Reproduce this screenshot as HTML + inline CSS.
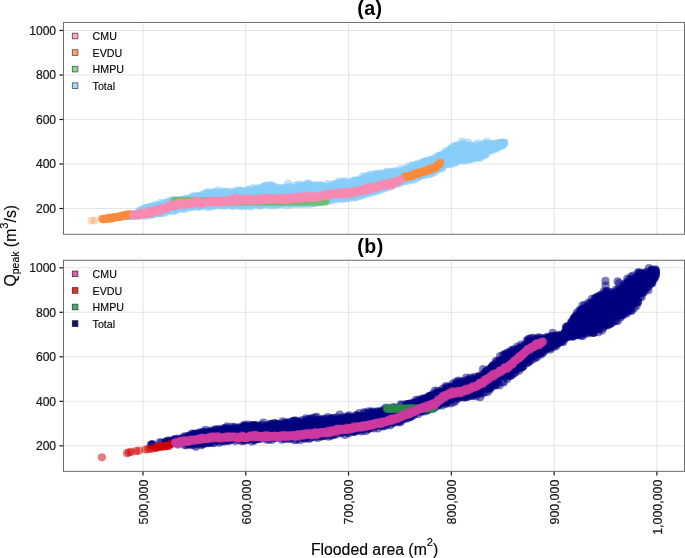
<!DOCTYPE html><html><head><meta charset="utf-8"><style>html,body{margin:0;padding:0;background:#fff}svg{display:block}#pa circle{r:3.95px}#pb circle{r:4.1px}</style></head><body><svg width="685" height="558" viewBox="0 0 685 558" style="will-change:transform" font-family="'Liberation Sans', sans-serif">
<rect width="685" height="558" fill="#fff"/>
<defs><clipPath id="ca"><rect x="63.5" y="22.45" width="621.0" height="211.85000000000002"/></clipPath><clipPath id="cb"><rect x="63.5" y="260.25" width="621.0" height="211.10000000000002"/></clipPath></defs>
<g stroke="#E5E5E5" stroke-width="1.1"><line x1="63.5" x2="684.5" y1="208.50" y2="208.50"/><line x1="63.5" x2="684.5" y1="164.00" y2="164.00"/><line x1="63.5" x2="684.5" y1="119.50" y2="119.50"/><line x1="63.5" x2="684.5" y1="75.00" y2="75.00"/><line x1="63.5" x2="684.5" y1="30.50" y2="30.50"/><line y1="22.45" y2="234.3" x1="143.00" x2="143.00"/><line y1="22.45" y2="234.3" x1="245.78" x2="245.78"/><line y1="22.45" y2="234.3" x1="348.56" x2="348.56"/><line y1="22.45" y2="234.3" x1="451.34" x2="451.34"/><line y1="22.45" y2="234.3" x1="554.12" x2="554.12"/><line y1="22.45" y2="234.3" x1="656.90" x2="656.90"/></g>
<g id="pa" clip-path="url(#ca)"><polygon fill="#87CEFA" points="145.0,206.3 148.0,205.5 151.0,204.6 154.0,203.9 157.0,203.2 160.0,202.6 163.0,202.0 166.0,201.1 169.0,200.2 172.0,199.4 175.0,198.9 178.0,198.5 181.0,198.0 184.0,197.6 187.0,197.2 190.0,196.6 193.0,195.7 196.0,194.9 199.0,194.1 202.0,193.3 205.0,192.5 208.0,191.8 211.0,191.3 214.0,190.8 217.0,190.7 220.0,190.7 223.0,190.7 226.0,190.9 229.0,191.2 232.0,190.9 235.0,190.3 238.0,189.7 241.0,189.3 244.0,189.1 247.0,188.9 250.0,188.6 253.0,188.4 256.0,188.1 259.0,187.3 262.0,186.5 265.0,185.7 268.0,185.6 271.0,185.4 274.0,185.3 277.0,185.2 280.0,186.3 283.0,187.2 286.0,186.9 289.0,186.5 292.0,186.2 295.0,185.9 298.0,185.6 301.0,185.2 304.0,184.6 307.0,184.0 310.0,183.8 313.0,184.1 316.0,184.5 319.0,184.6 322.0,184.5 325.0,184.5 328.0,184.1 331.0,183.5 334.0,182.9 337.0,181.7 340.0,180.3 343.0,180.6 346.0,181.3 349.0,181.9 352.0,180.9 355.0,179.9 358.0,178.9 361.0,177.8 364.0,176.6 367.0,175.6 370.0,175.0 373.0,174.3 376.0,173.7 379.0,173.0 382.0,172.4 385.0,171.8 388.0,171.4 391.0,171.0 394.0,170.5 397.0,169.9 400.0,169.2 403.0,168.2 406.0,167.1 409.0,165.9 412.0,164.7 415.0,163.6 418.0,162.4 421.0,161.5 424.0,160.6 427.0,159.6 430.0,158.5 433.0,157.3 436.0,156.1 439.0,154.7 442.0,153.2 445.0,151.8 448.0,149.8 451.0,147.9 454.0,146.1 457.0,144.4 460.0,142.8 463.0,142.0 466.0,143.2 469.0,144.3 472.0,144.6 475.0,144.4 478.0,143.6 481.0,142.7 484.0,141.4 487.0,141.5 490.0,142.1 493.0,142.0 496.0,141.4 496.0,149.7 493.0,151.1 490.0,152.3 487.0,153.7 484.0,155.5 481.0,157.5 478.0,158.1 475.0,158.7 472.0,159.2 469.0,159.7 466.0,159.9 463.0,159.7 460.0,159.9 457.0,160.9 454.0,162.2 451.0,163.4 448.0,164.7 445.0,165.9 442.0,167.7 439.0,169.5 436.0,171.3 433.0,172.5 430.0,173.7 427.0,174.8 424.0,175.7 421.0,176.6 418.0,177.5 415.0,178.4 412.0,179.4 409.0,180.3 406.0,181.2 403.0,182.2 400.0,183.2 397.0,184.3 394.0,185.4 391.0,186.4 388.0,187.2 385.0,188.1 382.0,188.9 379.0,189.8 376.0,190.6 373.0,191.5 370.0,192.3 367.0,193.2 364.0,194.1 361.0,195.1 358.0,196.0 355.0,196.7 352.0,197.4 349.0,198.0 346.0,198.2 343.0,198.3 340.0,198.6 337.0,199.2 334.0,199.9 331.0,200.5 328.0,201.0 325.0,201.4 322.0,201.8 319.0,202.1 316.0,202.3 313.0,202.4 310.0,202.5 307.0,202.6 304.0,202.9 301.0,203.1 298.0,203.3 295.0,203.5 292.0,203.6 289.0,203.8 286.0,204.0 283.0,204.2 280.0,204.1 277.0,204.1 274.0,204.2 271.0,204.3 268.0,204.5 265.0,204.6 262.0,204.8 259.0,205.1 256.0,205.3 253.0,205.4 250.0,205.5 247.0,205.6 244.0,205.6 241.0,205.5 238.0,205.5 235.0,205.5 232.0,205.5 229.0,205.7 226.0,206.1 223.0,206.4 220.0,206.1 217.0,205.9 214.0,205.8 211.0,205.9 208.0,206.0 205.0,206.2 202.0,206.6 199.0,207.0 196.0,207.3 193.0,207.7 190.0,208.1 187.0,208.6 184.0,209.1 181.0,209.7 178.0,210.1 175.0,210.5 172.0,210.8 169.0,211.6 166.0,212.5 163.0,213.4 160.0,214.0 157.0,214.6 154.0,215.2 151.0,215.6 148.0,216.0 145.0,216.3"/>
<g fill="#87CEFA" fill-opacity="0.5"><circle cx="294.9" cy="199.9" r="3.95"/><circle cx="316.1" cy="190.6" r="3.95"/><circle cx="192.6" cy="198.3" r="3.95"/><circle cx="158.0" cy="205.3" r="3.95"/><circle cx="156.7" cy="208.7" r="3.95"/><circle cx="497.5" cy="144.6" r="3.95"/><circle cx="372.0" cy="183.6" r="3.95"/><circle cx="324.0" cy="193.7" r="3.95"/><circle cx="194.7" cy="204.7" r="3.95"/><circle cx="290.4" cy="196.1" r="3.95"/><circle cx="320.5" cy="185.6" r="3.95"/><circle cx="296.8" cy="194.6" r="3.95"/><circle cx="503.4" cy="143.5" r="3.95"/><circle cx="242.5" cy="191.1" r="3.95"/><circle cx="232.5" cy="198.6" r="3.95"/><circle cx="445.6" cy="153.9" r="3.95"/><circle cx="488.3" cy="149.4" r="3.95"/><circle cx="470.0" cy="152.0" r="3.95"/><circle cx="496.8" cy="147.1" r="3.95"/><circle cx="419.6" cy="172.1" r="3.95"/><circle cx="167.1" cy="205.5" r="3.95"/><circle cx="160.6" cy="208.7" r="3.95"/><circle cx="335.8" cy="187.8" r="3.95"/><circle cx="194.9" cy="204.3" r="3.95"/><circle cx="166.5" cy="209.4" r="3.95"/><circle cx="238.3" cy="196.1" r="3.95"/><circle cx="202.6" cy="202.9" r="3.95"/><circle cx="160.4" cy="205.3" r="3.95"/><circle cx="203.5" cy="200.1" r="3.95"/><circle cx="235.3" cy="194.0" r="3.95"/><circle cx="156.5" cy="209.2" r="3.95"/><circle cx="264.1" cy="203.2" r="3.95"/><circle cx="191.9" cy="199.4" r="3.95"/><circle cx="469.3" cy="152.0" r="3.95"/><circle cx="404.7" cy="177.1" r="3.95"/><circle cx="197.2" cy="204.1" r="3.95"/><circle cx="283.1" cy="191.1" r="3.95"/><circle cx="213.1" cy="198.1" r="3.95"/><circle cx="189.1" cy="204.2" r="3.95"/><circle cx="335.8" cy="192.5" r="3.95"/><circle cx="356.8" cy="190.8" r="3.95"/><circle cx="128.3" cy="215.6" r="3.95"/><circle cx="292.4" cy="197.1" r="3.95"/><circle cx="340.7" cy="194.1" r="3.95"/><circle cx="260.4" cy="203.9" r="3.95"/><circle cx="386.3" cy="178.9" r="3.95"/><circle cx="390.0" cy="180.0" r="3.95"/><circle cx="306.4" cy="184.2" r="3.95"/><circle cx="403.8" cy="174.5" r="3.95"/><circle cx="425.3" cy="161.1" r="3.95"/><circle cx="281.5" cy="189.4" r="3.95"/><circle cx="452.1" cy="151.4" r="3.95"/><circle cx="344.8" cy="186.1" r="3.95"/><circle cx="400.4" cy="175.7" r="3.95"/><circle cx="154.0" cy="211.3" r="3.95"/><circle cx="305.9" cy="191.4" r="3.95"/><circle cx="356.9" cy="182.2" r="3.95"/><circle cx="219.8" cy="196.3" r="3.95"/><circle cx="199.4" cy="205.2" r="3.95"/><circle cx="247.0" cy="201.0" r="3.95"/><circle cx="197.9" cy="203.2" r="3.95"/><circle cx="344.9" cy="193.6" r="3.95"/><circle cx="442.0" cy="164.5" r="3.95"/><circle cx="393.9" cy="177.6" r="3.95"/><circle cx="294.3" cy="197.9" r="3.95"/><circle cx="203.8" cy="196.6" r="3.95"/><circle cx="242.6" cy="193.4" r="3.95"/><circle cx="497.4" cy="145.3" r="3.95"/><circle cx="455.7" cy="153.9" r="3.95"/><circle cx="392.9" cy="175.6" r="3.95"/><circle cx="295.9" cy="196.5" r="3.95"/><circle cx="175.9" cy="202.8" r="3.95"/><circle cx="362.5" cy="180.7" r="3.95"/><circle cx="430.7" cy="161.3" r="3.95"/><circle cx="383.7" cy="177.2" r="3.95"/><circle cx="395.0" cy="178.1" r="3.95"/><circle cx="226.1" cy="196.8" r="3.95"/><circle cx="356.9" cy="182.0" r="3.95"/><circle cx="272.4" cy="196.9" r="3.95"/><circle cx="478.5" cy="149.6" r="3.95"/><circle cx="171.7" cy="201.1" r="3.95"/><circle cx="266.1" cy="185.9" r="3.95"/><circle cx="458.2" cy="158.0" r="3.95"/><circle cx="371.0" cy="181.4" r="3.95"/><circle cx="398.0" cy="172.9" r="3.95"/><circle cx="203.5" cy="195.2" r="3.95"/><circle cx="244.5" cy="195.4" r="3.95"/><circle cx="449.2" cy="161.3" r="3.95"/><circle cx="332.4" cy="194.4" r="3.95"/><circle cx="308.4" cy="193.9" r="3.95"/><circle cx="427.8" cy="165.5" r="3.95"/><circle cx="250.1" cy="198.9" r="3.95"/><circle cx="319.5" cy="195.6" r="3.95"/><circle cx="443.1" cy="164.8" r="3.95"/><circle cx="484.9" cy="146.4" r="3.95"/><circle cx="206.6" cy="197.5" r="3.95"/><circle cx="366.2" cy="192.9" r="3.95"/><circle cx="444.5" cy="157.4" r="3.95"/><circle cx="445.1" cy="162.8" r="3.95"/><circle cx="201.6" cy="204.1" r="3.95"/><circle cx="341.1" cy="188.0" r="3.95"/><circle cx="326.9" cy="191.8" r="3.95"/><circle cx="492.6" cy="146.4" r="3.95"/><circle cx="275.1" cy="188.4" r="3.95"/><circle cx="386.2" cy="177.6" r="3.95"/><circle cx="224.9" cy="195.9" r="3.95"/><circle cx="170.5" cy="207.7" r="3.95"/><circle cx="195.2" cy="202.7" r="3.95"/><circle cx="419.9" cy="168.3" r="3.95"/><circle cx="196.2" cy="200.0" r="3.95"/><circle cx="257.8" cy="192.1" r="3.95"/><circle cx="162.1" cy="210.2" r="3.95"/><circle cx="217.8" cy="201.9" r="3.95"/><circle cx="324.8" cy="189.3" r="3.95"/><circle cx="324.4" cy="196.7" r="3.95"/><circle cx="200.1" cy="197.7" r="3.95"/><circle cx="447.4" cy="153.1" r="3.95"/><circle cx="449.5" cy="155.9" r="3.95"/><circle cx="242.4" cy="200.8" r="3.95"/><circle cx="213.5" cy="198.2" r="3.95"/><circle cx="440.1" cy="163.6" r="3.95"/><circle cx="424.0" cy="162.8" r="3.95"/><circle cx="128.8" cy="215.9" r="3.95"/><circle cx="382.9" cy="182.8" r="3.95"/><circle cx="315.3" cy="192.8" r="3.95"/><circle cx="314.2" cy="194.1" r="3.95"/><circle cx="162.6" cy="208.7" r="3.95"/><circle cx="332.9" cy="189.0" r="3.95"/><circle cx="192.5" cy="201.1" r="3.95"/><circle cx="443.2" cy="161.6" r="3.95"/><circle cx="145.7" cy="210.7" r="3.95"/><circle cx="298.6" cy="191.6" r="3.95"/><circle cx="319.0" cy="198.6" r="3.95"/><circle cx="351.7" cy="186.4" r="3.95"/><circle cx="404.6" cy="175.4" r="3.95"/><circle cx="318.0" cy="196.4" r="3.95"/><circle cx="463.5" cy="147.5" r="3.95"/><circle cx="220.7" cy="197.6" r="3.95"/><circle cx="406.6" cy="175.5" r="3.95"/><circle cx="464.7" cy="145.7" r="3.95"/><circle cx="387.6" cy="179.9" r="3.95"/><circle cx="398.3" cy="172.8" r="3.95"/><circle cx="252.6" cy="201.6" r="3.95"/><circle cx="366.2" cy="184.9" r="3.95"/><circle cx="210.7" cy="196.8" r="3.95"/><circle cx="374.2" cy="178.6" r="3.95"/><circle cx="325.8" cy="200.0" r="3.95"/><circle cx="390.1" cy="178.9" r="3.95"/><circle cx="496.7" cy="143.5" r="3.95"/><circle cx="220.1" cy="193.7" r="3.95"/><circle cx="141.3" cy="212.0" r="3.95"/><circle cx="217.9" cy="199.7" r="3.95"/><circle cx="332.3" cy="198.2" r="3.95"/><circle cx="502.4" cy="143.2" r="3.95"/><circle cx="431.5" cy="159.6" r="3.95"/><circle cx="183.1" cy="200.9" r="3.95"/><circle cx="186.7" cy="202.2" r="3.95"/><circle cx="483.4" cy="147.8" r="3.95"/><circle cx="323.4" cy="190.3" r="3.95"/><circle cx="372.4" cy="186.2" r="3.95"/><circle cx="230.4" cy="198.2" r="3.95"/><circle cx="215.7" cy="198.9" r="3.95"/><circle cx="408.1" cy="178.7" r="3.95"/><circle cx="286.2" cy="200.4" r="3.95"/><circle cx="398.3" cy="175.4" r="3.95"/><circle cx="496.2" cy="144.9" r="3.95"/><circle cx="360.6" cy="185.0" r="3.95"/><circle cx="199.9" cy="198.7" r="3.95"/><circle cx="291.3" cy="194.5" r="3.95"/><circle cx="296.2" cy="189.8" r="3.95"/><circle cx="419.4" cy="167.3" r="3.95"/><circle cx="503.4" cy="143.2" r="3.95"/><circle cx="165.5" cy="205.0" r="3.95"/><circle cx="421.8" cy="166.6" r="3.95"/><circle cx="383.9" cy="183.1" r="3.95"/><circle cx="348.2" cy="190.0" r="3.95"/><circle cx="217.2" cy="195.5" r="3.95"/><circle cx="472.1" cy="153.5" r="3.95"/><circle cx="225.6" cy="198.9" r="3.95"/><circle cx="360.3" cy="184.7" r="3.95"/><circle cx="155.0" cy="209.0" r="3.95"/><circle cx="332.5" cy="187.7" r="3.95"/><circle cx="202.5" cy="202.7" r="3.95"/><circle cx="406.7" cy="175.6" r="3.95"/><circle cx="431.4" cy="166.5" r="3.95"/><circle cx="415.9" cy="167.9" r="3.95"/><circle cx="431.6" cy="167.0" r="3.95"/><circle cx="371.9" cy="180.2" r="3.95"/><circle cx="407.2" cy="178.1" r="3.95"/><circle cx="152.0" cy="212.8" r="3.95"/><circle cx="337.7" cy="188.5" r="3.95"/><circle cx="418.5" cy="166.5" r="3.95"/><circle cx="203.5" cy="202.3" r="3.95"/><circle cx="399.2" cy="178.0" r="3.95"/><circle cx="230.2" cy="194.5" r="3.95"/><circle cx="262.1" cy="202.7" r="3.95"/><circle cx="471.2" cy="146.4" r="3.95"/><circle cx="429.0" cy="164.7" r="3.95"/><circle cx="479.3" cy="154.8" r="3.95"/><circle cx="216.9" cy="195.6" r="3.95"/><circle cx="273.2" cy="199.0" r="3.95"/><circle cx="196.5" cy="202.1" r="3.95"/><circle cx="441.7" cy="155.1" r="3.95"/><circle cx="189.5" cy="204.0" r="3.95"/><circle cx="330.0" cy="189.4" r="3.95"/><circle cx="491.5" cy="147.3" r="3.95"/><circle cx="331.0" cy="190.3" r="3.95"/><circle cx="154.1" cy="209.0" r="3.95"/><circle cx="177.0" cy="203.2" r="3.95"/><circle cx="206.3" cy="196.8" r="3.95"/><circle cx="321.4" cy="189.5" r="3.95"/><circle cx="492.2" cy="147.9" r="3.95"/><circle cx="310.7" cy="191.5" r="3.95"/><circle cx="437.9" cy="167.3" r="3.95"/><circle cx="428.7" cy="165.6" r="3.95"/><circle cx="282.7" cy="194.9" r="3.95"/><circle cx="200.1" cy="198.0" r="3.95"/><circle cx="165.9" cy="207.1" r="3.95"/><circle cx="145.8" cy="209.8" r="3.95"/><circle cx="345.3" cy="192.1" r="3.95"/><circle cx="192.5" cy="202.1" r="3.95"/><circle cx="212.0" cy="196.1" r="3.95"/><circle cx="192.7" cy="200.6" r="3.95"/><circle cx="188.0" cy="201.4" r="3.95"/><circle cx="434.4" cy="169.3" r="3.95"/><circle cx="221.6" cy="202.0" r="3.95"/><circle cx="331.3" cy="189.6" r="3.95"/><circle cx="428.4" cy="169.9" r="3.95"/><circle cx="323.7" cy="190.7" r="3.95"/><circle cx="264.0" cy="193.5" r="3.95"/><circle cx="182.1" cy="200.0" r="3.95"/><circle cx="245.0" cy="201.3" r="3.95"/><circle cx="365.5" cy="180.1" r="3.95"/><circle cx="223.9" cy="203.1" r="3.95"/><circle cx="153.5" cy="209.4" r="3.95"/><circle cx="305.5" cy="191.0" r="3.95"/><circle cx="487.3" cy="149.4" r="3.95"/><circle cx="423.8" cy="165.4" r="3.95"/><circle cx="472.5" cy="153.4" r="3.95"/><circle cx="329.7" cy="189.2" r="3.95"/><circle cx="182.2" cy="202.8" r="3.95"/><circle cx="151.1" cy="212.0" r="3.95"/><circle cx="300.6" cy="189.0" r="3.95"/><circle cx="162.4" cy="210.9" r="3.95"/><circle cx="298.5" cy="198.2" r="3.95"/><circle cx="126.7" cy="215.6" r="3.95"/><circle cx="393.4" cy="173.9" r="3.95"/><circle cx="427.6" cy="165.2" r="3.95"/><circle cx="357.5" cy="183.1" r="3.95"/><circle cx="236.0" cy="201.6" r="3.95"/><circle cx="271.9" cy="194.7" r="3.95"/><circle cx="401.6" cy="178.2" r="3.95"/><circle cx="483.3" cy="148.2" r="3.95"/><circle cx="438.1" cy="158.9" r="3.95"/><circle cx="175.8" cy="202.7" r="3.95"/><circle cx="190.8" cy="198.3" r="3.95"/><circle cx="442.0" cy="163.2" r="3.95"/><circle cx="182.1" cy="204.8" r="3.95"/><circle cx="277.5" cy="200.1" r="3.95"/><circle cx="317.6" cy="190.8" r="3.95"/><circle cx="415.2" cy="168.2" r="3.95"/><circle cx="279.6" cy="198.3" r="3.95"/><circle cx="374.4" cy="181.5" r="3.95"/><circle cx="129.1" cy="215.3" r="3.95"/><circle cx="162.6" cy="211.0" r="3.95"/><circle cx="316.7" cy="196.8" r="3.95"/><circle cx="182.5" cy="200.3" r="3.95"/><circle cx="467.2" cy="147.9" r="3.95"/><circle cx="176.2" cy="207.1" r="3.95"/><circle cx="499.2" cy="143.8" r="3.95"/><circle cx="361.7" cy="189.5" r="3.95"/><circle cx="342.4" cy="191.5" r="3.95"/><circle cx="247.8" cy="193.7" r="3.95"/><circle cx="169.4" cy="208.0" r="3.95"/><circle cx="173.8" cy="201.6" r="3.95"/><circle cx="336.2" cy="189.0" r="3.95"/><circle cx="469.6" cy="154.8" r="3.95"/><circle cx="168.9" cy="202.7" r="3.95"/><circle cx="232.3" cy="198.5" r="3.95"/><circle cx="439.6" cy="167.1" r="3.95"/><circle cx="331.4" cy="195.0" r="3.95"/><circle cx="499.3" cy="144.4" r="3.95"/><circle cx="373.7" cy="178.8" r="3.95"/><circle cx="267.9" cy="186.6" r="3.95"/><circle cx="429.3" cy="167.9" r="3.95"/><circle cx="176.7" cy="207.4" r="3.95"/><circle cx="339.7" cy="185.2" r="3.95"/><circle cx="339.2" cy="189.2" r="3.95"/><circle cx="367.3" cy="182.9" r="3.95"/><circle cx="488.8" cy="145.9" r="3.95"/><circle cx="301.6" cy="188.1" r="3.95"/><circle cx="411.8" cy="167.8" r="3.95"/><circle cx="307.7" cy="199.2" r="3.95"/><circle cx="338.4" cy="183.5" r="3.95"/><circle cx="287.2" cy="194.3" r="3.95"/><circle cx="244.6" cy="195.7" r="3.95"/><circle cx="409.4" cy="171.7" r="3.95"/><circle cx="169.6" cy="205.2" r="3.95"/><circle cx="314.2" cy="201.4" r="3.95"/><circle cx="323.2" cy="195.6" r="3.95"/><circle cx="239.1" cy="197.6" r="3.95"/><circle cx="470.4" cy="153.8" r="3.95"/><circle cx="376.5" cy="174.0" r="3.95"/><circle cx="206.8" cy="202.2" r="3.95"/><circle cx="338.7" cy="197.8" r="3.95"/><circle cx="169.3" cy="208.5" r="3.95"/><circle cx="485.6" cy="148.0" r="3.95"/><circle cx="246.2" cy="201.4" r="3.95"/><circle cx="464.2" cy="146.6" r="3.95"/><circle cx="345.8" cy="192.6" r="3.95"/><circle cx="302.7" cy="187.8" r="3.95"/><circle cx="234.9" cy="200.2" r="3.95"/><circle cx="442.3" cy="158.4" r="3.95"/><circle cx="195.2" cy="202.6" r="3.95"/><circle cx="399.5" cy="176.9" r="3.95"/><circle cx="466.2" cy="150.9" r="3.95"/><circle cx="388.1" cy="177.0" r="3.95"/><circle cx="292.2" cy="195.7" r="3.95"/><circle cx="393.6" cy="181.6" r="3.95"/><circle cx="191.2" cy="199.6" r="3.95"/><circle cx="264.4" cy="186.4" r="3.95"/><circle cx="460.1" cy="152.0" r="3.95"/><circle cx="476.3" cy="155.1" r="3.95"/><circle cx="290.3" cy="203.0" r="3.95"/><circle cx="324.9" cy="189.6" r="3.95"/><circle cx="217.9" cy="196.3" r="3.95"/><circle cx="155.3" cy="209.3" r="3.95"/><circle cx="228.7" cy="195.4" r="3.95"/><circle cx="193.2" cy="202.4" r="3.95"/><circle cx="298.5" cy="194.3" r="3.95"/><circle cx="269.1" cy="191.3" r="3.95"/><circle cx="334.6" cy="191.3" r="3.95"/><circle cx="259.5" cy="197.4" r="3.95"/><circle cx="315.3" cy="186.9" r="3.95"/><circle cx="383.6" cy="183.1" r="3.95"/><circle cx="420.1" cy="168.5" r="3.95"/><circle cx="354.5" cy="180.5" r="3.95"/><circle cx="422.7" cy="171.2" r="3.95"/><circle cx="212.2" cy="199.4" r="3.95"/><circle cx="312.8" cy="200.5" r="3.95"/><circle cx="190.8" cy="199.7" r="3.95"/><circle cx="288.2" cy="194.5" r="3.95"/><circle cx="339.5" cy="190.7" r="3.95"/><circle cx="177.9" cy="202.4" r="3.95"/><circle cx="138.2" cy="212.3" r="3.95"/><circle cx="223.2" cy="194.8" r="3.95"/><circle cx="155.8" cy="210.1" r="3.95"/><circle cx="183.1" cy="205.4" r="3.95"/><circle cx="439.7" cy="165.6" r="3.95"/><circle cx="261.3" cy="197.9" r="3.95"/><circle cx="499.0" cy="144.5" r="3.95"/><circle cx="296.1" cy="198.4" r="3.95"/><circle cx="462.3" cy="152.0" r="3.95"/><circle cx="272.2" cy="192.8" r="3.95"/><circle cx="413.8" cy="172.2" r="3.95"/><circle cx="209.9" cy="195.9" r="3.95"/><circle cx="298.5" cy="193.1" r="3.95"/><circle cx="261.2" cy="203.4" r="3.95"/><circle cx="137.2" cy="213.6" r="3.95"/><circle cx="370.4" cy="179.1" r="3.95"/><circle cx="452.5" cy="161.7" r="3.95"/><circle cx="267.7" cy="202.1" r="3.95"/><circle cx="204.3" cy="201.3" r="3.95"/><circle cx="184.6" cy="206.4" r="3.95"/><circle cx="204.0" cy="198.1" r="3.95"/><circle cx="501.7" cy="144.4" r="3.95"/><circle cx="451.8" cy="153.7" r="3.95"/><circle cx="386.3" cy="180.9" r="3.95"/><circle cx="226.9" cy="199.9" r="3.95"/><circle cx="272.2" cy="199.0" r="3.95"/><circle cx="395.4" cy="176.0" r="3.95"/><circle cx="480.1" cy="152.4" r="3.95"/><circle cx="414.7" cy="171.8" r="3.95"/><circle cx="245.1" cy="196.8" r="3.95"/><circle cx="153.8" cy="207.5" r="3.95"/><circle cx="320.5" cy="201.2" r="3.95"/><circle cx="272.6" cy="198.1" r="3.95"/><circle cx="349.6" cy="190.5" r="3.95"/><circle cx="241.4" cy="195.0" r="3.95"/><circle cx="392.1" cy="177.9" r="3.95"/><circle cx="399.4" cy="177.9" r="3.95"/><circle cx="229.2" cy="200.6" r="3.95"/><circle cx="276.9" cy="197.4" r="3.95"/><circle cx="233.7" cy="195.8" r="3.95"/><circle cx="204.5" cy="204.5" r="3.95"/><circle cx="338.4" cy="191.2" r="3.95"/><circle cx="495.0" cy="144.1" r="3.95"/><circle cx="376.8" cy="184.4" r="3.95"/><circle cx="363.8" cy="182.6" r="3.95"/><circle cx="285.5" cy="200.1" r="3.95"/><circle cx="247.5" cy="199.0" r="3.95"/><circle cx="229.0" cy="194.7" r="3.95"/><circle cx="185.7" cy="204.8" r="3.95"/><circle cx="213.7" cy="196.0" r="3.95"/><circle cx="179.6" cy="206.5" r="3.95"/><circle cx="390.1" cy="178.6" r="3.95"/><circle cx="271.6" cy="193.7" r="3.95"/><circle cx="146.1" cy="213.4" r="3.95"/><circle cx="346.0" cy="191.7" r="3.95"/><circle cx="246.5" cy="201.8" r="3.95"/><circle cx="462.9" cy="151.7" r="3.95"/><circle cx="222.1" cy="200.5" r="3.95"/><circle cx="357.2" cy="193.0" r="3.95"/><circle cx="260.6" cy="204.8" r="3.95"/><circle cx="361.8" cy="183.0" r="3.95"/><circle cx="279.1" cy="193.3" r="3.95"/><circle cx="469.7" cy="155.9" r="3.95"/><circle cx="240.0" cy="201.6" r="3.95"/><circle cx="495.5" cy="146.1" r="3.95"/><circle cx="382.0" cy="183.9" r="3.95"/><circle cx="272.6" cy="186.3" r="3.95"/><circle cx="331.6" cy="192.2" r="3.95"/><circle cx="336.4" cy="195.3" r="3.95"/><circle cx="254.5" cy="195.9" r="3.95"/><circle cx="241.8" cy="195.0" r="3.95"/><circle cx="183.0" cy="200.0" r="3.95"/><circle cx="263.3" cy="195.9" r="3.95"/><circle cx="408.3" cy="173.6" r="3.95"/><circle cx="246.2" cy="201.0" r="3.95"/><circle cx="318.4" cy="195.2" r="3.95"/><circle cx="161.1" cy="208.5" r="3.95"/><circle cx="165.1" cy="207.5" r="3.95"/><circle cx="184.2" cy="200.3" r="3.95"/><circle cx="454.5" cy="153.7" r="3.95"/><circle cx="426.5" cy="172.5" r="3.95"/><circle cx="395.7" cy="176.7" r="3.95"/><circle cx="249.6" cy="192.8" r="3.95"/><circle cx="444.2" cy="155.0" r="3.95"/><circle cx="392.3" cy="176.6" r="3.95"/><circle cx="439.7" cy="164.5" r="3.95"/><circle cx="377.9" cy="185.1" r="3.95"/><circle cx="493.0" cy="144.2" r="3.95"/><circle cx="384.9" cy="176.8" r="3.95"/><circle cx="478.8" cy="147.2" r="3.95"/><circle cx="140.6" cy="213.1" r="3.95"/><circle cx="231.4" cy="199.1" r="3.95"/><circle cx="501.9" cy="143.4" r="3.95"/><circle cx="329.4" cy="193.3" r="3.95"/><circle cx="264.8" cy="198.7" r="3.95"/><circle cx="358.2" cy="192.4" r="3.95"/><circle cx="387.3" cy="178.9" r="3.95"/><circle cx="427.9" cy="167.9" r="3.95"/><circle cx="478.9" cy="152.6" r="3.95"/><circle cx="308.7" cy="192.6" r="3.95"/><circle cx="338.4" cy="191.0" r="3.95"/><circle cx="361.0" cy="187.2" r="3.95"/><circle cx="261.9" cy="202.1" r="3.95"/><circle cx="141.6" cy="213.6" r="3.95"/><circle cx="152.0" cy="208.6" r="3.95"/><circle cx="306.8" cy="196.8" r="3.95"/><circle cx="430.5" cy="170.9" r="3.95"/><circle cx="373.1" cy="185.2" r="3.95"/><circle cx="399.2" cy="178.7" r="3.95"/><circle cx="167.4" cy="206.6" r="3.95"/><circle cx="259.2" cy="193.8" r="3.95"/><circle cx="126.0" cy="216.1" r="3.95"/><circle cx="424.9" cy="166.5" r="3.95"/><circle cx="274.6" cy="199.4" r="3.95"/><circle cx="485.3" cy="147.1" r="3.95"/><circle cx="469.8" cy="148.4" r="3.95"/><circle cx="342.5" cy="185.5" r="3.95"/><circle cx="373.2" cy="186.0" r="3.95"/><circle cx="261.4" cy="193.0" r="3.95"/><circle cx="468.0" cy="155.3" r="3.95"/><circle cx="158.0" cy="208.6" r="3.95"/><circle cx="406.1" cy="171.5" r="3.95"/><circle cx="382.0" cy="182.8" r="3.95"/><circle cx="255.9" cy="198.4" r="3.95"/><circle cx="200.3" cy="198.4" r="3.95"/><circle cx="206.0" cy="198.5" r="3.95"/><circle cx="226.5" cy="196.0" r="3.95"/><circle cx="484.3" cy="150.0" r="3.95"/><circle cx="500.3" cy="144.9" r="3.95"/><circle cx="364.7" cy="182.9" r="3.95"/><circle cx="357.6" cy="184.9" r="3.95"/><circle cx="449.4" cy="150.1" r="3.95"/><circle cx="165.6" cy="206.8" r="3.95"/><circle cx="385.7" cy="177.3" r="3.95"/><circle cx="269.0" cy="189.7" r="3.95"/><circle cx="351.6" cy="188.0" r="3.95"/><circle cx="361.8" cy="186.0" r="3.95"/><circle cx="348.8" cy="192.4" r="3.95"/><circle cx="301.2" cy="192.8" r="3.95"/><circle cx="404.1" cy="173.9" r="3.95"/><circle cx="170.4" cy="203.5" r="3.95"/><circle cx="443.2" cy="159.9" r="3.95"/><circle cx="480.5" cy="151.9" r="3.95"/><circle cx="501.9" cy="142.4" r="3.95"/><circle cx="454.6" cy="153.8" r="3.95"/><circle cx="452.9" cy="153.3" r="3.95"/><circle cx="150.1" cy="213.6" r="3.95"/><circle cx="422.9" cy="168.9" r="3.95"/><circle cx="332.0" cy="192.7" r="3.95"/><circle cx="261.9" cy="192.6" r="3.95"/><circle cx="136.1" cy="215.6" r="3.95"/><circle cx="166.9" cy="202.8" r="3.95"/><circle cx="270.6" cy="185.5" r="3.95"/><circle cx="149.5" cy="207.0" r="3.95"/><circle cx="201.0" cy="204.0" r="3.95"/><circle cx="197.3" cy="197.3" r="3.95"/><circle cx="286.7" cy="193.0" r="3.95"/><circle cx="362.7" cy="189.7" r="3.95"/><circle cx="352.6" cy="190.1" r="3.95"/><circle cx="387.2" cy="181.7" r="3.95"/><circle cx="171.4" cy="208.6" r="3.95"/><circle cx="258.7" cy="193.6" r="3.95"/><circle cx="502.3" cy="143.4" r="3.95"/><circle cx="240.6" cy="193.0" r="3.95"/><circle cx="278.4" cy="199.7" r="3.95"/><circle cx="315.6" cy="188.5" r="3.95"/><circle cx="211.9" cy="203.7" r="3.95"/><circle cx="230.9" cy="196.5" r="3.95"/><circle cx="478.9" cy="150.3" r="3.95"/><circle cx="293.4" cy="187.7" r="3.95"/><circle cx="234.0" cy="201.8" r="3.95"/><circle cx="378.9" cy="179.2" r="3.95"/><circle cx="464.3" cy="152.9" r="3.95"/><circle cx="282.8" cy="199.9" r="3.95"/><circle cx="160.0" cy="210.4" r="3.95"/><circle cx="265.2" cy="198.1" r="3.95"/><circle cx="301.4" cy="186.2" r="3.95"/><circle cx="299.7" cy="190.8" r="3.95"/><circle cx="493.0" cy="144.2" r="3.95"/><circle cx="501.5" cy="144.2" r="3.95"/><circle cx="390.0" cy="173.3" r="3.95"/><circle cx="147.4" cy="208.2" r="3.95"/><circle cx="205.4" cy="202.4" r="3.95"/><circle cx="202.1" cy="202.1" r="3.95"/><circle cx="405.6" cy="177.3" r="3.95"/><circle cx="185.8" cy="199.9" r="3.95"/><circle cx="218.9" cy="193.4" r="3.95"/><circle cx="401.4" cy="178.8" r="3.95"/><circle cx="483.1" cy="152.4" r="3.95"/><circle cx="131.2" cy="214.7" r="3.95"/><circle cx="164.5" cy="206.5" r="3.95"/><circle cx="237.3" cy="201.8" r="3.95"/><circle cx="171.6" cy="207.6" r="3.95"/><circle cx="317.8" cy="194.1" r="3.95"/><circle cx="280.2" cy="191.2" r="3.95"/><circle cx="205.2" cy="195.5" r="3.95"/><circle cx="447.2" cy="155.8" r="3.95"/><circle cx="447.0" cy="163.4" r="3.95"/><circle cx="277.4" cy="193.3" r="3.95"/><circle cx="452.2" cy="154.4" r="3.95"/><circle cx="180.8" cy="204.1" r="3.95"/><circle cx="402.8" cy="177.8" r="3.95"/><circle cx="132.9" cy="216.0" r="3.95"/><circle cx="237.0" cy="192.3" r="3.95"/><circle cx="139.6" cy="210.8" r="3.95"/><circle cx="247.7" cy="204.4" r="3.95"/><circle cx="372.0" cy="189.4" r="3.95"/><circle cx="313.5" cy="190.9" r="3.95"/><circle cx="272.8" cy="194.5" r="3.95"/><circle cx="262.6" cy="191.2" r="3.95"/><circle cx="304.3" cy="188.1" r="3.95"/><circle cx="140.9" cy="213.4" r="3.95"/><circle cx="145.6" cy="209.1" r="3.95"/><circle cx="207.1" cy="197.9" r="3.95"/><circle cx="264.2" cy="191.1" r="3.95"/><circle cx="408.5" cy="173.6" r="3.95"/><circle cx="125.4" cy="216.0" r="3.95"/><circle cx="348.8" cy="189.9" r="3.95"/><circle cx="261.8" cy="192.5" r="3.95"/><circle cx="354.9" cy="191.4" r="3.95"/><circle cx="142.3" cy="211.9" r="3.95"/><circle cx="218.3" cy="199.6" r="3.95"/><circle cx="450.8" cy="150.6" r="3.95"/><circle cx="439.9" cy="167.6" r="3.95"/><circle cx="243.3" cy="199.0" r="3.95"/><circle cx="143.7" cy="209.0" r="3.95"/><circle cx="366.2" cy="180.7" r="3.95"/><circle cx="479.2" cy="150.1" r="3.95"/><circle cx="403.7" cy="174.8" r="3.95"/><circle cx="381.8" cy="182.4" r="3.95"/><circle cx="420.7" cy="168.3" r="3.95"/><circle cx="409.3" cy="169.0" r="3.95"/><circle cx="167.1" cy="207.4" r="3.95"/><circle cx="402.9" cy="180.5" r="3.95"/><circle cx="376.7" cy="188.3" r="3.95"/><circle cx="165.3" cy="204.6" r="3.95"/><circle cx="169.2" cy="204.7" r="3.95"/><circle cx="302.6" cy="189.1" r="3.95"/><circle cx="379.8" cy="183.2" r="3.95"/><circle cx="310.7" cy="185.6" r="3.95"/><circle cx="162.2" cy="210.8" r="3.95"/><circle cx="185.7" cy="203.8" r="3.95"/><circle cx="184.6" cy="205.6" r="3.95"/><circle cx="348.1" cy="185.2" r="3.95"/><circle cx="444.0" cy="163.1" r="3.95"/><circle cx="345.2" cy="194.2" r="3.95"/><circle cx="388.6" cy="178.7" r="3.95"/><circle cx="221.9" cy="195.5" r="3.95"/><circle cx="146.5" cy="210.2" r="3.95"/><circle cx="266.3" cy="187.6" r="3.95"/><circle cx="335.9" cy="193.8" r="3.95"/><circle cx="469.8" cy="148.5" r="3.95"/><circle cx="409.9" cy="173.0" r="3.95"/><circle cx="239.2" cy="204.5" r="3.95"/><circle cx="339.2" cy="191.6" r="3.95"/><circle cx="430.0" cy="163.9" r="3.95"/><circle cx="421.8" cy="170.5" r="3.95"/><circle cx="355.1" cy="194.1" r="3.95"/><circle cx="385.5" cy="173.6" r="3.95"/><circle cx="485.6" cy="145.9" r="3.95"/><circle cx="217.3" cy="195.1" r="3.95"/><circle cx="234.0" cy="197.2" r="3.95"/><circle cx="172.3" cy="204.8" r="3.95"/><circle cx="228.1" cy="201.8" r="3.95"/><circle cx="456.1" cy="160.0" r="3.95"/><circle cx="355.0" cy="180.8" r="3.95"/><circle cx="402.6" cy="170.9" r="3.95"/><circle cx="142.8" cy="209.9" r="3.95"/><circle cx="211.2" cy="203.9" r="3.95"/><circle cx="263.6" cy="201.8" r="3.95"/><circle cx="338.4" cy="187.8" r="3.95"/><circle cx="373.2" cy="190.6" r="3.95"/><circle cx="466.7" cy="149.1" r="3.95"/><circle cx="500.0" cy="143.8" r="3.95"/><circle cx="455.4" cy="152.4" r="3.95"/><circle cx="497.7" cy="144.4" r="3.95"/><circle cx="449.0" cy="154.8" r="3.95"/><circle cx="323.5" cy="192.8" r="3.95"/><circle cx="323.4" cy="189.7" r="3.95"/><circle cx="391.5" cy="178.6" r="3.95"/><circle cx="307.8" cy="185.9" r="3.95"/><circle cx="493.8" cy="146.5" r="3.95"/><circle cx="173.6" cy="202.8" r="3.95"/><circle cx="480.9" cy="156.4" r="3.95"/><circle cx="356.3" cy="189.9" r="3.95"/><circle cx="320.5" cy="192.3" r="3.95"/><circle cx="439.2" cy="156.6" r="3.95"/><circle cx="411.5" cy="171.6" r="3.95"/><circle cx="122.3" cy="216.1" r="3.95"/><circle cx="222.3" cy="199.2" r="3.95"/><circle cx="323.1" cy="190.5" r="3.95"/><circle cx="211.6" cy="194.6" r="3.95"/><circle cx="189.2" cy="202.4" r="3.95"/><circle cx="421.6" cy="173.7" r="3.95"/><circle cx="213.1" cy="198.1" r="3.95"/><circle cx="219.5" cy="203.7" r="3.95"/><circle cx="192.5" cy="201.0" r="3.95"/><circle cx="399.7" cy="179.5" r="3.95"/><circle cx="424.1" cy="174.5" r="3.95"/><circle cx="215.5" cy="201.6" r="3.95"/><circle cx="280.4" cy="191.8" r="3.95"/><circle cx="470.3" cy="155.3" r="3.95"/><circle cx="270.0" cy="197.5" r="3.95"/><circle cx="267.1" cy="187.0" r="3.95"/><circle cx="303.9" cy="188.7" r="3.95"/><circle cx="267.4" cy="197.9" r="3.95"/><circle cx="200.6" cy="199.2" r="3.95"/><circle cx="489.2" cy="143.8" r="3.95"/><circle cx="483.5" cy="153.2" r="3.95"/><circle cx="459.4" cy="158.1" r="3.95"/><circle cx="484.9" cy="146.5" r="3.95"/><circle cx="226.4" cy="200.1" r="3.95"/><circle cx="149.4" cy="210.0" r="3.95"/><circle cx="239.4" cy="198.7" r="3.95"/><circle cx="168.9" cy="202.6" r="3.95"/><circle cx="413.4" cy="170.2" r="3.95"/><circle cx="484.1" cy="148.7" r="3.95"/><circle cx="240.3" cy="199.3" r="3.95"/><circle cx="475.3" cy="153.6" r="3.95"/><circle cx="339.3" cy="193.9" r="3.95"/><circle cx="425.1" cy="162.2" r="3.95"/><circle cx="445.4" cy="160.1" r="3.95"/><circle cx="194.9" cy="202.0" r="3.95"/><circle cx="413.6" cy="171.4" r="3.95"/><circle cx="141.8" cy="213.6" r="3.95"/><circle cx="202.9" cy="204.8" r="3.95"/><circle cx="206.0" cy="193.8" r="3.95"/><circle cx="299.8" cy="194.4" r="3.95"/><circle cx="127.8" cy="215.9" r="3.95"/><circle cx="358.6" cy="188.3" r="3.95"/><circle cx="302.8" cy="191.8" r="3.95"/><circle cx="459.9" cy="156.4" r="3.95"/><circle cx="281.4" cy="191.0" r="3.95"/><circle cx="471.3" cy="153.0" r="3.95"/><circle cx="479.8" cy="152.4" r="3.95"/><circle cx="316.5" cy="191.2" r="3.95"/><circle cx="232.4" cy="197.7" r="3.95"/><circle cx="345.1" cy="186.0" r="3.95"/><circle cx="484.2" cy="153.8" r="3.95"/><circle cx="254.7" cy="201.2" r="3.95"/><circle cx="312.1" cy="187.7" r="3.95"/><circle cx="224.9" cy="198.2" r="3.95"/><circle cx="363.6" cy="190.7" r="3.95"/><circle cx="306.2" cy="197.0" r="3.95"/><circle cx="492.9" cy="145.8" r="3.95"/><circle cx="427.8" cy="167.6" r="3.95"/><circle cx="439.0" cy="161.9" r="3.95"/><circle cx="334.2" cy="185.6" r="3.95"/><circle cx="233.1" cy="198.4" r="3.95"/><circle cx="314.3" cy="194.6" r="3.95"/><circle cx="440.9" cy="164.1" r="3.95"/><circle cx="496.1" cy="144.4" r="3.95"/><circle cx="428.3" cy="168.2" r="3.95"/><circle cx="215.3" cy="194.9" r="3.95"/><circle cx="193.1" cy="202.1" r="3.95"/><circle cx="399.8" cy="180.6" r="3.95"/><circle cx="422.2" cy="163.3" r="3.95"/><circle cx="339.6" cy="185.4" r="3.95"/><circle cx="269.0" cy="189.7" r="3.95"/><circle cx="130.8" cy="215.6" r="3.95"/><circle cx="371.9" cy="179.6" r="3.95"/><circle cx="387.5" cy="178.0" r="3.95"/><circle cx="193.6" cy="203.7" r="3.95"/><circle cx="384.4" cy="174.8" r="3.95"/><circle cx="249.4" cy="195.1" r="3.95"/><circle cx="326.7" cy="195.0" r="3.95"/><circle cx="406.7" cy="175.5" r="3.95"/><circle cx="214.3" cy="203.5" r="3.95"/><circle cx="148.7" cy="208.8" r="3.95"/><circle cx="484.8" cy="152.2" r="3.95"/><circle cx="280.4" cy="195.8" r="3.95"/><circle cx="488.7" cy="150.6" r="3.95"/><circle cx="287.5" cy="195.8" r="3.95"/><circle cx="367.1" cy="177.6" r="3.95"/><circle cx="323.7" cy="188.6" r="3.95"/><circle cx="414.9" cy="174.1" r="3.95"/><circle cx="226.2" cy="202.9" r="3.95"/><circle cx="399.8" cy="176.8" r="3.95"/><circle cx="391.9" cy="172.4" r="3.95"/><circle cx="461.7" cy="153.4" r="3.95"/><circle cx="149.2" cy="209.6" r="3.95"/><circle cx="170.9" cy="202.7" r="3.95"/><circle cx="341.1" cy="182.7" r="3.95"/><circle cx="382.5" cy="184.5" r="3.95"/><circle cx="171.2" cy="204.8" r="3.95"/><circle cx="149.9" cy="210.4" r="3.95"/><circle cx="308.0" cy="189.9" r="3.95"/><circle cx="242.7" cy="200.4" r="3.95"/><circle cx="206.5" cy="201.2" r="3.95"/><circle cx="220.4" cy="203.9" r="3.95"/><circle cx="392.7" cy="175.3" r="3.95"/><circle cx="295.2" cy="198.9" r="3.95"/><circle cx="360.5" cy="183.6" r="3.95"/><circle cx="275.5" cy="194.4" r="3.95"/><circle cx="398.8" cy="173.3" r="3.95"/><circle cx="372.7" cy="176.1" r="3.95"/><circle cx="208.4" cy="201.1" r="3.95"/><circle cx="328.1" cy="188.3" r="3.95"/><circle cx="128.4" cy="216.0" r="3.95"/><circle cx="415.0" cy="168.8" r="3.95"/><circle cx="274.3" cy="192.0" r="3.95"/><circle cx="197.2" cy="204.8" r="3.95"/><circle cx="436.0" cy="165.8" r="3.95"/><circle cx="271.6" cy="192.5" r="3.95"/><circle cx="218.2" cy="193.3" r="3.95"/><circle cx="499.4" cy="143.7" r="3.95"/><circle cx="420.4" cy="167.7" r="3.95"/><circle cx="324.0" cy="196.5" r="3.95"/><circle cx="463.6" cy="158.5" r="3.95"/><circle cx="232.5" cy="196.1" r="3.95"/><circle cx="353.6" cy="190.0" r="3.95"/><circle cx="256.8" cy="191.1" r="3.95"/><circle cx="150.8" cy="208.8" r="3.95"/><circle cx="438.7" cy="156.3" r="3.95"/><circle cx="226.6" cy="197.6" r="3.95"/><circle cx="265.2" cy="194.8" r="3.95"/><circle cx="167.0" cy="207.7" r="3.95"/><circle cx="223.1" cy="191.5" r="3.95"/><circle cx="387.8" cy="183.2" r="3.95"/><circle cx="389.3" cy="181.3" r="3.95"/><circle cx="303.2" cy="191.2" r="3.95"/><circle cx="290.9" cy="188.5" r="3.95"/><circle cx="499.3" cy="143.6" r="3.95"/><circle cx="207.1" cy="204.7" r="3.95"/><circle cx="286.8" cy="202.0" r="3.95"/><circle cx="187.5" cy="200.8" r="3.95"/><circle cx="392.1" cy="184.9" r="3.95"/><circle cx="208.6" cy="193.6" r="3.95"/><circle cx="209.5" cy="204.5" r="3.95"/><circle cx="145.9" cy="212.1" r="3.95"/><circle cx="329.7" cy="193.5" r="3.95"/><circle cx="257.0" cy="197.4" r="3.95"/><circle cx="351.4" cy="191.3" r="3.95"/><circle cx="189.4" cy="202.9" r="3.95"/><circle cx="377.0" cy="179.4" r="3.95"/><circle cx="232.5" cy="202.3" r="3.95"/><circle cx="258.0" cy="196.4" r="3.95"/><circle cx="221.8" cy="202.2" r="3.95"/><circle cx="240.7" cy="197.2" r="3.95"/><circle cx="445.4" cy="160.8" r="3.95"/><circle cx="317.7" cy="200.2" r="3.95"/><circle cx="360.0" cy="181.1" r="3.95"/><circle cx="386.7" cy="175.7" r="3.95"/><circle cx="314.7" cy="196.2" r="3.95"/><circle cx="324.2" cy="195.6" r="3.95"/><circle cx="237.1" cy="199.5" r="3.95"/><circle cx="231.2" cy="193.0" r="3.95"/><circle cx="454.1" cy="150.7" r="3.95"/><circle cx="406.6" cy="168.5" r="3.95"/><circle cx="150.4" cy="213.2" r="3.95"/><circle cx="318.8" cy="192.2" r="3.95"/><circle cx="451.5" cy="157.5" r="3.95"/><circle cx="501.7" cy="143.4" r="3.95"/><circle cx="178.7" cy="203.4" r="3.95"/><circle cx="337.0" cy="188.5" r="3.95"/><circle cx="288.5" cy="189.5" r="3.95"/><circle cx="188.2" cy="200.8" r="3.95"/><circle cx="466.2" cy="152.9" r="3.95"/><circle cx="329.8" cy="197.6" r="3.95"/><circle cx="342.9" cy="193.2" r="3.95"/><circle cx="373.1" cy="183.3" r="3.95"/><circle cx="149.8" cy="207.3" r="3.95"/><circle cx="365.5" cy="188.2" r="3.95"/><circle cx="411.9" cy="166.1" r="3.95"/><circle cx="175.7" cy="206.2" r="3.95"/><circle cx="303.1" cy="194.5" r="3.95"/><circle cx="244.8" cy="198.8" r="3.95"/><circle cx="364.8" cy="182.1" r="3.95"/><circle cx="479.6" cy="146.2" r="3.95"/><circle cx="436.9" cy="161.7" r="3.95"/><circle cx="213.7" cy="198.7" r="3.95"/><circle cx="472.8" cy="154.6" r="3.95"/><circle cx="212.7" cy="199.5" r="3.95"/><circle cx="362.0" cy="185.1" r="3.95"/><circle cx="396.3" cy="181.7" r="3.95"/><circle cx="268.8" cy="197.5" r="3.95"/><circle cx="140.6" cy="214.2" r="3.95"/><circle cx="248.2" cy="196.7" r="3.95"/><circle cx="348.5" cy="192.3" r="3.95"/><circle cx="313.0" cy="199.2" r="3.95"/><circle cx="338.0" cy="193.3" r="3.95"/><circle cx="151.9" cy="213.6" r="3.95"/><circle cx="358.9" cy="189.1" r="3.95"/><circle cx="178.5" cy="205.9" r="3.95"/><circle cx="136.4" cy="214.9" r="3.95"/><circle cx="155.1" cy="207.5" r="3.95"/><circle cx="445.6" cy="159.6" r="3.95"/><circle cx="165.0" cy="206.7" r="3.95"/><circle cx="195.0" cy="202.6" r="3.95"/><circle cx="186.3" cy="206.6" r="3.95"/><circle cx="326.7" cy="196.6" r="3.95"/><circle cx="316.2" cy="199.1" r="3.95"/><circle cx="303.3" cy="191.1" r="3.95"/><circle cx="250.4" cy="194.9" r="3.95"/><circle cx="461.4" cy="145.1" r="3.95"/><circle cx="481.3" cy="153.6" r="3.95"/><circle cx="268.6" cy="188.6" r="3.95"/><circle cx="469.2" cy="157.7" r="3.95"/><circle cx="230.8" cy="198.3" r="3.95"/><circle cx="193.0" cy="204.7" r="3.95"/><circle cx="165.1" cy="203.5" r="3.95"/><circle cx="405.1" cy="171.1" r="3.95"/><circle cx="488.5" cy="150.4" r="3.95"/><circle cx="372.7" cy="182.9" r="3.95"/><circle cx="176.9" cy="203.1" r="3.95"/><circle cx="420.5" cy="168.3" r="3.95"/><circle cx="362.4" cy="182.8" r="3.95"/><circle cx="195.2" cy="205.0" r="3.95"/><circle cx="449.7" cy="156.0" r="3.95"/><circle cx="387.2" cy="183.9" r="3.95"/><circle cx="446.6" cy="154.0" r="3.95"/><circle cx="122.4" cy="215.9" r="3.95"/><circle cx="122.7" cy="215.9" r="3.95"/><circle cx="395.7" cy="171.0" r="3.95"/><circle cx="449.5" cy="157.4" r="3.95"/><circle cx="282.9" cy="192.2" r="3.95"/><circle cx="405.5" cy="176.3" r="3.95"/><circle cx="384.1" cy="182.7" r="3.95"/><circle cx="184.0" cy="201.9" r="3.95"/><circle cx="401.3" cy="177.0" r="3.95"/><circle cx="379.9" cy="183.3" r="3.95"/><circle cx="437.2" cy="163.8" r="3.95"/><circle cx="331.4" cy="190.2" r="3.95"/><circle cx="367.3" cy="186.2" r="3.95"/><circle cx="209.7" cy="199.5" r="3.95"/><circle cx="325.2" cy="194.5" r="3.95"/><circle cx="352.7" cy="187.6" r="3.95"/><circle cx="378.6" cy="183.6" r="3.95"/><circle cx="380.9" cy="176.1" r="3.95"/><circle cx="231.7" cy="195.2" r="3.95"/><circle cx="222.7" cy="194.8" r="3.95"/><circle cx="316.8" cy="196.1" r="3.95"/><circle cx="354.0" cy="189.5" r="3.95"/><circle cx="500.7" cy="143.5" r="3.95"/><circle cx="315.3" cy="199.2" r="3.95"/><circle cx="272.8" cy="188.9" r="3.95"/><circle cx="305.4" cy="194.1" r="3.95"/><circle cx="504.2" cy="142.8" r="3.95"/><circle cx="381.2" cy="182.0" r="3.95"/><circle cx="179.0" cy="200.4" r="3.95"/><circle cx="291.9" cy="189.6" r="3.95"/><circle cx="262.6" cy="195.8" r="3.95"/><circle cx="460.6" cy="152.1" r="3.95"/><circle cx="172.6" cy="208.4" r="3.95"/><circle cx="146.6" cy="208.7" r="3.95"/><circle cx="203.8" cy="198.7" r="3.95"/><circle cx="479.6" cy="149.5" r="3.95"/><circle cx="177.0" cy="205.0" r="3.95"/><circle cx="371.3" cy="184.2" r="3.95"/><circle cx="466.3" cy="152.1" r="3.95"/><circle cx="352.7" cy="190.4" r="3.95"/><circle cx="237.1" cy="199.3" r="3.95"/><circle cx="150.1" cy="213.6" r="3.95"/><circle cx="484.7" cy="145.1" r="3.95"/><circle cx="217.1" cy="195.6" r="3.95"/><circle cx="243.4" cy="197.1" r="3.95"/><circle cx="388.3" cy="177.1" r="3.95"/><circle cx="158.6" cy="208.9" r="3.95"/><circle cx="437.9" cy="160.2" r="3.95"/><circle cx="263.0" cy="191.2" r="3.95"/><circle cx="494.6" cy="147.9" r="3.95"/><circle cx="350.6" cy="194.9" r="3.95"/><circle cx="265.1" cy="189.5" r="3.95"/><circle cx="256.8" cy="202.1" r="3.95"/><circle cx="445.7" cy="154.5" r="3.95"/><circle cx="218.0" cy="204.6" r="3.95"/><circle cx="474.2" cy="156.5" r="3.95"/><circle cx="266.6" cy="200.3" r="3.95"/><circle cx="463.0" cy="157.8" r="3.95"/><circle cx="219.3" cy="199.7" r="3.95"/><circle cx="199.1" cy="198.1" r="3.95"/><circle cx="400.7" cy="177.3" r="3.95"/><circle cx="366.2" cy="183.0" r="3.95"/><circle cx="167.8" cy="207.8" r="3.95"/><circle cx="424.8" cy="172.6" r="3.95"/><circle cx="350.9" cy="189.9" r="3.95"/><circle cx="453.9" cy="161.1" r="3.95"/><circle cx="156.5" cy="212.4" r="3.95"/><circle cx="159.2" cy="207.2" r="3.95"/><circle cx="501.2" cy="143.9" r="3.95"/><circle cx="465.0" cy="151.7" r="3.95"/><circle cx="302.8" cy="186.0" r="3.95"/><circle cx="377.9" cy="176.6" r="3.95"/><circle cx="319.1" cy="192.3" r="3.95"/><circle cx="385.4" cy="182.0" r="3.95"/><circle cx="140.0" cy="214.2" r="3.95"/><circle cx="289.8" cy="194.0" r="3.95"/><circle cx="337.8" cy="191.1" r="3.95"/><circle cx="445.3" cy="154.7" r="3.95"/><circle cx="157.6" cy="210.7" r="3.95"/><circle cx="415.9" cy="172.1" r="3.95"/><circle cx="377.0" cy="178.6" r="3.95"/><circle cx="298.8" cy="193.9" r="3.95"/><circle cx="380.3" cy="183.2" r="3.95"/><circle cx="325.7" cy="195.4" r="3.95"/><circle cx="441.4" cy="165.5" r="3.95"/><circle cx="411.0" cy="174.9" r="3.95"/><circle cx="168.1" cy="205.5" r="3.95"/><circle cx="210.4" cy="202.4" r="3.95"/><circle cx="170.7" cy="203.8" r="3.95"/><circle cx="214.2" cy="196.9" r="3.95"/><circle cx="300.9" cy="186.3" r="3.95"/><circle cx="393.9" cy="179.8" r="3.95"/><circle cx="338.7" cy="195.1" r="3.95"/><circle cx="259.3" cy="197.6" r="3.95"/><circle cx="133.5" cy="214.5" r="3.95"/><circle cx="262.9" cy="200.5" r="3.95"/><circle cx="442.8" cy="164.6" r="3.95"/><circle cx="210.2" cy="199.3" r="3.95"/><circle cx="424.3" cy="169.4" r="3.95"/><circle cx="415.9" cy="174.0" r="3.95"/><circle cx="237.8" cy="194.5" r="3.95"/><circle cx="425.4" cy="171.5" r="3.95"/><circle cx="501.0" cy="143.8" r="3.95"/><circle cx="237.7" cy="195.4" r="3.95"/><circle cx="442.8" cy="162.8" r="3.95"/><circle cx="141.4" cy="212.0" r="3.95"/><circle cx="482.4" cy="154.0" r="3.95"/><circle cx="435.3" cy="164.2" r="3.95"/><circle cx="146.1" cy="208.8" r="3.95"/><circle cx="274.9" cy="198.6" r="3.95"/><circle cx="233.2" cy="196.4" r="3.95"/><circle cx="309.9" cy="188.5" r="3.95"/><circle cx="225.2" cy="197.5" r="3.95"/><circle cx="165.9" cy="208.9" r="3.95"/><circle cx="305.8" cy="197.4" r="3.95"/><circle cx="291.6" cy="191.5" r="3.95"/><circle cx="131.2" cy="215.6" r="3.95"/><circle cx="310.6" cy="186.0" r="3.95"/><circle cx="409.2" cy="175.0" r="3.95"/><circle cx="379.6" cy="174.9" r="3.95"/><circle cx="322.8" cy="191.7" r="3.95"/><circle cx="450.0" cy="156.3" r="3.95"/><circle cx="350.8" cy="182.9" r="3.95"/><circle cx="239.4" cy="198.0" r="3.95"/><circle cx="124.7" cy="216.0" r="3.95"/><circle cx="152.9" cy="209.6" r="3.95"/><circle cx="479.4" cy="148.8" r="3.95"/><circle cx="169.4" cy="201.7" r="3.95"/><circle cx="226.5" cy="201.5" r="3.95"/><circle cx="278.9" cy="198.2" r="3.95"/><circle cx="468.9" cy="147.7" r="3.95"/><circle cx="209.3" cy="193.4" r="3.95"/><circle cx="353.8" cy="190.4" r="3.95"/><circle cx="501.2" cy="144.1" r="3.95"/><circle cx="202.1" cy="200.1" r="3.95"/><circle cx="443.4" cy="159.9" r="3.95"/><circle cx="422.7" cy="171.7" r="3.95"/><circle cx="396.0" cy="175.2" r="3.95"/><circle cx="407.5" cy="170.5" r="3.95"/><circle cx="322.8" cy="192.9" r="3.95"/><circle cx="246.0" cy="205.2" r="3.95"/><circle cx="446.4" cy="154.1" r="3.95"/><circle cx="338.6" cy="188.7" r="3.95"/><circle cx="500.8" cy="143.9" r="3.95"/><circle cx="380.2" cy="179.5" r="3.95"/><circle cx="366.5" cy="179.7" r="3.95"/><circle cx="466.1" cy="153.6" r="3.95"/><circle cx="200.4" cy="196.7" r="3.95"/><circle cx="382.2" cy="180.9" r="3.95"/><circle cx="274.1" cy="195.1" r="3.95"/><circle cx="208.7" cy="193.7" r="3.95"/><circle cx="471.1" cy="155.7" r="3.95"/><circle cx="354.8" cy="184.9" r="3.95"/><circle cx="251.7" cy="193.9" r="3.95"/><circle cx="375.9" cy="177.5" r="3.95"/><circle cx="430.9" cy="170.7" r="3.95"/><circle cx="356.9" cy="192.4" r="3.95"/><circle cx="260.9" cy="190.1" r="3.95"/><circle cx="439.6" cy="167.3" r="3.95"/><circle cx="448.0" cy="156.7" r="3.95"/><circle cx="500.8" cy="144.6" r="3.95"/><circle cx="126.3" cy="215.8" r="3.95"/><circle cx="256.3" cy="193.4" r="3.95"/><circle cx="386.1" cy="182.0" r="3.95"/><circle cx="238.8" cy="201.9" r="3.95"/><circle cx="283.7" cy="200.5" r="3.95"/><circle cx="251.8" cy="199.0" r="3.95"/><circle cx="208.5" cy="203.3" r="3.95"/><circle cx="237.3" cy="196.3" r="3.95"/><circle cx="322.3" cy="198.9" r="3.95"/><circle cx="326.5" cy="190.5" r="3.95"/><circle cx="433.7" cy="167.4" r="3.95"/><circle cx="389.9" cy="183.8" r="3.95"/><circle cx="143.1" cy="209.6" r="3.95"/><circle cx="182.3" cy="203.3" r="3.95"/><circle cx="497.0" cy="147.1" r="3.95"/><circle cx="221.3" cy="201.3" r="3.95"/><circle cx="237.7" cy="194.8" r="3.95"/><circle cx="468.1" cy="159.0" r="3.95"/><circle cx="461.9" cy="150.8" r="3.95"/><circle cx="150.9" cy="211.3" r="3.95"/><circle cx="396.2" cy="176.7" r="3.95"/><circle cx="145.2" cy="212.3" r="3.95"/><circle cx="292.6" cy="189.3" r="3.95"/><circle cx="381.2" cy="179.0" r="3.95"/><circle cx="397.7" cy="173.7" r="3.95"/><circle cx="343.3" cy="197.6" r="3.95"/><circle cx="323.0" cy="190.6" r="3.95"/><circle cx="409.3" cy="173.1" r="3.95"/><circle cx="347.2" cy="190.7" r="3.95"/><circle cx="356.1" cy="189.4" r="3.95"/><circle cx="487.3" cy="147.8" r="3.95"/><circle cx="178.3" cy="206.2" r="3.95"/><circle cx="325.6" cy="199.6" r="3.95"/><circle cx="456.2" cy="154.4" r="3.95"/><circle cx="390.4" cy="175.7" r="3.95"/><circle cx="328.9" cy="186.7" r="3.95"/><circle cx="263.0" cy="199.9" r="3.95"/><circle cx="257.2" cy="198.3" r="3.95"/><circle cx="258.2" cy="189.6" r="3.95"/><circle cx="373.5" cy="185.6" r="3.95"/><circle cx="222.3" cy="201.4" r="3.95"/><circle cx="215.3" cy="198.3" r="3.95"/><circle cx="333.8" cy="191.0" r="3.95"/><circle cx="395.3" cy="176.6" r="3.95"/><circle cx="198.1" cy="198.5" r="3.95"/><circle cx="229.6" cy="203.5" r="3.95"/><circle cx="281.3" cy="199.8" r="3.95"/><circle cx="168.1" cy="209.3" r="3.95"/><circle cx="187.0" cy="204.5" r="3.95"/><circle cx="123.6" cy="216.0" r="3.95"/><circle cx="153.9" cy="207.2" r="3.95"/><circle cx="165.8" cy="205.0" r="3.95"/><circle cx="174.3" cy="201.6" r="3.95"/><circle cx="428.2" cy="163.4" r="3.95"/><circle cx="174.4" cy="206.7" r="3.95"/><circle cx="382.6" cy="184.9" r="3.95"/><circle cx="308.7" cy="198.7" r="3.95"/><circle cx="254.0" cy="197.3" r="3.95"/><circle cx="499.1" cy="143.0" r="3.95"/><circle cx="459.4" cy="149.6" r="3.95"/><circle cx="225.8" cy="204.5" r="3.95"/><circle cx="486.1" cy="150.0" r="3.95"/><circle cx="177.7" cy="207.2" r="3.95"/><circle cx="152.6" cy="210.9" r="3.95"/><circle cx="434.7" cy="167.1" r="3.95"/><circle cx="290.6" cy="190.5" r="3.95"/><circle cx="423.7" cy="166.2" r="3.95"/><circle cx="297.3" cy="196.1" r="3.95"/><circle cx="167.9" cy="205.0" r="3.95"/><circle cx="438.3" cy="163.5" r="3.95"/><circle cx="453.4" cy="156.7" r="3.95"/><circle cx="443.0" cy="163.0" r="3.95"/><circle cx="369.1" cy="187.2" r="3.95"/><circle cx="287.0" cy="196.4" r="3.95"/><circle cx="482.7" cy="149.1" r="3.95"/><circle cx="335.6" cy="192.6" r="3.95"/><circle cx="477.8" cy="151.1" r="3.95"/><circle cx="455.1" cy="154.5" r="3.95"/><circle cx="216.2" cy="204.3" r="3.95"/><circle cx="229.0" cy="195.0" r="3.95"/><circle cx="232.7" cy="197.7" r="3.95"/><circle cx="254.2" cy="193.4" r="3.95"/><circle cx="369.3" cy="181.8" r="3.95"/><circle cx="165.3" cy="205.5" r="3.95"/><circle cx="160.3" cy="207.0" r="3.95"/><circle cx="176.3" cy="204.2" r="3.95"/><circle cx="478.5" cy="155.1" r="3.95"/><circle cx="360.0" cy="179.5" r="3.95"/><circle cx="245.8" cy="194.0" r="3.95"/><circle cx="367.4" cy="182.6" r="3.95"/><circle cx="397.4" cy="180.7" r="3.95"/><circle cx="288.0" cy="196.1" r="3.95"/><circle cx="331.1" cy="187.0" r="3.95"/><circle cx="381.3" cy="177.0" r="3.95"/><circle cx="333.3" cy="195.4" r="3.95"/><circle cx="460.9" cy="155.7" r="3.95"/><circle cx="234.1" cy="193.4" r="3.95"/><circle cx="190.1" cy="201.9" r="3.95"/><circle cx="154.6" cy="209.1" r="3.95"/><circle cx="195.9" cy="203.2" r="3.95"/><circle cx="322.1" cy="188.8" r="3.95"/><circle cx="360.8" cy="181.0" r="3.95"/><circle cx="356.1" cy="180.5" r="3.95"/><circle cx="204.3" cy="200.7" r="3.95"/><circle cx="345.8" cy="185.0" r="3.95"/><circle cx="415.7" cy="167.3" r="3.95"/><circle cx="264.4" cy="194.3" r="3.95"/><circle cx="192.8" cy="197.2" r="3.95"/><circle cx="269.0" cy="194.7" r="3.95"/><circle cx="396.7" cy="178.1" r="3.95"/><circle cx="405.7" cy="170.2" r="3.95"/><circle cx="364.5" cy="181.8" r="3.95"/><circle cx="156.6" cy="206.1" r="3.95"/><circle cx="391.0" cy="183.6" r="3.95"/><circle cx="185.6" cy="202.5" r="3.95"/><circle cx="258.9" cy="198.8" r="3.95"/><circle cx="394.3" cy="176.2" r="3.95"/><circle cx="469.3" cy="157.3" r="3.95"/><circle cx="365.8" cy="187.3" r="3.95"/><circle cx="290.6" cy="199.2" r="3.95"/><circle cx="165.6" cy="203.6" r="3.95"/><circle cx="424.9" cy="168.8" r="3.95"/><circle cx="245.6" cy="194.1" r="3.95"/><circle cx="331.3" cy="189.6" r="3.95"/><circle cx="308.4" cy="195.4" r="3.95"/><circle cx="289.3" cy="198.3" r="3.95"/><circle cx="351.9" cy="185.2" r="3.95"/><circle cx="426.2" cy="164.2" r="3.95"/><circle cx="212.7" cy="194.9" r="3.95"/><circle cx="219.3" cy="197.3" r="3.95"/><circle cx="289.0" cy="194.8" r="3.95"/><circle cx="289.6" cy="189.6" r="3.95"/><circle cx="331.5" cy="189.0" r="3.95"/><circle cx="434.9" cy="166.8" r="3.95"/><circle cx="311.3" cy="193.8" r="3.95"/><circle cx="129.6" cy="215.7" r="3.95"/><circle cx="242.5" cy="197.5" r="3.95"/><circle cx="492.3" cy="148.4" r="3.95"/><circle cx="470.0" cy="146.8" r="3.95"/><circle cx="213.7" cy="196.3" r="3.95"/><circle cx="475.3" cy="151.8" r="3.95"/><circle cx="198.5" cy="201.5" r="3.95"/><circle cx="346.6" cy="186.1" r="3.95"/><circle cx="214.3" cy="191.9" r="3.95"/><circle cx="208.9" cy="198.6" r="3.95"/><circle cx="346.0" cy="194.3" r="3.95"/><circle cx="502.9" cy="143.4" r="3.95"/><circle cx="316.8" cy="200.1" r="3.95"/><circle cx="161.4" cy="210.0" r="3.95"/><circle cx="154.2" cy="210.2" r="3.95"/><circle cx="415.3" cy="174.0" r="3.95"/><circle cx="178.3" cy="208.1" r="3.95"/><circle cx="292.1" cy="194.7" r="3.95"/><circle cx="390.7" cy="179.5" r="3.95"/><circle cx="420.2" cy="166.1" r="3.95"/><circle cx="171.1" cy="206.6" r="3.95"/><circle cx="230.6" cy="203.0" r="3.95"/><circle cx="287.6" cy="200.6" r="3.95"/><circle cx="415.8" cy="169.2" r="3.95"/><circle cx="274.7" cy="187.5" r="3.95"/><circle cx="322.8" cy="186.3" r="3.95"/><circle cx="317.7" cy="199.2" r="3.95"/><circle cx="401.9" cy="173.3" r="3.95"/><circle cx="350.4" cy="191.6" r="3.95"/><circle cx="383.4" cy="181.6" r="3.95"/><circle cx="162.1" cy="204.6" r="3.95"/><circle cx="218.7" cy="203.1" r="3.95"/><circle cx="404.5" cy="173.3" r="3.95"/><circle cx="362.7" cy="186.3" r="3.95"/><circle cx="490.7" cy="148.3" r="3.95"/><circle cx="375.4" cy="182.5" r="3.95"/><circle cx="211.1" cy="197.1" r="3.95"/><circle cx="352.8" cy="188.5" r="3.95"/><circle cx="192.7" cy="203.1" r="3.95"/><circle cx="349.9" cy="195.0" r="3.95"/><circle cx="365.2" cy="181.6" r="3.95"/><circle cx="443.9" cy="155.7" r="3.95"/><circle cx="458.6" cy="156.5" r="3.95"/><circle cx="385.8" cy="172.7" r="3.95"/><circle cx="216.7" cy="196.6" r="3.95"/><circle cx="356.1" cy="184.8" r="3.95"/><circle cx="354.1" cy="188.8" r="3.95"/><circle cx="388.4" cy="183.1" r="3.95"/><circle cx="243.9" cy="192.5" r="3.95"/><circle cx="363.8" cy="187.2" r="3.95"/><circle cx="415.5" cy="169.1" r="3.95"/><circle cx="371.0" cy="186.0" r="3.95"/><circle cx="334.9" cy="186.6" r="3.95"/><circle cx="261.2" cy="194.7" r="3.95"/><circle cx="485.7" cy="152.3" r="3.95"/><circle cx="467.2" cy="152.9" r="3.95"/><circle cx="148.2" cy="208.9" r="3.95"/><circle cx="480.9" cy="154.1" r="3.95"/><circle cx="232.6" cy="198.3" r="3.95"/><circle cx="175.9" cy="207.9" r="3.95"/><circle cx="346.1" cy="192.1" r="3.95"/><circle cx="282.5" cy="194.6" r="3.95"/><circle cx="455.9" cy="146.1" r="3.95"/><circle cx="381.6" cy="173.6" r="3.95"/><circle cx="483.0" cy="151.1" r="3.95"/><circle cx="332.8" cy="186.1" r="3.95"/><circle cx="256.6" cy="197.7" r="3.95"/><circle cx="179.0" cy="204.7" r="3.95"/><circle cx="322.8" cy="193.9" r="3.95"/><circle cx="275.9" cy="188.0" r="3.95"/><circle cx="231.4" cy="194.6" r="3.95"/><circle cx="255.0" cy="197.2" r="3.95"/><circle cx="401.7" cy="172.9" r="3.95"/><circle cx="250.0" cy="200.3" r="3.95"/><circle cx="183.4" cy="207.5" r="3.95"/><circle cx="257.3" cy="201.6" r="3.95"/><circle cx="285.6" cy="201.3" r="3.95"/><circle cx="443.5" cy="154.8" r="3.95"/><circle cx="477.7" cy="149.4" r="3.95"/><circle cx="261.3" cy="194.6" r="3.95"/><circle cx="359.9" cy="186.9" r="3.95"/><circle cx="283.6" cy="193.7" r="3.95"/><circle cx="443.9" cy="163.4" r="3.95"/><circle cx="211.9" cy="203.3" r="3.95"/><circle cx="280.1" cy="191.1" r="3.95"/><circle cx="240.5" cy="198.6" r="3.95"/><circle cx="255.2" cy="189.3" r="3.95"/><circle cx="481.6" cy="148.3" r="3.95"/><circle cx="247.9" cy="189.6" r="3.95"/><circle cx="379.9" cy="181.4" r="3.95"/><circle cx="141.2" cy="212.2" r="3.95"/><circle cx="231.7" cy="200.6" r="3.95"/><circle cx="411.7" cy="177.5" r="3.95"/><circle cx="152.4" cy="212.1" r="3.95"/><circle cx="309.6" cy="194.6" r="3.95"/><circle cx="322.1" cy="187.2" r="3.95"/><circle cx="270.9" cy="199.8" r="3.95"/><circle cx="328.3" cy="195.8" r="3.95"/><circle cx="351.9" cy="192.4" r="3.95"/><circle cx="291.4" cy="201.6" r="3.95"/><circle cx="138.1" cy="215.2" r="3.95"/><circle cx="305.2" cy="199.8" r="3.95"/><circle cx="420.8" cy="168.0" r="3.95"/><circle cx="122.7" cy="216.2" r="3.95"/><circle cx="457.8" cy="158.8" r="3.95"/><circle cx="382.6" cy="178.3" r="3.95"/><circle cx="288.8" cy="188.9" r="3.95"/><circle cx="253.2" cy="200.9" r="3.95"/><circle cx="201.5" cy="196.2" r="3.95"/><circle cx="143.1" cy="212.9" r="3.95"/><circle cx="355.1" cy="190.7" r="3.95"/><circle cx="416.7" cy="167.2" r="3.95"/><circle cx="410.6" cy="175.1" r="3.95"/><circle cx="301.2" cy="185.9" r="3.95"/><circle cx="451.2" cy="152.6" r="3.95"/><circle cx="386.4" cy="173.9" r="3.95"/><circle cx="317.3" cy="195.0" r="3.95"/><circle cx="425.8" cy="170.1" r="3.95"/><circle cx="439.6" cy="166.1" r="3.95"/><circle cx="297.9" cy="194.1" r="3.95"/><circle cx="186.1" cy="204.7" r="3.95"/><circle cx="368.8" cy="183.8" r="3.95"/><circle cx="405.0" cy="175.8" r="3.95"/><circle cx="148.7" cy="210.5" r="3.95"/><circle cx="166.7" cy="203.0" r="3.95"/><circle cx="189.0" cy="199.8" r="3.95"/><circle cx="150.7" cy="207.8" r="3.95"/><circle cx="402.2" cy="179.2" r="3.95"/><circle cx="448.0" cy="158.5" r="3.95"/><circle cx="209.9" cy="202.6" r="3.95"/><circle cx="409.0" cy="174.7" r="3.95"/><circle cx="487.8" cy="149.9" r="3.95"/><circle cx="183.5" cy="203.6" r="3.95"/><circle cx="151.2" cy="208.2" r="3.95"/><circle cx="493.0" cy="145.8" r="3.95"/><circle cx="405.0" cy="173.9" r="3.95"/><circle cx="298.6" cy="194.2" r="3.95"/><circle cx="225.8" cy="193.2" r="3.95"/><circle cx="457.8" cy="159.8" r="3.95"/><circle cx="358.9" cy="188.4" r="3.95"/><circle cx="335.4" cy="191.2" r="3.95"/><circle cx="376.9" cy="178.9" r="3.95"/><circle cx="204.6" cy="195.6" r="3.95"/><circle cx="333.1" cy="197.8" r="3.95"/><circle cx="143.1" cy="212.0" r="3.95"/><circle cx="229.5" cy="196.3" r="3.95"/><circle cx="294.5" cy="201.8" r="3.95"/><circle cx="353.1" cy="190.0" r="3.95"/><circle cx="148.9" cy="208.6" r="3.95"/><circle cx="207.3" cy="198.5" r="3.95"/><circle cx="306.7" cy="186.0" r="3.95"/><circle cx="227.6" cy="195.3" r="3.95"/><circle cx="220.8" cy="200.1" r="3.95"/><circle cx="403.5" cy="179.9" r="3.95"/><circle cx="259.1" cy="195.3" r="3.95"/><circle cx="361.5" cy="187.3" r="3.95"/><circle cx="370.8" cy="185.5" r="3.95"/><circle cx="474.3" cy="147.7" r="3.95"/><circle cx="244.5" cy="196.5" r="3.95"/><circle cx="164.4" cy="207.2" r="3.95"/><circle cx="496.7" cy="145.5" r="3.95"/><circle cx="418.2" cy="171.6" r="3.95"/><circle cx="302.9" cy="193.4" r="3.95"/><circle cx="251.4" cy="198.8" r="3.95"/><circle cx="155.1" cy="209.8" r="3.95"/><circle cx="482.2" cy="147.5" r="3.95"/><circle cx="419.1" cy="169.2" r="3.95"/><circle cx="421.1" cy="166.6" r="3.95"/><circle cx="176.6" cy="203.8" r="3.95"/><circle cx="287.2" cy="196.9" r="3.95"/><circle cx="412.2" cy="171.6" r="3.95"/><circle cx="161.5" cy="208.7" r="3.95"/><circle cx="345.6" cy="196.4" r="3.95"/><circle cx="255.8" cy="195.0" r="3.95"/><circle cx="351.7" cy="184.8" r="3.95"/><circle cx="151.0" cy="206.7" r="3.95"/><circle cx="297.3" cy="192.5" r="3.95"/><circle cx="174.7" cy="204.7" r="3.95"/><circle cx="327.7" cy="188.9" r="3.95"/><circle cx="390.6" cy="176.9" r="3.95"/><circle cx="443.7" cy="161.2" r="3.95"/><circle cx="362.1" cy="189.9" r="3.95"/><circle cx="470.8" cy="150.4" r="3.95"/><circle cx="296.4" cy="195.7" r="3.95"/><circle cx="193.4" cy="197.6" r="3.95"/><circle cx="176.7" cy="203.4" r="3.95"/><circle cx="353.0" cy="196.3" r="3.95"/><circle cx="454.0" cy="155.6" r="3.95"/><circle cx="448.9" cy="154.3" r="3.95"/><circle cx="357.5" cy="194.1" r="3.95"/><circle cx="333.4" cy="191.7" r="3.95"/><circle cx="144.0" cy="212.5" r="3.95"/><circle cx="155.0" cy="210.7" r="3.95"/><circle cx="491.3" cy="146.8" r="3.95"/><circle cx="124.2" cy="215.9" r="3.95"/><circle cx="147.7" cy="212.2" r="3.95"/><circle cx="128.6" cy="215.4" r="3.95"/><circle cx="475.3" cy="151.8" r="3.95"/><circle cx="313.0" cy="187.6" r="3.95"/><circle cx="419.4" cy="175.2" r="3.95"/><circle cx="405.0" cy="176.3" r="3.95"/><circle cx="165.5" cy="209.4" r="3.95"/><circle cx="218.2" cy="200.5" r="3.95"/><circle cx="469.4" cy="145.8" r="3.95"/><circle cx="386.8" cy="175.8" r="3.95"/><circle cx="332.2" cy="195.7" r="3.95"/><circle cx="194.7" cy="200.5" r="3.95"/><circle cx="241.1" cy="197.2" r="3.95"/><circle cx="201.9" cy="199.8" r="3.95"/><circle cx="273.5" cy="192.0" r="3.95"/><circle cx="385.6" cy="180.3" r="3.95"/><circle cx="157.1" cy="206.2" r="3.95"/><circle cx="315.2" cy="188.4" r="3.95"/><circle cx="377.2" cy="185.5" r="3.95"/><circle cx="503.5" cy="143.2" r="3.95"/><circle cx="434.9" cy="167.1" r="3.95"/><circle cx="208.5" cy="203.6" r="3.95"/><circle cx="346.4" cy="184.7" r="3.95"/><circle cx="475.1" cy="155.2" r="3.95"/><circle cx="356.9" cy="186.9" r="3.95"/><circle cx="234.3" cy="204.2" r="3.95"/><circle cx="495.3" cy="144.2" r="3.95"/><circle cx="361.5" cy="194.3" r="3.95"/><circle cx="229.1" cy="196.7" r="3.95"/><circle cx="188.2" cy="200.6" r="3.95"/><circle cx="178.8" cy="203.2" r="3.95"/><circle cx="384.1" cy="184.2" r="3.95"/><circle cx="496.7" cy="146.5" r="3.95"/><circle cx="418.0" cy="171.2" r="3.95"/><circle cx="253.1" cy="198.5" r="3.95"/><circle cx="153.4" cy="209.3" r="3.95"/><circle cx="486.1" cy="149.4" r="3.95"/><circle cx="423.6" cy="172.6" r="3.95"/><circle cx="374.2" cy="184.7" r="3.95"/><circle cx="399.0" cy="181.3" r="3.95"/><circle cx="156.6" cy="207.0" r="3.95"/><circle cx="187.1" cy="204.1" r="3.95"/><circle cx="368.7" cy="176.1" r="3.95"/><circle cx="261.5" cy="189.5" r="3.95"/><circle cx="471.6" cy="148.2" r="3.95"/><circle cx="174.5" cy="207.7" r="3.95"/><circle cx="207.7" cy="201.4" r="3.95"/><circle cx="257.9" cy="198.5" r="3.95"/><circle cx="224.7" cy="197.1" r="3.95"/><circle cx="143.8" cy="211.5" r="3.95"/><circle cx="359.3" cy="184.5" r="3.95"/><circle cx="324.8" cy="191.9" r="3.95"/><circle cx="330.2" cy="197.6" r="3.95"/><circle cx="476.4" cy="149.4" r="3.95"/><circle cx="404.0" cy="176.9" r="3.95"/><circle cx="289.5" cy="199.9" r="3.95"/><circle cx="302.2" cy="193.8" r="3.95"/><circle cx="398.9" cy="180.4" r="3.95"/><circle cx="295.6" cy="193.4" r="3.95"/><circle cx="197.7" cy="203.6" r="3.95"/><circle cx="137.5" cy="213.7" r="3.95"/><circle cx="441.0" cy="163.9" r="3.95"/><circle cx="461.4" cy="153.1" r="3.95"/><circle cx="316.4" cy="197.7" r="3.95"/><circle cx="441.0" cy="162.1" r="3.95"/><circle cx="250.7" cy="197.2" r="3.95"/><circle cx="124.4" cy="216.3" r="3.95"/><circle cx="202.4" cy="204.9" r="3.95"/><circle cx="188.9" cy="204.7" r="3.95"/><circle cx="206.3" cy="201.7" r="3.95"/><circle cx="502.2" cy="143.4" r="3.95"/><circle cx="495.7" cy="144.2" r="3.95"/><circle cx="365.0" cy="191.3" r="3.95"/><circle cx="308.0" cy="195.4" r="3.95"/><circle cx="503.7" cy="143.1" r="3.95"/><circle cx="201.5" cy="201.6" r="3.95"/><circle cx="375.1" cy="174.4" r="3.95"/><circle cx="480.1" cy="151.1" r="3.95"/><circle cx="308.6" cy="185.9" r="3.95"/><circle cx="189.0" cy="205.7" r="3.95"/><circle cx="244.7" cy="197.1" r="3.95"/><circle cx="492.3" cy="146.8" r="3.95"/><circle cx="305.2" cy="192.8" r="3.95"/><circle cx="285.3" cy="199.0" r="3.95"/><circle cx="334.8" cy="194.7" r="3.95"/><circle cx="277.6" cy="194.3" r="3.95"/><circle cx="330.3" cy="196.3" r="3.95"/><circle cx="488.6" cy="148.5" r="3.95"/><circle cx="338.7" cy="181.5" r="3.95"/><circle cx="241.7" cy="199.7" r="3.95"/><circle cx="420.5" cy="170.4" r="3.95"/><circle cx="249.2" cy="198.0" r="3.95"/><circle cx="398.3" cy="175.1" r="3.95"/><circle cx="299.0" cy="186.9" r="3.95"/><circle cx="196.3" cy="196.3" r="3.95"/><circle cx="233.7" cy="198.4" r="3.95"/><circle cx="495.0" cy="145.8" r="3.95"/><circle cx="277.8" cy="192.2" r="3.95"/><circle cx="162.2" cy="206.5" r="3.95"/><circle cx="153.3" cy="211.0" r="3.95"/><circle cx="250.7" cy="193.5" r="3.95"/><circle cx="182.2" cy="201.5" r="3.95"/><circle cx="385.1" cy="174.3" r="3.95"/><circle cx="279.0" cy="195.2" r="3.95"/><circle cx="143.2" cy="212.3" r="3.95"/><circle cx="248.8" cy="193.0" r="3.95"/><circle cx="235.2" cy="202.4" r="3.95"/><circle cx="395.1" cy="180.6" r="3.95"/><circle cx="400.9" cy="174.7" r="3.95"/><circle cx="243.4" cy="195.8" r="3.95"/><circle cx="355.7" cy="194.2" r="3.95"/><circle cx="452.8" cy="156.3" r="3.95"/><circle cx="201.6" cy="200.2" r="3.95"/><circle cx="150.4" cy="211.3" r="3.95"/><circle cx="446.3" cy="153.1" r="3.95"/><circle cx="267.7" cy="202.9" r="3.95"/><circle cx="362.8" cy="183.1" r="3.95"/><circle cx="156.7" cy="209.4" r="3.95"/><circle cx="372.6" cy="190.2" r="3.95"/><circle cx="470.3" cy="152.6" r="3.95"/><circle cx="263.4" cy="198.0" r="3.95"/><circle cx="300.8" cy="196.3" r="3.95"/><circle cx="427.4" cy="170.8" r="3.95"/><circle cx="401.2" cy="175.3" r="3.95"/><circle cx="259.7" cy="195.0" r="3.95"/><circle cx="265.5" cy="203.0" r="3.95"/><circle cx="388.2" cy="179.3" r="3.95"/><circle cx="360.3" cy="186.0" r="3.95"/><circle cx="208.9" cy="202.0" r="3.95"/><circle cx="420.7" cy="168.6" r="3.95"/><circle cx="405.5" cy="173.6" r="3.95"/><circle cx="320.8" cy="193.2" r="3.95"/><circle cx="166.2" cy="205.0" r="3.95"/><circle cx="205.4" cy="202.7" r="3.95"/><circle cx="174.2" cy="204.3" r="3.95"/><circle cx="458.0" cy="157.0" r="3.95"/><circle cx="490.7" cy="149.8" r="3.95"/><circle cx="444.8" cy="157.8" r="3.95"/><circle cx="413.4" cy="170.3" r="3.95"/><circle cx="341.1" cy="183.7" r="3.95"/><circle cx="393.1" cy="181.0" r="3.95"/><circle cx="479.1" cy="151.7" r="3.95"/><circle cx="480.2" cy="150.7" r="3.95"/><circle cx="244.3" cy="196.7" r="3.95"/><circle cx="205.2" cy="200.8" r="3.95"/><circle cx="469.9" cy="145.2" r="3.95"/><circle cx="231.6" cy="200.0" r="3.95"/><circle cx="324.7" cy="195.5" r="3.95"/><circle cx="381.7" cy="175.4" r="3.95"/><circle cx="433.9" cy="165.8" r="3.95"/><circle cx="447.3" cy="159.0" r="3.95"/><circle cx="373.5" cy="185.3" r="3.95"/><circle cx="183.1" cy="204.6" r="3.95"/><circle cx="389.9" cy="183.1" r="3.95"/><circle cx="279.5" cy="192.1" r="3.95"/><circle cx="445.7" cy="159.5" r="3.95"/><circle cx="461.8" cy="150.1" r="3.95"/><circle cx="398.6" cy="174.4" r="3.95"/><circle cx="280.2" cy="201.8" r="3.95"/><circle cx="442.8" cy="160.4" r="3.95"/><circle cx="184.3" cy="202.6" r="3.95"/><circle cx="434.1" cy="168.6" r="3.95"/><circle cx="269.8" cy="195.7" r="3.95"/><circle cx="450.3" cy="155.8" r="3.95"/><circle cx="415.0" cy="167.2" r="3.95"/><circle cx="148.9" cy="208.3" r="3.95"/><circle cx="334.3" cy="193.9" r="3.95"/><circle cx="275.8" cy="198.8" r="3.95"/><circle cx="195.9" cy="197.0" r="3.95"/><circle cx="225.8" cy="191.8" r="3.95"/><circle cx="490.8" cy="150.1" r="3.95"/><circle cx="313.7" cy="193.1" r="3.95"/><circle cx="383.8" cy="182.9" r="3.95"/><circle cx="285.7" cy="201.4" r="3.95"/><circle cx="418.0" cy="167.8" r="3.95"/><circle cx="489.6" cy="148.7" r="3.95"/><circle cx="294.0" cy="196.9" r="3.95"/><circle cx="264.3" cy="190.1" r="3.95"/><circle cx="305.3" cy="197.2" r="3.95"/><circle cx="325.6" cy="196.2" r="3.95"/><circle cx="319.2" cy="200.5" r="3.95"/><circle cx="310.7" cy="189.8" r="3.95"/><circle cx="140.6" cy="210.8" r="3.95"/><circle cx="490.7" cy="148.0" r="3.95"/><circle cx="358.2" cy="193.7" r="3.95"/><circle cx="197.3" cy="204.2" r="3.95"/><circle cx="345.3" cy="193.9" r="3.95"/><circle cx="493.9" cy="144.5" r="3.95"/><circle cx="299.5" cy="187.4" r="3.95"/><circle cx="347.9" cy="186.8" r="3.95"/><circle cx="290.5" cy="195.0" r="3.95"/><circle cx="224.8" cy="193.0" r="3.95"/><circle cx="448.8" cy="154.3" r="3.95"/><circle cx="355.5" cy="187.4" r="3.95"/><circle cx="291.3" cy="198.0" r="3.95"/><circle cx="333.8" cy="193.4" r="3.95"/><circle cx="348.0" cy="184.2" r="3.95"/><circle cx="468.7" cy="156.8" r="3.95"/><circle cx="406.7" cy="172.3" r="3.95"/><circle cx="363.2" cy="179.8" r="3.95"/><circle cx="462.4" cy="143.4" r="3.95"/><circle cx="377.0" cy="187.0" r="3.95"/><circle cx="316.8" cy="191.5" r="3.95"/><circle cx="235.9" cy="195.7" r="3.95"/><circle cx="229.2" cy="202.1" r="3.95"/><circle cx="369.2" cy="178.2" r="3.95"/><circle cx="271.4" cy="192.5" r="3.95"/><circle cx="409.9" cy="170.6" r="3.95"/><circle cx="458.7" cy="155.3" r="3.95"/><circle cx="171.8" cy="204.2" r="3.95"/><circle cx="254.5" cy="191.8" r="3.95"/><circle cx="327.2" cy="188.8" r="3.95"/><circle cx="357.8" cy="186.1" r="3.95"/><circle cx="438.3" cy="156.1" r="3.95"/><circle cx="366.5" cy="189.6" r="3.95"/><circle cx="382.3" cy="183.2" r="3.95"/><circle cx="488.8" cy="144.1" r="3.95"/><circle cx="493.1" cy="146.6" r="3.95"/><circle cx="218.2" cy="195.8" r="3.95"/><circle cx="172.3" cy="206.9" r="3.95"/><circle cx="291.1" cy="195.4" r="3.95"/><circle cx="147.1" cy="208.4" r="3.95"/><circle cx="133.2" cy="215.9" r="3.95"/><circle cx="136.6" cy="213.9" r="3.95"/><circle cx="260.7" cy="192.4" r="3.95"/><circle cx="303.4" cy="197.0" r="3.95"/><circle cx="192.0" cy="198.7" r="3.95"/><circle cx="404.9" cy="172.2" r="3.95"/><circle cx="203.4" cy="201.9" r="3.95"/><circle cx="281.4" cy="198.5" r="3.95"/><circle cx="202.6" cy="198.4" r="3.95"/><circle cx="354.9" cy="194.3" r="3.95"/><circle cx="286.8" cy="187.4" r="3.95"/><circle cx="448.5" cy="154.9" r="3.95"/><circle cx="165.3" cy="205.7" r="3.95"/><circle cx="483.0" cy="145.2" r="3.95"/><circle cx="454.4" cy="147.5" r="3.95"/><circle cx="442.2" cy="164.9" r="3.95"/><circle cx="450.2" cy="149.3" r="3.95"/><circle cx="319.4" cy="197.6" r="3.95"/><circle cx="465.9" cy="154.8" r="3.95"/><circle cx="419.0" cy="167.7" r="3.95"/><circle cx="313.1" cy="187.8" r="3.95"/><circle cx="332.3" cy="191.6" r="3.95"/><circle cx="412.2" cy="171.5" r="3.95"/><circle cx="212.9" cy="201.1" r="3.95"/><circle cx="284.4" cy="196.9" r="3.95"/><circle cx="320.2" cy="192.3" r="3.95"/><circle cx="349.1" cy="188.9" r="3.95"/><circle cx="268.4" cy="194.6" r="3.95"/><circle cx="162.9" cy="208.2" r="3.95"/><circle cx="404.1" cy="170.1" r="3.95"/><circle cx="340.3" cy="190.5" r="3.95"/><circle cx="466.7" cy="147.0" r="3.95"/><circle cx="385.6" cy="181.3" r="3.95"/><circle cx="482.5" cy="155.0" r="3.95"/><circle cx="248.3" cy="196.9" r="3.95"/><circle cx="391.4" cy="179.4" r="3.95"/><circle cx="352.0" cy="189.5" r="3.95"/><circle cx="332.4" cy="186.3" r="3.95"/><circle cx="470.8" cy="155.4" r="3.95"/><circle cx="407.2" cy="178.7" r="3.95"/><circle cx="316.5" cy="187.2" r="3.95"/><circle cx="236.9" cy="196.6" r="3.95"/><circle cx="321.0" cy="191.7" r="3.95"/><circle cx="350.9" cy="194.0" r="3.95"/><circle cx="438.7" cy="159.6" r="3.95"/><circle cx="461.3" cy="144.8" r="3.95"/><circle cx="482.2" cy="148.1" r="3.95"/><circle cx="326.4" cy="189.1" r="3.95"/><circle cx="292.1" cy="196.0" r="3.95"/><circle cx="151.4" cy="213.6" r="3.95"/><circle cx="158.3" cy="209.3" r="3.95"/><circle cx="243.2" cy="193.6" r="3.95"/><circle cx="398.7" cy="175.6" r="3.95"/><circle cx="385.2" cy="183.3" r="3.95"/><circle cx="367.7" cy="180.0" r="3.95"/><circle cx="328.4" cy="192.3" r="3.95"/><circle cx="445.5" cy="153.3" r="3.95"/><circle cx="456.1" cy="150.0" r="3.95"/><circle cx="452.5" cy="150.4" r="3.95"/><circle cx="492.4" cy="147.8" r="3.95"/><circle cx="324.9" cy="188.1" r="3.95"/><circle cx="373.5" cy="179.0" r="3.95"/><circle cx="266.5" cy="193.1" r="3.95"/><circle cx="410.9" cy="168.5" r="3.95"/><circle cx="426.6" cy="169.1" r="3.95"/><circle cx="371.7" cy="191.3" r="3.95"/><circle cx="324.5" cy="196.9" r="3.95"/><circle cx="127.1" cy="215.6" r="3.95"/><circle cx="222.9" cy="198.7" r="3.95"/><circle cx="413.9" cy="173.7" r="3.95"/><circle cx="401.4" cy="177.6" r="3.95"/><circle cx="265.9" cy="192.3" r="3.95"/><circle cx="370.6" cy="185.1" r="3.95"/><circle cx="423.9" cy="172.0" r="3.95"/><circle cx="292.4" cy="199.0" r="3.95"/><circle cx="355.8" cy="185.7" r="3.95"/><circle cx="485.4" cy="147.1" r="3.95"/><circle cx="375.4" cy="179.9" r="3.95"/><circle cx="303.0" cy="200.1" r="3.95"/><circle cx="353.0" cy="196.5" r="3.95"/><circle cx="404.6" cy="171.6" r="3.95"/><circle cx="372.4" cy="181.7" r="3.95"/><circle cx="421.7" cy="167.5" r="3.95"/><circle cx="136.9" cy="214.3" r="3.95"/><circle cx="128.4" cy="215.3" r="3.95"/><circle cx="158.3" cy="212.4" r="3.95"/><circle cx="258.9" cy="192.3" r="3.95"/><circle cx="128.2" cy="215.5" r="3.95"/><circle cx="381.6" cy="184.5" r="3.95"/><circle cx="416.1" cy="170.5" r="3.95"/><circle cx="218.2" cy="203.4" r="3.95"/><circle cx="469.3" cy="154.4" r="3.95"/><circle cx="255.7" cy="190.8" r="3.95"/><circle cx="371.6" cy="185.5" r="3.95"/><circle cx="446.8" cy="157.8" r="3.95"/><circle cx="393.4" cy="178.2" r="3.95"/><circle cx="378.2" cy="180.1" r="3.95"/><circle cx="278.0" cy="192.5" r="3.95"/><circle cx="416.4" cy="165.9" r="3.95"/><circle cx="168.0" cy="206.2" r="3.95"/><circle cx="298.5" cy="191.2" r="3.95"/><circle cx="256.2" cy="194.5" r="3.95"/><circle cx="232.0" cy="193.2" r="3.95"/><circle cx="282.8" cy="203.7" r="3.95"/><circle cx="388.1" cy="179.1" r="3.95"/><circle cx="471.4" cy="157.6" r="3.95"/><circle cx="276.0" cy="203.6" r="3.95"/><circle cx="360.9" cy="191.8" r="3.95"/><circle cx="333.0" cy="193.9" r="3.95"/><circle cx="344.2" cy="183.4" r="3.95"/><circle cx="232.5" cy="204.1" r="3.95"/><circle cx="190.3" cy="204.1" r="3.95"/><circle cx="248.0" cy="193.5" r="3.95"/><circle cx="381.9" cy="177.8" r="3.95"/><circle cx="482.2" cy="149.2" r="3.95"/><circle cx="219.4" cy="194.3" r="3.95"/><circle cx="191.1" cy="201.3" r="3.95"/><circle cx="229.7" cy="198.9" r="3.95"/><circle cx="418.3" cy="172.2" r="3.95"/><circle cx="202.8" cy="198.9" r="3.95"/><circle cx="244.5" cy="197.3" r="3.95"/><circle cx="327.3" cy="192.2" r="3.95"/><circle cx="403.5" cy="177.1" r="3.95"/><circle cx="500.4" cy="144.5" r="3.95"/><circle cx="416.4" cy="176.0" r="3.95"/><circle cx="315.9" cy="186.8" r="3.95"/><circle cx="291.5" cy="197.4" r="3.95"/><circle cx="243.4" cy="191.7" r="3.95"/><circle cx="444.4" cy="157.0" r="3.95"/><circle cx="191.5" cy="199.2" r="3.95"/><circle cx="166.3" cy="206.3" r="3.95"/><circle cx="500.0" cy="143.6" r="3.95"/><circle cx="244.7" cy="196.5" r="3.95"/><circle cx="155.1" cy="207.5" r="3.95"/><circle cx="148.3" cy="212.4" r="3.95"/><circle cx="485.7" cy="148.3" r="3.95"/><circle cx="260.8" cy="201.9" r="3.95"/><circle cx="189.7" cy="205.8" r="3.95"/><circle cx="488.8" cy="145.7" r="3.95"/><circle cx="327.4" cy="190.9" r="3.95"/><circle cx="151.2" cy="207.9" r="3.95"/><circle cx="189.8" cy="203.6" r="3.95"/><circle cx="210.3" cy="196.7" r="3.95"/><circle cx="136.5" cy="214.5" r="3.95"/><circle cx="235.2" cy="199.8" r="3.95"/><circle cx="191.0" cy="202.7" r="3.95"/><circle cx="476.9" cy="149.0" r="3.95"/><circle cx="313.9" cy="200.7" r="3.95"/><circle cx="383.0" cy="181.5" r="3.95"/><circle cx="444.2" cy="162.0" r="3.95"/><circle cx="173.3" cy="206.5" r="3.95"/><circle cx="438.0" cy="161.3" r="3.95"/><circle cx="425.5" cy="161.7" r="3.95"/><circle cx="396.4" cy="175.0" r="3.95"/><circle cx="378.6" cy="181.8" r="3.95"/><circle cx="165.6" cy="208.0" r="3.95"/><circle cx="496.2" cy="146.8" r="3.95"/><circle cx="313.5" cy="193.1" r="3.95"/><circle cx="358.9" cy="189.6" r="3.95"/><circle cx="189.7" cy="202.1" r="3.95"/><circle cx="233.7" cy="192.0" r="3.95"/><circle cx="227.6" cy="196.5" r="3.95"/><circle cx="180.6" cy="203.3" r="3.95"/><circle cx="229.0" cy="199.2" r="3.95"/><circle cx="148.7" cy="211.5" r="3.95"/><circle cx="327.2" cy="188.4" r="3.95"/><circle cx="205.6" cy="203.3" r="3.95"/><circle cx="341.7" cy="196.3" r="3.95"/><circle cx="172.0" cy="204.8" r="3.95"/><circle cx="441.2" cy="162.6" r="3.95"/><circle cx="439.4" cy="162.1" r="3.95"/><circle cx="225.1" cy="199.4" r="3.95"/><circle cx="460.4" cy="148.7" r="3.95"/><circle cx="246.1" cy="198.7" r="3.95"/><circle cx="202.4" cy="203.8" r="3.95"/><circle cx="256.5" cy="191.0" r="3.95"/><circle cx="412.7" cy="170.0" r="3.95"/><circle cx="294.3" cy="197.0" r="3.95"/><circle cx="299.3" cy="187.2" r="3.95"/><circle cx="299.5" cy="196.9" r="3.95"/><circle cx="363.2" cy="189.9" r="3.95"/><circle cx="502.9" cy="142.8" r="3.95"/><circle cx="225.7" cy="193.1" r="3.95"/><circle cx="451.0" cy="148.8" r="3.95"/><circle cx="217.2" cy="195.8" r="3.95"/><circle cx="191.7" cy="198.4" r="3.95"/><circle cx="224.4" cy="192.0" r="3.95"/><circle cx="282.4" cy="195.4" r="3.95"/><circle cx="383.8" cy="185.8" r="3.95"/><circle cx="188.4" cy="201.0" r="3.95"/><circle cx="374.4" cy="182.1" r="3.95"/><circle cx="490.2" cy="146.5" r="3.95"/><circle cx="321.6" cy="191.6" r="3.95"/><circle cx="228.6" cy="196.3" r="3.95"/><circle cx="227.0" cy="192.8" r="3.95"/><circle cx="501.4" cy="143.3" r="3.95"/><circle cx="482.3" cy="146.1" r="3.95"/><circle cx="316.6" cy="192.3" r="3.95"/><circle cx="202.3" cy="200.2" r="3.95"/><circle cx="164.5" cy="203.5" r="3.95"/><circle cx="325.6" cy="191.1" r="3.95"/><circle cx="244.2" cy="196.6" r="3.95"/><circle cx="503.2" cy="143.2" r="3.95"/><circle cx="236.7" cy="201.5" r="3.95"/><circle cx="242.8" cy="195.3" r="3.95"/><circle cx="236.0" cy="200.3" r="3.95"/><circle cx="446.2" cy="156.5" r="3.95"/><circle cx="441.6" cy="160.1" r="3.95"/><circle cx="128.6" cy="215.8" r="3.95"/><circle cx="189.5" cy="199.8" r="3.95"/><circle cx="203.1" cy="196.1" r="3.95"/><circle cx="129.8" cy="215.0" r="3.95"/><circle cx="380.1" cy="184.6" r="3.95"/><circle cx="265.1" cy="192.2" r="3.95"/><circle cx="329.7" cy="198.8" r="3.95"/><circle cx="179.1" cy="205.5" r="3.95"/><circle cx="259.6" cy="198.1" r="3.95"/><circle cx="501.4" cy="143.5" r="3.95"/><circle cx="202.0" cy="201.7" r="3.95"/><circle cx="255.4" cy="200.8" r="3.95"/><circle cx="458.0" cy="155.9" r="3.95"/><circle cx="388.5" cy="178.8" r="3.95"/><circle cx="298.7" cy="190.7" r="3.95"/><circle cx="206.0" cy="205.1" r="3.95"/><circle cx="414.8" cy="172.9" r="3.95"/><circle cx="430.2" cy="167.0" r="3.95"/><circle cx="213.5" cy="198.8" r="3.95"/><circle cx="146.0" cy="209.0" r="3.95"/><circle cx="185.0" cy="206.4" r="3.95"/><circle cx="195.2" cy="197.3" r="3.95"/><circle cx="141.2" cy="212.3" r="3.95"/><circle cx="443.5" cy="157.8" r="3.95"/><circle cx="457.8" cy="156.8" r="3.95"/><circle cx="277.7" cy="191.8" r="3.95"/><circle cx="372.8" cy="179.1" r="3.95"/><circle cx="189.7" cy="204.0" r="3.95"/><circle cx="183.3" cy="204.7" r="3.95"/><circle cx="436.6" cy="165.8" r="3.95"/><circle cx="201.4" cy="201.4" r="3.95"/><circle cx="430.3" cy="171.4" r="3.95"/><circle cx="295.8" cy="195.0" r="3.95"/><circle cx="179.8" cy="205.0" r="3.95"/><circle cx="330.0" cy="196.0" r="3.95"/><circle cx="289.6" cy="199.9" r="3.95"/><circle cx="138.6" cy="213.6" r="3.95"/><circle cx="307.8" cy="191.1" r="3.95"/><circle cx="390.3" cy="173.4" r="3.95"/><circle cx="234.1" cy="193.6" r="3.95"/><circle cx="163.3" cy="207.9" r="3.95"/><circle cx="145.2" cy="208.0" r="3.95"/><circle cx="355.5" cy="186.3" r="3.95"/><circle cx="139.4" cy="214.6" r="3.95"/><circle cx="400.7" cy="174.0" r="3.95"/><circle cx="223.5" cy="194.7" r="3.95"/><circle cx="318.9" cy="193.1" r="3.95"/><circle cx="270.1" cy="187.8" r="3.95"/><circle cx="470.3" cy="152.8" r="3.95"/><circle cx="463.6" cy="147.6" r="3.95"/><circle cx="145.6" cy="211.0" r="3.95"/><circle cx="302.7" cy="197.4" r="3.95"/><circle cx="475.7" cy="146.7" r="3.95"/><circle cx="466.6" cy="150.2" r="3.95"/><circle cx="275.2" cy="191.2" r="3.95"/><circle cx="376.3" cy="188.8" r="3.95"/><circle cx="321.2" cy="199.1" r="3.95"/><circle cx="387.1" cy="179.7" r="3.95"/><circle cx="359.2" cy="181.0" r="3.95"/><circle cx="197.3" cy="201.7" r="3.95"/><circle cx="463.5" cy="158.4" r="3.95"/><circle cx="478.8" cy="151.7" r="3.95"/><circle cx="503.5" cy="143.2" r="3.95"/><circle cx="419.8" cy="169.2" r="3.95"/><circle cx="453.3" cy="155.4" r="3.95"/><circle cx="355.7" cy="189.0" r="3.95"/><circle cx="385.2" cy="182.3" r="3.95"/><circle cx="452.5" cy="160.6" r="3.95"/><circle cx="328.1" cy="194.8" r="3.95"/><circle cx="238.3" cy="200.2" r="3.95"/><circle cx="482.1" cy="150.5" r="3.95"/><circle cx="236.2" cy="199.6" r="3.95"/><circle cx="332.9" cy="192.5" r="3.95"/><circle cx="211.2" cy="193.4" r="3.95"/><circle cx="372.8" cy="183.7" r="3.95"/><circle cx="474.1" cy="157.4" r="3.95"/><circle cx="131.5" cy="216.0" r="3.95"/><circle cx="219.9" cy="200.3" r="3.95"/><circle cx="432.6" cy="167.6" r="3.95"/><circle cx="313.7" cy="193.2" r="3.95"/><circle cx="151.5" cy="206.7" r="3.95"/><circle cx="199.5" cy="202.6" r="3.95"/><circle cx="245.3" cy="196.9" r="3.95"/><circle cx="374.0" cy="177.9" r="3.95"/><circle cx="477.4" cy="154.3" r="3.95"/><circle cx="462.4" cy="156.3" r="3.95"/><circle cx="370.6" cy="180.9" r="3.95"/><circle cx="207.0" cy="196.8" r="3.95"/><circle cx="497.8" cy="146.3" r="3.95"/><circle cx="377.8" cy="181.5" r="3.95"/><circle cx="284.6" cy="197.0" r="3.95"/><circle cx="149.8" cy="212.8" r="3.95"/><circle cx="321.1" cy="186.6" r="3.95"/><circle cx="270.8" cy="192.6" r="3.95"/><circle cx="296.1" cy="195.4" r="3.95"/><circle cx="184.2" cy="199.2" r="3.95"/><circle cx="496.4" cy="146.6" r="3.95"/><circle cx="460.9" cy="152.5" r="3.95"/><circle cx="375.8" cy="181.4" r="3.95"/><circle cx="427.5" cy="161.7" r="3.95"/><circle cx="301.9" cy="200.4" r="3.95"/><circle cx="471.9" cy="154.5" r="3.95"/><circle cx="303.4" cy="189.8" r="3.95"/><circle cx="427.3" cy="164.8" r="3.95"/><circle cx="288.3" cy="192.8" r="3.95"/><circle cx="215.4" cy="199.5" r="3.95"/><circle cx="315.9" cy="194.9" r="3.95"/><circle cx="259.5" cy="200.1" r="3.95"/><circle cx="223.3" cy="196.5" r="3.95"/><circle cx="178.5" cy="203.6" r="3.95"/><circle cx="400.4" cy="176.6" r="3.95"/><circle cx="492.7" cy="148.0" r="3.95"/><circle cx="426.5" cy="165.6" r="3.95"/><circle cx="497.3" cy="144.1" r="3.95"/><circle cx="369.9" cy="179.3" r="3.95"/><circle cx="418.2" cy="170.5" r="3.95"/><circle cx="154.8" cy="208.6" r="3.95"/><circle cx="389.5" cy="181.4" r="3.95"/><circle cx="465.9" cy="155.9" r="3.95"/><circle cx="187.1" cy="198.8" r="3.95"/><circle cx="187.9" cy="205.9" r="3.95"/><circle cx="376.6" cy="179.9" r="3.95"/><circle cx="321.1" cy="190.3" r="3.95"/><circle cx="447.4" cy="159.4" r="3.95"/><circle cx="212.5" cy="203.2" r="3.95"/><circle cx="150.5" cy="213.2" r="3.95"/><circle cx="205.1" cy="202.7" r="3.95"/><circle cx="252.9" cy="198.4" r="3.95"/><circle cx="454.1" cy="158.3" r="3.95"/><circle cx="309.6" cy="192.2" r="3.95"/><circle cx="312.7" cy="196.5" r="3.95"/><circle cx="125.6" cy="215.8" r="3.95"/><circle cx="393.6" cy="180.3" r="3.95"/><circle cx="354.8" cy="185.6" r="3.95"/><circle cx="334.8" cy="194.4" r="3.95"/><circle cx="313.7" cy="187.4" r="3.95"/><circle cx="416.5" cy="164.7" r="3.95"/><circle cx="286.9" cy="199.9" r="3.95"/><circle cx="390.5" cy="175.9" r="3.95"/><circle cx="332.9" cy="190.9" r="3.95"/><circle cx="498.2" cy="145.7" r="3.95"/><circle cx="205.8" cy="201.4" r="3.95"/><circle cx="239.9" cy="191.1" r="3.95"/><circle cx="379.3" cy="176.4" r="3.95"/><circle cx="350.7" cy="183.6" r="3.95"/><circle cx="426.0" cy="169.6" r="3.95"/><circle cx="498.0" cy="145.9" r="3.95"/><circle cx="434.3" cy="169.2" r="3.95"/><circle cx="157.5" cy="206.0" r="3.95"/><circle cx="430.1" cy="161.7" r="3.95"/><circle cx="439.4" cy="167.8" r="3.95"/><circle cx="279.8" cy="202.8" r="3.95"/><circle cx="254.6" cy="196.6" r="3.95"/><circle cx="193.6" cy="201.2" r="3.95"/><circle cx="406.4" cy="171.3" r="3.95"/><circle cx="340.9" cy="188.5" r="3.95"/><circle cx="327.6" cy="193.1" r="3.95"/><circle cx="461.3" cy="148.9" r="3.95"/><circle cx="450.4" cy="153.6" r="3.95"/><circle cx="490.3" cy="147.8" r="3.95"/><circle cx="140.8" cy="212.9" r="3.95"/><circle cx="310.1" cy="189.6" r="3.95"/><circle cx="158.3" cy="211.8" r="3.95"/><circle cx="402.5" cy="179.5" r="3.95"/><circle cx="497.9" cy="146.1" r="3.95"/><circle cx="459.1" cy="154.9" r="3.95"/><circle cx="344.6" cy="189.8" r="3.95"/><circle cx="442.0" cy="159.2" r="3.95"/><circle cx="410.6" cy="171.4" r="3.95"/><circle cx="421.0" cy="168.3" r="3.95"/><circle cx="366.2" cy="177.4" r="3.95"/><circle cx="292.1" cy="195.2" r="3.95"/><circle cx="428.1" cy="165.3" r="3.95"/><circle cx="314.5" cy="196.3" r="3.95"/><circle cx="454.5" cy="150.0" r="3.95"/><circle cx="269.3" cy="201.7" r="3.95"/><circle cx="365.5" cy="188.9" r="3.95"/><circle cx="311.0" cy="190.0" r="3.95"/><circle cx="164.8" cy="203.7" r="3.95"/><circle cx="362.8" cy="178.7" r="3.95"/><circle cx="255.1" cy="193.0" r="3.95"/><circle cx="273.5" cy="194.3" r="3.95"/><circle cx="429.9" cy="166.3" r="3.95"/><circle cx="328.5" cy="187.4" r="3.95"/><circle cx="146.6" cy="212.8" r="3.95"/><circle cx="447.7" cy="159.6" r="3.95"/><circle cx="470.5" cy="155.1" r="3.95"/><circle cx="365.0" cy="189.7" r="3.95"/><circle cx="464.7" cy="158.5" r="3.95"/><circle cx="199.7" cy="203.4" r="3.95"/><circle cx="504.3" cy="142.8" r="3.95"/><circle cx="200.3" cy="199.8" r="3.95"/><circle cx="256.6" cy="193.1" r="3.95"/><circle cx="244.8" cy="199.0" r="3.95"/><circle cx="277.5" cy="196.4" r="3.95"/><circle cx="479.9" cy="149.2" r="3.95"/><circle cx="432.5" cy="166.2" r="3.95"/><circle cx="300.4" cy="188.0" r="3.95"/><circle cx="150.0" cy="210.4" r="3.95"/><circle cx="443.1" cy="156.4" r="3.95"/><circle cx="306.6" cy="189.4" r="3.95"/><circle cx="329.8" cy="190.7" r="3.95"/><circle cx="128.0" cy="215.8" r="3.95"/><circle cx="317.9" cy="187.8" r="3.95"/><circle cx="219.6" cy="192.3" r="3.95"/><circle cx="401.8" cy="179.0" r="3.95"/><circle cx="354.1" cy="195.2" r="3.95"/><circle cx="429.2" cy="164.4" r="3.95"/><circle cx="226.0" cy="197.1" r="3.95"/><circle cx="243.6" cy="200.4" r="3.95"/><circle cx="460.9" cy="156.0" r="3.95"/><circle cx="194.0" cy="199.1" r="3.95"/><circle cx="384.5" cy="174.0" r="3.95"/><circle cx="352.4" cy="185.3" r="3.95"/><circle cx="494.7" cy="145.6" r="3.95"/><circle cx="412.6" cy="176.8" r="3.95"/><circle cx="499.9" cy="144.4" r="3.95"/><circle cx="235.8" cy="192.9" r="3.95"/><circle cx="300.8" cy="189.7" r="3.95"/><circle cx="251.7" cy="193.6" r="3.95"/><circle cx="354.4" cy="185.8" r="3.95"/><circle cx="454.4" cy="161.4" r="3.95"/><circle cx="422.8" cy="162.5" r="3.95"/><circle cx="193.4" cy="206.1" r="3.95"/><circle cx="423.2" cy="171.0" r="3.95"/><circle cx="291.2" cy="191.0" r="3.95"/><circle cx="144.9" cy="208.6" r="3.95"/><circle cx="457.9" cy="156.0" r="3.95"/><circle cx="128.3" cy="215.6" r="3.95"/><circle cx="411.3" cy="175.0" r="3.95"/><circle cx="153.7" cy="207.4" r="3.95"/><circle cx="247.3" cy="201.5" r="3.95"/><circle cx="298.5" cy="194.5" r="3.95"/><circle cx="284.4" cy="195.8" r="3.95"/><circle cx="464.1" cy="150.9" r="3.95"/><circle cx="203.0" cy="197.3" r="3.95"/><circle cx="499.0" cy="144.6" r="3.95"/><circle cx="232.8" cy="203.9" r="3.95"/><circle cx="229.6" cy="195.2" r="3.95"/><circle cx="155.0" cy="211.3" r="3.95"/><circle cx="154.7" cy="209.5" r="3.95"/><circle cx="138.0" cy="214.5" r="3.95"/><circle cx="487.4" cy="144.8" r="3.95"/><circle cx="209.9" cy="204.4" r="3.95"/><circle cx="423.7" cy="170.1" r="3.95"/><circle cx="343.2" cy="186.4" r="3.95"/><circle cx="307.7" cy="186.4" r="3.95"/><circle cx="191.8" cy="197.9" r="3.95"/><circle cx="222.4" cy="193.6" r="3.95"/><circle cx="152.2" cy="209.4" r="3.95"/><circle cx="318.6" cy="185.7" r="3.95"/><circle cx="240.6" cy="191.2" r="3.95"/><circle cx="180.0" cy="200.6" r="3.95"/><circle cx="350.2" cy="187.2" r="3.95"/><circle cx="319.6" cy="188.8" r="3.95"/><circle cx="492.5" cy="147.3" r="3.95"/><circle cx="311.0" cy="192.1" r="3.95"/><circle cx="302.3" cy="192.7" r="3.95"/><circle cx="271.8" cy="195.9" r="3.95"/><circle cx="167.8" cy="209.0" r="3.95"/><circle cx="397.2" cy="179.4" r="3.95"/><circle cx="203.1" cy="196.7" r="3.95"/><circle cx="265.9" cy="198.8" r="3.95"/><circle cx="480.3" cy="150.3" r="3.95"/><circle cx="288.3" cy="197.7" r="3.95"/><circle cx="451.6" cy="156.9" r="3.95"/><circle cx="243.9" cy="196.0" r="3.95"/><circle cx="422.1" cy="173.2" r="3.95"/><circle cx="229.3" cy="199.2" r="3.95"/><circle cx="318.6" cy="197.4" r="3.95"/><circle cx="328.5" cy="193.2" r="3.95"/><circle cx="288.3" cy="191.4" r="3.95"/><circle cx="462.5" cy="146.5" r="3.95"/><circle cx="224.4" cy="202.5" r="3.95"/><circle cx="481.4" cy="154.7" r="3.95"/><circle cx="167.1" cy="207.9" r="3.95"/><circle cx="219.4" cy="194.8" r="3.95"/><circle cx="182.2" cy="204.0" r="3.95"/><circle cx="234.0" cy="193.0" r="3.95"/><circle cx="250.7" cy="199.6" r="3.95"/><circle cx="225.1" cy="192.5" r="3.95"/><circle cx="290.3" cy="186.8" r="3.95"/><circle cx="150.2" cy="208.2" r="3.95"/><circle cx="146.8" cy="210.5" r="3.95"/><circle cx="418.2" cy="172.0" r="3.95"/><circle cx="283.3" cy="197.4" r="3.95"/><circle cx="339.0" cy="189.3" r="3.95"/><circle cx="491.8" cy="146.8" r="3.95"/><circle cx="333.6" cy="194.2" r="3.95"/><circle cx="256.1" cy="198.1" r="3.95"/><circle cx="378.0" cy="184.7" r="3.95"/><circle cx="469.3" cy="152.3" r="3.95"/><circle cx="502.1" cy="142.6" r="3.95"/><circle cx="196.1" cy="197.7" r="3.95"/><circle cx="348.1" cy="190.8" r="3.95"/><circle cx="179.1" cy="205.4" r="3.95"/><circle cx="225.0" cy="194.5" r="3.95"/><circle cx="354.2" cy="189.5" r="3.95"/><circle cx="385.3" cy="183.8" r="3.95"/><circle cx="329.8" cy="191.2" r="3.95"/><circle cx="503.0" cy="143.5" r="3.95"/><circle cx="442.4" cy="159.8" r="3.95"/><circle cx="270.3" cy="198.2" r="3.95"/><circle cx="332.9" cy="194.4" r="3.95"/><circle cx="416.2" cy="173.0" r="3.95"/><circle cx="501.1" cy="143.7" r="3.95"/><circle cx="437.2" cy="163.4" r="3.95"/><circle cx="377.9" cy="176.1" r="3.95"/><circle cx="443.5" cy="162.7" r="3.95"/><circle cx="229.7" cy="199.1" r="3.95"/><circle cx="429.6" cy="168.5" r="3.95"/><circle cx="499.7" cy="144.3" r="3.95"/><circle cx="167.2" cy="206.7" r="3.95"/><circle cx="489.1" cy="148.4" r="3.95"/><circle cx="331.8" cy="196.5" r="3.95"/><circle cx="144.1" cy="211.4" r="3.95"/><circle cx="494.6" cy="146.5" r="3.95"/><circle cx="279.0" cy="191.5" r="3.95"/><circle cx="238.3" cy="192.2" r="3.95"/><circle cx="313.4" cy="197.9" r="3.95"/><circle cx="372.9" cy="185.8" r="3.95"/><circle cx="241.5" cy="194.1" r="3.95"/><circle cx="402.2" cy="174.1" r="3.95"/><circle cx="345.0" cy="193.9" r="3.95"/><circle cx="302.7" cy="194.1" r="3.95"/><circle cx="203.1" cy="197.7" r="3.95"/><circle cx="320.2" cy="196.5" r="3.95"/><circle cx="293.1" cy="193.3" r="3.95"/><circle cx="230.2" cy="199.1" r="3.95"/><circle cx="255.5" cy="204.7" r="3.95"/><circle cx="181.4" cy="201.3" r="3.95"/><circle cx="235.1" cy="198.0" r="3.95"/><circle cx="261.9" cy="200.9" r="3.95"/><circle cx="326.3" cy="196.0" r="3.95"/><circle cx="151.9" cy="211.9" r="3.95"/><circle cx="399.1" cy="174.5" r="3.95"/><circle cx="229.2" cy="199.1" r="3.95"/><circle cx="314.0" cy="188.7" r="3.95"/><circle cx="344.8" cy="190.5" r="3.95"/><circle cx="476.3" cy="154.1" r="3.95"/><circle cx="240.8" cy="195.1" r="3.95"/><circle cx="268.6" cy="199.6" r="3.95"/><circle cx="128.3" cy="215.3" r="3.95"/><circle cx="249.4" cy="195.1" r="3.95"/><circle cx="285.8" cy="198.4" r="3.95"/><circle cx="391.2" cy="177.1" r="3.95"/><circle cx="186.8" cy="203.3" r="3.95"/><circle cx="472.4" cy="147.7" r="3.95"/><circle cx="275.5" cy="192.8" r="3.95"/><circle cx="307.7" cy="192.3" r="3.95"/><circle cx="412.4" cy="165.5" r="3.95"/><circle cx="371.6" cy="183.2" r="3.95"/><circle cx="332.2" cy="188.6" r="3.95"/><circle cx="493.2" cy="146.5" r="3.95"/><circle cx="241.5" cy="203.8" r="3.95"/><circle cx="422.7" cy="174.7" r="3.95"/><circle cx="327.7" cy="191.8" r="3.95"/><circle cx="361.2" cy="182.3" r="3.95"/><circle cx="420.0" cy="168.6" r="3.95"/><circle cx="256.0" cy="193.9" r="3.95"/><circle cx="199.9" cy="198.3" r="3.95"/><circle cx="222.5" cy="198.9" r="3.95"/><circle cx="203.0" cy="197.0" r="3.95"/><circle cx="175.5" cy="205.9" r="3.95"/><circle cx="276.2" cy="194.2" r="3.95"/><circle cx="404.5" cy="175.8" r="3.95"/><circle cx="301.3" cy="188.1" r="3.95"/><circle cx="196.7" cy="202.0" r="3.95"/><circle cx="413.6" cy="170.4" r="3.95"/><circle cx="440.8" cy="157.3" r="3.95"/><circle cx="371.5" cy="185.6" r="3.95"/><circle cx="391.8" cy="181.8" r="3.95"/><circle cx="225.3" cy="193.6" r="3.95"/><circle cx="210.8" cy="202.5" r="3.95"/><circle cx="286.2" cy="196.9" r="3.95"/><circle cx="161.5" cy="209.4" r="3.95"/><circle cx="241.6" cy="200.3" r="3.95"/><circle cx="503.9" cy="143.3" r="3.95"/><circle cx="477.4" cy="147.0" r="3.95"/><circle cx="331.4" cy="187.6" r="3.95"/><circle cx="189.5" cy="201.7" r="3.95"/><circle cx="425.5" cy="172.6" r="3.95"/><circle cx="200.2" cy="197.8" r="3.95"/><circle cx="184.1" cy="203.4" r="3.95"/><circle cx="245.5" cy="192.6" r="3.95"/><circle cx="288.8" cy="192.5" r="3.95"/><circle cx="166.9" cy="204.1" r="3.95"/><circle cx="202.2" cy="197.3" r="3.95"/><circle cx="249.3" cy="196.4" r="3.95"/><circle cx="476.4" cy="154.8" r="3.95"/><circle cx="418.5" cy="168.9" r="3.95"/><circle cx="201.2" cy="195.1" r="3.95"/><circle cx="425.7" cy="164.9" r="3.95"/><circle cx="212.0" cy="198.0" r="3.95"/><circle cx="175.6" cy="201.9" r="3.95"/><circle cx="469.1" cy="147.3" r="3.95"/><circle cx="240.7" cy="204.7" r="3.95"/><circle cx="180.3" cy="201.4" r="3.95"/><circle cx="385.3" cy="174.1" r="3.95"/><circle cx="202.4" cy="200.3" r="3.95"/><circle cx="182.2" cy="207.2" r="3.95"/><circle cx="369.0" cy="183.7" r="3.95"/><circle cx="472.0" cy="146.9" r="3.95"/><circle cx="479.0" cy="149.8" r="3.95"/><circle cx="201.0" cy="203.7" r="3.95"/><circle cx="270.3" cy="192.5" r="3.95"/><circle cx="347.5" cy="192.1" r="3.95"/><circle cx="255.5" cy="191.3" r="3.95"/><circle cx="331.7" cy="187.2" r="3.95"/><circle cx="337.4" cy="183.1" r="3.95"/><circle cx="200.8" cy="198.4" r="3.95"/><circle cx="226.7" cy="201.0" r="3.95"/><circle cx="399.2" cy="179.1" r="3.95"/><circle cx="470.0" cy="145.9" r="3.95"/><circle cx="176.6" cy="202.7" r="3.95"/><circle cx="162.9" cy="206.2" r="3.95"/><circle cx="259.4" cy="202.4" r="3.95"/><circle cx="364.9" cy="190.1" r="3.95"/><circle cx="394.9" cy="179.4" r="3.95"/><circle cx="361.8" cy="189.9" r="3.95"/><circle cx="336.1" cy="191.4" r="3.95"/><circle cx="347.0" cy="183.8" r="3.95"/><circle cx="492.8" cy="148.7" r="3.95"/><circle cx="367.9" cy="183.9" r="3.95"/><circle cx="475.3" cy="149.1" r="3.95"/><circle cx="264.4" cy="197.8" r="3.95"/><circle cx="382.5" cy="184.9" r="3.95"/><circle cx="230.7" cy="197.2" r="3.95"/><circle cx="477.4" cy="156.4" r="3.95"/><circle cx="216.0" cy="192.0" r="3.95"/><circle cx="423.0" cy="169.9" r="3.95"/><circle cx="182.2" cy="206.1" r="3.95"/><circle cx="391.4" cy="171.9" r="3.95"/><circle cx="295.6" cy="192.0" r="3.95"/><circle cx="486.7" cy="143.1" r="3.95"/><circle cx="201.1" cy="200.2" r="3.95"/><circle cx="142.6" cy="212.6" r="3.95"/><circle cx="196.3" cy="198.8" r="3.95"/><circle cx="230.5" cy="198.4" r="3.95"/><circle cx="276.8" cy="199.2" r="3.95"/><circle cx="394.4" cy="178.7" r="3.95"/><circle cx="377.7" cy="183.0" r="3.95"/><circle cx="185.6" cy="203.6" r="3.95"/><circle cx="401.7" cy="174.7" r="3.95"/><circle cx="372.1" cy="182.4" r="3.95"/><circle cx="351.7" cy="196.2" r="3.95"/><circle cx="308.6" cy="191.7" r="3.95"/><circle cx="308.4" cy="190.3" r="3.95"/><circle cx="214.4" cy="193.9" r="3.95"/><circle cx="408.4" cy="173.6" r="3.95"/><circle cx="292.4" cy="191.5" r="3.95"/><circle cx="188.1" cy="201.7" r="3.95"/><circle cx="157.5" cy="212.9" r="3.95"/><circle cx="242.7" cy="203.1" r="3.95"/><circle cx="159.5" cy="211.9" r="3.95"/><circle cx="325.7" cy="196.1" r="3.95"/><circle cx="456.7" cy="157.7" r="3.95"/><circle cx="475.0" cy="154.9" r="3.95"/><circle cx="472.7" cy="155.4" r="3.95"/><circle cx="163.7" cy="208.5" r="3.95"/><circle cx="369.9" cy="178.2" r="3.95"/><circle cx="284.0" cy="187.6" r="3.95"/><circle cx="446.0" cy="154.9" r="3.95"/><circle cx="194.1" cy="200.1" r="3.95"/><circle cx="122.1" cy="216.1" r="3.95"/><circle cx="503.5" cy="143.2" r="3.95"/><circle cx="351.5" cy="193.8" r="3.95"/><circle cx="187.0" cy="200.2" r="3.95"/><circle cx="171.5" cy="208.2" r="3.95"/><circle cx="470.8" cy="147.9" r="3.95"/><circle cx="195.5" cy="198.0" r="3.95"/><circle cx="292.1" cy="188.9" r="3.95"/><circle cx="152.4" cy="210.5" r="3.95"/><circle cx="213.5" cy="201.8" r="3.95"/><circle cx="442.9" cy="162.3" r="3.95"/><circle cx="251.2" cy="199.4" r="3.95"/><circle cx="146.2" cy="213.1" r="3.95"/><circle cx="480.7" cy="146.0" r="3.95"/><circle cx="406.3" cy="175.6" r="3.95"/><circle cx="350.6" cy="182.9" r="3.95"/><circle cx="316.3" cy="201.6" r="3.95"/><circle cx="161.1" cy="205.6" r="3.95"/><circle cx="368.2" cy="188.3" r="3.95"/><circle cx="163.8" cy="210.2" r="3.95"/><circle cx="260.2" cy="190.5" r="3.95"/><circle cx="164.4" cy="209.0" r="3.95"/><circle cx="150.7" cy="212.9" r="3.95"/><circle cx="482.4" cy="150.5" r="3.95"/><circle cx="296.2" cy="194.7" r="3.95"/><circle cx="257.8" cy="194.3" r="3.95"/><circle cx="188.1" cy="201.8" r="3.95"/><circle cx="347.1" cy="192.0" r="3.95"/><circle cx="170.0" cy="206.1" r="3.95"/><circle cx="243.9" cy="203.5" r="3.95"/><circle cx="350.7" cy="185.3" r="3.95"/><circle cx="250.9" cy="204.3" r="3.95"/><circle cx="451.5" cy="155.5" r="3.95"/><circle cx="305.5" cy="187.6" r="3.95"/><circle cx="234.5" cy="200.2" r="3.95"/><circle cx="286.5" cy="194.9" r="3.95"/><circle cx="321.9" cy="193.8" r="3.95"/><circle cx="312.2" cy="190.0" r="3.95"/><circle cx="182.8" cy="204.9" r="3.95"/><circle cx="240.4" cy="193.0" r="3.95"/><circle cx="211.8" cy="195.7" r="3.95"/><circle cx="229.3" cy="203.2" r="3.95"/><circle cx="415.2" cy="171.9" r="3.95"/><circle cx="341.0" cy="196.4" r="3.95"/><circle cx="341.9" cy="189.8" r="3.95"/><circle cx="267.9" cy="190.1" r="3.95"/><circle cx="365.1" cy="176.9" r="3.95"/><circle cx="276.9" cy="190.6" r="3.95"/><circle cx="198.7" cy="195.6" r="3.95"/><circle cx="140.9" cy="213.6" r="3.95"/><circle cx="370.0" cy="182.0" r="3.95"/><circle cx="415.0" cy="167.2" r="3.95"/><circle cx="181.2" cy="205.1" r="3.95"/><circle cx="320.9" cy="189.4" r="3.95"/><circle cx="220.7" cy="198.9" r="3.95"/><circle cx="207.1" cy="199.0" r="3.95"/><circle cx="282.4" cy="201.8" r="3.95"/><circle cx="441.4" cy="156.4" r="3.95"/><circle cx="484.2" cy="145.1" r="3.95"/><circle cx="477.8" cy="152.0" r="3.95"/></g>
<g fill="#87CEFA" fill-opacity="0.5"><circle cx="140.6" cy="211.9" r="3.95"/><circle cx="141.1" cy="210.3" r="3.95"/><circle cx="142.8" cy="212.3" r="3.95"/><circle cx="145.8" cy="208.1" r="3.95"/><circle cx="148.0" cy="208.6" r="3.95"/><circle cx="149.6" cy="207.7" r="3.95"/><circle cx="150.9" cy="207.8" r="3.95"/><circle cx="151.8" cy="207.9" r="3.95"/><circle cx="154.1" cy="205.9" r="3.95"/><circle cx="155.4" cy="204.5" r="3.95"/><circle cx="157.3" cy="205.7" r="3.95"/><circle cx="160.2" cy="202.8" r="3.95"/><circle cx="162.4" cy="204.4" r="3.95"/><circle cx="164.1" cy="203.1" r="3.95"/><circle cx="165.4" cy="204.1" r="3.95"/><circle cx="166.8" cy="202.4" r="3.95"/><circle cx="168.2" cy="203.1" r="3.95"/><circle cx="169.9" cy="200.6" r="3.95"/><circle cx="173.3" cy="199.7" r="3.95"/><circle cx="173.8" cy="201.7" r="3.95"/><circle cx="175.3" cy="201.8" r="3.95"/><circle cx="178.4" cy="200.2" r="3.95"/><circle cx="179.1" cy="201.6" r="3.95"/><circle cx="181.8" cy="201.4" r="3.95"/><circle cx="182.3" cy="203.0" r="3.95"/><circle cx="185.8" cy="198.7" r="3.95"/><circle cx="186.8" cy="200.3" r="3.95"/><circle cx="188.1" cy="200.7" r="3.95"/><circle cx="190.5" cy="198.1" r="3.95"/><circle cx="192.9" cy="196.9" r="3.95"/><circle cx="193.3" cy="196.0" r="3.95"/><circle cx="195.4" cy="197.6" r="3.95"/><circle cx="197.2" cy="198.2" r="3.95"/><circle cx="200.1" cy="196.2" r="3.95"/><circle cx="201.0" cy="196.8" r="3.95"/><circle cx="202.7" cy="194.8" r="3.95"/><circle cx="205.3" cy="193.0" r="3.95"/><circle cx="206.3" cy="195.2" r="3.95"/><circle cx="208.2" cy="191.7" r="3.95"/><circle cx="211.0" cy="193.9" r="3.95"/><circle cx="212.1" cy="192.6" r="3.95"/><circle cx="214.5" cy="192.8" r="3.95"/><circle cx="215.2" cy="194.7" r="3.95"/><circle cx="218.0" cy="190.3" r="3.95"/><circle cx="219.9" cy="194.4" r="3.95"/><circle cx="220.8" cy="194.0" r="3.95"/><circle cx="222.9" cy="192.5" r="3.95"/><circle cx="224.2" cy="193.5" r="3.95"/><circle cx="226.5" cy="192.1" r="3.95"/><circle cx="227.7" cy="192.7" r="3.95"/><circle cx="229.4" cy="191.6" r="3.95"/><circle cx="232.6" cy="192.4" r="3.95"/><circle cx="234.0" cy="192.8" r="3.95"/><circle cx="235.3" cy="192.3" r="3.95"/><circle cx="237.3" cy="190.2" r="3.95"/><circle cx="239.4" cy="191.5" r="3.95"/><circle cx="240.1" cy="190.4" r="3.95"/><circle cx="242.6" cy="191.9" r="3.95"/><circle cx="244.1" cy="192.3" r="3.95"/><circle cx="245.9" cy="191.2" r="3.95"/><circle cx="247.8" cy="190.7" r="3.95"/><circle cx="249.4" cy="190.3" r="3.95"/><circle cx="252.0" cy="190.7" r="3.95"/><circle cx="252.7" cy="188.0" r="3.95"/><circle cx="254.3" cy="189.5" r="3.95"/><circle cx="257.6" cy="189.0" r="3.95"/><circle cx="258.0" cy="187.9" r="3.95"/><circle cx="259.8" cy="188.5" r="3.95"/><circle cx="262.6" cy="187.1" r="3.95"/><circle cx="264.4" cy="186.1" r="3.95"/><circle cx="265.9" cy="185.5" r="3.95"/><circle cx="267.7" cy="186.6" r="3.95"/><circle cx="269.2" cy="185.9" r="3.95"/><circle cx="271.4" cy="185.0" r="3.95"/><circle cx="273.0" cy="187.2" r="3.95"/><circle cx="275.8" cy="186.8" r="3.95"/><circle cx="275.9" cy="188.8" r="3.95"/><circle cx="279.2" cy="187.8" r="3.95"/><circle cx="280.3" cy="188.1" r="3.95"/><circle cx="282.9" cy="189.6" r="3.95"/><circle cx="284.5" cy="189.5" r="3.95"/><circle cx="285.8" cy="187.5" r="3.95"/><circle cx="288.1" cy="183.5" r="3.95"/><circle cx="289.0" cy="187.2" r="3.95"/><circle cx="291.7" cy="188.9" r="3.95"/><circle cx="293.9" cy="188.5" r="3.95"/><circle cx="295.0" cy="185.5" r="3.95"/><circle cx="297.0" cy="188.5" r="3.95"/><circle cx="297.8" cy="185.3" r="3.95"/><circle cx="299.7" cy="184.1" r="3.95"/><circle cx="301.7" cy="188.0" r="3.95"/><circle cx="304.4" cy="185.1" r="3.95"/><circle cx="306.3" cy="187.0" r="3.95"/><circle cx="308.3" cy="183.3" r="3.95"/><circle cx="308.6" cy="184.0" r="3.95"/><circle cx="311.6" cy="185.2" r="3.95"/><circle cx="313.5" cy="185.9" r="3.95"/><circle cx="314.6" cy="184.7" r="3.95"/><circle cx="317.2" cy="186.0" r="3.95"/><circle cx="318.5" cy="186.6" r="3.95"/><circle cx="320.0" cy="185.0" r="3.95"/><circle cx="321.8" cy="186.0" r="3.95"/><circle cx="323.8" cy="186.0" r="3.95"/><circle cx="325.1" cy="187.0" r="3.95"/><circle cx="327.5" cy="183.9" r="3.95"/><circle cx="329.1" cy="185.4" r="3.95"/><circle cx="331.1" cy="186.4" r="3.95"/><circle cx="332.2" cy="184.2" r="3.95"/><circle cx="334.7" cy="184.2" r="3.95"/><circle cx="336.1" cy="183.9" r="3.95"/><circle cx="338.5" cy="184.0" r="3.95"/><circle cx="339.3" cy="183.4" r="3.95"/><circle cx="342.4" cy="181.8" r="3.95"/><circle cx="342.7" cy="182.3" r="3.95"/><circle cx="345.6" cy="181.0" r="3.95"/><circle cx="346.1" cy="182.4" r="3.95"/><circle cx="349.6" cy="183.4" r="3.95"/><circle cx="351.5" cy="182.1" r="3.95"/><circle cx="352.9" cy="180.5" r="3.95"/><circle cx="353.5" cy="183.0" r="3.95"/><circle cx="355.9" cy="180.9" r="3.95"/><circle cx="356.9" cy="183.0" r="3.95"/><circle cx="359.1" cy="181.2" r="3.95"/><circle cx="361.4" cy="178.6" r="3.95"/><circle cx="363.1" cy="176.3" r="3.95"/><circle cx="365.3" cy="177.7" r="3.95"/><circle cx="366.6" cy="176.2" r="3.95"/><circle cx="368.7" cy="175.9" r="3.95"/><circle cx="369.6" cy="174.9" r="3.95"/><circle cx="371.7" cy="174.4" r="3.95"/><circle cx="374.2" cy="177.3" r="3.95"/><circle cx="375.4" cy="174.3" r="3.95"/><circle cx="378.4" cy="174.1" r="3.95"/><circle cx="379.8" cy="175.1" r="3.95"/><circle cx="380.5" cy="173.3" r="3.95"/><circle cx="383.5" cy="174.5" r="3.95"/><circle cx="385.3" cy="175.4" r="3.95"/><circle cx="387.3" cy="171.5" r="3.95"/><circle cx="387.6" cy="172.3" r="3.95"/><circle cx="389.8" cy="173.2" r="3.95"/><circle cx="392.1" cy="172.9" r="3.95"/><circle cx="393.0" cy="171.8" r="3.95"/><circle cx="395.0" cy="172.1" r="3.95"/><circle cx="397.9" cy="173.2" r="3.95"/><circle cx="399.4" cy="171.1" r="3.95"/><circle cx="400.4" cy="168.8" r="3.95"/><circle cx="402.0" cy="171.7" r="3.95"/><circle cx="404.4" cy="169.6" r="3.95"/><circle cx="405.8" cy="169.9" r="3.95"/><circle cx="408.6" cy="166.1" r="3.95"/><circle cx="409.7" cy="170.4" r="3.95"/><circle cx="412.2" cy="165.1" r="3.95"/><circle cx="412.8" cy="167.8" r="3.95"/><circle cx="416.3" cy="164.9" r="3.95"/><circle cx="416.9" cy="166.6" r="3.95"/><circle cx="418.1" cy="163.5" r="3.95"/><circle cx="421.3" cy="162.9" r="3.95"/><circle cx="422.1" cy="164.3" r="3.95"/><circle cx="424.6" cy="162.5" r="3.95"/><circle cx="426.5" cy="161.4" r="3.95"/><circle cx="428.7" cy="160.3" r="3.95"/><circle cx="430.4" cy="160.1" r="3.95"/><circle cx="431.2" cy="159.6" r="3.95"/><circle cx="432.9" cy="159.8" r="3.95"/><circle cx="435.0" cy="157.6" r="3.95"/><circle cx="436.5" cy="157.5" r="3.95"/><circle cx="438.7" cy="156.0" r="3.95"/><circle cx="441.1" cy="154.9" r="3.95"/><circle cx="442.4" cy="155.5" r="3.95"/><circle cx="443.6" cy="154.0" r="3.95"/><circle cx="445.5" cy="151.1" r="3.95"/><circle cx="447.0" cy="152.2" r="3.95"/><circle cx="450.2" cy="150.2" r="3.95"/><circle cx="452.2" cy="147.5" r="3.95"/><circle cx="453.4" cy="147.2" r="3.95"/><circle cx="454.8" cy="145.6" r="3.95"/><circle cx="457.4" cy="145.1" r="3.95"/><circle cx="458.2" cy="145.8" r="3.95"/><circle cx="459.6" cy="145.3" r="3.95"/><circle cx="461.9" cy="141.1" r="3.95"/><circle cx="464.2" cy="143.5" r="3.95"/><circle cx="466.7" cy="145.6" r="3.95"/><circle cx="468.3" cy="142.2" r="3.95"/><circle cx="469.1" cy="146.8" r="3.95"/><circle cx="471.6" cy="148.1" r="3.95"/><circle cx="472.8" cy="147.3" r="3.95"/><circle cx="475.4" cy="144.6" r="3.95"/><circle cx="475.7" cy="147.4" r="3.95"/><circle cx="477.9" cy="143.3" r="3.95"/><circle cx="480.8" cy="144.3" r="3.95"/><circle cx="482.6" cy="146.2" r="3.95"/><circle cx="484.4" cy="143.8" r="3.95"/><circle cx="485.7" cy="143.8" r="3.95"/><circle cx="486.9" cy="141.5" r="3.95"/><circle cx="489.9" cy="146.8" r="3.95"/><circle cx="490.4" cy="145.9" r="3.95"/><circle cx="492.9" cy="146.7" r="3.95"/><circle cx="493.7" cy="145.5" r="3.95"/><circle cx="495.7" cy="144.3" r="3.95"/><circle cx="498.9" cy="143.9" r="3.95"/><circle cx="500.1" cy="142.9" r="3.95"/><circle cx="502.6" cy="146.1" r="3.95"/><circle cx="140.4" cy="215.4" r="3.95"/><circle cx="141.9" cy="214.2" r="3.95"/><circle cx="143.1" cy="215.8" r="3.95"/><circle cx="144.3" cy="213.6" r="3.95"/><circle cx="145.5" cy="213.8" r="3.95"/><circle cx="147.0" cy="215.9" r="3.95"/><circle cx="147.4" cy="213.6" r="3.95"/><circle cx="148.9" cy="214.3" r="3.95"/><circle cx="150.1" cy="214.2" r="3.95"/><circle cx="152.2" cy="214.9" r="3.95"/><circle cx="153.0" cy="213.8" r="3.95"/><circle cx="153.8" cy="212.0" r="3.95"/><circle cx="155.4" cy="213.1" r="3.95"/><circle cx="157.1" cy="213.6" r="3.95"/><circle cx="158.1" cy="212.2" r="3.95"/><circle cx="159.8" cy="213.0" r="3.95"/><circle cx="160.5" cy="213.2" r="3.95"/><circle cx="161.5" cy="212.4" r="3.95"/><circle cx="163.7" cy="213.3" r="3.95"/><circle cx="164.6" cy="212.3" r="3.95"/><circle cx="165.7" cy="211.8" r="3.95"/><circle cx="167.5" cy="211.2" r="3.95"/><circle cx="168.4" cy="209.8" r="3.95"/><circle cx="170.3" cy="210.6" r="3.95"/><circle cx="171.0" cy="208.7" r="3.95"/><circle cx="173.1" cy="211.6" r="3.95"/><circle cx="174.1" cy="210.2" r="3.95"/><circle cx="174.5" cy="209.9" r="3.95"/><circle cx="177.0" cy="210.2" r="3.95"/><circle cx="177.2" cy="207.8" r="3.95"/><circle cx="179.2" cy="207.7" r="3.95"/><circle cx="180.9" cy="208.8" r="3.95"/><circle cx="181.1" cy="208.1" r="3.95"/><circle cx="183.4" cy="208.0" r="3.95"/><circle cx="184.8" cy="209.3" r="3.95"/><circle cx="185.4" cy="207.6" r="3.95"/><circle cx="186.8" cy="206.7" r="3.95"/><circle cx="187.6" cy="206.8" r="3.95"/><circle cx="189.3" cy="206.5" r="3.95"/><circle cx="190.1" cy="207.8" r="3.95"/><circle cx="191.8" cy="206.4" r="3.95"/><circle cx="192.9" cy="206.7" r="3.95"/><circle cx="194.7" cy="205.4" r="3.95"/><circle cx="195.3" cy="205.7" r="3.95"/><circle cx="197.6" cy="206.7" r="3.95"/><circle cx="198.1" cy="206.9" r="3.95"/><circle cx="199.4" cy="206.2" r="3.95"/><circle cx="200.5" cy="206.5" r="3.95"/><circle cx="202.3" cy="206.1" r="3.95"/><circle cx="203.4" cy="205.4" r="3.95"/><circle cx="204.7" cy="205.1" r="3.95"/><circle cx="206.3" cy="205.2" r="3.95"/><circle cx="207.4" cy="207.2" r="3.95"/><circle cx="208.8" cy="206.1" r="3.95"/><circle cx="209.9" cy="204.9" r="3.95"/><circle cx="211.5" cy="206.7" r="3.95"/><circle cx="212.6" cy="205.1" r="3.95"/><circle cx="213.5" cy="205.8" r="3.95"/><circle cx="214.9" cy="204.8" r="3.95"/><circle cx="216.6" cy="205.4" r="3.95"/><circle cx="218.4" cy="204.7" r="3.95"/><circle cx="219.9" cy="204.8" r="3.95"/><circle cx="220.7" cy="204.2" r="3.95"/><circle cx="221.4" cy="205.4" r="3.95"/><circle cx="223.6" cy="205.4" r="3.95"/><circle cx="225.0" cy="204.5" r="3.95"/><circle cx="225.2" cy="206.0" r="3.95"/><circle cx="227.2" cy="204.3" r="3.95"/><circle cx="227.8" cy="203.7" r="3.95"/><circle cx="229.3" cy="205.0" r="3.95"/><circle cx="230.9" cy="203.7" r="3.95"/><circle cx="232.9" cy="206.3" r="3.95"/><circle cx="233.1" cy="205.6" r="3.95"/><circle cx="234.6" cy="204.8" r="3.95"/><circle cx="236.5" cy="204.8" r="3.95"/><circle cx="237.3" cy="205.3" r="3.95"/><circle cx="238.5" cy="204.0" r="3.95"/><circle cx="240.5" cy="206.3" r="3.95"/><circle cx="240.9" cy="204.4" r="3.95"/><circle cx="242.6" cy="206.0" r="3.95"/><circle cx="243.7" cy="205.6" r="3.95"/><circle cx="245.3" cy="206.2" r="3.95"/><circle cx="247.0" cy="204.4" r="3.95"/><circle cx="247.3" cy="204.5" r="3.95"/><circle cx="249.5" cy="205.4" r="3.95"/><circle cx="251.0" cy="206.8" r="3.95"/><circle cx="251.6" cy="205.3" r="3.95"/><circle cx="252.5" cy="204.5" r="3.95"/><circle cx="255.0" cy="204.4" r="3.95"/><circle cx="256.1" cy="203.7" r="3.95"/><circle cx="257.5" cy="205.3" r="3.95"/><circle cx="258.3" cy="204.5" r="3.95"/><circle cx="260.1" cy="206.0" r="3.95"/><circle cx="261.2" cy="204.5" r="3.95"/><circle cx="262.5" cy="204.5" r="3.95"/><circle cx="263.6" cy="204.6" r="3.95"/><circle cx="264.2" cy="203.9" r="3.95"/><circle cx="265.8" cy="204.3" r="3.95"/><circle cx="267.2" cy="204.4" r="3.95"/><circle cx="268.6" cy="205.0" r="3.95"/><circle cx="269.9" cy="205.0" r="3.95"/><circle cx="271.8" cy="204.4" r="3.95"/><circle cx="272.5" cy="204.0" r="3.95"/><circle cx="274.3" cy="205.6" r="3.95"/><circle cx="275.5" cy="204.3" r="3.95"/><circle cx="276.2" cy="204.9" r="3.95"/><circle cx="277.6" cy="204.2" r="3.95"/><circle cx="279.3" cy="204.5" r="3.95"/><circle cx="280.7" cy="204.3" r="3.95"/><circle cx="281.1" cy="203.4" r="3.95"/><circle cx="282.8" cy="203.5" r="3.95"/><circle cx="284.2" cy="203.1" r="3.95"/><circle cx="286.1" cy="205.0" r="3.95"/><circle cx="287.0" cy="203.1" r="3.95"/><circle cx="287.7" cy="202.3" r="3.95"/><circle cx="289.5" cy="204.9" r="3.95"/><circle cx="291.3" cy="203.7" r="3.95"/><circle cx="291.6" cy="202.5" r="3.95"/><circle cx="293.4" cy="203.9" r="3.95"/><circle cx="294.1" cy="202.7" r="3.95"/><circle cx="296.1" cy="203.6" r="3.95"/><circle cx="297.8" cy="204.0" r="3.95"/><circle cx="298.6" cy="203.6" r="3.95"/><circle cx="299.8" cy="203.4" r="3.95"/><circle cx="300.7" cy="203.8" r="3.95"/><circle cx="302.7" cy="202.5" r="3.95"/><circle cx="303.5" cy="204.4" r="3.95"/><circle cx="304.7" cy="203.3" r="3.95"/><circle cx="306.8" cy="203.9" r="3.95"/><circle cx="308.2" cy="201.5" r="3.95"/><circle cx="308.8" cy="202.5" r="3.95"/><circle cx="310.3" cy="203.8" r="3.95"/><circle cx="311.5" cy="203.5" r="3.95"/><circle cx="312.9" cy="203.2" r="3.95"/><circle cx="313.8" cy="202.9" r="3.95"/><circle cx="316.1" cy="202.9" r="3.95"/><circle cx="316.3" cy="202.6" r="3.95"/><circle cx="317.7" cy="201.8" r="3.95"/><circle cx="319.6" cy="201.9" r="3.95"/><circle cx="320.8" cy="201.8" r="3.95"/><circle cx="322.2" cy="200.8" r="3.95"/><circle cx="323.1" cy="200.5" r="3.95"/><circle cx="324.2" cy="199.1" r="3.95"/><circle cx="326.1" cy="201.2" r="3.95"/><circle cx="326.6" cy="200.3" r="3.95"/><circle cx="328.5" cy="199.6" r="3.95"/><circle cx="330.1" cy="200.3" r="3.95"/><circle cx="330.9" cy="200.7" r="3.95"/><circle cx="332.1" cy="198.9" r="3.95"/><circle cx="333.4" cy="198.3" r="3.95"/><circle cx="335.5" cy="199.8" r="3.95"/><circle cx="336.3" cy="198.3" r="3.95"/><circle cx="337.9" cy="198.8" r="3.95"/><circle cx="338.3" cy="198.6" r="3.95"/><circle cx="340.3" cy="197.6" r="3.95"/><circle cx="342.0" cy="199.1" r="3.95"/><circle cx="343.4" cy="198.8" r="3.95"/><circle cx="343.8" cy="197.7" r="3.95"/><circle cx="345.7" cy="197.5" r="3.95"/><circle cx="346.9" cy="198.1" r="3.95"/><circle cx="347.8" cy="198.1" r="3.95"/><circle cx="349.2" cy="198.1" r="3.95"/><circle cx="350.7" cy="195.5" r="3.95"/><circle cx="351.4" cy="195.3" r="3.95"/><circle cx="352.7" cy="197.4" r="3.95"/><circle cx="354.4" cy="196.4" r="3.95"/><circle cx="355.4" cy="197.5" r="3.95"/><circle cx="356.5" cy="196.5" r="3.95"/><circle cx="358.3" cy="196.6" r="3.95"/><circle cx="360.1" cy="195.4" r="3.95"/><circle cx="361.6" cy="195.8" r="3.95"/><circle cx="361.7" cy="194.1" r="3.95"/><circle cx="363.5" cy="194.2" r="3.95"/><circle cx="364.6" cy="193.8" r="3.95"/><circle cx="366.8" cy="192.5" r="3.95"/><circle cx="367.1" cy="192.7" r="3.95"/><circle cx="368.3" cy="193.7" r="3.95"/><circle cx="369.7" cy="191.6" r="3.95"/><circle cx="371.8" cy="192.6" r="3.95"/><circle cx="372.8" cy="191.1" r="3.95"/><circle cx="374.6" cy="191.8" r="3.95"/><circle cx="375.1" cy="190.8" r="3.95"/><circle cx="376.5" cy="190.3" r="3.95"/><circle cx="378.5" cy="190.8" r="3.95"/><circle cx="378.9" cy="189.1" r="3.95"/><circle cx="380.3" cy="189.3" r="3.95"/><circle cx="382.2" cy="189.4" r="3.95"/><circle cx="382.5" cy="187.9" r="3.95"/><circle cx="384.6" cy="187.7" r="3.95"/><circle cx="386.1" cy="187.4" r="3.95"/><circle cx="387.5" cy="186.2" r="3.95"/><circle cx="387.7" cy="186.7" r="3.95"/><circle cx="389.8" cy="186.6" r="3.95"/><circle cx="390.9" cy="185.7" r="3.95"/><circle cx="391.7" cy="185.5" r="3.95"/><circle cx="393.8" cy="183.8" r="3.95"/><circle cx="394.7" cy="183.1" r="3.95"/><circle cx="396.2" cy="182.4" r="3.95"/><circle cx="397.1" cy="184.2" r="3.95"/><circle cx="398.7" cy="183.1" r="3.95"/><circle cx="399.9" cy="181.7" r="3.95"/><circle cx="400.8" cy="183.0" r="3.95"/><circle cx="402.6" cy="181.2" r="3.95"/><circle cx="403.5" cy="180.6" r="3.95"/><circle cx="404.8" cy="181.2" r="3.95"/><circle cx="406.3" cy="179.7" r="3.95"/><circle cx="407.2" cy="181.0" r="3.95"/><circle cx="409.7" cy="179.4" r="3.95"/><circle cx="410.3" cy="179.1" r="3.95"/><circle cx="412.0" cy="180.3" r="3.95"/><circle cx="413.6" cy="178.6" r="3.95"/><circle cx="413.7" cy="177.2" r="3.95"/><circle cx="415.3" cy="179.6" r="3.95"/><circle cx="417.2" cy="177.1" r="3.95"/><circle cx="418.2" cy="176.8" r="3.95"/><circle cx="419.3" cy="176.7" r="3.95"/><circle cx="421.0" cy="175.7" r="3.95"/><circle cx="421.5" cy="175.1" r="3.95"/><circle cx="424.0" cy="174.6" r="3.95"/><circle cx="425.3" cy="175.3" r="3.95"/><circle cx="425.8" cy="173.5" r="3.95"/><circle cx="427.4" cy="172.9" r="3.95"/><circle cx="429.2" cy="174.0" r="3.95"/><circle cx="430.1" cy="173.7" r="3.95"/><circle cx="431.2" cy="173.4" r="3.95"/><circle cx="433.0" cy="171.5" r="3.95"/><circle cx="434.1" cy="172.2" r="3.95"/><circle cx="435.2" cy="169.9" r="3.95"/><circle cx="436.0" cy="170.7" r="3.95"/><circle cx="437.2" cy="169.1" r="3.95"/><circle cx="439.3" cy="169.1" r="3.95"/><circle cx="440.2" cy="167.1" r="3.95"/><circle cx="442.1" cy="168.6" r="3.95"/><circle cx="442.5" cy="167.0" r="3.95"/><circle cx="443.6" cy="165.3" r="3.95"/><circle cx="445.9" cy="163.0" r="3.95"/><circle cx="446.7" cy="164.2" r="3.95"/><circle cx="447.5" cy="163.2" r="3.95"/><circle cx="449.1" cy="164.4" r="3.95"/><circle cx="450.9" cy="163.1" r="3.95"/><circle cx="451.4" cy="164.0" r="3.95"/><circle cx="453.6" cy="162.1" r="3.95"/><circle cx="455.2" cy="162.0" r="3.95"/><circle cx="455.4" cy="163.1" r="3.95"/><circle cx="457.6" cy="161.3" r="3.95"/><circle cx="458.6" cy="159.0" r="3.95"/><circle cx="460.0" cy="159.5" r="3.95"/><circle cx="461.5" cy="160.1" r="3.95"/><circle cx="462.4" cy="160.2" r="3.95"/><circle cx="463.3" cy="160.5" r="3.95"/><circle cx="465.6" cy="160.4" r="3.95"/><circle cx="466.7" cy="159.3" r="3.95"/><circle cx="468.2" cy="160.0" r="3.95"/><circle cx="469.3" cy="158.8" r="3.95"/><circle cx="469.7" cy="158.8" r="3.95"/><circle cx="471.8" cy="157.8" r="3.95"/><circle cx="472.4" cy="159.3" r="3.95"/><circle cx="474.3" cy="157.7" r="3.95"/><circle cx="474.9" cy="157.9" r="3.95"/><circle cx="476.4" cy="156.9" r="3.95"/><circle cx="478.6" cy="157.9" r="3.95"/><circle cx="478.9" cy="157.5" r="3.95"/><circle cx="480.2" cy="157.8" r="3.95"/><circle cx="481.3" cy="155.8" r="3.95"/><circle cx="483.4" cy="155.1" r="3.95"/><circle cx="484.5" cy="155.1" r="3.95"/><circle cx="485.3" cy="154.2" r="3.95"/><circle cx="486.5" cy="154.0" r="3.95"/><circle cx="489.0" cy="149.9" r="3.95"/><circle cx="490.0" cy="150.0" r="3.95"/><circle cx="491.0" cy="149.6" r="3.95"/><circle cx="492.1" cy="150.4" r="3.95"/><circle cx="494.1" cy="148.1" r="3.95"/><circle cx="494.7" cy="148.4" r="3.95"/><circle cx="496.5" cy="148.7" r="3.95"/><circle cx="497.5" cy="147.1" r="3.95"/><circle cx="499.0" cy="146.6" r="3.95"/><circle cx="499.6" cy="146.5" r="3.95"/><circle cx="501.7" cy="144.2" r="3.95"/><circle cx="502.4" cy="145.0" r="3.95"/></g>
<g fill="#6CBF6F" fill-opacity="0.6"><circle cx="174.2" cy="200.7" r="3.95"/><circle cx="174.8" cy="200.8" r="3.95"/><circle cx="176.2" cy="200.7" r="3.95"/><circle cx="177.1" cy="200.8" r="3.95"/><circle cx="178.1" cy="200.7" r="3.95"/><circle cx="178.9" cy="200.7" r="3.95"/><circle cx="179.8" cy="201.0" r="3.95"/><circle cx="180.9" cy="200.9" r="3.95"/><circle cx="181.9" cy="201.0" r="3.95"/><circle cx="182.8" cy="200.8" r="3.95"/><circle cx="184.1" cy="200.9" r="3.95"/><circle cx="185.2" cy="200.8" r="3.95"/><circle cx="186.2" cy="200.8" r="3.95"/><circle cx="187.2" cy="200.7" r="3.95"/><circle cx="188.0" cy="201.1" r="3.95"/><circle cx="189.0" cy="201.0" r="3.95"/><circle cx="189.9" cy="201.2" r="3.95"/><circle cx="190.9" cy="201.0" r="3.95"/><circle cx="192.2" cy="201.0" r="3.95"/><circle cx="192.8" cy="201.3" r="3.95"/><circle cx="194.1" cy="201.3" r="3.95"/><circle cx="194.8" cy="201.1" r="3.95"/><circle cx="195.8" cy="201.2" r="3.95"/><circle cx="196.9" cy="200.9" r="3.95"/><circle cx="197.8" cy="201.4" r="3.95"/><circle cx="199.1" cy="201.2" r="3.95"/><circle cx="199.8" cy="201.3" r="3.95"/><circle cx="201.1" cy="201.2" r="3.95"/><circle cx="202.2" cy="201.1" r="3.95"/><circle cx="203.2" cy="201.1" r="3.95"/><circle cx="203.8" cy="201.3" r="3.95"/><circle cx="204.8" cy="201.3" r="3.95"/><circle cx="205.9" cy="201.2" r="3.95"/><circle cx="206.8" cy="201.3" r="3.95"/><circle cx="207.8" cy="201.3" r="3.95"/><circle cx="208.8" cy="201.3" r="3.95"/><circle cx="209.8" cy="201.1" r="3.95"/><circle cx="211.2" cy="201.3" r="3.95"/><circle cx="211.8" cy="201.4" r="3.95"/><circle cx="213.2" cy="201.1" r="3.95"/><circle cx="214.0" cy="201.4" r="3.95"/><circle cx="215.2" cy="201.5" r="3.95"/><circle cx="216.0" cy="201.2" r="3.95"/><circle cx="217.1" cy="201.4" r="3.95"/><circle cx="218.0" cy="201.6" r="3.95"/><circle cx="218.8" cy="201.2" r="3.95"/><circle cx="219.9" cy="201.7" r="3.95"/><circle cx="220.8" cy="201.5" r="3.95"/><circle cx="222.0" cy="201.4" r="3.95"/><circle cx="222.9" cy="201.4" r="3.95"/><circle cx="224.2" cy="201.6" r="3.95"/><circle cx="225.0" cy="201.4" r="3.95"/><circle cx="225.9" cy="201.2" r="3.95"/><circle cx="227.2" cy="201.5" r="3.95"/><circle cx="227.8" cy="201.4" r="3.95"/><circle cx="229.1" cy="201.7" r="3.95"/><circle cx="230.0" cy="201.7" r="3.95"/><circle cx="231.0" cy="201.5" r="3.95"/><circle cx="231.9" cy="201.7" r="3.95"/><circle cx="232.8" cy="201.2" r="3.95"/><circle cx="234.1" cy="201.4" r="3.95"/><circle cx="235.0" cy="201.5" r="3.95"/><circle cx="235.9" cy="201.5" r="3.95"/><circle cx="236.9" cy="201.6" r="3.95"/><circle cx="238.1" cy="201.5" r="3.95"/><circle cx="239.0" cy="201.4" r="3.95"/><circle cx="240.2" cy="201.4" r="3.95"/><circle cx="241.2" cy="201.4" r="3.95"/><circle cx="241.9" cy="201.6" r="3.95"/><circle cx="242.9" cy="201.3" r="3.95"/><circle cx="244.1" cy="201.7" r="3.95"/><circle cx="245.2" cy="201.3" r="3.95"/><circle cx="246.1" cy="201.3" r="3.95"/><circle cx="246.8" cy="201.6" r="3.95"/><circle cx="247.8" cy="201.6" r="3.95"/><circle cx="248.9" cy="201.4" r="3.95"/><circle cx="250.0" cy="201.3" r="3.95"/><circle cx="251.0" cy="201.4" r="3.95"/><circle cx="252.0" cy="201.3" r="3.95"/><circle cx="252.9" cy="201.3" r="3.95"/><circle cx="253.8" cy="201.5" r="3.95"/><circle cx="255.0" cy="201.2" r="3.95"/><circle cx="255.9" cy="201.5" r="3.95"/><circle cx="257.2" cy="201.5" r="3.95"/><circle cx="258.0" cy="201.3" r="3.95"/><circle cx="258.8" cy="201.4" r="3.95"/><circle cx="260.0" cy="201.6" r="3.95"/><circle cx="260.8" cy="202.0" r="3.95"/><circle cx="261.8" cy="201.6" r="3.95"/><circle cx="262.9" cy="201.1" r="3.95"/><circle cx="263.9" cy="201.8" r="3.95"/><circle cx="264.9" cy="201.3" r="3.95"/><circle cx="266.2" cy="201.5" r="3.95"/><circle cx="267.1" cy="201.8" r="3.95"/><circle cx="268.2" cy="201.6" r="3.95"/><circle cx="268.8" cy="201.6" r="3.95"/><circle cx="270.2" cy="201.2" r="3.95"/><circle cx="271.2" cy="201.4" r="3.95"/><circle cx="272.1" cy="201.7" r="3.95"/><circle cx="273.2" cy="201.3" r="3.95"/><circle cx="274.1" cy="201.3" r="3.95"/><circle cx="274.9" cy="201.6" r="3.95"/><circle cx="275.8" cy="201.4" r="3.95"/><circle cx="277.2" cy="201.3" r="3.95"/><circle cx="278.2" cy="201.7" r="3.95"/><circle cx="279.1" cy="201.5" r="3.95"/><circle cx="280.0" cy="201.4" r="3.95"/><circle cx="280.9" cy="201.5" r="3.95"/><circle cx="282.0" cy="201.4" r="3.95"/><circle cx="283.1" cy="201.7" r="3.95"/><circle cx="284.0" cy="201.7" r="3.95"/><circle cx="285.1" cy="201.5" r="3.95"/><circle cx="286.2" cy="201.4" r="3.95"/><circle cx="287.1" cy="201.5" r="3.95"/><circle cx="287.9" cy="201.6" r="3.95"/><circle cx="288.8" cy="201.5" r="3.95"/><circle cx="289.8" cy="201.6" r="3.95"/><circle cx="290.8" cy="201.6" r="3.95"/><circle cx="291.8" cy="201.6" r="3.95"/><circle cx="292.9" cy="201.6" r="3.95"/><circle cx="294.0" cy="201.6" r="3.95"/><circle cx="294.9" cy="201.5" r="3.95"/><circle cx="296.1" cy="201.4" r="3.95"/><circle cx="296.9" cy="201.4" r="3.95"/><circle cx="297.8" cy="201.5" r="3.95"/><circle cx="299.2" cy="201.5" r="3.95"/><circle cx="300.1" cy="201.5" r="3.95"/><circle cx="300.8" cy="201.6" r="3.95"/><circle cx="301.9" cy="201.6" r="3.95"/><circle cx="302.9" cy="201.4" r="3.95"/><circle cx="304.1" cy="201.6" r="3.95"/><circle cx="304.9" cy="201.7" r="3.95"/><circle cx="306.2" cy="201.4" r="3.95"/><circle cx="307.0" cy="201.4" r="3.95"/><circle cx="308.2" cy="201.7" r="3.95"/><circle cx="308.8" cy="201.4" r="3.95"/><circle cx="310.0" cy="201.2" r="3.95"/><circle cx="310.8" cy="201.6" r="3.95"/><circle cx="312.2" cy="201.5" r="3.95"/><circle cx="313.0" cy="201.6" r="3.95"/><circle cx="313.9" cy="201.6" r="3.95"/><circle cx="314.9" cy="201.7" r="3.95"/><circle cx="316.0" cy="201.3" r="3.95"/><circle cx="317.1" cy="201.4" r="3.95"/><circle cx="318.1" cy="201.4" r="3.95"/><circle cx="319.1" cy="201.8" r="3.95"/><circle cx="320.2" cy="201.5" r="3.95"/><circle cx="320.8" cy="201.4" r="3.95"/><circle cx="321.9" cy="201.5" r="3.95"/><circle cx="322.8" cy="201.6" r="3.95"/><circle cx="324.0" cy="201.4" r="3.95"/><circle cx="325.2" cy="201.5" r="3.95"/><circle cx="325.8" cy="201.2" r="3.95"/></g>
<g fill="#FB8B3C" fill-opacity="0.33"><circle cx="91.5" cy="220.6" r="3.95"/><circle cx="94.5" cy="220.6" r="3.95"/></g>
<g fill="#FB8B3C" fill-opacity="0.6"><circle cx="101.8" cy="218.6" r="3.95"/><circle cx="102.9" cy="219.2" r="3.95"/><circle cx="103.3" cy="219.3" r="3.95"/><circle cx="103.9" cy="219.2" r="3.95"/><circle cx="104.9" cy="218.6" r="3.95"/><circle cx="105.6" cy="218.7" r="3.95"/><circle cx="106.1" cy="218.8" r="3.95"/><circle cx="107.0" cy="218.8" r="3.95"/><circle cx="107.8" cy="218.3" r="3.95"/><circle cx="108.5" cy="217.4" r="3.95"/><circle cx="108.8" cy="218.8" r="3.95"/><circle cx="109.7" cy="218.7" r="3.95"/><circle cx="110.3" cy="218.3" r="3.95"/><circle cx="111.3" cy="218.4" r="3.95"/><circle cx="111.8" cy="217.3" r="3.95"/><circle cx="112.6" cy="218.2" r="3.95"/><circle cx="113.3" cy="217.7" r="3.95"/><circle cx="113.8" cy="217.1" r="3.95"/><circle cx="114.6" cy="217.4" r="3.95"/><circle cx="115.5" cy="216.9" r="3.95"/><circle cx="115.8" cy="217.1" r="3.95"/><circle cx="116.5" cy="217.4" r="3.95"/><circle cx="117.2" cy="216.8" r="3.95"/><circle cx="118.2" cy="216.7" r="3.95"/><circle cx="118.8" cy="217.0" r="3.95"/><circle cx="119.5" cy="217.0" r="3.95"/><circle cx="120.2" cy="216.7" r="3.95"/><circle cx="120.7" cy="215.8" r="3.95"/><circle cx="121.5" cy="216.5" r="3.95"/><circle cx="122.2" cy="216.6" r="3.95"/><circle cx="122.8" cy="215.3" r="3.95"/><circle cx="123.8" cy="215.7" r="3.95"/><circle cx="124.2" cy="215.5" r="3.95"/><circle cx="124.9" cy="215.7" r="3.95"/><circle cx="125.8" cy="215.9" r="3.95"/><circle cx="126.5" cy="214.4" r="3.95"/><circle cx="127.0" cy="214.7" r="3.95"/><circle cx="127.9" cy="214.5" r="3.95"/><circle cx="128.7" cy="215.2" r="3.95"/><circle cx="129.2" cy="214.4" r="3.95"/><circle cx="129.8" cy="214.4" r="3.95"/><circle cx="130.6" cy="213.9" r="3.95"/><circle cx="404.0" cy="177.3" r="3.95"/><circle cx="404.5" cy="176.8" r="3.95"/><circle cx="405.6" cy="176.7" r="3.95"/><circle cx="406.2" cy="176.2" r="3.95"/><circle cx="406.9" cy="176.8" r="3.95"/><circle cx="407.7" cy="177.1" r="3.95"/><circle cx="408.1" cy="176.8" r="3.95"/><circle cx="408.9" cy="176.1" r="3.95"/><circle cx="409.8" cy="175.7" r="3.95"/><circle cx="410.1" cy="175.4" r="3.95"/><circle cx="410.9" cy="176.0" r="3.95"/><circle cx="411.9" cy="175.8" r="3.95"/><circle cx="412.3" cy="176.1" r="3.95"/><circle cx="412.9" cy="174.3" r="3.95"/><circle cx="414.0" cy="174.4" r="3.95"/><circle cx="414.3" cy="173.9" r="3.95"/><circle cx="415.3" cy="174.2" r="3.95"/><circle cx="416.0" cy="173.3" r="3.95"/><circle cx="416.7" cy="173.9" r="3.95"/><circle cx="417.2" cy="173.7" r="3.95"/><circle cx="417.8" cy="172.7" r="3.95"/><circle cx="418.9" cy="172.6" r="3.95"/><circle cx="419.2" cy="173.8" r="3.95"/><circle cx="420.3" cy="172.0" r="3.95"/><circle cx="420.8" cy="172.2" r="3.95"/><circle cx="421.4" cy="171.8" r="3.95"/><circle cx="422.2" cy="172.1" r="3.95"/><circle cx="423.1" cy="172.2" r="3.95"/><circle cx="423.6" cy="171.8" r="3.95"/><circle cx="424.5" cy="171.3" r="3.95"/><circle cx="425.2" cy="171.0" r="3.95"/><circle cx="425.9" cy="170.9" r="3.95"/><circle cx="426.5" cy="171.3" r="3.95"/><circle cx="427.0" cy="170.7" r="3.95"/><circle cx="428.0" cy="169.3" r="3.95"/><circle cx="428.5" cy="169.5" r="3.95"/><circle cx="429.1" cy="169.5" r="3.95"/><circle cx="429.9" cy="169.4" r="3.95"/><circle cx="430.5" cy="169.5" r="3.95"/><circle cx="431.3" cy="169.7" r="3.95"/><circle cx="432.1" cy="168.2" r="3.95"/><circle cx="432.6" cy="168.0" r="3.95"/><circle cx="433.2" cy="167.6" r="3.95"/><circle cx="433.9" cy="167.3" r="3.95"/><circle cx="435.0" cy="168.2" r="3.95"/><circle cx="435.4" cy="168.0" r="3.95"/><circle cx="436.3" cy="167.1" r="3.95"/><circle cx="437.1" cy="166.1" r="3.95"/><circle cx="437.5" cy="165.0" r="3.95"/><circle cx="438.3" cy="164.8" r="3.95"/><circle cx="439.1" cy="164.4" r="3.95"/><circle cx="439.8" cy="163.2" r="3.95"/><circle cx="440.6" cy="162.5" r="3.95"/></g>
<g fill="#F98BB0" fill-opacity="0.6"><circle cx="133.0" cy="215.1" r="3.95"/><circle cx="133.4" cy="214.6" r="3.95"/><circle cx="134.0" cy="214.6" r="3.95"/><circle cx="134.9" cy="214.8" r="3.95"/><circle cx="135.3" cy="215.7" r="3.95"/><circle cx="135.8" cy="215.1" r="3.95"/><circle cx="136.2" cy="214.3" r="3.95"/><circle cx="136.7" cy="215.2" r="3.95"/><circle cx="137.5" cy="215.2" r="3.95"/><circle cx="138.1" cy="214.9" r="3.95"/><circle cx="138.3" cy="215.7" r="3.95"/><circle cx="139.0" cy="214.7" r="3.95"/><circle cx="139.8" cy="214.6" r="3.95"/><circle cx="140.3" cy="212.2" r="3.95"/><circle cx="140.5" cy="214.0" r="3.95"/><circle cx="141.1" cy="213.6" r="3.95"/><circle cx="141.8" cy="213.3" r="3.95"/><circle cx="142.3" cy="214.0" r="3.95"/><circle cx="142.8" cy="214.2" r="3.95"/><circle cx="143.5" cy="212.9" r="3.95"/><circle cx="143.9" cy="214.4" r="3.95"/><circle cx="144.7" cy="214.2" r="3.95"/><circle cx="145.3" cy="212.3" r="3.95"/><circle cx="145.6" cy="214.8" r="3.95"/><circle cx="146.0" cy="214.0" r="3.95"/><circle cx="146.5" cy="212.9" r="3.95"/><circle cx="147.3" cy="212.4" r="3.95"/><circle cx="147.8" cy="213.7" r="3.95"/><circle cx="148.2" cy="212.9" r="3.95"/><circle cx="149.0" cy="213.0" r="3.95"/><circle cx="149.5" cy="211.7" r="3.95"/><circle cx="150.0" cy="210.4" r="3.95"/><circle cx="150.5" cy="210.9" r="3.95"/><circle cx="151.2" cy="214.2" r="3.95"/><circle cx="151.5" cy="212.2" r="3.95"/><circle cx="152.2" cy="211.2" r="3.95"/><circle cx="152.7" cy="212.7" r="3.95"/><circle cx="153.2" cy="210.1" r="3.95"/><circle cx="154.1" cy="211.4" r="3.95"/><circle cx="154.4" cy="211.5" r="3.95"/><circle cx="154.8" cy="212.1" r="3.95"/><circle cx="155.7" cy="211.2" r="3.95"/><circle cx="156.3" cy="210.4" r="3.95"/><circle cx="156.6" cy="209.6" r="3.95"/><circle cx="157.3" cy="209.8" r="3.95"/><circle cx="157.6" cy="209.6" r="3.95"/><circle cx="158.4" cy="211.0" r="3.95"/><circle cx="159.0" cy="210.0" r="3.95"/><circle cx="159.5" cy="210.3" r="3.95"/><circle cx="159.9" cy="211.8" r="3.95"/><circle cx="160.7" cy="209.0" r="3.95"/><circle cx="161.3" cy="210.4" r="3.95"/><circle cx="161.4" cy="207.9" r="3.95"/><circle cx="162.3" cy="209.1" r="3.95"/><circle cx="162.5" cy="208.1" r="3.95"/><circle cx="163.5" cy="208.5" r="3.95"/><circle cx="163.7" cy="208.4" r="3.95"/><circle cx="164.3" cy="207.8" r="3.95"/><circle cx="164.9" cy="208.4" r="3.95"/><circle cx="165.6" cy="208.6" r="3.95"/><circle cx="166.2" cy="207.7" r="3.95"/><circle cx="166.7" cy="208.4" r="3.95"/><circle cx="166.9" cy="207.3" r="3.95"/><circle cx="167.5" cy="208.2" r="3.95"/><circle cx="168.4" cy="205.2" r="3.95"/><circle cx="168.5" cy="207.3" r="3.95"/><circle cx="169.2" cy="206.4" r="3.95"/><circle cx="169.7" cy="207.0" r="3.95"/><circle cx="170.6" cy="205.4" r="3.95"/><circle cx="170.7" cy="205.3" r="3.95"/><circle cx="171.7" cy="205.6" r="3.95"/><circle cx="172.2" cy="206.1" r="3.95"/><circle cx="172.8" cy="205.9" r="3.95"/><circle cx="173.2" cy="204.2" r="3.95"/><circle cx="173.7" cy="205.8" r="3.95"/><circle cx="174.4" cy="206.0" r="3.95"/><circle cx="175.0" cy="205.5" r="3.95"/><circle cx="175.1" cy="204.4" r="3.95"/><circle cx="175.9" cy="205.5" r="3.95"/><circle cx="176.6" cy="204.2" r="3.95"/><circle cx="177.2" cy="204.3" r="3.95"/><circle cx="177.4" cy="204.5" r="3.95"/><circle cx="177.9" cy="203.8" r="3.95"/><circle cx="178.7" cy="202.7" r="3.95"/><circle cx="179.0" cy="205.0" r="3.95"/><circle cx="179.6" cy="204.7" r="3.95"/><circle cx="180.1" cy="204.3" r="3.95"/><circle cx="180.7" cy="202.2" r="3.95"/><circle cx="181.5" cy="204.1" r="3.95"/><circle cx="181.9" cy="203.2" r="3.95"/><circle cx="182.6" cy="204.2" r="3.95"/><circle cx="183.0" cy="203.4" r="3.95"/><circle cx="183.5" cy="203.1" r="3.95"/><circle cx="184.2" cy="205.4" r="3.95"/><circle cx="184.9" cy="203.5" r="3.95"/><circle cx="185.2" cy="204.1" r="3.95"/><circle cx="185.7" cy="203.9" r="3.95"/><circle cx="186.3" cy="202.8" r="3.95"/><circle cx="186.7" cy="203.4" r="3.95"/><circle cx="187.2" cy="203.6" r="3.95"/><circle cx="188.0" cy="203.6" r="3.95"/><circle cx="188.4" cy="203.8" r="3.95"/><circle cx="189.1" cy="204.0" r="3.95"/><circle cx="189.5" cy="202.7" r="3.95"/><circle cx="190.1" cy="201.9" r="3.95"/><circle cx="190.9" cy="202.5" r="3.95"/><circle cx="191.3" cy="202.7" r="3.95"/><circle cx="191.6" cy="202.2" r="3.95"/><circle cx="192.3" cy="204.6" r="3.95"/><circle cx="192.9" cy="203.7" r="3.95"/><circle cx="193.7" cy="202.9" r="3.95"/><circle cx="194.3" cy="200.2" r="3.95"/><circle cx="194.8" cy="203.3" r="3.95"/><circle cx="195.0" cy="202.9" r="3.95"/><circle cx="195.8" cy="201.9" r="3.95"/><circle cx="196.2" cy="202.6" r="3.95"/><circle cx="197.0" cy="203.0" r="3.95"/><circle cx="197.5" cy="201.0" r="3.95"/><circle cx="198.0" cy="203.3" r="3.95"/><circle cx="198.4" cy="203.1" r="3.95"/><circle cx="198.9" cy="200.8" r="3.95"/><circle cx="199.8" cy="201.9" r="3.95"/><circle cx="200.3" cy="202.8" r="3.95"/><circle cx="200.8" cy="202.5" r="3.95"/><circle cx="201.0" cy="203.3" r="3.95"/><circle cx="201.9" cy="204.5" r="3.95"/><circle cx="202.5" cy="204.0" r="3.95"/><circle cx="202.8" cy="203.0" r="3.95"/><circle cx="203.5" cy="201.6" r="3.95"/><circle cx="204.2" cy="202.2" r="3.95"/><circle cx="204.4" cy="202.1" r="3.95"/><circle cx="205.1" cy="202.0" r="3.95"/><circle cx="205.4" cy="201.4" r="3.95"/><circle cx="205.9" cy="202.6" r="3.95"/><circle cx="206.9" cy="202.0" r="3.95"/><circle cx="207.2" cy="201.9" r="3.95"/><circle cx="207.8" cy="202.5" r="3.95"/><circle cx="208.2" cy="202.1" r="3.95"/><circle cx="208.9" cy="202.8" r="3.95"/><circle cx="209.7" cy="201.6" r="3.95"/><circle cx="209.8" cy="202.0" r="3.95"/><circle cx="210.7" cy="200.6" r="3.95"/><circle cx="211.3" cy="201.6" r="3.95"/><circle cx="211.5" cy="202.2" r="3.95"/><circle cx="212.4" cy="202.6" r="3.95"/><circle cx="212.9" cy="200.3" r="3.95"/><circle cx="213.2" cy="201.1" r="3.95"/><circle cx="213.8" cy="202.0" r="3.95"/><circle cx="214.5" cy="202.8" r="3.95"/><circle cx="215.0" cy="202.0" r="3.95"/><circle cx="215.6" cy="201.1" r="3.95"/><circle cx="216.2" cy="202.3" r="3.95"/><circle cx="216.5" cy="200.6" r="3.95"/><circle cx="217.1" cy="201.3" r="3.95"/><circle cx="217.9" cy="200.7" r="3.95"/><circle cx="218.4" cy="202.3" r="3.95"/><circle cx="218.8" cy="201.3" r="3.95"/><circle cx="219.5" cy="201.7" r="3.95"/><circle cx="220.1" cy="201.2" r="3.95"/><circle cx="220.7" cy="200.6" r="3.95"/><circle cx="220.8" cy="201.8" r="3.95"/><circle cx="221.6" cy="200.3" r="3.95"/><circle cx="222.0" cy="201.4" r="3.95"/><circle cx="222.8" cy="203.0" r="3.95"/><circle cx="223.0" cy="201.5" r="3.95"/><circle cx="223.7" cy="200.9" r="3.95"/><circle cx="224.1" cy="201.2" r="3.95"/><circle cx="224.7" cy="201.6" r="3.95"/><circle cx="225.3" cy="200.9" r="3.95"/><circle cx="226.0" cy="201.7" r="3.95"/><circle cx="226.7" cy="200.2" r="3.95"/><circle cx="227.0" cy="201.1" r="3.95"/><circle cx="227.5" cy="200.1" r="3.95"/><circle cx="228.0" cy="199.9" r="3.95"/><circle cx="228.9" cy="201.3" r="3.95"/><circle cx="229.4" cy="199.9" r="3.95"/><circle cx="229.9" cy="200.9" r="3.95"/><circle cx="230.4" cy="202.5" r="3.95"/><circle cx="230.7" cy="200.1" r="3.95"/><circle cx="231.6" cy="201.1" r="3.95"/><circle cx="231.9" cy="200.9" r="3.95"/><circle cx="232.4" cy="200.0" r="3.95"/><circle cx="233.1" cy="200.8" r="3.95"/><circle cx="233.5" cy="197.9" r="3.95"/><circle cx="234.0" cy="200.0" r="3.95"/><circle cx="234.6" cy="200.7" r="3.95"/><circle cx="235.5" cy="200.9" r="3.95"/><circle cx="236.0" cy="197.2" r="3.95"/><circle cx="236.2" cy="200.8" r="3.95"/><circle cx="236.7" cy="201.0" r="3.95"/><circle cx="237.7" cy="201.7" r="3.95"/><circle cx="238.0" cy="201.0" r="3.95"/><circle cx="238.6" cy="199.7" r="3.95"/><circle cx="239.3" cy="200.3" r="3.95"/><circle cx="239.6" cy="199.1" r="3.95"/><circle cx="240.1" cy="198.2" r="3.95"/><circle cx="241.0" cy="201.3" r="3.95"/><circle cx="241.5" cy="200.1" r="3.95"/><circle cx="241.9" cy="200.0" r="3.95"/><circle cx="242.7" cy="198.8" r="3.95"/><circle cx="243.1" cy="200.0" r="3.95"/><circle cx="243.6" cy="199.5" r="3.95"/><circle cx="244.1" cy="199.2" r="3.95"/><circle cx="244.9" cy="199.2" r="3.95"/><circle cx="245.4" cy="200.9" r="3.95"/><circle cx="245.6" cy="200.1" r="3.95"/><circle cx="246.1" cy="200.1" r="3.95"/><circle cx="246.7" cy="199.8" r="3.95"/><circle cx="247.6" cy="200.0" r="3.95"/><circle cx="248.0" cy="198.5" r="3.95"/><circle cx="248.4" cy="198.2" r="3.95"/><circle cx="249.0" cy="201.8" r="3.95"/><circle cx="249.7" cy="199.4" r="3.95"/><circle cx="250.0" cy="200.0" r="3.95"/><circle cx="250.5" cy="199.8" r="3.95"/><circle cx="251.3" cy="200.3" r="3.95"/><circle cx="252.0" cy="199.9" r="3.95"/><circle cx="252.3" cy="201.0" r="3.95"/><circle cx="252.7" cy="201.1" r="3.95"/><circle cx="253.6" cy="199.3" r="3.95"/><circle cx="254.2" cy="200.2" r="3.95"/><circle cx="254.4" cy="200.1" r="3.95"/><circle cx="254.9" cy="199.6" r="3.95"/><circle cx="255.5" cy="200.3" r="3.95"/><circle cx="256.1" cy="199.4" r="3.95"/><circle cx="256.7" cy="200.8" r="3.95"/><circle cx="257.3" cy="199.8" r="3.95"/><circle cx="258.0" cy="200.2" r="3.95"/><circle cx="258.5" cy="198.7" r="3.95"/><circle cx="259.2" cy="198.2" r="3.95"/><circle cx="259.5" cy="201.1" r="3.95"/><circle cx="259.8" cy="200.2" r="3.95"/><circle cx="260.8" cy="200.8" r="3.95"/><circle cx="260.9" cy="200.4" r="3.95"/><circle cx="261.9" cy="200.7" r="3.95"/><circle cx="262.1" cy="198.5" r="3.95"/><circle cx="262.8" cy="200.2" r="3.95"/><circle cx="263.3" cy="197.5" r="3.95"/><circle cx="264.1" cy="198.3" r="3.95"/><circle cx="264.3" cy="200.1" r="3.95"/><circle cx="264.9" cy="199.2" r="3.95"/><circle cx="265.5" cy="199.4" r="3.95"/><circle cx="266.3" cy="199.0" r="3.95"/><circle cx="266.8" cy="198.3" r="3.95"/><circle cx="267.3" cy="199.3" r="3.95"/><circle cx="267.9" cy="199.0" r="3.95"/><circle cx="268.3" cy="199.1" r="3.95"/><circle cx="268.8" cy="197.4" r="3.95"/><circle cx="269.2" cy="199.6" r="3.95"/><circle cx="270.2" cy="198.1" r="3.95"/><circle cx="270.6" cy="200.1" r="3.95"/><circle cx="271.2" cy="199.2" r="3.95"/><circle cx="271.7" cy="198.5" r="3.95"/><circle cx="272.1" cy="199.6" r="3.95"/><circle cx="272.5" cy="199.0" r="3.95"/><circle cx="273.1" cy="199.5" r="3.95"/><circle cx="273.8" cy="199.2" r="3.95"/><circle cx="274.4" cy="198.8" r="3.95"/><circle cx="274.7" cy="199.2" r="3.95"/><circle cx="275.2" cy="198.5" r="3.95"/><circle cx="276.0" cy="198.6" r="3.95"/><circle cx="276.5" cy="199.7" r="3.95"/><circle cx="277.0" cy="198.3" r="3.95"/><circle cx="277.8" cy="197.8" r="3.95"/><circle cx="278.4" cy="199.1" r="3.95"/><circle cx="278.5" cy="198.5" r="3.95"/><circle cx="279.2" cy="199.7" r="3.95"/><circle cx="279.6" cy="198.0" r="3.95"/><circle cx="280.6" cy="200.1" r="3.95"/><circle cx="281.1" cy="199.3" r="3.95"/><circle cx="281.3" cy="198.5" r="3.95"/><circle cx="282.1" cy="199.1" r="3.95"/><circle cx="282.6" cy="198.9" r="3.95"/><circle cx="283.1" cy="199.2" r="3.95"/><circle cx="283.8" cy="197.3" r="3.95"/><circle cx="284.4" cy="200.2" r="3.95"/><circle cx="285.0" cy="198.9" r="3.95"/><circle cx="285.3" cy="200.4" r="3.95"/><circle cx="286.1" cy="199.1" r="3.95"/><circle cx="286.2" cy="197.9" r="3.95"/><circle cx="287.1" cy="198.3" r="3.95"/><circle cx="287.5" cy="199.6" r="3.95"/><circle cx="287.9" cy="197.2" r="3.95"/><circle cx="288.7" cy="198.7" r="3.95"/><circle cx="289.3" cy="198.8" r="3.95"/><circle cx="289.7" cy="200.0" r="3.95"/><circle cx="290.5" cy="197.1" r="3.95"/><circle cx="290.8" cy="198.9" r="3.95"/><circle cx="291.2" cy="198.9" r="3.95"/><circle cx="292.0" cy="198.3" r="3.95"/><circle cx="292.7" cy="198.0" r="3.95"/><circle cx="292.8" cy="198.9" r="3.95"/><circle cx="293.5" cy="198.0" r="3.95"/><circle cx="294.4" cy="197.1" r="3.95"/><circle cx="294.9" cy="198.2" r="3.95"/><circle cx="295.5" cy="199.3" r="3.95"/><circle cx="295.6" cy="198.2" r="3.95"/><circle cx="296.4" cy="196.7" r="3.95"/><circle cx="297.0" cy="198.8" r="3.95"/><circle cx="297.5" cy="198.3" r="3.95"/><circle cx="297.9" cy="197.0" r="3.95"/><circle cx="298.3" cy="196.5" r="3.95"/><circle cx="298.9" cy="198.5" r="3.95"/><circle cx="299.5" cy="198.6" r="3.95"/><circle cx="300.4" cy="197.7" r="3.95"/><circle cx="300.9" cy="197.9" r="3.95"/><circle cx="301.5" cy="198.3" r="3.95"/><circle cx="302.0" cy="197.4" r="3.95"/><circle cx="302.5" cy="198.6" r="3.95"/><circle cx="303.0" cy="198.0" r="3.95"/><circle cx="303.7" cy="196.7" r="3.95"/><circle cx="304.1" cy="195.4" r="3.95"/><circle cx="304.6" cy="196.4" r="3.95"/><circle cx="305.2" cy="197.7" r="3.95"/><circle cx="305.9" cy="197.5" r="3.95"/><circle cx="306.3" cy="197.0" r="3.95"/><circle cx="306.6" cy="197.7" r="3.95"/><circle cx="307.3" cy="196.0" r="3.95"/><circle cx="307.7" cy="197.5" r="3.95"/><circle cx="308.3" cy="197.0" r="3.95"/><circle cx="309.0" cy="197.5" r="3.95"/><circle cx="309.7" cy="198.2" r="3.95"/><circle cx="310.0" cy="196.4" r="3.95"/><circle cx="310.9" cy="195.7" r="3.95"/><circle cx="311.0" cy="196.3" r="3.95"/><circle cx="311.5" cy="197.2" r="3.95"/><circle cx="312.3" cy="197.2" r="3.95"/><circle cx="312.9" cy="197.9" r="3.95"/><circle cx="313.4" cy="196.1" r="3.95"/><circle cx="313.7" cy="197.8" r="3.95"/><circle cx="314.3" cy="196.4" r="3.95"/><circle cx="315.1" cy="197.2" r="3.95"/><circle cx="315.7" cy="196.7" r="3.95"/><circle cx="316.2" cy="197.6" r="3.95"/><circle cx="316.5" cy="196.8" r="3.95"/><circle cx="317.2" cy="196.1" r="3.95"/><circle cx="317.9" cy="196.9" r="3.95"/><circle cx="318.5" cy="197.5" r="3.95"/><circle cx="318.8" cy="196.7" r="3.95"/><circle cx="319.5" cy="195.5" r="3.95"/><circle cx="319.9" cy="197.4" r="3.95"/><circle cx="320.4" cy="196.3" r="3.95"/><circle cx="321.0" cy="195.4" r="3.95"/><circle cx="321.8" cy="195.7" r="3.95"/><circle cx="322.2" cy="196.3" r="3.95"/><circle cx="322.6" cy="195.7" r="3.95"/><circle cx="323.1" cy="195.7" r="3.95"/><circle cx="324.0" cy="194.7" r="3.95"/><circle cx="324.6" cy="195.0" r="3.95"/><circle cx="324.8" cy="195.3" r="3.95"/><circle cx="325.6" cy="196.0" r="3.95"/><circle cx="326.0" cy="196.0" r="3.95"/><circle cx="326.4" cy="195.2" r="3.95"/><circle cx="327.0" cy="193.4" r="3.95"/><circle cx="327.6" cy="196.0" r="3.95"/><circle cx="328.3" cy="193.8" r="3.95"/><circle cx="329.0" cy="194.8" r="3.95"/><circle cx="329.2" cy="195.1" r="3.95"/><circle cx="329.8" cy="195.1" r="3.95"/><circle cx="330.3" cy="194.6" r="3.95"/><circle cx="331.1" cy="195.0" r="3.95"/><circle cx="331.5" cy="193.9" r="3.95"/><circle cx="332.0" cy="193.8" r="3.95"/><circle cx="332.5" cy="194.5" r="3.95"/><circle cx="333.1" cy="193.5" r="3.95"/><circle cx="333.6" cy="193.3" r="3.95"/><circle cx="334.4" cy="193.6" r="3.95"/><circle cx="334.8" cy="192.9" r="3.95"/><circle cx="335.6" cy="193.2" r="3.95"/><circle cx="335.8" cy="194.2" r="3.95"/><circle cx="336.5" cy="193.4" r="3.95"/><circle cx="337.1" cy="194.6" r="3.95"/><circle cx="337.6" cy="194.0" r="3.95"/><circle cx="338.0" cy="193.9" r="3.95"/><circle cx="338.7" cy="193.5" r="3.95"/><circle cx="339.1" cy="193.6" r="3.95"/><circle cx="339.9" cy="192.7" r="3.95"/><circle cx="340.4" cy="192.4" r="3.95"/><circle cx="340.9" cy="192.7" r="3.95"/><circle cx="341.7" cy="193.5" r="3.95"/><circle cx="342.2" cy="194.6" r="3.95"/><circle cx="342.3" cy="192.2" r="3.95"/><circle cx="343.1" cy="194.0" r="3.95"/><circle cx="343.4" cy="192.2" r="3.95"/><circle cx="344.2" cy="194.5" r="3.95"/><circle cx="344.7" cy="193.2" r="3.95"/><circle cx="345.1" cy="194.6" r="3.95"/><circle cx="346.0" cy="192.9" r="3.95"/><circle cx="346.6" cy="194.0" r="3.95"/><circle cx="347.1" cy="193.0" r="3.95"/><circle cx="347.3" cy="192.2" r="3.95"/><circle cx="348.2" cy="192.0" r="3.95"/><circle cx="348.6" cy="192.3" r="3.95"/><circle cx="349.1" cy="193.4" r="3.95"/><circle cx="349.7" cy="191.2" r="3.95"/><circle cx="350.4" cy="192.6" r="3.95"/><circle cx="350.6" cy="191.6" r="3.95"/><circle cx="351.4" cy="193.5" r="3.95"/><circle cx="351.8" cy="192.6" r="3.95"/><circle cx="352.4" cy="192.4" r="3.95"/><circle cx="352.8" cy="191.4" r="3.95"/><circle cx="353.7" cy="193.7" r="3.95"/><circle cx="354.1" cy="191.8" r="3.95"/><circle cx="354.4" cy="191.7" r="3.95"/><circle cx="355.1" cy="190.7" r="3.95"/><circle cx="356.0" cy="192.0" r="3.95"/><circle cx="356.5" cy="191.6" r="3.95"/><circle cx="356.8" cy="190.9" r="3.95"/><circle cx="357.6" cy="190.9" r="3.95"/><circle cx="358.0" cy="191.2" r="3.95"/><circle cx="358.3" cy="190.5" r="3.95"/><circle cx="358.9" cy="190.7" r="3.95"/><circle cx="359.8" cy="190.2" r="3.95"/><circle cx="360.3" cy="189.8" r="3.95"/><circle cx="360.8" cy="191.0" r="3.95"/><circle cx="361.3" cy="190.6" r="3.95"/><circle cx="361.6" cy="190.9" r="3.95"/><circle cx="362.6" cy="190.4" r="3.95"/><circle cx="362.9" cy="191.5" r="3.95"/><circle cx="363.4" cy="188.4" r="3.95"/><circle cx="364.0" cy="190.9" r="3.95"/><circle cx="364.4" cy="189.2" r="3.95"/><circle cx="365.0" cy="189.6" r="3.95"/><circle cx="365.5" cy="190.2" r="3.95"/><circle cx="366.3" cy="188.8" r="3.95"/><circle cx="366.5" cy="188.3" r="3.95"/><circle cx="367.4" cy="190.3" r="3.95"/><circle cx="368.1" cy="187.3" r="3.95"/><circle cx="368.2" cy="189.8" r="3.95"/><circle cx="369.0" cy="187.5" r="3.95"/><circle cx="369.7" cy="188.3" r="3.95"/><circle cx="370.3" cy="186.5" r="3.95"/><circle cx="370.5" cy="186.9" r="3.95"/><circle cx="371.1" cy="188.8" r="3.95"/><circle cx="371.9" cy="187.8" r="3.95"/><circle cx="372.0" cy="187.5" r="3.95"/><circle cx="373.0" cy="188.9" r="3.95"/><circle cx="373.1" cy="187.6" r="3.95"/><circle cx="373.7" cy="187.6" r="3.95"/><circle cx="374.5" cy="187.4" r="3.95"/><circle cx="375.1" cy="187.6" r="3.95"/><circle cx="375.4" cy="188.8" r="3.95"/><circle cx="376.3" cy="186.6" r="3.95"/><circle cx="376.9" cy="188.4" r="3.95"/><circle cx="377.1" cy="185.8" r="3.95"/><circle cx="377.5" cy="186.7" r="3.95"/><circle cx="378.2" cy="186.5" r="3.95"/><circle cx="378.8" cy="186.1" r="3.95"/><circle cx="379.2" cy="185.3" r="3.95"/><circle cx="379.9" cy="185.6" r="3.95"/><circle cx="380.3" cy="184.9" r="3.95"/><circle cx="381.0" cy="185.8" r="3.95"/><circle cx="381.5" cy="185.2" r="3.95"/><circle cx="382.3" cy="186.0" r="3.95"/><circle cx="382.5" cy="184.9" r="3.95"/><circle cx="383.1" cy="185.6" r="3.95"/><circle cx="383.6" cy="183.8" r="3.95"/><circle cx="384.3" cy="184.2" r="3.95"/><circle cx="384.8" cy="185.5" r="3.95"/><circle cx="385.2" cy="184.0" r="3.95"/><circle cx="386.2" cy="185.5" r="3.95"/><circle cx="386.3" cy="184.9" r="3.95"/><circle cx="387.0" cy="183.6" r="3.95"/><circle cx="387.8" cy="185.0" r="3.95"/><circle cx="388.2" cy="184.3" r="3.95"/><circle cx="388.7" cy="184.2" r="3.95"/><circle cx="389.3" cy="183.8" r="3.95"/><circle cx="389.6" cy="184.5" r="3.95"/><circle cx="390.2" cy="183.9" r="3.95"/><circle cx="390.8" cy="181.5" r="3.95"/><circle cx="391.7" cy="185.7" r="3.95"/><circle cx="391.9" cy="183.5" r="3.95"/><circle cx="392.4" cy="184.2" r="3.95"/><circle cx="393.3" cy="181.8" r="3.95"/><circle cx="393.7" cy="183.0" r="3.95"/><circle cx="394.1" cy="183.0" r="3.95"/><circle cx="394.7" cy="182.8" r="3.95"/><circle cx="395.3" cy="183.1" r="3.95"/><circle cx="395.8" cy="182.1" r="3.95"/><circle cx="396.5" cy="182.6" r="3.95"/><circle cx="396.8" cy="181.1" r="3.95"/><circle cx="397.6" cy="180.5" r="3.95"/><circle cx="398.1" cy="180.5" r="3.95"/><circle cx="398.8" cy="180.9" r="3.95"/><circle cx="399.3" cy="181.4" r="3.95"/><circle cx="399.5" cy="180.1" r="3.95"/><circle cx="400.2" cy="179.6" r="3.95"/><circle cx="401.0" cy="180.0" r="3.95"/></g>
</g>
<rect x="63.5" y="22.45" width="621.0" height="211.85000000000002" fill="none" stroke="#6e6e6e" stroke-width="1"/>
<g stroke="#E5E5E5" stroke-width="1.1"><line x1="63.5" x2="684.5" y1="445.80" y2="445.80"/><line x1="63.5" x2="684.5" y1="401.30" y2="401.30"/><line x1="63.5" x2="684.5" y1="356.80" y2="356.80"/><line x1="63.5" x2="684.5" y1="312.30" y2="312.30"/><line x1="63.5" x2="684.5" y1="267.80" y2="267.80"/><line y1="260.25" y2="471.35" x1="143.00" x2="143.00"/><line y1="260.25" y2="471.35" x1="245.78" x2="245.78"/><line y1="260.25" y2="471.35" x1="348.56" x2="348.56"/><line y1="260.25" y2="471.35" x1="451.34" x2="451.34"/><line y1="260.25" y2="471.35" x1="554.12" x2="554.12"/><line y1="260.25" y2="471.35" x1="656.90" x2="656.90"/></g>
<g id="pb" clip-path="url(#cb)"><polygon fill="#000080" points="190.0,433.5 193.0,432.9 196.0,432.3 199.0,431.7 202.0,431.2 205.0,430.6 208.0,430.1 211.0,429.5 214.0,429.0 217.0,428.6 220.0,428.1 223.0,427.7 226.0,427.2 229.0,426.8 232.0,426.5 235.0,426.2 238.0,426.0 241.0,425.7 244.0,425.5 247.0,425.2 250.0,425.0 253.0,424.9 256.0,424.8 259.0,424.6 262.0,424.5 265.0,424.3 268.0,424.0 271.0,423.6 274.0,423.3 277.0,422.9 280.0,422.6 283.0,422.3 286.0,422.0 289.0,421.8 292.0,421.5 295.0,421.2 298.0,421.0 301.0,420.8 304.0,420.6 307.0,420.4 310.0,420.3 313.0,420.1 316.0,419.9 319.0,419.6 322.0,419.3 325.0,419.0 328.0,418.7 331.0,418.4 334.0,418.1 337.0,417.8 340.0,417.4 343.0,417.1 346.0,416.8 349.0,416.4 352.0,415.9 355.0,415.3 358.0,414.7 361.0,414.1 364.0,413.5 367.0,412.9 370.0,412.4 373.0,411.9 376.0,411.4 379.0,410.9 382.0,410.4 385.0,409.9 388.0,409.3 391.0,408.7 394.0,408.1 397.0,407.5 400.0,406.9 403.0,405.6 406.0,404.4 409.0,403.1 412.0,401.8 415.0,400.6 418.0,399.3 421.0,398.1 424.0,397.0 427.0,395.8 430.0,394.6 433.0,393.4 436.0,392.2 439.0,390.8 442.0,389.4 445.0,388.0 448.0,386.4 451.0,384.9 454.0,383.6 457.0,382.7 460.0,381.7 463.0,380.7 466.0,379.7 469.0,378.7 472.0,377.8 475.0,376.9 478.0,376.1 481.0,374.6 484.0,372.9 487.0,371.1 490.0,368.5 493.0,365.7 496.0,362.9 499.0,360.2 502.0,357.6 505.0,354.9 508.0,353.7 511.0,352.5 514.0,351.2 517.0,349.9 520.0,348.1 523.0,345.7 526.0,343.3 529.0,341.0 532.0,338.8 535.0,338.0 538.0,337.7 541.0,337.5 544.0,337.2 547.0,336.5 550.0,335.6 553.0,334.7 556.0,333.9 559.0,333.3 562.0,332.7 565.0,328.9 568.0,324.4 571.0,321.0 574.0,317.7 577.0,314.8 580.0,312.2 583.0,309.6 586.0,307.5 589.0,305.5 592.0,303.4 595.0,301.4 598.0,299.1 601.0,296.8 604.0,294.7 607.0,294.5 610.0,295.0 613.0,294.4 616.0,293.5 619.0,292.2 622.0,289.8 625.0,285.9 628.0,281.5 631.0,280.1 634.0,280.2 637.0,277.3 640.0,274.1 643.0,273.9 646.0,272.9 649.0,270.3 649.0,286.8 646.0,290.0 643.0,293.2 640.0,297.4 637.0,302.5 634.0,305.0 631.0,306.6 628.0,308.9 625.0,312.2 622.0,314.6 619.0,316.6 616.0,318.5 613.0,320.2 610.0,321.9 607.0,323.3 604.0,324.9 601.0,326.8 598.0,328.3 595.0,329.6 592.0,330.8 589.0,331.6 586.0,332.3 583.0,332.9 580.0,333.7 577.0,334.5 574.0,335.3 571.0,336.5 568.0,337.6 565.0,340.1 562.0,342.5 559.0,344.5 556.0,346.6 553.0,348.4 550.0,349.5 547.0,350.7 544.0,351.9 541.0,353.5 538.0,355.0 535.0,356.7 532.0,358.8 529.0,361.2 526.0,363.5 523.0,366.0 520.0,368.4 517.0,370.5 514.0,372.3 511.0,374.2 508.0,375.9 505.0,377.6 502.0,379.8 499.0,382.0 496.0,384.2 493.0,386.2 490.0,388.2 487.0,390.1 484.0,391.7 481.0,393.2 478.0,394.5 475.0,395.2 472.0,395.8 469.0,396.4 466.0,397.1 463.0,397.8 460.0,398.5 457.0,399.2 454.0,399.9 451.0,400.9 448.0,402.1 445.0,403.4 442.0,404.8 439.0,406.2 436.0,407.7 433.0,408.9 430.0,410.0 427.0,411.0 424.0,412.1 421.0,413.2 418.0,414.3 415.0,415.5 412.0,416.8 409.0,418.0 406.0,419.2 403.0,420.5 400.0,421.7 397.0,422.4 394.0,423.2 391.0,423.9 388.0,424.6 385.0,425.4 382.0,426.1 379.0,426.8 376.0,427.5 373.0,428.2 370.0,428.9 367.0,429.6 364.0,430.2 361.0,430.8 358.0,431.4 355.0,432.0 352.0,432.6 349.0,433.1 346.0,433.6 343.0,434.0 340.0,434.4 337.0,434.9 334.0,435.3 331.0,435.7 328.0,436.0 325.0,436.3 322.0,436.6 319.0,436.8 316.0,437.1 313.0,437.4 310.0,437.7 307.0,438.0 304.0,438.2 301.0,438.5 298.0,438.8 295.0,438.7 292.0,438.5 289.0,438.4 286.0,438.2 283.0,438.1 280.0,437.9 277.0,438.3 274.0,438.6 271.0,439.0 268.0,439.4 265.0,439.8 262.0,439.9 259.0,440.1 256.0,440.2 253.0,440.4 250.0,440.5 247.0,440.7 244.0,440.7 241.0,440.8 238.0,440.8 235.0,440.9 232.0,440.9 229.0,441.1 226.0,441.5 223.0,441.9 220.0,442.2 217.0,442.6 214.0,443.0 211.0,443.4 208.0,443.8 205.0,444.2 202.0,444.7 199.0,445.1 196.0,445.5 193.0,445.7 190.0,445.8"/>
<g fill="#000080" fill-opacity="0.5"><circle cx="523.7" cy="349.5" r="4.1"/><circle cx="454.9" cy="398.9" r="4.1"/><circle cx="412.0" cy="406.4" r="4.1"/><circle cx="198.2" cy="437.7" r="4.1"/><circle cx="622.5" cy="300.6" r="4.1"/><circle cx="583.7" cy="320.3" r="4.1"/><circle cx="567.2" cy="331.4" r="4.1"/><circle cx="397.6" cy="415.4" r="4.1"/><circle cx="348.7" cy="428.3" r="4.1"/><circle cx="217.0" cy="433.9" r="4.1"/><circle cx="294.7" cy="428.2" r="4.1"/><circle cx="603.8" cy="313.5" r="4.1"/><circle cx="268.8" cy="427.1" r="4.1"/><circle cx="262.8" cy="432.6" r="4.1"/><circle cx="619.4" cy="303.6" r="4.1"/><circle cx="359.1" cy="425.6" r="4.1"/><circle cx="324.7" cy="432.5" r="4.1"/><circle cx="207.9" cy="434.7" r="4.1"/><circle cx="419.4" cy="406.2" r="4.1"/><circle cx="311.7" cy="433.2" r="4.1"/><circle cx="650.7" cy="276.1" r="4.1"/><circle cx="216.2" cy="436.7" r="4.1"/><circle cx="428.9" cy="397.5" r="4.1"/><circle cx="648.4" cy="286.6" r="4.1"/><circle cx="578.3" cy="324.4" r="4.1"/><circle cx="393.9" cy="417.6" r="4.1"/><circle cx="340.2" cy="425.7" r="4.1"/><circle cx="334.3" cy="425.4" r="4.1"/><circle cx="556.7" cy="338.6" r="4.1"/><circle cx="631.8" cy="285.1" r="4.1"/><circle cx="642.4" cy="277.2" r="4.1"/><circle cx="281.1" cy="429.5" r="4.1"/><circle cx="409.6" cy="416.9" r="4.1"/><circle cx="433.4" cy="395.9" r="4.1"/><circle cx="609.3" cy="315.8" r="4.1"/><circle cx="375.6" cy="413.0" r="4.1"/><circle cx="540.7" cy="342.4" r="4.1"/><circle cx="227.2" cy="431.7" r="4.1"/><circle cx="272.2" cy="430.7" r="4.1"/><circle cx="443.8" cy="400.2" r="4.1"/><circle cx="582.6" cy="328.0" r="4.1"/><circle cx="478.7" cy="389.6" r="4.1"/><circle cx="633.9" cy="303.6" r="4.1"/><circle cx="627.4" cy="296.7" r="4.1"/><circle cx="181.5" cy="439.7" r="4.1"/><circle cx="236.2" cy="436.9" r="4.1"/><circle cx="542.0" cy="340.8" r="4.1"/><circle cx="446.9" cy="390.7" r="4.1"/><circle cx="550.9" cy="340.1" r="4.1"/><circle cx="389.4" cy="417.4" r="4.1"/><circle cx="628.5" cy="305.8" r="4.1"/><circle cx="303.5" cy="431.1" r="4.1"/><circle cx="466.3" cy="396.4" r="4.1"/><circle cx="353.2" cy="422.0" r="4.1"/><circle cx="341.0" cy="428.6" r="4.1"/><circle cx="430.5" cy="398.7" r="4.1"/><circle cx="327.5" cy="421.3" r="4.1"/><circle cx="298.6" cy="430.6" r="4.1"/><circle cx="422.8" cy="403.4" r="4.1"/><circle cx="535.0" cy="343.9" r="4.1"/><circle cx="589.7" cy="306.4" r="4.1"/><circle cx="561.2" cy="337.0" r="4.1"/><circle cx="355.5" cy="431.3" r="4.1"/><circle cx="491.6" cy="370.3" r="4.1"/><circle cx="507.9" cy="355.6" r="4.1"/><circle cx="611.7" cy="301.9" r="4.1"/><circle cx="477.6" cy="386.7" r="4.1"/><circle cx="430.6" cy="400.6" r="4.1"/><circle cx="273.8" cy="434.5" r="4.1"/><circle cx="591.6" cy="321.7" r="4.1"/><circle cx="317.3" cy="420.1" r="4.1"/><circle cx="248.8" cy="427.6" r="4.1"/><circle cx="580.5" cy="317.1" r="4.1"/><circle cx="433.9" cy="396.4" r="4.1"/><circle cx="387.7" cy="418.9" r="4.1"/><circle cx="218.6" cy="433.9" r="4.1"/><circle cx="530.5" cy="355.1" r="4.1"/><circle cx="556.8" cy="337.1" r="4.1"/><circle cx="400.8" cy="414.3" r="4.1"/><circle cx="432.5" cy="406.8" r="4.1"/><circle cx="246.0" cy="437.6" r="4.1"/><circle cx="389.0" cy="412.0" r="4.1"/><circle cx="559.5" cy="337.0" r="4.1"/><circle cx="285.8" cy="429.0" r="4.1"/><circle cx="606.5" cy="311.9" r="4.1"/><circle cx="466.4" cy="382.9" r="4.1"/><circle cx="364.3" cy="418.3" r="4.1"/><circle cx="219.7" cy="439.2" r="4.1"/><circle cx="630.5" cy="295.0" r="4.1"/><circle cx="407.3" cy="412.8" r="4.1"/><circle cx="466.7" cy="389.4" r="4.1"/><circle cx="446.5" cy="393.7" r="4.1"/><circle cx="608.8" cy="315.1" r="4.1"/><circle cx="638.6" cy="286.6" r="4.1"/><circle cx="530.3" cy="340.7" r="4.1"/><circle cx="324.3" cy="429.7" r="4.1"/><circle cx="597.4" cy="322.6" r="4.1"/><circle cx="653.6" cy="274.9" r="4.1"/><circle cx="590.5" cy="317.4" r="4.1"/><circle cx="586.2" cy="324.1" r="4.1"/><circle cx="444.2" cy="394.2" r="4.1"/><circle cx="539.7" cy="343.4" r="4.1"/><circle cx="559.9" cy="337.4" r="4.1"/><circle cx="352.8" cy="421.4" r="4.1"/><circle cx="383.1" cy="418.7" r="4.1"/><circle cx="378.7" cy="419.1" r="4.1"/><circle cx="195.0" cy="437.6" r="4.1"/><circle cx="259.7" cy="436.2" r="4.1"/><circle cx="453.0" cy="389.4" r="4.1"/><circle cx="592.1" cy="315.5" r="4.1"/><circle cx="424.7" cy="406.0" r="4.1"/><circle cx="424.7" cy="400.7" r="4.1"/><circle cx="562.3" cy="336.6" r="4.1"/><circle cx="582.0" cy="316.0" r="4.1"/><circle cx="449.9" cy="391.4" r="4.1"/><circle cx="304.4" cy="427.4" r="4.1"/><circle cx="468.1" cy="386.2" r="4.1"/><circle cx="581.0" cy="310.4" r="4.1"/><circle cx="217.9" cy="438.0" r="4.1"/><circle cx="587.4" cy="316.7" r="4.1"/><circle cx="256.4" cy="438.9" r="4.1"/><circle cx="468.4" cy="389.7" r="4.1"/><circle cx="353.1" cy="429.2" r="4.1"/><circle cx="427.5" cy="400.5" r="4.1"/><circle cx="581.8" cy="327.2" r="4.1"/><circle cx="619.7" cy="307.7" r="4.1"/><circle cx="632.2" cy="293.2" r="4.1"/><circle cx="493.8" cy="382.7" r="4.1"/><circle cx="332.3" cy="432.7" r="4.1"/><circle cx="519.6" cy="359.1" r="4.1"/><circle cx="596.5" cy="297.6" r="4.1"/><circle cx="402.0" cy="408.6" r="4.1"/><circle cx="208.4" cy="441.8" r="4.1"/><circle cx="422.1" cy="404.7" r="4.1"/><circle cx="241.0" cy="431.7" r="4.1"/><circle cx="336.1" cy="424.1" r="4.1"/><circle cx="597.6" cy="309.5" r="4.1"/><circle cx="571.7" cy="328.7" r="4.1"/><circle cx="608.7" cy="295.0" r="4.1"/><circle cx="447.2" cy="394.0" r="4.1"/><circle cx="200.6" cy="439.6" r="4.1"/><circle cx="351.9" cy="421.7" r="4.1"/><circle cx="610.3" cy="296.2" r="4.1"/><circle cx="274.3" cy="426.0" r="4.1"/><circle cx="410.1" cy="409.3" r="4.1"/><circle cx="598.9" cy="308.0" r="4.1"/><circle cx="544.8" cy="343.0" r="4.1"/><circle cx="594.1" cy="332.7" r="4.1"/><circle cx="488.4" cy="385.8" r="4.1"/><circle cx="481.7" cy="388.2" r="4.1"/><circle cx="447.1" cy="402.1" r="4.1"/><circle cx="231.0" cy="435.1" r="4.1"/><circle cx="622.2" cy="288.8" r="4.1"/><circle cx="497.3" cy="377.9" r="4.1"/><circle cx="424.0" cy="408.9" r="4.1"/><circle cx="599.8" cy="328.3" r="4.1"/><circle cx="229.0" cy="431.9" r="4.1"/><circle cx="545.5" cy="342.9" r="4.1"/><circle cx="508.3" cy="360.6" r="4.1"/><circle cx="225.3" cy="432.7" r="4.1"/><circle cx="388.3" cy="422.3" r="4.1"/><circle cx="194.2" cy="434.4" r="4.1"/><circle cx="442.6" cy="401.2" r="4.1"/><circle cx="397.3" cy="408.9" r="4.1"/><circle cx="208.1" cy="437.2" r="4.1"/><circle cx="423.6" cy="407.0" r="4.1"/><circle cx="511.0" cy="362.8" r="4.1"/><circle cx="571.8" cy="335.9" r="4.1"/><circle cx="349.2" cy="417.5" r="4.1"/><circle cx="585.9" cy="329.1" r="4.1"/><circle cx="194.6" cy="438.0" r="4.1"/><circle cx="425.9" cy="404.4" r="4.1"/><circle cx="420.8" cy="401.4" r="4.1"/><circle cx="234.0" cy="435.2" r="4.1"/><circle cx="297.6" cy="430.8" r="4.1"/><circle cx="370.9" cy="424.9" r="4.1"/><circle cx="470.7" cy="393.6" r="4.1"/><circle cx="310.0" cy="431.0" r="4.1"/><circle cx="653.1" cy="275.4" r="4.1"/><circle cx="282.0" cy="428.7" r="4.1"/><circle cx="352.1" cy="425.5" r="4.1"/><circle cx="330.4" cy="426.1" r="4.1"/><circle cx="625.9" cy="297.0" r="4.1"/><circle cx="305.0" cy="433.2" r="4.1"/><circle cx="567.6" cy="333.1" r="4.1"/><circle cx="267.1" cy="434.2" r="4.1"/><circle cx="359.0" cy="427.8" r="4.1"/><circle cx="489.9" cy="387.8" r="4.1"/><circle cx="623.3" cy="308.7" r="4.1"/><circle cx="519.0" cy="366.0" r="4.1"/><circle cx="447.4" cy="392.5" r="4.1"/><circle cx="474.5" cy="394.9" r="4.1"/><circle cx="480.9" cy="378.5" r="4.1"/><circle cx="603.2" cy="320.3" r="4.1"/><circle cx="574.6" cy="317.4" r="4.1"/><circle cx="338.9" cy="426.5" r="4.1"/><circle cx="482.7" cy="379.8" r="4.1"/><circle cx="531.6" cy="346.9" r="4.1"/><circle cx="604.9" cy="295.4" r="4.1"/><circle cx="199.6" cy="437.3" r="4.1"/><circle cx="370.8" cy="420.1" r="4.1"/><circle cx="398.8" cy="416.7" r="4.1"/><circle cx="556.7" cy="341.2" r="4.1"/><circle cx="655.4" cy="269.3" r="4.1"/><circle cx="252.1" cy="430.3" r="4.1"/><circle cx="352.8" cy="418.7" r="4.1"/><circle cx="514.3" cy="368.8" r="4.1"/><circle cx="500.9" cy="366.8" r="4.1"/><circle cx="546.6" cy="342.7" r="4.1"/><circle cx="169.4" cy="440.5" r="4.1"/><circle cx="476.1" cy="379.6" r="4.1"/><circle cx="348.5" cy="427.8" r="4.1"/><circle cx="293.7" cy="432.9" r="4.1"/><circle cx="529.8" cy="347.5" r="4.1"/><circle cx="403.4" cy="411.7" r="4.1"/><circle cx="502.9" cy="363.0" r="4.1"/><circle cx="270.2" cy="431.4" r="4.1"/><circle cx="252.6" cy="436.6" r="4.1"/><circle cx="276.7" cy="433.8" r="4.1"/><circle cx="231.4" cy="431.0" r="4.1"/><circle cx="449.5" cy="397.3" r="4.1"/><circle cx="512.8" cy="368.5" r="4.1"/><circle cx="335.6" cy="424.6" r="4.1"/><circle cx="404.5" cy="409.5" r="4.1"/><circle cx="423.6" cy="404.2" r="4.1"/><circle cx="390.4" cy="417.0" r="4.1"/><circle cx="444.5" cy="392.1" r="4.1"/><circle cx="319.1" cy="431.4" r="4.1"/><circle cx="486.5" cy="377.1" r="4.1"/><circle cx="453.6" cy="393.1" r="4.1"/><circle cx="456.2" cy="386.8" r="4.1"/><circle cx="356.5" cy="428.0" r="4.1"/><circle cx="408.2" cy="415.6" r="4.1"/><circle cx="355.9" cy="426.9" r="4.1"/><circle cx="522.1" cy="367.4" r="4.1"/><circle cx="606.5" cy="299.1" r="4.1"/><circle cx="489.2" cy="381.5" r="4.1"/><circle cx="616.5" cy="308.1" r="4.1"/><circle cx="624.0" cy="286.6" r="4.1"/><circle cx="627.9" cy="297.9" r="4.1"/><circle cx="575.4" cy="317.2" r="4.1"/><circle cx="385.6" cy="419.3" r="4.1"/><circle cx="334.7" cy="434.5" r="4.1"/><circle cx="579.9" cy="314.5" r="4.1"/><circle cx="476.3" cy="392.4" r="4.1"/><circle cx="194.5" cy="442.1" r="4.1"/><circle cx="308.9" cy="425.8" r="4.1"/><circle cx="483.0" cy="377.8" r="4.1"/><circle cx="434.6" cy="398.1" r="4.1"/><circle cx="319.3" cy="423.3" r="4.1"/><circle cx="486.8" cy="379.5" r="4.1"/><circle cx="409.8" cy="412.4" r="4.1"/><circle cx="348.5" cy="424.7" r="4.1"/><circle cx="547.5" cy="338.5" r="4.1"/><circle cx="634.3" cy="288.1" r="4.1"/><circle cx="466.3" cy="387.5" r="4.1"/><circle cx="577.7" cy="318.8" r="4.1"/><circle cx="385.6" cy="421.7" r="4.1"/><circle cx="530.6" cy="357.2" r="4.1"/><circle cx="199.2" cy="438.3" r="4.1"/><circle cx="483.5" cy="377.6" r="4.1"/><circle cx="167.8" cy="440.7" r="4.1"/><circle cx="514.9" cy="354.1" r="4.1"/><circle cx="367.1" cy="421.1" r="4.1"/><circle cx="212.7" cy="440.7" r="4.1"/><circle cx="316.8" cy="433.4" r="4.1"/><circle cx="308.8" cy="429.7" r="4.1"/><circle cx="202.9" cy="435.8" r="4.1"/><circle cx="526.7" cy="357.6" r="4.1"/><circle cx="306.0" cy="437.6" r="4.1"/><circle cx="386.9" cy="415.9" r="4.1"/><circle cx="503.0" cy="375.6" r="4.1"/><circle cx="392.0" cy="412.4" r="4.1"/><circle cx="297.7" cy="424.8" r="4.1"/><circle cx="619.0" cy="290.7" r="4.1"/><circle cx="356.3" cy="424.4" r="4.1"/><circle cx="239.1" cy="427.4" r="4.1"/><circle cx="589.2" cy="316.2" r="4.1"/><circle cx="574.4" cy="325.3" r="4.1"/><circle cx="502.8" cy="367.1" r="4.1"/><circle cx="243.1" cy="430.1" r="4.1"/><circle cx="648.7" cy="280.9" r="4.1"/><circle cx="554.4" cy="341.0" r="4.1"/><circle cx="633.6" cy="302.1" r="4.1"/><circle cx="600.3" cy="315.7" r="4.1"/><circle cx="618.4" cy="305.3" r="4.1"/><circle cx="353.5" cy="422.6" r="4.1"/><circle cx="521.0" cy="354.7" r="4.1"/><circle cx="216.5" cy="438.5" r="4.1"/><circle cx="486.7" cy="376.8" r="4.1"/><circle cx="505.8" cy="367.7" r="4.1"/><circle cx="645.8" cy="282.0" r="4.1"/><circle cx="415.9" cy="403.0" r="4.1"/><circle cx="346.8" cy="431.2" r="4.1"/><circle cx="598.8" cy="318.0" r="4.1"/><circle cx="381.9" cy="418.3" r="4.1"/><circle cx="338.0" cy="423.2" r="4.1"/><circle cx="642.4" cy="290.3" r="4.1"/><circle cx="278.7" cy="424.7" r="4.1"/><circle cx="349.4" cy="423.7" r="4.1"/><circle cx="479.5" cy="386.4" r="4.1"/><circle cx="184.3" cy="442.6" r="4.1"/><circle cx="603.0" cy="297.9" r="4.1"/><circle cx="249.6" cy="430.9" r="4.1"/><circle cx="358.6" cy="429.9" r="4.1"/><circle cx="505.6" cy="371.4" r="4.1"/><circle cx="232.8" cy="431.3" r="4.1"/><circle cx="465.4" cy="388.0" r="4.1"/><circle cx="383.9" cy="417.5" r="4.1"/><circle cx="444.4" cy="399.5" r="4.1"/><circle cx="304.8" cy="431.8" r="4.1"/><circle cx="186.0" cy="438.8" r="4.1"/><circle cx="202.5" cy="439.4" r="4.1"/><circle cx="468.8" cy="390.9" r="4.1"/><circle cx="223.7" cy="435.1" r="4.1"/><circle cx="609.7" cy="314.1" r="4.1"/><circle cx="374.0" cy="426.1" r="4.1"/><circle cx="591.5" cy="313.0" r="4.1"/><circle cx="492.9" cy="366.8" r="4.1"/><circle cx="640.7" cy="284.2" r="4.1"/><circle cx="526.5" cy="353.3" r="4.1"/><circle cx="384.9" cy="415.6" r="4.1"/><circle cx="209.6" cy="435.3" r="4.1"/><circle cx="213.6" cy="437.1" r="4.1"/><circle cx="177.9" cy="444.6" r="4.1"/><circle cx="410.7" cy="408.8" r="4.1"/><circle cx="628.5" cy="292.9" r="4.1"/><circle cx="620.5" cy="301.6" r="4.1"/><circle cx="577.2" cy="322.1" r="4.1"/><circle cx="406.4" cy="415.7" r="4.1"/><circle cx="237.3" cy="433.1" r="4.1"/><circle cx="367.3" cy="425.7" r="4.1"/><circle cx="454.7" cy="397.1" r="4.1"/><circle cx="597.2" cy="313.7" r="4.1"/><circle cx="305.8" cy="426.3" r="4.1"/><circle cx="615.0" cy="300.6" r="4.1"/><circle cx="411.5" cy="415.4" r="4.1"/><circle cx="358.4" cy="419.9" r="4.1"/><circle cx="361.0" cy="423.0" r="4.1"/><circle cx="599.1" cy="306.9" r="4.1"/><circle cx="335.6" cy="426.0" r="4.1"/><circle cx="594.4" cy="315.7" r="4.1"/><circle cx="273.4" cy="433.1" r="4.1"/><circle cx="318.0" cy="425.3" r="4.1"/><circle cx="341.9" cy="422.9" r="4.1"/><circle cx="437.8" cy="399.9" r="4.1"/><circle cx="474.6" cy="391.5" r="4.1"/><circle cx="416.5" cy="408.0" r="4.1"/><circle cx="501.6" cy="372.7" r="4.1"/><circle cx="347.2" cy="427.9" r="4.1"/><circle cx="493.1" cy="380.3" r="4.1"/><circle cx="542.3" cy="340.8" r="4.1"/><circle cx="369.9" cy="418.1" r="4.1"/><circle cx="265.3" cy="432.3" r="4.1"/><circle cx="334.0" cy="425.6" r="4.1"/><circle cx="636.6" cy="296.4" r="4.1"/><circle cx="505.2" cy="371.3" r="4.1"/><circle cx="448.0" cy="394.0" r="4.1"/><circle cx="434.2" cy="398.9" r="4.1"/><circle cx="288.3" cy="428.3" r="4.1"/><circle cx="319.7" cy="423.7" r="4.1"/><circle cx="331.7" cy="433.9" r="4.1"/><circle cx="452.8" cy="392.0" r="4.1"/><circle cx="183.2" cy="437.5" r="4.1"/><circle cx="591.9" cy="321.3" r="4.1"/><circle cx="479.9" cy="392.6" r="4.1"/><circle cx="608.0" cy="307.1" r="4.1"/><circle cx="228.7" cy="435.7" r="4.1"/><circle cx="629.4" cy="290.0" r="4.1"/><circle cx="214.1" cy="434.9" r="4.1"/><circle cx="355.3" cy="422.2" r="4.1"/><circle cx="264.7" cy="429.8" r="4.1"/><circle cx="497.9" cy="383.4" r="4.1"/><circle cx="326.7" cy="426.2" r="4.1"/><circle cx="547.4" cy="342.8" r="4.1"/><circle cx="309.8" cy="427.5" r="4.1"/><circle cx="485.4" cy="387.0" r="4.1"/><circle cx="375.3" cy="420.7" r="4.1"/><circle cx="193.9" cy="436.7" r="4.1"/><circle cx="409.7" cy="411.4" r="4.1"/><circle cx="226.1" cy="428.8" r="4.1"/><circle cx="619.5" cy="315.1" r="4.1"/><circle cx="270.0" cy="431.3" r="4.1"/><circle cx="263.5" cy="435.5" r="4.1"/><circle cx="510.6" cy="366.1" r="4.1"/><circle cx="434.5" cy="396.7" r="4.1"/><circle cx="558.5" cy="339.6" r="4.1"/><circle cx="514.2" cy="355.9" r="4.1"/><circle cx="499.0" cy="369.7" r="4.1"/><circle cx="441.7" cy="392.0" r="4.1"/><circle cx="194.8" cy="439.5" r="4.1"/><circle cx="235.3" cy="433.1" r="4.1"/><circle cx="402.8" cy="409.0" r="4.1"/><circle cx="336.7" cy="420.3" r="4.1"/><circle cx="592.2" cy="316.4" r="4.1"/><circle cx="415.1" cy="409.6" r="4.1"/><circle cx="440.2" cy="398.3" r="4.1"/><circle cx="242.7" cy="433.4" r="4.1"/><circle cx="203.3" cy="435.5" r="4.1"/><circle cx="643.4" cy="290.1" r="4.1"/><circle cx="195.0" cy="439.2" r="4.1"/><circle cx="629.2" cy="292.1" r="4.1"/><circle cx="628.8" cy="303.8" r="4.1"/><circle cx="226.4" cy="438.6" r="4.1"/><circle cx="307.9" cy="432.3" r="4.1"/><circle cx="224.3" cy="441.1" r="4.1"/><circle cx="348.9" cy="418.0" r="4.1"/><circle cx="621.6" cy="299.8" r="4.1"/><circle cx="302.7" cy="426.0" r="4.1"/><circle cx="429.3" cy="403.8" r="4.1"/><circle cx="585.4" cy="323.4" r="4.1"/><circle cx="493.1" cy="383.7" r="4.1"/><circle cx="497.7" cy="373.3" r="4.1"/><circle cx="335.5" cy="428.5" r="4.1"/><circle cx="291.0" cy="431.6" r="4.1"/><circle cx="603.1" cy="305.7" r="4.1"/><circle cx="627.1" cy="297.0" r="4.1"/><circle cx="631.0" cy="287.3" r="4.1"/><circle cx="471.3" cy="386.5" r="4.1"/><circle cx="456.0" cy="388.2" r="4.1"/><circle cx="280.1" cy="431.4" r="4.1"/><circle cx="554.3" cy="339.1" r="4.1"/><circle cx="384.5" cy="414.3" r="4.1"/><circle cx="584.7" cy="310.6" r="4.1"/><circle cx="448.1" cy="392.5" r="4.1"/><circle cx="622.0" cy="305.6" r="4.1"/><circle cx="514.1" cy="370.3" r="4.1"/><circle cx="559.6" cy="340.6" r="4.1"/><circle cx="566.9" cy="332.2" r="4.1"/><circle cx="620.8" cy="308.4" r="4.1"/><circle cx="567.3" cy="335.2" r="4.1"/><circle cx="233.9" cy="431.8" r="4.1"/><circle cx="263.5" cy="427.9" r="4.1"/><circle cx="514.8" cy="369.5" r="4.1"/><circle cx="539.6" cy="348.9" r="4.1"/><circle cx="415.2" cy="405.9" r="4.1"/><circle cx="216.5" cy="432.9" r="4.1"/><circle cx="627.0" cy="311.1" r="4.1"/><circle cx="319.9" cy="421.7" r="4.1"/><circle cx="395.6" cy="416.3" r="4.1"/><circle cx="455.4" cy="392.9" r="4.1"/><circle cx="413.0" cy="406.0" r="4.1"/><circle cx="614.9" cy="311.7" r="4.1"/><circle cx="206.2" cy="439.8" r="4.1"/><circle cx="240.8" cy="437.3" r="4.1"/><circle cx="625.4" cy="288.2" r="4.1"/><circle cx="633.0" cy="303.1" r="4.1"/><circle cx="643.0" cy="274.9" r="4.1"/><circle cx="353.2" cy="431.7" r="4.1"/><circle cx="305.7" cy="430.8" r="4.1"/><circle cx="197.8" cy="442.3" r="4.1"/><circle cx="483.4" cy="379.4" r="4.1"/><circle cx="368.9" cy="419.5" r="4.1"/><circle cx="596.1" cy="307.9" r="4.1"/><circle cx="287.8" cy="429.8" r="4.1"/><circle cx="180.8" cy="440.1" r="4.1"/><circle cx="539.0" cy="339.5" r="4.1"/><circle cx="215.0" cy="433.1" r="4.1"/><circle cx="525.7" cy="353.6" r="4.1"/><circle cx="312.1" cy="419.9" r="4.1"/><circle cx="599.1" cy="312.5" r="4.1"/><circle cx="508.5" cy="374.2" r="4.1"/><circle cx="151.7" cy="444.6" r="4.1"/><circle cx="264.2" cy="432.7" r="4.1"/><circle cx="471.4" cy="385.9" r="4.1"/><circle cx="524.5" cy="354.3" r="4.1"/><circle cx="365.7" cy="424.4" r="4.1"/><circle cx="339.1" cy="429.1" r="4.1"/><circle cx="270.5" cy="429.3" r="4.1"/><circle cx="341.4" cy="431.8" r="4.1"/><circle cx="219.5" cy="432.2" r="4.1"/><circle cx="300.8" cy="432.6" r="4.1"/><circle cx="518.8" cy="348.7" r="4.1"/><circle cx="198.2" cy="435.2" r="4.1"/><circle cx="566.4" cy="333.3" r="4.1"/><circle cx="625.8" cy="285.9" r="4.1"/><circle cx="577.5" cy="327.3" r="4.1"/><circle cx="256.4" cy="438.2" r="4.1"/><circle cx="386.4" cy="413.0" r="4.1"/><circle cx="243.5" cy="439.5" r="4.1"/><circle cx="630.8" cy="290.4" r="4.1"/><circle cx="347.7" cy="427.2" r="4.1"/><circle cx="379.0" cy="414.2" r="4.1"/><circle cx="333.5" cy="428.9" r="4.1"/><circle cx="351.6" cy="419.8" r="4.1"/><circle cx="328.8" cy="429.7" r="4.1"/><circle cx="233.8" cy="434.3" r="4.1"/><circle cx="267.7" cy="427.4" r="4.1"/><circle cx="352.3" cy="427.1" r="4.1"/><circle cx="615.5" cy="297.7" r="4.1"/><circle cx="419.9" cy="405.6" r="4.1"/><circle cx="656.0" cy="270.8" r="4.1"/><circle cx="489.0" cy="381.6" r="4.1"/><circle cx="363.4" cy="422.8" r="4.1"/><circle cx="370.0" cy="427.3" r="4.1"/><circle cx="345.8" cy="424.6" r="4.1"/><circle cx="297.1" cy="431.7" r="4.1"/><circle cx="309.9" cy="430.0" r="4.1"/><circle cx="556.1" cy="341.4" r="4.1"/><circle cx="283.1" cy="428.0" r="4.1"/><circle cx="447.8" cy="397.5" r="4.1"/><circle cx="279.1" cy="436.1" r="4.1"/><circle cx="380.1" cy="417.6" r="4.1"/><circle cx="205.0" cy="441.0" r="4.1"/><circle cx="336.4" cy="421.0" r="4.1"/><circle cx="599.7" cy="304.3" r="4.1"/><circle cx="254.4" cy="431.5" r="4.1"/><circle cx="426.2" cy="409.5" r="4.1"/><circle cx="554.0" cy="339.6" r="4.1"/><circle cx="240.6" cy="434.5" r="4.1"/><circle cx="314.1" cy="434.3" r="4.1"/><circle cx="377.4" cy="420.4" r="4.1"/><circle cx="634.9" cy="285.0" r="4.1"/><circle cx="509.8" cy="367.8" r="4.1"/><circle cx="260.9" cy="433.3" r="4.1"/><circle cx="527.1" cy="359.1" r="4.1"/><circle cx="199.0" cy="439.6" r="4.1"/><circle cx="478.0" cy="386.1" r="4.1"/><circle cx="304.7" cy="427.8" r="4.1"/><circle cx="578.2" cy="317.0" r="4.1"/><circle cx="231.4" cy="438.6" r="4.1"/><circle cx="209.3" cy="438.6" r="4.1"/><circle cx="485.8" cy="387.7" r="4.1"/><circle cx="582.6" cy="334.5" r="4.1"/><circle cx="424.0" cy="406.6" r="4.1"/><circle cx="572.2" cy="335.0" r="4.1"/><circle cx="209.7" cy="441.3" r="4.1"/><circle cx="207.0" cy="435.5" r="4.1"/><circle cx="529.4" cy="358.0" r="4.1"/><circle cx="281.6" cy="436.9" r="4.1"/><circle cx="511.8" cy="358.5" r="4.1"/><circle cx="335.3" cy="429.6" r="4.1"/><circle cx="270.4" cy="423.9" r="4.1"/><circle cx="236.8" cy="433.6" r="4.1"/><circle cx="248.7" cy="432.4" r="4.1"/><circle cx="287.7" cy="434.7" r="4.1"/><circle cx="263.7" cy="431.4" r="4.1"/><circle cx="328.4" cy="427.9" r="4.1"/><circle cx="580.2" cy="318.5" r="4.1"/><circle cx="330.9" cy="429.9" r="4.1"/><circle cx="255.7" cy="427.5" r="4.1"/><circle cx="525.4" cy="348.7" r="4.1"/><circle cx="276.2" cy="423.8" r="4.1"/><circle cx="457.8" cy="398.6" r="4.1"/><circle cx="244.4" cy="434.2" r="4.1"/><circle cx="329.2" cy="429.0" r="4.1"/><circle cx="192.6" cy="443.2" r="4.1"/><circle cx="398.8" cy="417.2" r="4.1"/><circle cx="537.4" cy="346.6" r="4.1"/><circle cx="638.7" cy="288.7" r="4.1"/><circle cx="192.6" cy="440.6" r="4.1"/><circle cx="523.1" cy="346.0" r="4.1"/><circle cx="498.3" cy="369.4" r="4.1"/><circle cx="619.6" cy="290.7" r="4.1"/><circle cx="352.0" cy="429.4" r="4.1"/><circle cx="645.8" cy="279.3" r="4.1"/><circle cx="356.6" cy="426.3" r="4.1"/><circle cx="529.1" cy="352.2" r="4.1"/><circle cx="387.5" cy="420.4" r="4.1"/><circle cx="549.1" cy="342.3" r="4.1"/><circle cx="485.0" cy="380.6" r="4.1"/><circle cx="586.3" cy="321.8" r="4.1"/><circle cx="445.6" cy="398.0" r="4.1"/><circle cx="496.9" cy="372.8" r="4.1"/><circle cx="649.4" cy="281.0" r="4.1"/><circle cx="580.9" cy="318.5" r="4.1"/><circle cx="221.5" cy="433.9" r="4.1"/><circle cx="652.0" cy="275.0" r="4.1"/><circle cx="605.1" cy="311.9" r="4.1"/><circle cx="309.9" cy="434.7" r="4.1"/><circle cx="634.0" cy="302.5" r="4.1"/><circle cx="478.1" cy="384.2" r="4.1"/><circle cx="260.3" cy="432.7" r="4.1"/><circle cx="197.6" cy="441.1" r="4.1"/><circle cx="652.2" cy="281.1" r="4.1"/><circle cx="528.4" cy="351.3" r="4.1"/><circle cx="337.2" cy="431.7" r="4.1"/><circle cx="474.8" cy="394.1" r="4.1"/><circle cx="617.5" cy="299.1" r="4.1"/><circle cx="548.6" cy="346.2" r="4.1"/><circle cx="541.9" cy="350.9" r="4.1"/><circle cx="624.1" cy="289.6" r="4.1"/><circle cx="319.3" cy="431.9" r="4.1"/><circle cx="372.1" cy="413.2" r="4.1"/><circle cx="280.5" cy="430.7" r="4.1"/><circle cx="631.0" cy="305.7" r="4.1"/><circle cx="295.9" cy="429.8" r="4.1"/><circle cx="354.2" cy="427.0" r="4.1"/><circle cx="605.5" cy="297.2" r="4.1"/><circle cx="599.9" cy="302.7" r="4.1"/><circle cx="507.3" cy="366.8" r="4.1"/><circle cx="598.8" cy="322.2" r="4.1"/><circle cx="319.8" cy="429.1" r="4.1"/><circle cx="231.4" cy="434.5" r="4.1"/><circle cx="280.8" cy="434.8" r="4.1"/><circle cx="236.1" cy="433.0" r="4.1"/><circle cx="605.5" cy="319.7" r="4.1"/><circle cx="641.8" cy="274.0" r="4.1"/><circle cx="243.7" cy="432.5" r="4.1"/><circle cx="570.9" cy="328.8" r="4.1"/><circle cx="345.8" cy="425.5" r="4.1"/><circle cx="519.6" cy="362.2" r="4.1"/><circle cx="358.4" cy="422.8" r="4.1"/><circle cx="630.5" cy="301.2" r="4.1"/><circle cx="364.9" cy="417.2" r="4.1"/><circle cx="274.4" cy="432.1" r="4.1"/><circle cx="464.2" cy="392.0" r="4.1"/><circle cx="479.3" cy="386.1" r="4.1"/><circle cx="316.8" cy="426.1" r="4.1"/><circle cx="308.4" cy="433.2" r="4.1"/><circle cx="276.3" cy="432.3" r="4.1"/><circle cx="515.6" cy="353.0" r="4.1"/><circle cx="609.1" cy="307.8" r="4.1"/><circle cx="430.5" cy="405.4" r="4.1"/><circle cx="627.6" cy="281.6" r="4.1"/><circle cx="591.5" cy="318.8" r="4.1"/><circle cx="281.0" cy="431.3" r="4.1"/><circle cx="236.7" cy="433.8" r="4.1"/><circle cx="451.3" cy="396.4" r="4.1"/><circle cx="593.6" cy="306.2" r="4.1"/><circle cx="259.8" cy="437.3" r="4.1"/><circle cx="448.9" cy="397.2" r="4.1"/><circle cx="349.6" cy="426.3" r="4.1"/><circle cx="368.6" cy="417.1" r="4.1"/><circle cx="483.2" cy="382.2" r="4.1"/><circle cx="549.0" cy="339.5" r="4.1"/><circle cx="256.8" cy="431.8" r="4.1"/><circle cx="502.1" cy="362.3" r="4.1"/><circle cx="585.0" cy="313.3" r="4.1"/><circle cx="318.9" cy="426.1" r="4.1"/><circle cx="279.8" cy="425.3" r="4.1"/><circle cx="230.9" cy="436.0" r="4.1"/><circle cx="490.1" cy="377.8" r="4.1"/><circle cx="580.0" cy="319.8" r="4.1"/><circle cx="441.6" cy="394.6" r="4.1"/><circle cx="522.1" cy="352.0" r="4.1"/><circle cx="525.5" cy="357.0" r="4.1"/><circle cx="324.0" cy="429.6" r="4.1"/><circle cx="327.1" cy="429.4" r="4.1"/><circle cx="496.6" cy="370.6" r="4.1"/><circle cx="418.1" cy="409.1" r="4.1"/><circle cx="408.3" cy="414.3" r="4.1"/><circle cx="417.7" cy="406.1" r="4.1"/><circle cx="400.4" cy="411.1" r="4.1"/><circle cx="188.4" cy="443.4" r="4.1"/><circle cx="488.0" cy="375.7" r="4.1"/><circle cx="388.8" cy="421.9" r="4.1"/><circle cx="396.9" cy="416.9" r="4.1"/><circle cx="472.2" cy="390.6" r="4.1"/><circle cx="350.0" cy="428.3" r="4.1"/><circle cx="462.9" cy="390.4" r="4.1"/><circle cx="582.6" cy="325.8" r="4.1"/><circle cx="398.6" cy="415.5" r="4.1"/><circle cx="471.2" cy="387.5" r="4.1"/><circle cx="618.9" cy="293.8" r="4.1"/><circle cx="588.6" cy="309.0" r="4.1"/><circle cx="196.9" cy="444.4" r="4.1"/><circle cx="390.0" cy="410.3" r="4.1"/><circle cx="296.7" cy="428.3" r="4.1"/><circle cx="625.5" cy="298.6" r="4.1"/><circle cx="536.9" cy="352.2" r="4.1"/><circle cx="284.6" cy="430.6" r="4.1"/><circle cx="270.3" cy="432.2" r="4.1"/><circle cx="276.8" cy="436.0" r="4.1"/><circle cx="172.0" cy="442.2" r="4.1"/><circle cx="505.0" cy="376.8" r="4.1"/><circle cx="492.6" cy="380.3" r="4.1"/><circle cx="247.1" cy="436.7" r="4.1"/><circle cx="562.6" cy="338.6" r="4.1"/><circle cx="452.9" cy="396.7" r="4.1"/><circle cx="625.8" cy="312.6" r="4.1"/><circle cx="276.5" cy="433.9" r="4.1"/><circle cx="208.6" cy="441.4" r="4.1"/><circle cx="416.0" cy="405.1" r="4.1"/><circle cx="243.9" cy="432.4" r="4.1"/><circle cx="410.1" cy="408.6" r="4.1"/><circle cx="558.2" cy="339.0" r="4.1"/><circle cx="563.1" cy="336.5" r="4.1"/><circle cx="516.1" cy="357.0" r="4.1"/><circle cx="469.3" cy="388.3" r="4.1"/><circle cx="491.4" cy="377.2" r="4.1"/><circle cx="394.7" cy="417.3" r="4.1"/><circle cx="412.4" cy="409.8" r="4.1"/><circle cx="555.8" cy="344.0" r="4.1"/><circle cx="234.6" cy="431.3" r="4.1"/><circle cx="578.8" cy="322.7" r="4.1"/><circle cx="605.7" cy="300.0" r="4.1"/><circle cx="573.3" cy="326.0" r="4.1"/><circle cx="649.5" cy="274.0" r="4.1"/><circle cx="308.4" cy="430.7" r="4.1"/><circle cx="276.7" cy="424.1" r="4.1"/><circle cx="358.8" cy="419.5" r="4.1"/><circle cx="451.0" cy="387.9" r="4.1"/><circle cx="219.9" cy="434.1" r="4.1"/><circle cx="472.4" cy="390.5" r="4.1"/><circle cx="331.5" cy="431.5" r="4.1"/><circle cx="248.6" cy="429.4" r="4.1"/><circle cx="630.7" cy="307.8" r="4.1"/><circle cx="455.0" cy="386.6" r="4.1"/><circle cx="590.9" cy="303.6" r="4.1"/><circle cx="632.1" cy="293.1" r="4.1"/><circle cx="290.7" cy="430.0" r="4.1"/><circle cx="467.8" cy="388.0" r="4.1"/><circle cx="361.6" cy="425.0" r="4.1"/><circle cx="512.0" cy="361.2" r="4.1"/><circle cx="251.4" cy="427.5" r="4.1"/><circle cx="443.7" cy="394.0" r="4.1"/><circle cx="455.3" cy="388.1" r="4.1"/><circle cx="525.8" cy="352.1" r="4.1"/><circle cx="321.2" cy="427.9" r="4.1"/><circle cx="259.5" cy="433.5" r="4.1"/><circle cx="332.2" cy="425.2" r="4.1"/><circle cx="328.9" cy="427.1" r="4.1"/><circle cx="512.1" cy="354.7" r="4.1"/><circle cx="269.8" cy="434.5" r="4.1"/><circle cx="296.5" cy="427.9" r="4.1"/><circle cx="517.2" cy="367.3" r="4.1"/><circle cx="216.1" cy="437.2" r="4.1"/><circle cx="373.8" cy="421.1" r="4.1"/><circle cx="511.6" cy="363.0" r="4.1"/><circle cx="341.1" cy="425.4" r="4.1"/><circle cx="479.9" cy="391.0" r="4.1"/><circle cx="210.3" cy="437.7" r="4.1"/><circle cx="254.3" cy="425.2" r="4.1"/><circle cx="608.7" cy="306.3" r="4.1"/><circle cx="470.8" cy="385.9" r="4.1"/><circle cx="610.1" cy="301.8" r="4.1"/><circle cx="628.8" cy="290.1" r="4.1"/><circle cx="420.3" cy="407.0" r="4.1"/><circle cx="593.5" cy="327.1" r="4.1"/><circle cx="291.5" cy="428.8" r="4.1"/><circle cx="160.1" cy="442.0" r="4.1"/><circle cx="604.7" cy="309.4" r="4.1"/><circle cx="463.4" cy="390.9" r="4.1"/><circle cx="473.7" cy="382.0" r="4.1"/><circle cx="400.7" cy="418.5" r="4.1"/><circle cx="495.5" cy="374.8" r="4.1"/><circle cx="502.7" cy="368.1" r="4.1"/><circle cx="263.2" cy="434.7" r="4.1"/><circle cx="528.5" cy="345.5" r="4.1"/><circle cx="275.9" cy="435.5" r="4.1"/><circle cx="366.4" cy="418.2" r="4.1"/><circle cx="427.7" cy="406.9" r="4.1"/><circle cx="388.4" cy="414.1" r="4.1"/><circle cx="494.0" cy="372.7" r="4.1"/><circle cx="329.8" cy="431.8" r="4.1"/><circle cx="185.0" cy="441.8" r="4.1"/><circle cx="340.6" cy="420.4" r="4.1"/><circle cx="577.2" cy="320.0" r="4.1"/><circle cx="384.6" cy="419.1" r="4.1"/><circle cx="461.9" cy="393.7" r="4.1"/><circle cx="364.1" cy="427.4" r="4.1"/><circle cx="289.2" cy="432.0" r="4.1"/><circle cx="233.6" cy="428.0" r="4.1"/><circle cx="356.1" cy="424.2" r="4.1"/><circle cx="319.7" cy="426.3" r="4.1"/><circle cx="356.0" cy="419.5" r="4.1"/><circle cx="531.4" cy="351.7" r="4.1"/><circle cx="560.8" cy="336.0" r="4.1"/><circle cx="571.5" cy="328.3" r="4.1"/><circle cx="465.3" cy="384.9" r="4.1"/><circle cx="473.6" cy="389.8" r="4.1"/><circle cx="577.2" cy="322.0" r="4.1"/><circle cx="305.4" cy="429.4" r="4.1"/><circle cx="366.3" cy="420.5" r="4.1"/><circle cx="245.9" cy="439.4" r="4.1"/><circle cx="580.4" cy="321.4" r="4.1"/><circle cx="512.2" cy="364.3" r="4.1"/><circle cx="538.7" cy="347.7" r="4.1"/><circle cx="561.0" cy="337.2" r="4.1"/><circle cx="413.9" cy="410.8" r="4.1"/><circle cx="479.3" cy="381.4" r="4.1"/><circle cx="503.0" cy="370.4" r="4.1"/><circle cx="495.3" cy="375.1" r="4.1"/><circle cx="452.0" cy="395.4" r="4.1"/><circle cx="400.9" cy="411.0" r="4.1"/><circle cx="239.1" cy="434.0" r="4.1"/><circle cx="397.7" cy="421.4" r="4.1"/><circle cx="314.2" cy="430.4" r="4.1"/><circle cx="621.0" cy="297.9" r="4.1"/><circle cx="181.9" cy="439.3" r="4.1"/><circle cx="290.3" cy="426.8" r="4.1"/><circle cx="554.5" cy="338.6" r="4.1"/><circle cx="287.2" cy="437.1" r="4.1"/><circle cx="435.3" cy="394.6" r="4.1"/><circle cx="229.0" cy="432.2" r="4.1"/><circle cx="348.1" cy="430.2" r="4.1"/><circle cx="501.4" cy="366.5" r="4.1"/><circle cx="463.5" cy="386.9" r="4.1"/><circle cx="329.2" cy="432.7" r="4.1"/><circle cx="581.0" cy="332.0" r="4.1"/><circle cx="199.4" cy="441.2" r="4.1"/><circle cx="487.8" cy="379.7" r="4.1"/><circle cx="435.7" cy="397.5" r="4.1"/><circle cx="225.1" cy="439.7" r="4.1"/><circle cx="609.8" cy="313.3" r="4.1"/><circle cx="353.1" cy="427.2" r="4.1"/><circle cx="543.1" cy="350.1" r="4.1"/><circle cx="275.2" cy="431.5" r="4.1"/><circle cx="497.4" cy="377.9" r="4.1"/><circle cx="356.0" cy="428.3" r="4.1"/><circle cx="255.1" cy="436.7" r="4.1"/><circle cx="215.7" cy="436.4" r="4.1"/><circle cx="318.7" cy="426.7" r="4.1"/><circle cx="616.0" cy="305.2" r="4.1"/><circle cx="646.7" cy="278.0" r="4.1"/><circle cx="501.0" cy="370.9" r="4.1"/><circle cx="196.4" cy="437.6" r="4.1"/><circle cx="449.5" cy="388.9" r="4.1"/><circle cx="593.1" cy="303.2" r="4.1"/><circle cx="540.9" cy="341.8" r="4.1"/><circle cx="377.9" cy="415.4" r="4.1"/><circle cx="377.5" cy="421.0" r="4.1"/><circle cx="566.8" cy="331.8" r="4.1"/><circle cx="351.6" cy="422.4" r="4.1"/><circle cx="586.9" cy="310.4" r="4.1"/><circle cx="271.5" cy="431.8" r="4.1"/><circle cx="284.8" cy="424.3" r="4.1"/><circle cx="381.2" cy="425.6" r="4.1"/><circle cx="441.4" cy="400.6" r="4.1"/><circle cx="556.7" cy="337.7" r="4.1"/><circle cx="357.1" cy="429.2" r="4.1"/><circle cx="621.4" cy="292.6" r="4.1"/><circle cx="250.7" cy="430.7" r="4.1"/><circle cx="431.0" cy="397.2" r="4.1"/><circle cx="315.4" cy="433.3" r="4.1"/><circle cx="278.8" cy="434.4" r="4.1"/><circle cx="497.3" cy="379.0" r="4.1"/><circle cx="183.5" cy="440.2" r="4.1"/><circle cx="185.1" cy="441.5" r="4.1"/><circle cx="492.1" cy="378.3" r="4.1"/><circle cx="349.2" cy="416.7" r="4.1"/><circle cx="392.3" cy="414.8" r="4.1"/><circle cx="260.2" cy="430.3" r="4.1"/><circle cx="628.2" cy="282.7" r="4.1"/><circle cx="493.6" cy="374.4" r="4.1"/><circle cx="183.8" cy="441.1" r="4.1"/><circle cx="619.9" cy="307.3" r="4.1"/><circle cx="609.6" cy="307.2" r="4.1"/><circle cx="273.8" cy="428.2" r="4.1"/><circle cx="243.1" cy="433.6" r="4.1"/><circle cx="548.2" cy="346.2" r="4.1"/><circle cx="272.5" cy="437.3" r="4.1"/><circle cx="363.6" cy="423.6" r="4.1"/><circle cx="327.1" cy="425.9" r="4.1"/><circle cx="273.2" cy="429.8" r="4.1"/><circle cx="269.6" cy="429.7" r="4.1"/><circle cx="587.3" cy="311.3" r="4.1"/><circle cx="593.2" cy="312.8" r="4.1"/><circle cx="300.1" cy="430.0" r="4.1"/><circle cx="480.0" cy="377.8" r="4.1"/><circle cx="153.0" cy="444.3" r="4.1"/><circle cx="543.0" cy="346.4" r="4.1"/><circle cx="411.9" cy="412.7" r="4.1"/><circle cx="536.1" cy="343.1" r="4.1"/><circle cx="455.0" cy="389.1" r="4.1"/><circle cx="387.7" cy="413.3" r="4.1"/><circle cx="249.7" cy="435.4" r="4.1"/><circle cx="371.4" cy="424.7" r="4.1"/><circle cx="283.6" cy="426.9" r="4.1"/><circle cx="249.4" cy="435.6" r="4.1"/><circle cx="505.2" cy="355.2" r="4.1"/><circle cx="640.0" cy="293.3" r="4.1"/><circle cx="295.5" cy="431.4" r="4.1"/><circle cx="183.8" cy="442.1" r="4.1"/><circle cx="209.3" cy="433.9" r="4.1"/><circle cx="216.6" cy="435.1" r="4.1"/><circle cx="467.5" cy="390.4" r="4.1"/><circle cx="342.3" cy="426.7" r="4.1"/><circle cx="402.8" cy="411.7" r="4.1"/><circle cx="332.6" cy="434.7" r="4.1"/><circle cx="307.1" cy="425.5" r="4.1"/><circle cx="476.9" cy="391.1" r="4.1"/><circle cx="288.1" cy="424.4" r="4.1"/><circle cx="517.4" cy="360.2" r="4.1"/><circle cx="428.7" cy="404.2" r="4.1"/><circle cx="588.5" cy="327.4" r="4.1"/><circle cx="273.7" cy="432.3" r="4.1"/><circle cx="474.1" cy="391.2" r="4.1"/><circle cx="646.3" cy="280.6" r="4.1"/><circle cx="565.0" cy="335.6" r="4.1"/><circle cx="639.6" cy="289.0" r="4.1"/><circle cx="559.2" cy="340.3" r="4.1"/><circle cx="213.8" cy="434.0" r="4.1"/><circle cx="603.5" cy="318.0" r="4.1"/><circle cx="173.9" cy="441.0" r="4.1"/><circle cx="218.8" cy="433.6" r="4.1"/><circle cx="213.8" cy="436.7" r="4.1"/><circle cx="392.4" cy="418.2" r="4.1"/><circle cx="462.1" cy="396.6" r="4.1"/><circle cx="234.6" cy="435.4" r="4.1"/><circle cx="419.5" cy="401.8" r="4.1"/><circle cx="281.1" cy="425.4" r="4.1"/><circle cx="579.2" cy="317.7" r="4.1"/><circle cx="210.7" cy="435.4" r="4.1"/><circle cx="413.7" cy="409.3" r="4.1"/><circle cx="237.3" cy="437.3" r="4.1"/><circle cx="481.7" cy="384.4" r="4.1"/><circle cx="516.6" cy="362.1" r="4.1"/><circle cx="568.0" cy="333.8" r="4.1"/><circle cx="469.0" cy="387.0" r="4.1"/><circle cx="521.6" cy="352.7" r="4.1"/><circle cx="615.8" cy="313.1" r="4.1"/><circle cx="297.7" cy="431.0" r="4.1"/><circle cx="577.0" cy="322.8" r="4.1"/><circle cx="418.1" cy="401.7" r="4.1"/><circle cx="432.8" cy="403.1" r="4.1"/><circle cx="229.7" cy="437.7" r="4.1"/><circle cx="445.7" cy="399.1" r="4.1"/><circle cx="235.3" cy="431.5" r="4.1"/><circle cx="548.4" cy="340.5" r="4.1"/><circle cx="533.5" cy="349.1" r="4.1"/><circle cx="202.9" cy="434.2" r="4.1"/><circle cx="407.8" cy="406.1" r="4.1"/><circle cx="604.1" cy="314.5" r="4.1"/><circle cx="469.9" cy="395.3" r="4.1"/><circle cx="346.0" cy="420.8" r="4.1"/><circle cx="465.7" cy="393.3" r="4.1"/><circle cx="237.8" cy="431.8" r="4.1"/><circle cx="320.1" cy="427.4" r="4.1"/><circle cx="190.1" cy="440.1" r="4.1"/><circle cx="413.9" cy="409.4" r="4.1"/><circle cx="448.5" cy="394.9" r="4.1"/><circle cx="600.7" cy="324.0" r="4.1"/><circle cx="514.5" cy="356.7" r="4.1"/><circle cx="580.7" cy="319.9" r="4.1"/><circle cx="320.0" cy="433.0" r="4.1"/><circle cx="460.7" cy="390.5" r="4.1"/><circle cx="293.6" cy="431.4" r="4.1"/><circle cx="204.6" cy="432.3" r="4.1"/><circle cx="253.4" cy="425.5" r="4.1"/><circle cx="215.9" cy="435.2" r="4.1"/><circle cx="195.1" cy="438.7" r="4.1"/><circle cx="440.7" cy="403.0" r="4.1"/><circle cx="274.7" cy="427.8" r="4.1"/><circle cx="415.1" cy="405.2" r="4.1"/><circle cx="376.3" cy="417.9" r="4.1"/><circle cx="218.4" cy="437.2" r="4.1"/><circle cx="239.3" cy="430.2" r="4.1"/><circle cx="201.2" cy="434.5" r="4.1"/><circle cx="528.0" cy="342.5" r="4.1"/><circle cx="543.1" cy="344.6" r="4.1"/><circle cx="270.8" cy="433.6" r="4.1"/><circle cx="285.6" cy="437.4" r="4.1"/><circle cx="583.1" cy="318.8" r="4.1"/><circle cx="303.7" cy="430.4" r="4.1"/><circle cx="349.6" cy="424.7" r="4.1"/><circle cx="329.1" cy="430.4" r="4.1"/><circle cx="210.2" cy="438.7" r="4.1"/><circle cx="285.2" cy="430.9" r="4.1"/><circle cx="197.5" cy="442.8" r="4.1"/><circle cx="465.3" cy="385.8" r="4.1"/><circle cx="625.9" cy="302.3" r="4.1"/><circle cx="440.0" cy="396.5" r="4.1"/><circle cx="518.9" cy="366.8" r="4.1"/><circle cx="527.8" cy="355.8" r="4.1"/><circle cx="528.1" cy="356.2" r="4.1"/><circle cx="539.1" cy="345.7" r="4.1"/><circle cx="363.6" cy="420.0" r="4.1"/><circle cx="500.8" cy="376.0" r="4.1"/><circle cx="368.0" cy="420.5" r="4.1"/><circle cx="277.0" cy="433.3" r="4.1"/><circle cx="400.3" cy="411.5" r="4.1"/><circle cx="221.8" cy="436.2" r="4.1"/><circle cx="521.3" cy="354.3" r="4.1"/><circle cx="363.7" cy="424.7" r="4.1"/><circle cx="241.8" cy="430.0" r="4.1"/><circle cx="248.7" cy="438.4" r="4.1"/><circle cx="325.3" cy="424.2" r="4.1"/><circle cx="386.1" cy="415.8" r="4.1"/><circle cx="298.8" cy="438.4" r="4.1"/><circle cx="543.9" cy="341.1" r="4.1"/><circle cx="250.8" cy="427.3" r="4.1"/><circle cx="320.4" cy="430.2" r="4.1"/><circle cx="467.2" cy="390.3" r="4.1"/><circle cx="464.7" cy="390.3" r="4.1"/><circle cx="319.1" cy="431.3" r="4.1"/><circle cx="433.7" cy="399.0" r="4.1"/><circle cx="376.7" cy="415.2" r="4.1"/><circle cx="396.3" cy="414.9" r="4.1"/><circle cx="640.3" cy="277.1" r="4.1"/><circle cx="593.4" cy="316.5" r="4.1"/><circle cx="295.3" cy="434.8" r="4.1"/><circle cx="244.5" cy="432.2" r="4.1"/><circle cx="381.0" cy="420.2" r="4.1"/><circle cx="229.7" cy="437.3" r="4.1"/><circle cx="274.7" cy="429.7" r="4.1"/><circle cx="499.9" cy="376.2" r="4.1"/><circle cx="430.6" cy="398.2" r="4.1"/><circle cx="251.1" cy="431.4" r="4.1"/><circle cx="310.3" cy="432.9" r="4.1"/><circle cx="651.7" cy="277.9" r="4.1"/><circle cx="256.5" cy="434.6" r="4.1"/><circle cx="417.3" cy="407.6" r="4.1"/><circle cx="333.0" cy="427.7" r="4.1"/><circle cx="374.7" cy="421.2" r="4.1"/><circle cx="243.9" cy="437.2" r="4.1"/><circle cx="275.4" cy="433.0" r="4.1"/><circle cx="552.3" cy="342.6" r="4.1"/><circle cx="396.6" cy="419.1" r="4.1"/><circle cx="390.9" cy="414.5" r="4.1"/><circle cx="423.0" cy="406.2" r="4.1"/><circle cx="330.9" cy="427.0" r="4.1"/><circle cx="392.8" cy="414.8" r="4.1"/><circle cx="593.7" cy="328.6" r="4.1"/><circle cx="241.6" cy="429.1" r="4.1"/><circle cx="335.1" cy="425.7" r="4.1"/><circle cx="406.4" cy="413.3" r="4.1"/><circle cx="601.2" cy="315.9" r="4.1"/><circle cx="204.7" cy="437.2" r="4.1"/><circle cx="626.8" cy="291.5" r="4.1"/><circle cx="389.8" cy="418.6" r="4.1"/><circle cx="282.0" cy="429.6" r="4.1"/><circle cx="492.7" cy="384.1" r="4.1"/><circle cx="202.0" cy="433.6" r="4.1"/><circle cx="280.8" cy="426.1" r="4.1"/><circle cx="479.1" cy="384.2" r="4.1"/><circle cx="355.7" cy="429.3" r="4.1"/><circle cx="605.6" cy="325.3" r="4.1"/><circle cx="332.3" cy="425.9" r="4.1"/><circle cx="217.3" cy="430.6" r="4.1"/><circle cx="336.6" cy="425.0" r="4.1"/><circle cx="541.6" cy="340.0" r="4.1"/><circle cx="386.8" cy="413.3" r="4.1"/><circle cx="587.8" cy="325.1" r="4.1"/><circle cx="640.4" cy="275.8" r="4.1"/><circle cx="623.0" cy="315.3" r="4.1"/><circle cx="228.0" cy="437.0" r="4.1"/><circle cx="372.3" cy="412.8" r="4.1"/><circle cx="361.2" cy="428.9" r="4.1"/><circle cx="312.8" cy="432.4" r="4.1"/><circle cx="174.9" cy="439.0" r="4.1"/><circle cx="328.4" cy="429.8" r="4.1"/><circle cx="390.6" cy="420.2" r="4.1"/><circle cx="620.2" cy="300.6" r="4.1"/><circle cx="445.9" cy="392.4" r="4.1"/><circle cx="640.1" cy="280.7" r="4.1"/><circle cx="356.2" cy="423.3" r="4.1"/><circle cx="196.9" cy="437.1" r="4.1"/><circle cx="591.0" cy="331.5" r="4.1"/><circle cx="345.7" cy="421.3" r="4.1"/><circle cx="324.3" cy="425.5" r="4.1"/><circle cx="562.2" cy="340.4" r="4.1"/><circle cx="488.6" cy="384.4" r="4.1"/><circle cx="604.8" cy="319.3" r="4.1"/><circle cx="376.2" cy="424.3" r="4.1"/><circle cx="226.4" cy="439.8" r="4.1"/><circle cx="203.9" cy="435.6" r="4.1"/><circle cx="574.5" cy="329.8" r="4.1"/><circle cx="564.6" cy="335.4" r="4.1"/><circle cx="365.8" cy="418.9" r="4.1"/><circle cx="643.1" cy="292.4" r="4.1"/><circle cx="329.1" cy="424.3" r="4.1"/><circle cx="527.2" cy="351.5" r="4.1"/><circle cx="485.7" cy="382.8" r="4.1"/><circle cx="180.9" cy="439.4" r="4.1"/><circle cx="440.1" cy="395.2" r="4.1"/><circle cx="389.8" cy="416.2" r="4.1"/><circle cx="552.2" cy="343.2" r="4.1"/><circle cx="375.2" cy="418.8" r="4.1"/><circle cx="289.9" cy="433.9" r="4.1"/><circle cx="485.9" cy="385.8" r="4.1"/><circle cx="607.9" cy="311.4" r="4.1"/><circle cx="215.0" cy="436.5" r="4.1"/><circle cx="358.5" cy="424.8" r="4.1"/><circle cx="648.5" cy="282.9" r="4.1"/><circle cx="641.6" cy="293.0" r="4.1"/><circle cx="521.3" cy="352.0" r="4.1"/><circle cx="475.9" cy="385.3" r="4.1"/><circle cx="188.1" cy="438.5" r="4.1"/><circle cx="625.3" cy="306.6" r="4.1"/><circle cx="447.6" cy="394.1" r="4.1"/><circle cx="274.5" cy="426.4" r="4.1"/><circle cx="535.4" cy="357.0" r="4.1"/><circle cx="580.7" cy="325.0" r="4.1"/><circle cx="194.2" cy="434.8" r="4.1"/><circle cx="653.6" cy="277.3" r="4.1"/><circle cx="318.3" cy="435.4" r="4.1"/><circle cx="584.5" cy="312.7" r="4.1"/><circle cx="547.1" cy="348.8" r="4.1"/><circle cx="396.1" cy="418.9" r="4.1"/><circle cx="282.1" cy="434.7" r="4.1"/><circle cx="642.7" cy="276.3" r="4.1"/><circle cx="248.2" cy="432.7" r="4.1"/><circle cx="512.3" cy="370.4" r="4.1"/><circle cx="558.6" cy="338.4" r="4.1"/><circle cx="396.3" cy="417.1" r="4.1"/><circle cx="218.5" cy="435.4" r="4.1"/><circle cx="277.8" cy="435.6" r="4.1"/><circle cx="623.9" cy="305.0" r="4.1"/><circle cx="627.0" cy="301.5" r="4.1"/><circle cx="271.4" cy="434.0" r="4.1"/><circle cx="331.5" cy="427.4" r="4.1"/><circle cx="511.7" cy="362.4" r="4.1"/><circle cx="453.5" cy="395.3" r="4.1"/><circle cx="306.4" cy="427.8" r="4.1"/><circle cx="376.5" cy="423.9" r="4.1"/><circle cx="186.7" cy="439.7" r="4.1"/><circle cx="596.3" cy="300.4" r="4.1"/><circle cx="340.5" cy="432.1" r="4.1"/><circle cx="447.9" cy="389.5" r="4.1"/><circle cx="244.1" cy="432.4" r="4.1"/><circle cx="266.0" cy="427.8" r="4.1"/><circle cx="359.1" cy="422.9" r="4.1"/><circle cx="321.2" cy="427.8" r="4.1"/><circle cx="380.4" cy="419.2" r="4.1"/><circle cx="422.4" cy="407.0" r="4.1"/><circle cx="535.3" cy="342.9" r="4.1"/><circle cx="344.0" cy="429.9" r="4.1"/><circle cx="489.6" cy="388.1" r="4.1"/><circle cx="218.5" cy="433.4" r="4.1"/><circle cx="210.1" cy="432.0" r="4.1"/><circle cx="409.4" cy="411.8" r="4.1"/><circle cx="201.1" cy="434.1" r="4.1"/><circle cx="347.9" cy="422.2" r="4.1"/><circle cx="619.0" cy="303.1" r="4.1"/><circle cx="477.2" cy="385.3" r="4.1"/><circle cx="580.9" cy="332.8" r="4.1"/><circle cx="382.5" cy="415.0" r="4.1"/><circle cx="234.1" cy="430.1" r="4.1"/><circle cx="590.3" cy="322.0" r="4.1"/><circle cx="641.6" cy="279.8" r="4.1"/><circle cx="194.8" cy="438.5" r="4.1"/><circle cx="554.6" cy="336.4" r="4.1"/><circle cx="201.4" cy="438.1" r="4.1"/><circle cx="580.3" cy="327.3" r="4.1"/><circle cx="469.9" cy="382.9" r="4.1"/><circle cx="332.5" cy="427.3" r="4.1"/><circle cx="564.8" cy="335.2" r="4.1"/><circle cx="397.8" cy="417.5" r="4.1"/><circle cx="476.6" cy="383.4" r="4.1"/><circle cx="399.1" cy="412.7" r="4.1"/><circle cx="602.4" cy="306.2" r="4.1"/><circle cx="371.2" cy="424.3" r="4.1"/><circle cx="484.9" cy="373.7" r="4.1"/><circle cx="511.1" cy="360.9" r="4.1"/><circle cx="411.1" cy="409.7" r="4.1"/><circle cx="636.4" cy="279.2" r="4.1"/><circle cx="254.0" cy="434.5" r="4.1"/><circle cx="299.6" cy="428.9" r="4.1"/><circle cx="548.9" cy="341.2" r="4.1"/><circle cx="401.3" cy="416.4" r="4.1"/><circle cx="636.2" cy="284.2" r="4.1"/><circle cx="302.2" cy="433.7" r="4.1"/><circle cx="211.0" cy="437.4" r="4.1"/><circle cx="448.1" cy="396.5" r="4.1"/><circle cx="643.2" cy="278.3" r="4.1"/><circle cx="272.0" cy="436.0" r="4.1"/><circle cx="503.9" cy="368.2" r="4.1"/><circle cx="571.4" cy="326.5" r="4.1"/><circle cx="654.5" cy="276.8" r="4.1"/><circle cx="645.5" cy="287.6" r="4.1"/><circle cx="310.6" cy="432.2" r="4.1"/><circle cx="244.1" cy="434.6" r="4.1"/><circle cx="452.0" cy="391.0" r="4.1"/><circle cx="559.7" cy="339.3" r="4.1"/><circle cx="512.0" cy="368.3" r="4.1"/><circle cx="515.6" cy="353.2" r="4.1"/><circle cx="575.4" cy="319.0" r="4.1"/><circle cx="306.1" cy="426.5" r="4.1"/><circle cx="358.6" cy="425.1" r="4.1"/><circle cx="364.9" cy="416.5" r="4.1"/><circle cx="220.9" cy="434.9" r="4.1"/><circle cx="535.5" cy="343.3" r="4.1"/><circle cx="291.2" cy="432.2" r="4.1"/><circle cx="431.8" cy="398.9" r="4.1"/><circle cx="443.2" cy="391.8" r="4.1"/><circle cx="228.1" cy="433.9" r="4.1"/><circle cx="267.3" cy="434.5" r="4.1"/><circle cx="512.7" cy="350.9" r="4.1"/><circle cx="500.8" cy="373.1" r="4.1"/><circle cx="549.4" cy="341.0" r="4.1"/><circle cx="196.7" cy="442.0" r="4.1"/><circle cx="234.0" cy="435.6" r="4.1"/><circle cx="543.3" cy="345.6" r="4.1"/><circle cx="435.0" cy="401.3" r="4.1"/><circle cx="628.9" cy="285.9" r="4.1"/><circle cx="245.4" cy="437.0" r="4.1"/><circle cx="387.3" cy="423.6" r="4.1"/><circle cx="515.5" cy="364.1" r="4.1"/><circle cx="592.9" cy="303.3" r="4.1"/><circle cx="230.0" cy="435.3" r="4.1"/><circle cx="528.9" cy="354.3" r="4.1"/><circle cx="256.4" cy="436.5" r="4.1"/><circle cx="605.5" cy="309.5" r="4.1"/><circle cx="228.5" cy="440.2" r="4.1"/><circle cx="460.9" cy="386.0" r="4.1"/><circle cx="408.3" cy="413.8" r="4.1"/><circle cx="284.8" cy="432.8" r="4.1"/><circle cx="382.0" cy="423.4" r="4.1"/><circle cx="254.6" cy="430.0" r="4.1"/><circle cx="191.5" cy="435.5" r="4.1"/><circle cx="317.0" cy="435.0" r="4.1"/><circle cx="323.3" cy="421.9" r="4.1"/><circle cx="210.3" cy="442.8" r="4.1"/><circle cx="431.0" cy="405.5" r="4.1"/><circle cx="265.9" cy="433.0" r="4.1"/><circle cx="581.2" cy="320.6" r="4.1"/><circle cx="225.1" cy="431.7" r="4.1"/><circle cx="449.0" cy="393.7" r="4.1"/><circle cx="652.0" cy="277.7" r="4.1"/><circle cx="476.6" cy="384.4" r="4.1"/><circle cx="571.7" cy="325.7" r="4.1"/><circle cx="288.4" cy="427.8" r="4.1"/><circle cx="422.7" cy="400.1" r="4.1"/><circle cx="275.7" cy="432.9" r="4.1"/><circle cx="442.1" cy="398.7" r="4.1"/><circle cx="273.4" cy="431.3" r="4.1"/><circle cx="595.9" cy="298.8" r="4.1"/><circle cx="404.6" cy="412.5" r="4.1"/><circle cx="456.4" cy="391.4" r="4.1"/><circle cx="438.2" cy="400.6" r="4.1"/><circle cx="203.4" cy="440.0" r="4.1"/><circle cx="373.9" cy="415.3" r="4.1"/><circle cx="623.6" cy="304.4" r="4.1"/><circle cx="276.0" cy="427.7" r="4.1"/><circle cx="629.8" cy="288.5" r="4.1"/><circle cx="584.7" cy="325.6" r="4.1"/><circle cx="430.5" cy="403.6" r="4.1"/><circle cx="336.8" cy="423.9" r="4.1"/><circle cx="361.0" cy="422.8" r="4.1"/><circle cx="269.4" cy="428.6" r="4.1"/><circle cx="208.5" cy="442.9" r="4.1"/><circle cx="626.4" cy="298.2" r="4.1"/><circle cx="613.4" cy="313.9" r="4.1"/><circle cx="314.2" cy="435.4" r="4.1"/><circle cx="486.1" cy="386.2" r="4.1"/><circle cx="312.5" cy="428.5" r="4.1"/><circle cx="555.6" cy="339.7" r="4.1"/><circle cx="304.8" cy="432.3" r="4.1"/><circle cx="610.6" cy="310.8" r="4.1"/><circle cx="353.1" cy="422.8" r="4.1"/><circle cx="505.9" cy="374.5" r="4.1"/><circle cx="214.4" cy="436.8" r="4.1"/><circle cx="550.0" cy="341.5" r="4.1"/><circle cx="443.0" cy="398.5" r="4.1"/><circle cx="641.7" cy="284.4" r="4.1"/><circle cx="619.2" cy="298.2" r="4.1"/><circle cx="577.1" cy="326.0" r="4.1"/><circle cx="235.4" cy="434.6" r="4.1"/><circle cx="498.1" cy="366.1" r="4.1"/><circle cx="597.8" cy="329.3" r="4.1"/><circle cx="386.0" cy="420.4" r="4.1"/><circle cx="343.0" cy="429.6" r="4.1"/><circle cx="622.5" cy="305.0" r="4.1"/><circle cx="286.2" cy="428.4" r="4.1"/><circle cx="613.0" cy="307.6" r="4.1"/><circle cx="359.2" cy="423.7" r="4.1"/><circle cx="313.5" cy="428.3" r="4.1"/><circle cx="437.6" cy="400.8" r="4.1"/><circle cx="511.2" cy="366.1" r="4.1"/><circle cx="219.8" cy="434.1" r="4.1"/><circle cx="532.7" cy="349.6" r="4.1"/><circle cx="441.6" cy="394.5" r="4.1"/><circle cx="217.8" cy="432.5" r="4.1"/><circle cx="507.3" cy="363.0" r="4.1"/><circle cx="650.5" cy="273.3" r="4.1"/><circle cx="244.4" cy="428.2" r="4.1"/><circle cx="626.2" cy="293.4" r="4.1"/><circle cx="214.2" cy="436.2" r="4.1"/><circle cx="652.4" cy="282.0" r="4.1"/><circle cx="205.8" cy="436.8" r="4.1"/><circle cx="242.2" cy="428.7" r="4.1"/><circle cx="470.7" cy="389.3" r="4.1"/><circle cx="186.4" cy="442.0" r="4.1"/><circle cx="450.5" cy="399.4" r="4.1"/><circle cx="340.6" cy="418.3" r="4.1"/><circle cx="336.8" cy="427.5" r="4.1"/><circle cx="436.0" cy="399.6" r="4.1"/><circle cx="231.4" cy="433.0" r="4.1"/><circle cx="369.4" cy="423.9" r="4.1"/><circle cx="486.9" cy="375.5" r="4.1"/><circle cx="623.6" cy="310.6" r="4.1"/><circle cx="441.1" cy="400.2" r="4.1"/><circle cx="554.3" cy="342.3" r="4.1"/><circle cx="564.1" cy="336.9" r="4.1"/><circle cx="419.9" cy="401.2" r="4.1"/><circle cx="307.9" cy="430.5" r="4.1"/><circle cx="594.1" cy="323.0" r="4.1"/><circle cx="519.1" cy="366.5" r="4.1"/><circle cx="549.9" cy="344.6" r="4.1"/><circle cx="583.5" cy="332.1" r="4.1"/><circle cx="627.1" cy="297.9" r="4.1"/><circle cx="619.9" cy="297.8" r="4.1"/><circle cx="280.7" cy="430.5" r="4.1"/><circle cx="386.2" cy="418.5" r="4.1"/><circle cx="430.1" cy="403.7" r="4.1"/><circle cx="556.0" cy="338.7" r="4.1"/><circle cx="503.9" cy="370.4" r="4.1"/><circle cx="393.5" cy="414.9" r="4.1"/><circle cx="348.7" cy="424.7" r="4.1"/><circle cx="304.2" cy="422.9" r="4.1"/><circle cx="208.1" cy="436.6" r="4.1"/><circle cx="198.2" cy="437.9" r="4.1"/><circle cx="505.8" cy="355.1" r="4.1"/><circle cx="382.2" cy="417.9" r="4.1"/><circle cx="642.5" cy="276.7" r="4.1"/><circle cx="405.1" cy="409.9" r="4.1"/><circle cx="595.0" cy="307.1" r="4.1"/><circle cx="345.5" cy="423.9" r="4.1"/><circle cx="376.0" cy="422.1" r="4.1"/><circle cx="630.3" cy="295.5" r="4.1"/><circle cx="276.2" cy="433.5" r="4.1"/><circle cx="387.7" cy="410.9" r="4.1"/><circle cx="466.6" cy="381.6" r="4.1"/><circle cx="305.9" cy="432.4" r="4.1"/><circle cx="610.7" cy="311.1" r="4.1"/><circle cx="362.3" cy="419.3" r="4.1"/><circle cx="608.2" cy="310.7" r="4.1"/><circle cx="254.5" cy="430.0" r="4.1"/><circle cx="534.2" cy="349.8" r="4.1"/><circle cx="607.7" cy="314.9" r="4.1"/><circle cx="639.0" cy="276.0" r="4.1"/><circle cx="586.4" cy="314.0" r="4.1"/><circle cx="194.4" cy="439.6" r="4.1"/><circle cx="377.5" cy="418.9" r="4.1"/><circle cx="580.8" cy="319.6" r="4.1"/><circle cx="552.0" cy="340.3" r="4.1"/><circle cx="170.2" cy="442.4" r="4.1"/><circle cx="317.7" cy="429.1" r="4.1"/><circle cx="333.9" cy="424.2" r="4.1"/><circle cx="304.1" cy="433.4" r="4.1"/><circle cx="325.0" cy="424.6" r="4.1"/><circle cx="434.1" cy="401.7" r="4.1"/><circle cx="264.9" cy="428.3" r="4.1"/><circle cx="243.4" cy="434.3" r="4.1"/><circle cx="244.6" cy="425.8" r="4.1"/><circle cx="256.2" cy="433.7" r="4.1"/><circle cx="472.1" cy="385.3" r="4.1"/><circle cx="228.8" cy="434.5" r="4.1"/><circle cx="454.5" cy="389.9" r="4.1"/><circle cx="526.2" cy="354.0" r="4.1"/><circle cx="518.5" cy="361.1" r="4.1"/><circle cx="393.4" cy="413.0" r="4.1"/><circle cx="355.9" cy="428.6" r="4.1"/><circle cx="607.7" cy="293.3" r="4.1"/><circle cx="533.0" cy="355.0" r="4.1"/><circle cx="620.0" cy="313.8" r="4.1"/><circle cx="511.4" cy="369.6" r="4.1"/><circle cx="364.5" cy="426.8" r="4.1"/><circle cx="446.8" cy="389.5" r="4.1"/><circle cx="358.6" cy="425.3" r="4.1"/><circle cx="571.6" cy="330.4" r="4.1"/><circle cx="601.5" cy="309.2" r="4.1"/><circle cx="578.8" cy="316.6" r="4.1"/><circle cx="505.0" cy="368.9" r="4.1"/><circle cx="470.8" cy="387.4" r="4.1"/><circle cx="352.7" cy="428.7" r="4.1"/><circle cx="191.2" cy="440.4" r="4.1"/><circle cx="627.9" cy="310.6" r="4.1"/><circle cx="457.3" cy="387.9" r="4.1"/><circle cx="399.0" cy="416.5" r="4.1"/><circle cx="598.4" cy="301.6" r="4.1"/><circle cx="324.8" cy="421.9" r="4.1"/><circle cx="241.6" cy="431.0" r="4.1"/><circle cx="477.1" cy="387.7" r="4.1"/><circle cx="575.8" cy="326.0" r="4.1"/><circle cx="540.4" cy="352.5" r="4.1"/><circle cx="223.1" cy="436.6" r="4.1"/><circle cx="454.2" cy="389.2" r="4.1"/><circle cx="248.6" cy="432.2" r="4.1"/><circle cx="578.3" cy="332.4" r="4.1"/><circle cx="572.2" cy="322.8" r="4.1"/><circle cx="269.3" cy="430.5" r="4.1"/><circle cx="230.9" cy="432.4" r="4.1"/><circle cx="603.0" cy="309.4" r="4.1"/><circle cx="423.4" cy="403.6" r="4.1"/><circle cx="469.5" cy="387.8" r="4.1"/><circle cx="404.7" cy="415.0" r="4.1"/><circle cx="530.0" cy="354.2" r="4.1"/><circle cx="497.0" cy="369.3" r="4.1"/><circle cx="522.6" cy="352.1" r="4.1"/><circle cx="381.2" cy="417.0" r="4.1"/><circle cx="607.9" cy="305.0" r="4.1"/><circle cx="403.6" cy="410.8" r="4.1"/><circle cx="197.8" cy="438.4" r="4.1"/><circle cx="534.6" cy="349.8" r="4.1"/><circle cx="342.1" cy="430.8" r="4.1"/><circle cx="227.1" cy="436.7" r="4.1"/><circle cx="587.3" cy="322.0" r="4.1"/><circle cx="623.6" cy="291.9" r="4.1"/><circle cx="391.2" cy="410.5" r="4.1"/><circle cx="408.2" cy="406.6" r="4.1"/><circle cx="386.1" cy="418.1" r="4.1"/><circle cx="576.0" cy="328.3" r="4.1"/><circle cx="591.7" cy="319.0" r="4.1"/><circle cx="652.2" cy="277.3" r="4.1"/><circle cx="384.6" cy="416.2" r="4.1"/><circle cx="300.7" cy="424.1" r="4.1"/><circle cx="506.0" cy="370.1" r="4.1"/><circle cx="292.6" cy="426.2" r="4.1"/><circle cx="492.2" cy="373.0" r="4.1"/><circle cx="562.5" cy="338.8" r="4.1"/><circle cx="617.4" cy="298.7" r="4.1"/><circle cx="597.4" cy="316.1" r="4.1"/><circle cx="501.8" cy="367.0" r="4.1"/><circle cx="243.8" cy="429.0" r="4.1"/><circle cx="375.8" cy="420.2" r="4.1"/><circle cx="267.9" cy="437.6" r="4.1"/><circle cx="178.0" cy="438.7" r="4.1"/><circle cx="382.2" cy="420.4" r="4.1"/><circle cx="360.4" cy="419.1" r="4.1"/><circle cx="274.5" cy="429.8" r="4.1"/><circle cx="373.8" cy="417.5" r="4.1"/><circle cx="308.0" cy="425.2" r="4.1"/><circle cx="397.9" cy="421.7" r="4.1"/><circle cx="642.2" cy="287.8" r="4.1"/><circle cx="230.3" cy="432.8" r="4.1"/><circle cx="568.5" cy="336.0" r="4.1"/><circle cx="585.8" cy="318.0" r="4.1"/><circle cx="585.5" cy="315.3" r="4.1"/><circle cx="303.6" cy="438.2" r="4.1"/><circle cx="427.4" cy="408.2" r="4.1"/><circle cx="510.6" cy="353.6" r="4.1"/><circle cx="529.3" cy="347.6" r="4.1"/><circle cx="390.9" cy="414.4" r="4.1"/><circle cx="643.3" cy="278.3" r="4.1"/><circle cx="537.3" cy="345.2" r="4.1"/><circle cx="391.7" cy="415.3" r="4.1"/><circle cx="356.5" cy="417.7" r="4.1"/><circle cx="554.8" cy="344.1" r="4.1"/><circle cx="300.2" cy="427.7" r="4.1"/><circle cx="575.4" cy="326.2" r="4.1"/><circle cx="656.0" cy="274.1" r="4.1"/><circle cx="313.4" cy="423.1" r="4.1"/><circle cx="580.8" cy="318.1" r="4.1"/><circle cx="424.7" cy="407.8" r="4.1"/><circle cx="569.5" cy="334.7" r="4.1"/><circle cx="191.5" cy="444.1" r="4.1"/><circle cx="343.9" cy="428.8" r="4.1"/><circle cx="349.8" cy="424.3" r="4.1"/><circle cx="439.9" cy="401.1" r="4.1"/><circle cx="619.1" cy="306.8" r="4.1"/><circle cx="255.3" cy="429.0" r="4.1"/><circle cx="466.9" cy="388.4" r="4.1"/><circle cx="384.9" cy="411.2" r="4.1"/><circle cx="412.5" cy="404.4" r="4.1"/><circle cx="542.0" cy="348.3" r="4.1"/><circle cx="617.4" cy="310.7" r="4.1"/><circle cx="347.1" cy="416.6" r="4.1"/><circle cx="196.6" cy="436.2" r="4.1"/><circle cx="644.7" cy="284.9" r="4.1"/><circle cx="610.7" cy="304.9" r="4.1"/><circle cx="334.0" cy="429.2" r="4.1"/><circle cx="643.6" cy="281.9" r="4.1"/><circle cx="229.5" cy="428.8" r="4.1"/><circle cx="510.2" cy="361.3" r="4.1"/><circle cx="342.6" cy="424.1" r="4.1"/><circle cx="346.8" cy="420.7" r="4.1"/><circle cx="479.6" cy="382.5" r="4.1"/><circle cx="439.2" cy="404.9" r="4.1"/><circle cx="189.4" cy="438.8" r="4.1"/><circle cx="509.4" cy="366.7" r="4.1"/><circle cx="469.9" cy="387.0" r="4.1"/><circle cx="599.1" cy="301.2" r="4.1"/><circle cx="174.2" cy="440.0" r="4.1"/><circle cx="296.2" cy="437.2" r="4.1"/><circle cx="546.9" cy="339.7" r="4.1"/><circle cx="316.3" cy="423.0" r="4.1"/><circle cx="590.8" cy="327.9" r="4.1"/><circle cx="625.6" cy="297.9" r="4.1"/><circle cx="470.3" cy="387.1" r="4.1"/><circle cx="360.8" cy="424.9" r="4.1"/><circle cx="564.3" cy="334.1" r="4.1"/><circle cx="198.6" cy="438.9" r="4.1"/><circle cx="446.2" cy="397.8" r="4.1"/><circle cx="271.7" cy="434.5" r="4.1"/><circle cx="584.5" cy="329.4" r="4.1"/><circle cx="219.6" cy="435.7" r="4.1"/><circle cx="202.7" cy="443.2" r="4.1"/><circle cx="463.8" cy="389.7" r="4.1"/><circle cx="460.9" cy="389.4" r="4.1"/><circle cx="243.3" cy="437.1" r="4.1"/><circle cx="566.6" cy="335.1" r="4.1"/><circle cx="407.2" cy="414.2" r="4.1"/><circle cx="639.7" cy="291.0" r="4.1"/><circle cx="319.3" cy="426.0" r="4.1"/><circle cx="524.8" cy="353.4" r="4.1"/><circle cx="438.3" cy="401.8" r="4.1"/><circle cx="232.1" cy="436.8" r="4.1"/><circle cx="348.3" cy="426.9" r="4.1"/><circle cx="246.7" cy="432.6" r="4.1"/><circle cx="269.4" cy="428.3" r="4.1"/><circle cx="516.9" cy="360.5" r="4.1"/><circle cx="572.1" cy="332.2" r="4.1"/><circle cx="576.2" cy="324.4" r="4.1"/><circle cx="274.6" cy="428.1" r="4.1"/><circle cx="551.8" cy="342.4" r="4.1"/><circle cx="255.6" cy="431.9" r="4.1"/><circle cx="467.2" cy="381.9" r="4.1"/><circle cx="548.8" cy="345.3" r="4.1"/><circle cx="554.9" cy="337.7" r="4.1"/><circle cx="293.8" cy="428.6" r="4.1"/><circle cx="514.3" cy="372.9" r="4.1"/><circle cx="273.6" cy="428.2" r="4.1"/><circle cx="249.0" cy="433.6" r="4.1"/><circle cx="272.5" cy="427.2" r="4.1"/><circle cx="419.9" cy="406.2" r="4.1"/><circle cx="425.4" cy="401.2" r="4.1"/><circle cx="279.2" cy="436.9" r="4.1"/><circle cx="228.2" cy="431.6" r="4.1"/><circle cx="625.9" cy="293.0" r="4.1"/><circle cx="529.0" cy="343.8" r="4.1"/><circle cx="411.4" cy="408.0" r="4.1"/><circle cx="586.7" cy="318.7" r="4.1"/><circle cx="312.9" cy="426.1" r="4.1"/><circle cx="311.9" cy="436.9" r="4.1"/><circle cx="447.1" cy="389.5" r="4.1"/><circle cx="346.2" cy="428.6" r="4.1"/><circle cx="567.6" cy="333.0" r="4.1"/><circle cx="434.1" cy="399.9" r="4.1"/><circle cx="555.8" cy="341.0" r="4.1"/><circle cx="371.0" cy="423.0" r="4.1"/><circle cx="514.5" cy="360.9" r="4.1"/><circle cx="586.1" cy="322.6" r="4.1"/><circle cx="417.2" cy="403.2" r="4.1"/><circle cx="546.1" cy="346.2" r="4.1"/><circle cx="381.6" cy="413.4" r="4.1"/><circle cx="619.8" cy="298.3" r="4.1"/><circle cx="438.3" cy="393.7" r="4.1"/><circle cx="638.1" cy="302.2" r="4.1"/><circle cx="376.6" cy="420.8" r="4.1"/><circle cx="283.2" cy="427.6" r="4.1"/><circle cx="264.3" cy="433.6" r="4.1"/><circle cx="639.3" cy="273.2" r="4.1"/><circle cx="266.0" cy="432.8" r="4.1"/><circle cx="254.5" cy="426.9" r="4.1"/><circle cx="279.3" cy="429.9" r="4.1"/><circle cx="182.9" cy="441.3" r="4.1"/><circle cx="414.1" cy="406.1" r="4.1"/><circle cx="279.6" cy="433.4" r="4.1"/><circle cx="538.4" cy="345.4" r="4.1"/><circle cx="571.9" cy="326.5" r="4.1"/><circle cx="320.4" cy="426.2" r="4.1"/><circle cx="531.0" cy="356.9" r="4.1"/><circle cx="245.6" cy="432.0" r="4.1"/><circle cx="338.3" cy="428.2" r="4.1"/><circle cx="383.6" cy="411.8" r="4.1"/><circle cx="620.7" cy="301.8" r="4.1"/><circle cx="258.8" cy="427.8" r="4.1"/><circle cx="428.6" cy="406.8" r="4.1"/><circle cx="409.3" cy="411.0" r="4.1"/><circle cx="416.9" cy="408.8" r="4.1"/><circle cx="310.8" cy="425.8" r="4.1"/><circle cx="626.7" cy="295.7" r="4.1"/><circle cx="326.3" cy="428.7" r="4.1"/><circle cx="404.3" cy="415.0" r="4.1"/><circle cx="575.6" cy="329.3" r="4.1"/><circle cx="353.7" cy="427.6" r="4.1"/><circle cx="262.9" cy="425.8" r="4.1"/><circle cx="223.8" cy="433.9" r="4.1"/><circle cx="171.8" cy="441.2" r="4.1"/><circle cx="218.6" cy="440.8" r="4.1"/><circle cx="577.7" cy="327.8" r="4.1"/><circle cx="194.1" cy="442.7" r="4.1"/><circle cx="540.7" cy="342.8" r="4.1"/><circle cx="509.0" cy="364.5" r="4.1"/><circle cx="371.4" cy="417.7" r="4.1"/><circle cx="329.5" cy="425.4" r="4.1"/><circle cx="220.4" cy="434.2" r="4.1"/><circle cx="492.7" cy="365.6" r="4.1"/><circle cx="216.4" cy="435.6" r="4.1"/><circle cx="557.7" cy="341.1" r="4.1"/><circle cx="238.9" cy="433.0" r="4.1"/><circle cx="571.8" cy="322.5" r="4.1"/><circle cx="589.0" cy="305.8" r="4.1"/><circle cx="425.3" cy="401.8" r="4.1"/><circle cx="452.1" cy="394.8" r="4.1"/><circle cx="575.6" cy="319.0" r="4.1"/><circle cx="510.7" cy="361.8" r="4.1"/><circle cx="285.6" cy="437.6" r="4.1"/><circle cx="537.9" cy="339.7" r="4.1"/><circle cx="585.5" cy="320.0" r="4.1"/><circle cx="478.3" cy="389.0" r="4.1"/><circle cx="393.3" cy="413.6" r="4.1"/><circle cx="238.9" cy="438.9" r="4.1"/><circle cx="276.8" cy="429.7" r="4.1"/><circle cx="499.0" cy="366.3" r="4.1"/><circle cx="239.9" cy="434.8" r="4.1"/><circle cx="195.6" cy="436.8" r="4.1"/><circle cx="446.0" cy="394.5" r="4.1"/><circle cx="459.8" cy="388.1" r="4.1"/><circle cx="343.2" cy="424.9" r="4.1"/><circle cx="445.9" cy="399.6" r="4.1"/><circle cx="337.9" cy="421.3" r="4.1"/><circle cx="289.9" cy="436.7" r="4.1"/><circle cx="599.8" cy="314.5" r="4.1"/><circle cx="654.4" cy="278.8" r="4.1"/><circle cx="308.7" cy="433.3" r="4.1"/><circle cx="226.3" cy="430.0" r="4.1"/><circle cx="235.4" cy="435.3" r="4.1"/><circle cx="496.7" cy="365.5" r="4.1"/><circle cx="503.7" cy="371.0" r="4.1"/><circle cx="380.8" cy="413.4" r="4.1"/><circle cx="202.6" cy="438.1" r="4.1"/><circle cx="500.2" cy="376.5" r="4.1"/><circle cx="250.6" cy="429.2" r="4.1"/><circle cx="272.1" cy="429.9" r="4.1"/><circle cx="453.6" cy="392.4" r="4.1"/><circle cx="467.3" cy="391.3" r="4.1"/><circle cx="488.6" cy="379.9" r="4.1"/><circle cx="587.3" cy="330.7" r="4.1"/><circle cx="456.9" cy="383.7" r="4.1"/><circle cx="251.7" cy="425.8" r="4.1"/><circle cx="271.3" cy="431.0" r="4.1"/><circle cx="392.4" cy="419.9" r="4.1"/><circle cx="456.3" cy="393.8" r="4.1"/><circle cx="609.0" cy="303.3" r="4.1"/><circle cx="206.2" cy="438.2" r="4.1"/><circle cx="346.9" cy="419.2" r="4.1"/><circle cx="375.9" cy="415.3" r="4.1"/><circle cx="405.8" cy="407.8" r="4.1"/><circle cx="499.7" cy="361.1" r="4.1"/><circle cx="636.1" cy="277.6" r="4.1"/><circle cx="238.2" cy="431.4" r="4.1"/><circle cx="618.5" cy="297.7" r="4.1"/><circle cx="288.5" cy="436.4" r="4.1"/><circle cx="607.2" cy="298.6" r="4.1"/><circle cx="263.3" cy="427.7" r="4.1"/><circle cx="568.9" cy="334.8" r="4.1"/><circle cx="495.9" cy="366.5" r="4.1"/><circle cx="262.1" cy="433.3" r="4.1"/><circle cx="648.3" cy="276.7" r="4.1"/><circle cx="506.0" cy="360.2" r="4.1"/><circle cx="261.1" cy="429.7" r="4.1"/><circle cx="554.4" cy="341.8" r="4.1"/><circle cx="524.5" cy="348.3" r="4.1"/><circle cx="473.0" cy="392.8" r="4.1"/><circle cx="226.7" cy="437.6" r="4.1"/><circle cx="370.6" cy="422.1" r="4.1"/><circle cx="185.0" cy="441.3" r="4.1"/><circle cx="617.2" cy="306.9" r="4.1"/><circle cx="386.0" cy="417.5" r="4.1"/><circle cx="441.0" cy="397.8" r="4.1"/><circle cx="362.6" cy="428.5" r="4.1"/><circle cx="609.8" cy="298.9" r="4.1"/><circle cx="213.1" cy="437.3" r="4.1"/><circle cx="602.8" cy="309.2" r="4.1"/><circle cx="429.1" cy="409.0" r="4.1"/><circle cx="439.5" cy="399.4" r="4.1"/><circle cx="165.6" cy="441.9" r="4.1"/><circle cx="295.2" cy="429.1" r="4.1"/><circle cx="614.9" cy="314.1" r="4.1"/><circle cx="383.0" cy="418.7" r="4.1"/><circle cx="610.3" cy="314.0" r="4.1"/><circle cx="215.0" cy="429.5" r="4.1"/><circle cx="550.3" cy="338.3" r="4.1"/><circle cx="587.2" cy="323.0" r="4.1"/><circle cx="308.3" cy="424.9" r="4.1"/><circle cx="272.4" cy="427.2" r="4.1"/><circle cx="393.7" cy="414.5" r="4.1"/><circle cx="435.9" cy="395.6" r="4.1"/><circle cx="619.8" cy="306.1" r="4.1"/><circle cx="382.3" cy="417.6" r="4.1"/><circle cx="538.9" cy="347.6" r="4.1"/><circle cx="551.0" cy="347.9" r="4.1"/><circle cx="297.5" cy="430.7" r="4.1"/><circle cx="582.6" cy="310.1" r="4.1"/><circle cx="634.1" cy="280.1" r="4.1"/><circle cx="237.6" cy="430.4" r="4.1"/><circle cx="560.2" cy="339.7" r="4.1"/><circle cx="649.8" cy="274.3" r="4.1"/><circle cx="533.7" cy="343.7" r="4.1"/><circle cx="642.7" cy="286.1" r="4.1"/><circle cx="554.0" cy="343.3" r="4.1"/><circle cx="225.5" cy="431.5" r="4.1"/><circle cx="552.0" cy="340.2" r="4.1"/><circle cx="435.9" cy="401.3" r="4.1"/><circle cx="296.0" cy="429.4" r="4.1"/><circle cx="386.3" cy="415.5" r="4.1"/><circle cx="282.2" cy="428.8" r="4.1"/><circle cx="523.1" cy="366.5" r="4.1"/><circle cx="546.0" cy="342.7" r="4.1"/><circle cx="500.8" cy="372.0" r="4.1"/><circle cx="213.5" cy="436.0" r="4.1"/><circle cx="543.2" cy="344.5" r="4.1"/><circle cx="195.3" cy="443.5" r="4.1"/><circle cx="619.9" cy="303.4" r="4.1"/><circle cx="533.2" cy="346.4" r="4.1"/><circle cx="254.9" cy="432.5" r="4.1"/><circle cx="435.3" cy="399.6" r="4.1"/><circle cx="429.9" cy="406.3" r="4.1"/><circle cx="609.6" cy="302.0" r="4.1"/><circle cx="441.4" cy="401.5" r="4.1"/><circle cx="170.6" cy="443.6" r="4.1"/><circle cx="571.9" cy="327.9" r="4.1"/><circle cx="527.7" cy="363.1" r="4.1"/><circle cx="444.3" cy="399.4" r="4.1"/><circle cx="493.7" cy="369.0" r="4.1"/><circle cx="340.5" cy="424.8" r="4.1"/><circle cx="261.0" cy="435.2" r="4.1"/><circle cx="534.1" cy="348.9" r="4.1"/><circle cx="640.1" cy="290.9" r="4.1"/><circle cx="490.8" cy="371.0" r="4.1"/><circle cx="367.7" cy="416.7" r="4.1"/><circle cx="296.9" cy="427.1" r="4.1"/><circle cx="510.8" cy="369.4" r="4.1"/><circle cx="565.7" cy="332.3" r="4.1"/><circle cx="381.2" cy="416.6" r="4.1"/><circle cx="351.6" cy="424.8" r="4.1"/><circle cx="470.5" cy="381.6" r="4.1"/><circle cx="328.1" cy="424.4" r="4.1"/><circle cx="403.0" cy="411.7" r="4.1"/><circle cx="523.0" cy="351.1" r="4.1"/><circle cx="409.1" cy="412.3" r="4.1"/><circle cx="357.6" cy="416.6" r="4.1"/><circle cx="395.0" cy="414.0" r="4.1"/><circle cx="584.7" cy="308.1" r="4.1"/><circle cx="539.0" cy="347.7" r="4.1"/><circle cx="391.6" cy="410.3" r="4.1"/><circle cx="459.7" cy="385.7" r="4.1"/><circle cx="262.2" cy="430.2" r="4.1"/><circle cx="553.1" cy="339.0" r="4.1"/><circle cx="619.1" cy="299.7" r="4.1"/><circle cx="508.3" cy="366.5" r="4.1"/><circle cx="435.7" cy="402.6" r="4.1"/><circle cx="251.9" cy="428.8" r="4.1"/><circle cx="234.5" cy="430.2" r="4.1"/><circle cx="573.9" cy="323.5" r="4.1"/><circle cx="630.7" cy="303.0" r="4.1"/><circle cx="628.1" cy="294.4" r="4.1"/><circle cx="533.1" cy="345.5" r="4.1"/><circle cx="433.5" cy="404.2" r="4.1"/><circle cx="449.9" cy="398.7" r="4.1"/><circle cx="284.2" cy="429.9" r="4.1"/><circle cx="366.9" cy="421.0" r="4.1"/><circle cx="591.7" cy="323.8" r="4.1"/><circle cx="574.7" cy="320.1" r="4.1"/><circle cx="432.4" cy="395.3" r="4.1"/><circle cx="509.5" cy="361.1" r="4.1"/><circle cx="631.6" cy="299.6" r="4.1"/><circle cx="571.8" cy="335.9" r="4.1"/><circle cx="601.1" cy="297.4" r="4.1"/><circle cx="239.7" cy="435.8" r="4.1"/><circle cx="357.6" cy="424.5" r="4.1"/><circle cx="389.9" cy="420.4" r="4.1"/><circle cx="352.3" cy="426.8" r="4.1"/><circle cx="310.0" cy="427.6" r="4.1"/><circle cx="504.1" cy="368.4" r="4.1"/><circle cx="644.6" cy="283.7" r="4.1"/><circle cx="168.9" cy="442.3" r="4.1"/><circle cx="231.5" cy="435.0" r="4.1"/><circle cx="221.8" cy="431.3" r="4.1"/><circle cx="395.4" cy="412.6" r="4.1"/><circle cx="248.0" cy="430.1" r="4.1"/><circle cx="444.4" cy="396.1" r="4.1"/><circle cx="635.2" cy="293.1" r="4.1"/><circle cx="408.5" cy="409.7" r="4.1"/><circle cx="530.3" cy="351.5" r="4.1"/><circle cx="574.3" cy="318.4" r="4.1"/><circle cx="493.9" cy="379.3" r="4.1"/><circle cx="267.6" cy="434.1" r="4.1"/><circle cx="345.8" cy="427.2" r="4.1"/><circle cx="494.6" cy="368.7" r="4.1"/><circle cx="214.7" cy="437.4" r="4.1"/><circle cx="422.2" cy="398.9" r="4.1"/><circle cx="389.1" cy="419.3" r="4.1"/><circle cx="429.0" cy="401.1" r="4.1"/><circle cx="459.0" cy="392.5" r="4.1"/><circle cx="245.7" cy="432.3" r="4.1"/><circle cx="637.0" cy="291.9" r="4.1"/><circle cx="380.8" cy="426.2" r="4.1"/><circle cx="576.2" cy="317.5" r="4.1"/><circle cx="212.7" cy="433.9" r="4.1"/><circle cx="206.7" cy="439.4" r="4.1"/><circle cx="601.6" cy="319.4" r="4.1"/><circle cx="299.2" cy="430.6" r="4.1"/><circle cx="520.9" cy="354.7" r="4.1"/><circle cx="422.0" cy="405.2" r="4.1"/><circle cx="598.9" cy="302.8" r="4.1"/><circle cx="466.6" cy="391.8" r="4.1"/><circle cx="329.6" cy="430.3" r="4.1"/><circle cx="493.5" cy="383.1" r="4.1"/><circle cx="217.8" cy="432.0" r="4.1"/><circle cx="568.6" cy="331.7" r="4.1"/><circle cx="320.9" cy="431.3" r="4.1"/><circle cx="190.2" cy="440.4" r="4.1"/><circle cx="391.0" cy="415.8" r="4.1"/><circle cx="333.8" cy="423.9" r="4.1"/><circle cx="491.7" cy="380.6" r="4.1"/><circle cx="434.8" cy="395.2" r="4.1"/><circle cx="350.6" cy="430.1" r="4.1"/><circle cx="310.0" cy="432.1" r="4.1"/><circle cx="340.0" cy="429.0" r="4.1"/><circle cx="651.9" cy="272.1" r="4.1"/><circle cx="402.4" cy="413.8" r="4.1"/><circle cx="551.0" cy="344.8" r="4.1"/><circle cx="559.8" cy="336.8" r="4.1"/><circle cx="456.9" cy="390.9" r="4.1"/><circle cx="234.8" cy="432.3" r="4.1"/><circle cx="523.1" cy="350.6" r="4.1"/><circle cx="485.5" cy="386.9" r="4.1"/><circle cx="314.2" cy="430.4" r="4.1"/><circle cx="458.3" cy="384.7" r="4.1"/><circle cx="304.1" cy="429.5" r="4.1"/><circle cx="636.3" cy="295.9" r="4.1"/><circle cx="236.7" cy="430.7" r="4.1"/><circle cx="650.5" cy="281.6" r="4.1"/><circle cx="570.0" cy="336.5" r="4.1"/><circle cx="327.6" cy="426.9" r="4.1"/><circle cx="379.8" cy="416.4" r="4.1"/><circle cx="204.7" cy="434.6" r="4.1"/><circle cx="196.6" cy="438.5" r="4.1"/><circle cx="237.4" cy="433.3" r="4.1"/><circle cx="305.5" cy="433.5" r="4.1"/><circle cx="345.6" cy="425.3" r="4.1"/><circle cx="494.3" cy="369.1" r="4.1"/><circle cx="220.2" cy="435.6" r="4.1"/><circle cx="285.8" cy="432.8" r="4.1"/><circle cx="387.0" cy="415.4" r="4.1"/><circle cx="465.8" cy="387.5" r="4.1"/><circle cx="329.2" cy="433.9" r="4.1"/><circle cx="526.0" cy="356.2" r="4.1"/><circle cx="299.3" cy="428.6" r="4.1"/><circle cx="480.1" cy="377.3" r="4.1"/><circle cx="260.2" cy="434.6" r="4.1"/><circle cx="354.7" cy="422.2" r="4.1"/><circle cx="444.1" cy="401.3" r="4.1"/><circle cx="388.7" cy="415.5" r="4.1"/><circle cx="577.8" cy="328.7" r="4.1"/><circle cx="486.1" cy="381.8" r="4.1"/><circle cx="539.2" cy="351.9" r="4.1"/><circle cx="354.0" cy="421.0" r="4.1"/><circle cx="225.7" cy="436.2" r="4.1"/><circle cx="375.4" cy="419.6" r="4.1"/><circle cx="291.5" cy="430.6" r="4.1"/><circle cx="651.1" cy="271.6" r="4.1"/><circle cx="301.3" cy="426.6" r="4.1"/><circle cx="425.0" cy="399.9" r="4.1"/><circle cx="342.5" cy="428.9" r="4.1"/><circle cx="506.3" cy="358.5" r="4.1"/><circle cx="226.0" cy="429.7" r="4.1"/><circle cx="486.1" cy="378.6" r="4.1"/><circle cx="358.5" cy="427.5" r="4.1"/><circle cx="509.0" cy="359.0" r="4.1"/><circle cx="439.2" cy="397.9" r="4.1"/><circle cx="534.7" cy="347.4" r="4.1"/><circle cx="218.8" cy="439.8" r="4.1"/><circle cx="463.9" cy="394.1" r="4.1"/><circle cx="229.6" cy="434.5" r="4.1"/><circle cx="558.7" cy="338.3" r="4.1"/><circle cx="533.8" cy="346.6" r="4.1"/><circle cx="431.4" cy="400.3" r="4.1"/><circle cx="461.9" cy="395.2" r="4.1"/><circle cx="213.1" cy="436.7" r="4.1"/><circle cx="608.7" cy="295.7" r="4.1"/><circle cx="504.2" cy="360.0" r="4.1"/><circle cx="470.6" cy="385.8" r="4.1"/><circle cx="631.2" cy="294.0" r="4.1"/><circle cx="275.9" cy="428.9" r="4.1"/><circle cx="379.9" cy="420.9" r="4.1"/><circle cx="245.6" cy="433.8" r="4.1"/><circle cx="631.3" cy="289.7" r="4.1"/><circle cx="237.3" cy="432.7" r="4.1"/><circle cx="277.1" cy="428.3" r="4.1"/><circle cx="237.2" cy="433.8" r="4.1"/><circle cx="268.6" cy="430.3" r="4.1"/><circle cx="555.5" cy="344.3" r="4.1"/><circle cx="602.9" cy="305.8" r="4.1"/><circle cx="558.8" cy="337.4" r="4.1"/><circle cx="544.6" cy="345.3" r="4.1"/><circle cx="452.3" cy="397.0" r="4.1"/><circle cx="243.5" cy="439.3" r="4.1"/><circle cx="398.7" cy="414.0" r="4.1"/><circle cx="361.9" cy="417.5" r="4.1"/><circle cx="376.0" cy="422.5" r="4.1"/><circle cx="646.1" cy="282.9" r="4.1"/><circle cx="438.1" cy="399.3" r="4.1"/><circle cx="626.9" cy="283.4" r="4.1"/><circle cx="429.6" cy="399.4" r="4.1"/><circle cx="414.9" cy="409.2" r="4.1"/><circle cx="427.9" cy="408.0" r="4.1"/><circle cx="395.9" cy="421.3" r="4.1"/><circle cx="508.7" cy="356.7" r="4.1"/><circle cx="402.8" cy="411.4" r="4.1"/><circle cx="614.0" cy="301.7" r="4.1"/><circle cx="378.6" cy="417.7" r="4.1"/><circle cx="647.5" cy="286.9" r="4.1"/><circle cx="244.7" cy="431.9" r="4.1"/><circle cx="293.0" cy="421.2" r="4.1"/><circle cx="546.2" cy="340.3" r="4.1"/><circle cx="354.3" cy="423.4" r="4.1"/><circle cx="462.5" cy="389.1" r="4.1"/><circle cx="437.0" cy="393.4" r="4.1"/><circle cx="271.9" cy="433.3" r="4.1"/><circle cx="614.7" cy="308.4" r="4.1"/><circle cx="289.4" cy="427.7" r="4.1"/><circle cx="273.5" cy="438.0" r="4.1"/><circle cx="497.9" cy="362.3" r="4.1"/><circle cx="178.8" cy="442.3" r="4.1"/><circle cx="462.1" cy="394.9" r="4.1"/><circle cx="202.2" cy="435.0" r="4.1"/><circle cx="381.9" cy="418.8" r="4.1"/><circle cx="258.2" cy="430.9" r="4.1"/><circle cx="597.2" cy="307.7" r="4.1"/><circle cx="483.6" cy="376.2" r="4.1"/><circle cx="556.9" cy="341.1" r="4.1"/><circle cx="373.2" cy="415.1" r="4.1"/><circle cx="627.0" cy="285.6" r="4.1"/><circle cx="335.8" cy="423.3" r="4.1"/><circle cx="611.3" cy="304.2" r="4.1"/><circle cx="644.1" cy="281.0" r="4.1"/><circle cx="635.5" cy="296.7" r="4.1"/><circle cx="562.0" cy="338.1" r="4.1"/><circle cx="635.8" cy="303.5" r="4.1"/><circle cx="442.5" cy="398.9" r="4.1"/><circle cx="286.2" cy="427.8" r="4.1"/><circle cx="424.4" cy="406.0" r="4.1"/><circle cx="304.1" cy="426.2" r="4.1"/><circle cx="287.6" cy="431.0" r="4.1"/><circle cx="535.4" cy="348.9" r="4.1"/><circle cx="245.4" cy="432.7" r="4.1"/><circle cx="461.3" cy="391.3" r="4.1"/><circle cx="568.6" cy="331.4" r="4.1"/><circle cx="615.1" cy="302.2" r="4.1"/><circle cx="540.1" cy="353.5" r="4.1"/><circle cx="318.8" cy="421.2" r="4.1"/><circle cx="297.4" cy="426.5" r="4.1"/><circle cx="318.8" cy="435.7" r="4.1"/><circle cx="203.8" cy="437.5" r="4.1"/><circle cx="399.5" cy="416.2" r="4.1"/><circle cx="348.8" cy="426.8" r="4.1"/><circle cx="430.8" cy="396.2" r="4.1"/><circle cx="196.0" cy="438.4" r="4.1"/><circle cx="150.9" cy="444.8" r="4.1"/><circle cx="646.8" cy="284.0" r="4.1"/><circle cx="227.4" cy="436.1" r="4.1"/><circle cx="360.7" cy="416.3" r="4.1"/><circle cx="546.6" cy="342.2" r="4.1"/><circle cx="296.7" cy="428.7" r="4.1"/><circle cx="530.5" cy="350.3" r="4.1"/><circle cx="469.1" cy="384.7" r="4.1"/><circle cx="206.2" cy="434.3" r="4.1"/><circle cx="315.4" cy="432.6" r="4.1"/><circle cx="368.8" cy="418.6" r="4.1"/><circle cx="474.6" cy="380.7" r="4.1"/><circle cx="370.9" cy="423.1" r="4.1"/><circle cx="243.3" cy="430.9" r="4.1"/><circle cx="403.2" cy="409.5" r="4.1"/><circle cx="215.3" cy="434.6" r="4.1"/><circle cx="652.4" cy="270.2" r="4.1"/><circle cx="166.0" cy="442.1" r="4.1"/><circle cx="502.9" cy="367.4" r="4.1"/><circle cx="250.0" cy="431.9" r="4.1"/><circle cx="261.9" cy="430.7" r="4.1"/><circle cx="393.9" cy="416.6" r="4.1"/><circle cx="537.8" cy="344.0" r="4.1"/><circle cx="630.5" cy="292.7" r="4.1"/><circle cx="581.6" cy="328.2" r="4.1"/><circle cx="200.3" cy="438.4" r="4.1"/><circle cx="323.9" cy="425.2" r="4.1"/><circle cx="323.7" cy="423.4" r="4.1"/><circle cx="625.4" cy="292.5" r="4.1"/><circle cx="566.6" cy="331.3" r="4.1"/><circle cx="437.1" cy="402.4" r="4.1"/><circle cx="286.9" cy="427.3" r="4.1"/><circle cx="598.6" cy="312.0" r="4.1"/><circle cx="429.2" cy="406.8" r="4.1"/><circle cx="256.2" cy="436.8" r="4.1"/><circle cx="261.2" cy="431.7" r="4.1"/><circle cx="567.8" cy="326.8" r="4.1"/><circle cx="543.7" cy="342.7" r="4.1"/><circle cx="350.1" cy="430.1" r="4.1"/><circle cx="366.2" cy="421.1" r="4.1"/><circle cx="174.9" cy="439.4" r="4.1"/><circle cx="548.2" cy="341.6" r="4.1"/><circle cx="583.7" cy="311.0" r="4.1"/><circle cx="434.6" cy="399.5" r="4.1"/><circle cx="202.7" cy="438.2" r="4.1"/><circle cx="591.4" cy="331.0" r="4.1"/><circle cx="620.1" cy="308.9" r="4.1"/><circle cx="475.7" cy="387.0" r="4.1"/><circle cx="576.1" cy="332.4" r="4.1"/><circle cx="261.7" cy="430.9" r="4.1"/><circle cx="293.2" cy="432.9" r="4.1"/><circle cx="505.1" cy="367.4" r="4.1"/><circle cx="581.1" cy="328.8" r="4.1"/><circle cx="284.9" cy="427.0" r="4.1"/><circle cx="328.8" cy="426.5" r="4.1"/><circle cx="427.9" cy="403.0" r="4.1"/><circle cx="564.1" cy="333.9" r="4.1"/><circle cx="638.1" cy="290.0" r="4.1"/><circle cx="161.2" cy="442.8" r="4.1"/><circle cx="437.8" cy="403.9" r="4.1"/><circle cx="187.1" cy="442.0" r="4.1"/><circle cx="551.3" cy="346.6" r="4.1"/><circle cx="271.9" cy="433.8" r="4.1"/><circle cx="229.9" cy="434.7" r="4.1"/><circle cx="588.5" cy="315.9" r="4.1"/><circle cx="573.3" cy="335.2" r="4.1"/><circle cx="475.8" cy="385.0" r="4.1"/><circle cx="380.5" cy="424.5" r="4.1"/><circle cx="652.9" cy="277.9" r="4.1"/><circle cx="344.7" cy="430.7" r="4.1"/><circle cx="261.6" cy="429.6" r="4.1"/><circle cx="577.3" cy="322.4" r="4.1"/><circle cx="237.2" cy="432.9" r="4.1"/><circle cx="334.0" cy="425.1" r="4.1"/><circle cx="329.6" cy="430.6" r="4.1"/><circle cx="653.9" cy="275.8" r="4.1"/><circle cx="569.3" cy="329.0" r="4.1"/><circle cx="631.3" cy="293.5" r="4.1"/><circle cx="602.3" cy="313.3" r="4.1"/><circle cx="481.4" cy="385.4" r="4.1"/><circle cx="241.7" cy="429.5" r="4.1"/><circle cx="227.5" cy="434.4" r="4.1"/><circle cx="625.3" cy="300.5" r="4.1"/><circle cx="521.6" cy="362.9" r="4.1"/><circle cx="365.9" cy="428.6" r="4.1"/><circle cx="242.1" cy="435.3" r="4.1"/><circle cx="590.0" cy="325.8" r="4.1"/><circle cx="300.3" cy="431.0" r="4.1"/><circle cx="238.0" cy="436.7" r="4.1"/><circle cx="299.0" cy="430.4" r="4.1"/><circle cx="265.6" cy="438.1" r="4.1"/><circle cx="314.3" cy="424.9" r="4.1"/><circle cx="585.7" cy="311.0" r="4.1"/><circle cx="416.2" cy="402.4" r="4.1"/><circle cx="392.8" cy="413.3" r="4.1"/><circle cx="451.4" cy="394.8" r="4.1"/><circle cx="351.5" cy="423.6" r="4.1"/><circle cx="463.2" cy="387.3" r="4.1"/><circle cx="610.0" cy="296.8" r="4.1"/><circle cx="322.7" cy="425.5" r="4.1"/><circle cx="578.1" cy="325.6" r="4.1"/><circle cx="512.0" cy="368.2" r="4.1"/><circle cx="254.1" cy="428.9" r="4.1"/><circle cx="197.4" cy="437.8" r="4.1"/><circle cx="495.5" cy="383.0" r="4.1"/><circle cx="357.8" cy="419.6" r="4.1"/><circle cx="206.8" cy="434.5" r="4.1"/><circle cx="540.2" cy="349.4" r="4.1"/><circle cx="642.4" cy="273.1" r="4.1"/><circle cx="543.3" cy="346.2" r="4.1"/><circle cx="613.8" cy="309.8" r="4.1"/><circle cx="631.0" cy="295.4" r="4.1"/><circle cx="247.2" cy="432.8" r="4.1"/><circle cx="529.1" cy="356.1" r="4.1"/><circle cx="461.8" cy="387.7" r="4.1"/><circle cx="241.5" cy="436.7" r="4.1"/><circle cx="340.0" cy="423.7" r="4.1"/><circle cx="632.9" cy="299.6" r="4.1"/><circle cx="248.6" cy="427.5" r="4.1"/><circle cx="223.7" cy="433.6" r="4.1"/><circle cx="641.4" cy="278.7" r="4.1"/><circle cx="640.8" cy="283.2" r="4.1"/><circle cx="388.8" cy="414.1" r="4.1"/><circle cx="245.1" cy="437.5" r="4.1"/><circle cx="542.8" cy="340.2" r="4.1"/><circle cx="352.5" cy="423.7" r="4.1"/><circle cx="588.1" cy="322.3" r="4.1"/><circle cx="387.9" cy="417.2" r="4.1"/><circle cx="604.2" cy="300.4" r="4.1"/><circle cx="403.3" cy="412.5" r="4.1"/><circle cx="500.1" cy="360.0" r="4.1"/><circle cx="487.1" cy="377.7" r="4.1"/><circle cx="538.5" cy="350.2" r="4.1"/><circle cx="265.4" cy="428.4" r="4.1"/><circle cx="636.2" cy="296.4" r="4.1"/><circle cx="535.4" cy="342.1" r="4.1"/><circle cx="209.9" cy="441.4" r="4.1"/><circle cx="644.2" cy="288.7" r="4.1"/><circle cx="550.1" cy="340.8" r="4.1"/><circle cx="573.4" cy="319.0" r="4.1"/><circle cx="236.6" cy="432.1" r="4.1"/><circle cx="290.0" cy="433.2" r="4.1"/><circle cx="246.1" cy="433.0" r="4.1"/><circle cx="350.4" cy="425.2" r="4.1"/><circle cx="612.6" cy="294.9" r="4.1"/><circle cx="405.8" cy="408.2" r="4.1"/><circle cx="432.2" cy="402.1" r="4.1"/><circle cx="377.5" cy="418.3" r="4.1"/><circle cx="566.7" cy="337.2" r="4.1"/><circle cx="306.9" cy="427.0" r="4.1"/><circle cx="420.3" cy="404.3" r="4.1"/><circle cx="576.2" cy="316.6" r="4.1"/><circle cx="289.7" cy="427.9" r="4.1"/><circle cx="272.6" cy="429.9" r="4.1"/><circle cx="378.0" cy="423.9" r="4.1"/><circle cx="387.6" cy="416.8" r="4.1"/><circle cx="236.1" cy="434.9" r="4.1"/><circle cx="210.6" cy="433.4" r="4.1"/><circle cx="169.6" cy="441.6" r="4.1"/><circle cx="535.3" cy="342.2" r="4.1"/><circle cx="214.7" cy="435.4" r="4.1"/><circle cx="405.9" cy="418.6" r="4.1"/><circle cx="503.8" cy="360.7" r="4.1"/><circle cx="488.0" cy="382.5" r="4.1"/><circle cx="260.6" cy="438.8" r="4.1"/><circle cx="301.6" cy="425.0" r="4.1"/><circle cx="601.5" cy="310.3" r="4.1"/><circle cx="563.7" cy="337.6" r="4.1"/><circle cx="582.9" cy="321.2" r="4.1"/><circle cx="196.6" cy="437.0" r="4.1"/><circle cx="597.2" cy="299.1" r="4.1"/><circle cx="621.3" cy="294.8" r="4.1"/><circle cx="518.9" cy="361.6" r="4.1"/><circle cx="427.9" cy="403.6" r="4.1"/><circle cx="645.9" cy="277.9" r="4.1"/><circle cx="592.9" cy="304.0" r="4.1"/><circle cx="407.0" cy="409.8" r="4.1"/><circle cx="396.9" cy="417.1" r="4.1"/><circle cx="331.0" cy="419.2" r="4.1"/><circle cx="493.0" cy="376.0" r="4.1"/><circle cx="463.3" cy="396.5" r="4.1"/><circle cx="278.4" cy="433.7" r="4.1"/><circle cx="620.0" cy="290.9" r="4.1"/><circle cx="313.7" cy="431.3" r="4.1"/><circle cx="543.5" cy="348.9" r="4.1"/><circle cx="640.7" cy="281.8" r="4.1"/><circle cx="447.0" cy="396.4" r="4.1"/><circle cx="212.4" cy="436.9" r="4.1"/><circle cx="411.2" cy="411.3" r="4.1"/><circle cx="488.6" cy="378.1" r="4.1"/><circle cx="353.8" cy="420.5" r="4.1"/><circle cx="277.7" cy="435.1" r="4.1"/><circle cx="409.2" cy="404.8" r="4.1"/><circle cx="485.4" cy="381.6" r="4.1"/><circle cx="446.6" cy="387.7" r="4.1"/><circle cx="289.6" cy="429.2" r="4.1"/><circle cx="205.1" cy="439.8" r="4.1"/><circle cx="461.4" cy="388.3" r="4.1"/><circle cx="403.0" cy="418.2" r="4.1"/><circle cx="315.7" cy="433.6" r="4.1"/><circle cx="407.0" cy="405.4" r="4.1"/><circle cx="462.1" cy="391.9" r="4.1"/><circle cx="364.7" cy="418.1" r="4.1"/><circle cx="178.7" cy="439.5" r="4.1"/><circle cx="566.1" cy="337.7" r="4.1"/><circle cx="257.1" cy="431.9" r="4.1"/><circle cx="374.6" cy="413.8" r="4.1"/><circle cx="257.5" cy="430.6" r="4.1"/><circle cx="286.8" cy="426.2" r="4.1"/><circle cx="466.5" cy="391.7" r="4.1"/><circle cx="188.4" cy="442.4" r="4.1"/><circle cx="603.5" cy="306.1" r="4.1"/><circle cx="314.1" cy="429.0" r="4.1"/><circle cx="578.2" cy="315.7" r="4.1"/><circle cx="315.5" cy="429.0" r="4.1"/><circle cx="282.9" cy="424.6" r="4.1"/><circle cx="291.3" cy="433.2" r="4.1"/><circle cx="296.6" cy="430.5" r="4.1"/><circle cx="578.3" cy="322.9" r="4.1"/><circle cx="633.8" cy="288.2" r="4.1"/><circle cx="632.2" cy="280.7" r="4.1"/><circle cx="254.5" cy="435.9" r="4.1"/><circle cx="498.1" cy="368.0" r="4.1"/><circle cx="444.8" cy="397.7" r="4.1"/><circle cx="566.3" cy="329.2" r="4.1"/><circle cx="440.4" cy="395.9" r="4.1"/><circle cx="398.2" cy="419.1" r="4.1"/><circle cx="190.9" cy="438.4" r="4.1"/><circle cx="517.3" cy="355.2" r="4.1"/><circle cx="576.5" cy="334.6" r="4.1"/><circle cx="565.7" cy="332.2" r="4.1"/><circle cx="624.7" cy="289.9" r="4.1"/><circle cx="496.5" cy="372.9" r="4.1"/><circle cx="636.5" cy="295.3" r="4.1"/><circle cx="478.2" cy="383.8" r="4.1"/><circle cx="625.3" cy="301.0" r="4.1"/><circle cx="288.2" cy="427.8" r="4.1"/><circle cx="345.7" cy="423.7" r="4.1"/><circle cx="460.1" cy="384.1" r="4.1"/><circle cx="503.7" cy="368.5" r="4.1"/><circle cx="465.8" cy="384.5" r="4.1"/><circle cx="303.9" cy="436.3" r="4.1"/><circle cx="200.2" cy="439.8" r="4.1"/><circle cx="232.9" cy="438.2" r="4.1"/><circle cx="317.2" cy="427.0" r="4.1"/><circle cx="444.7" cy="392.4" r="4.1"/><circle cx="428.9" cy="404.0" r="4.1"/><circle cx="347.1" cy="425.2" r="4.1"/><circle cx="491.0" cy="369.7" r="4.1"/><circle cx="572.3" cy="331.5" r="4.1"/><circle cx="623.1" cy="306.9" r="4.1"/><circle cx="553.3" cy="342.7" r="4.1"/><circle cx="632.3" cy="296.9" r="4.1"/><circle cx="568.5" cy="330.8" r="4.1"/><circle cx="324.3" cy="424.9" r="4.1"/><circle cx="491.9" cy="372.4" r="4.1"/><circle cx="621.7" cy="308.0" r="4.1"/><circle cx="627.8" cy="286.9" r="4.1"/><circle cx="296.1" cy="433.3" r="4.1"/><circle cx="345.6" cy="424.4" r="4.1"/><circle cx="457.1" cy="386.6" r="4.1"/><circle cx="184.2" cy="440.9" r="4.1"/><circle cx="567.4" cy="333.3" r="4.1"/><circle cx="588.8" cy="328.8" r="4.1"/><circle cx="370.9" cy="421.9" r="4.1"/><circle cx="218.7" cy="438.2" r="4.1"/><circle cx="541.1" cy="352.8" r="4.1"/><circle cx="359.8" cy="421.1" r="4.1"/><circle cx="611.4" cy="298.0" r="4.1"/><circle cx="648.5" cy="277.3" r="4.1"/><circle cx="413.2" cy="409.2" r="4.1"/><circle cx="267.6" cy="436.6" r="4.1"/><circle cx="419.4" cy="410.8" r="4.1"/><circle cx="235.4" cy="430.1" r="4.1"/><circle cx="649.7" cy="278.1" r="4.1"/><circle cx="283.5" cy="427.2" r="4.1"/><circle cx="335.0" cy="427.4" r="4.1"/><circle cx="582.8" cy="308.8" r="4.1"/><circle cx="366.3" cy="419.9" r="4.1"/><circle cx="547.3" cy="347.4" r="4.1"/><circle cx="424.8" cy="406.7" r="4.1"/><circle cx="243.0" cy="435.3" r="4.1"/><circle cx="299.5" cy="425.8" r="4.1"/><circle cx="240.8" cy="431.0" r="4.1"/><circle cx="252.8" cy="429.8" r="4.1"/><circle cx="593.3" cy="333.0" r="4.1"/><circle cx="412.2" cy="409.1" r="4.1"/><circle cx="480.5" cy="385.9" r="4.1"/><circle cx="484.5" cy="384.1" r="4.1"/><circle cx="308.9" cy="430.4" r="4.1"/><circle cx="455.3" cy="390.7" r="4.1"/><circle cx="337.8" cy="431.4" r="4.1"/><circle cx="361.0" cy="420.6" r="4.1"/><circle cx="542.9" cy="339.9" r="4.1"/><circle cx="543.8" cy="348.7" r="4.1"/><circle cx="650.7" cy="283.6" r="4.1"/><circle cx="511.4" cy="367.7" r="4.1"/><circle cx="244.8" cy="434.6" r="4.1"/><circle cx="267.3" cy="434.9" r="4.1"/><circle cx="623.2" cy="297.5" r="4.1"/><circle cx="487.5" cy="388.8" r="4.1"/><circle cx="255.9" cy="433.8" r="4.1"/><circle cx="387.8" cy="422.1" r="4.1"/><circle cx="278.0" cy="429.7" r="4.1"/><circle cx="581.5" cy="331.8" r="4.1"/><circle cx="574.7" cy="327.1" r="4.1"/><circle cx="257.1" cy="433.9" r="4.1"/><circle cx="322.0" cy="421.3" r="4.1"/><circle cx="522.0" cy="359.5" r="4.1"/><circle cx="443.1" cy="400.5" r="4.1"/><circle cx="632.3" cy="296.8" r="4.1"/><circle cx="401.0" cy="416.7" r="4.1"/><circle cx="291.8" cy="435.2" r="4.1"/><circle cx="566.3" cy="333.5" r="4.1"/><circle cx="631.1" cy="303.1" r="4.1"/><circle cx="609.0" cy="323.1" r="4.1"/><circle cx="271.7" cy="427.7" r="4.1"/><circle cx="620.4" cy="315.0" r="4.1"/><circle cx="549.4" cy="346.6" r="4.1"/><circle cx="284.6" cy="427.2" r="4.1"/><circle cx="202.9" cy="439.8" r="4.1"/><circle cx="468.7" cy="380.2" r="4.1"/><circle cx="491.2" cy="377.6" r="4.1"/><circle cx="235.4" cy="434.6" r="4.1"/><circle cx="581.2" cy="310.3" r="4.1"/><circle cx="413.5" cy="404.6" r="4.1"/><circle cx="287.5" cy="430.3" r="4.1"/><circle cx="447.9" cy="391.9" r="4.1"/><circle cx="525.6" cy="359.5" r="4.1"/><circle cx="287.7" cy="431.4" r="4.1"/><circle cx="429.6" cy="395.9" r="4.1"/><circle cx="252.6" cy="429.7" r="4.1"/><circle cx="575.5" cy="323.6" r="4.1"/><circle cx="605.1" cy="308.1" r="4.1"/><circle cx="387.7" cy="414.7" r="4.1"/><circle cx="297.1" cy="428.7" r="4.1"/><circle cx="468.6" cy="388.7" r="4.1"/><circle cx="551.0" cy="339.6" r="4.1"/><circle cx="298.5" cy="435.9" r="4.1"/><circle cx="335.1" cy="425.4" r="4.1"/><circle cx="203.0" cy="431.7" r="4.1"/><circle cx="652.6" cy="279.3" r="4.1"/><circle cx="635.7" cy="286.4" r="4.1"/><circle cx="207.1" cy="439.2" r="4.1"/><circle cx="490.5" cy="384.3" r="4.1"/><circle cx="523.6" cy="360.3" r="4.1"/><circle cx="307.1" cy="428.5" r="4.1"/><circle cx="233.8" cy="433.8" r="4.1"/><circle cx="294.6" cy="429.2" r="4.1"/><circle cx="226.2" cy="440.2" r="4.1"/><circle cx="496.8" cy="370.5" r="4.1"/><circle cx="593.9" cy="314.9" r="4.1"/><circle cx="523.3" cy="358.4" r="4.1"/><circle cx="231.4" cy="436.7" r="4.1"/><circle cx="573.8" cy="320.8" r="4.1"/><circle cx="256.2" cy="433.7" r="4.1"/><circle cx="600.7" cy="317.3" r="4.1"/><circle cx="637.7" cy="293.7" r="4.1"/><circle cx="342.1" cy="424.7" r="4.1"/><circle cx="202.9" cy="440.2" r="4.1"/><circle cx="629.0" cy="293.1" r="4.1"/><circle cx="233.1" cy="435.8" r="4.1"/><circle cx="221.9" cy="437.8" r="4.1"/><circle cx="550.7" cy="336.3" r="4.1"/><circle cx="600.0" cy="297.7" r="4.1"/><circle cx="492.5" cy="368.1" r="4.1"/><circle cx="595.3" cy="326.5" r="4.1"/><circle cx="323.8" cy="428.3" r="4.1"/><circle cx="279.8" cy="430.3" r="4.1"/><circle cx="495.0" cy="370.7" r="4.1"/><circle cx="484.7" cy="382.3" r="4.1"/><circle cx="422.1" cy="407.6" r="4.1"/><circle cx="244.8" cy="435.4" r="4.1"/><circle cx="414.0" cy="402.4" r="4.1"/><circle cx="562.7" cy="337.6" r="4.1"/><circle cx="512.6" cy="365.4" r="4.1"/><circle cx="465.8" cy="397.2" r="4.1"/><circle cx="610.2" cy="323.8" r="4.1"/><circle cx="215.4" cy="431.0" r="4.1"/><circle cx="420.2" cy="405.9" r="4.1"/><circle cx="282.9" cy="433.6" r="4.1"/><circle cx="381.6" cy="419.1" r="4.1"/><circle cx="340.4" cy="429.3" r="4.1"/><circle cx="386.5" cy="410.2" r="4.1"/><circle cx="550.2" cy="344.9" r="4.1"/><circle cx="304.5" cy="424.2" r="4.1"/><circle cx="506.7" cy="365.2" r="4.1"/><circle cx="281.2" cy="431.5" r="4.1"/><circle cx="427.4" cy="407.2" r="4.1"/><circle cx="325.5" cy="426.4" r="4.1"/><circle cx="474.5" cy="380.1" r="4.1"/><circle cx="340.0" cy="420.3" r="4.1"/><circle cx="240.9" cy="429.8" r="4.1"/><circle cx="219.1" cy="435.8" r="4.1"/><circle cx="324.1" cy="427.6" r="4.1"/><circle cx="631.0" cy="304.6" r="4.1"/><circle cx="528.7" cy="353.9" r="4.1"/><circle cx="463.1" cy="393.2" r="4.1"/><circle cx="450.7" cy="389.9" r="4.1"/><circle cx="518.0" cy="356.5" r="4.1"/><circle cx="433.2" cy="398.6" r="4.1"/><circle cx="476.9" cy="388.4" r="4.1"/><circle cx="495.1" cy="371.9" r="4.1"/><circle cx="322.1" cy="429.7" r="4.1"/><circle cx="414.7" cy="404.8" r="4.1"/><circle cx="643.6" cy="288.1" r="4.1"/><circle cx="244.4" cy="426.3" r="4.1"/><circle cx="614.7" cy="300.4" r="4.1"/><circle cx="224.2" cy="432.2" r="4.1"/><circle cx="437.8" cy="396.9" r="4.1"/><circle cx="646.4" cy="281.0" r="4.1"/><circle cx="573.7" cy="324.4" r="4.1"/><circle cx="429.7" cy="399.2" r="4.1"/><circle cx="623.7" cy="298.3" r="4.1"/><circle cx="173.0" cy="440.5" r="4.1"/><circle cx="627.9" cy="285.6" r="4.1"/><circle cx="369.9" cy="419.8" r="4.1"/><circle cx="638.2" cy="280.0" r="4.1"/><circle cx="571.0" cy="325.6" r="4.1"/><circle cx="509.5" cy="362.7" r="4.1"/><circle cx="546.0" cy="347.9" r="4.1"/><circle cx="445.4" cy="402.3" r="4.1"/><circle cx="305.5" cy="427.8" r="4.1"/><circle cx="536.0" cy="344.9" r="4.1"/><circle cx="602.8" cy="306.0" r="4.1"/><circle cx="323.3" cy="421.3" r="4.1"/><circle cx="597.5" cy="316.3" r="4.1"/><circle cx="526.1" cy="348.5" r="4.1"/><circle cx="516.4" cy="356.7" r="4.1"/><circle cx="418.9" cy="404.7" r="4.1"/><circle cx="256.5" cy="432.4" r="4.1"/><circle cx="465.2" cy="384.2" r="4.1"/><circle cx="502.4" cy="362.6" r="4.1"/><circle cx="329.1" cy="427.1" r="4.1"/><circle cx="549.2" cy="341.3" r="4.1"/><circle cx="210.2" cy="439.1" r="4.1"/><circle cx="249.6" cy="430.5" r="4.1"/><circle cx="594.8" cy="304.2" r="4.1"/><circle cx="413.6" cy="405.4" r="4.1"/><circle cx="479.0" cy="388.0" r="4.1"/><circle cx="205.0" cy="436.2" r="4.1"/><circle cx="281.9" cy="432.5" r="4.1"/><circle cx="517.6" cy="360.2" r="4.1"/><circle cx="414.2" cy="404.2" r="4.1"/><circle cx="553.3" cy="342.1" r="4.1"/><circle cx="208.8" cy="437.9" r="4.1"/><circle cx="624.4" cy="308.8" r="4.1"/><circle cx="250.1" cy="431.7" r="4.1"/><circle cx="255.4" cy="429.5" r="4.1"/><circle cx="565.8" cy="333.6" r="4.1"/><circle cx="589.1" cy="307.8" r="4.1"/><circle cx="631.8" cy="290.0" r="4.1"/><circle cx="330.7" cy="421.1" r="4.1"/><circle cx="485.8" cy="381.6" r="4.1"/><circle cx="407.4" cy="409.5" r="4.1"/><circle cx="395.1" cy="409.5" r="4.1"/><circle cx="410.7" cy="412.9" r="4.1"/><circle cx="243.5" cy="432.3" r="4.1"/><circle cx="422.2" cy="410.9" r="4.1"/><circle cx="189.0" cy="438.9" r="4.1"/><circle cx="186.7" cy="440.0" r="4.1"/><circle cx="251.4" cy="430.8" r="4.1"/><circle cx="184.5" cy="440.9" r="4.1"/><circle cx="335.7" cy="430.0" r="4.1"/><circle cx="549.5" cy="346.8" r="4.1"/><circle cx="234.7" cy="436.4" r="4.1"/><circle cx="254.2" cy="439.2" r="4.1"/><circle cx="418.4" cy="403.6" r="4.1"/><circle cx="590.5" cy="320.9" r="4.1"/><circle cx="509.1" cy="359.0" r="4.1"/><circle cx="480.9" cy="386.2" r="4.1"/><circle cx="276.8" cy="432.2" r="4.1"/><circle cx="328.5" cy="427.8" r="4.1"/><circle cx="199.8" cy="436.6" r="4.1"/><circle cx="494.8" cy="371.7" r="4.1"/><circle cx="372.2" cy="419.4" r="4.1"/><circle cx="536.2" cy="354.5" r="4.1"/><circle cx="540.4" cy="348.6" r="4.1"/><circle cx="579.2" cy="320.9" r="4.1"/><circle cx="417.4" cy="408.6" r="4.1"/><circle cx="559.2" cy="338.9" r="4.1"/><circle cx="533.0" cy="350.3" r="4.1"/><circle cx="411.3" cy="409.0" r="4.1"/><circle cx="607.2" cy="320.2" r="4.1"/><circle cx="531.4" cy="344.8" r="4.1"/><circle cx="469.1" cy="385.5" r="4.1"/><circle cx="619.1" cy="315.6" r="4.1"/><circle cx="571.2" cy="330.1" r="4.1"/><circle cx="627.9" cy="287.3" r="4.1"/><circle cx="215.8" cy="436.2" r="4.1"/><circle cx="305.0" cy="434.7" r="4.1"/><circle cx="287.5" cy="423.7" r="4.1"/><circle cx="336.6" cy="420.1" r="4.1"/><circle cx="235.2" cy="435.0" r="4.1"/><circle cx="409.5" cy="404.1" r="4.1"/><circle cx="226.6" cy="433.9" r="4.1"/><circle cx="573.9" cy="324.1" r="4.1"/><circle cx="336.2" cy="425.6" r="4.1"/><circle cx="333.0" cy="426.3" r="4.1"/><circle cx="284.2" cy="428.3" r="4.1"/><circle cx="652.4" cy="276.5" r="4.1"/><circle cx="409.7" cy="408.5" r="4.1"/><circle cx="373.5" cy="413.9" r="4.1"/><circle cx="651.1" cy="270.9" r="4.1"/><circle cx="655.0" cy="270.0" r="4.1"/><circle cx="195.4" cy="435.9" r="4.1"/><circle cx="190.2" cy="444.1" r="4.1"/><circle cx="650.1" cy="276.4" r="4.1"/><circle cx="442.4" cy="401.7" r="4.1"/><circle cx="602.7" cy="306.7" r="4.1"/><circle cx="446.7" cy="401.0" r="4.1"/><circle cx="372.0" cy="425.0" r="4.1"/><circle cx="360.5" cy="425.9" r="4.1"/><circle cx="457.3" cy="393.0" r="4.1"/><circle cx="528.2" cy="340.7" r="4.1"/><circle cx="467.5" cy="396.9" r="4.1"/><circle cx="281.8" cy="430.6" r="4.1"/><circle cx="605.0" cy="322.0" r="4.1"/><circle cx="400.7" cy="414.2" r="4.1"/><circle cx="246.5" cy="431.6" r="4.1"/><circle cx="362.4" cy="422.7" r="4.1"/><circle cx="166.3" cy="441.6" r="4.1"/><circle cx="422.0" cy="404.7" r="4.1"/><circle cx="401.3" cy="413.0" r="4.1"/><circle cx="306.1" cy="425.9" r="4.1"/><circle cx="483.3" cy="382.5" r="4.1"/><circle cx="308.6" cy="436.5" r="4.1"/><circle cx="585.3" cy="316.7" r="4.1"/><circle cx="445.2" cy="393.0" r="4.1"/><circle cx="472.4" cy="389.3" r="4.1"/><circle cx="518.6" cy="349.6" r="4.1"/><circle cx="348.0" cy="427.9" r="4.1"/><circle cx="478.2" cy="382.7" r="4.1"/><circle cx="443.6" cy="400.0" r="4.1"/><circle cx="207.9" cy="436.8" r="4.1"/><circle cx="289.1" cy="434.2" r="4.1"/><circle cx="313.4" cy="426.7" r="4.1"/><circle cx="596.0" cy="312.9" r="4.1"/><circle cx="233.6" cy="435.3" r="4.1"/><circle cx="249.3" cy="430.2" r="4.1"/><circle cx="368.7" cy="419.7" r="4.1"/><circle cx="549.9" cy="341.7" r="4.1"/><circle cx="481.4" cy="385.3" r="4.1"/><circle cx="285.4" cy="425.8" r="4.1"/><circle cx="216.0" cy="436.0" r="4.1"/><circle cx="607.4" cy="308.1" r="4.1"/><circle cx="459.4" cy="390.5" r="4.1"/><circle cx="540.7" cy="342.0" r="4.1"/><circle cx="388.2" cy="420.8" r="4.1"/><circle cx="515.8" cy="363.3" r="4.1"/><circle cx="234.4" cy="435.7" r="4.1"/><circle cx="566.2" cy="328.8" r="4.1"/><circle cx="276.4" cy="431.4" r="4.1"/><circle cx="589.9" cy="314.1" r="4.1"/><circle cx="269.8" cy="428.7" r="4.1"/><circle cx="547.5" cy="345.6" r="4.1"/><circle cx="329.4" cy="429.8" r="4.1"/><circle cx="635.5" cy="287.4" r="4.1"/><circle cx="491.1" cy="374.1" r="4.1"/><circle cx="573.3" cy="335.7" r="4.1"/><circle cx="622.8" cy="308.5" r="4.1"/><circle cx="477.0" cy="387.9" r="4.1"/><circle cx="642.2" cy="286.0" r="4.1"/><circle cx="369.4" cy="421.0" r="4.1"/><circle cx="346.4" cy="426.8" r="4.1"/><circle cx="429.4" cy="397.4" r="4.1"/><circle cx="623.5" cy="293.6" r="4.1"/><circle cx="410.7" cy="409.7" r="4.1"/><circle cx="457.4" cy="386.8" r="4.1"/><circle cx="260.3" cy="435.6" r="4.1"/><circle cx="220.8" cy="430.3" r="4.1"/><circle cx="465.2" cy="388.1" r="4.1"/><circle cx="413.2" cy="412.0" r="4.1"/><circle cx="275.1" cy="433.7" r="4.1"/><circle cx="222.0" cy="435.0" r="4.1"/><circle cx="471.9" cy="388.2" r="4.1"/><circle cx="200.1" cy="439.1" r="4.1"/><circle cx="197.4" cy="434.6" r="4.1"/><circle cx="280.4" cy="435.3" r="4.1"/><circle cx="251.0" cy="430.6" r="4.1"/><circle cx="523.3" cy="352.3" r="4.1"/><circle cx="636.1" cy="287.2" r="4.1"/><circle cx="362.3" cy="419.5" r="4.1"/><circle cx="275.8" cy="435.8" r="4.1"/><circle cx="557.9" cy="343.3" r="4.1"/><circle cx="341.1" cy="428.8" r="4.1"/><circle cx="638.6" cy="289.4" r="4.1"/><circle cx="290.7" cy="434.6" r="4.1"/><circle cx="544.9" cy="338.5" r="4.1"/><circle cx="460.2" cy="388.1" r="4.1"/><circle cx="343.6" cy="424.9" r="4.1"/><circle cx="558.7" cy="340.6" r="4.1"/><circle cx="336.4" cy="422.2" r="4.1"/><circle cx="180.2" cy="441.4" r="4.1"/><circle cx="583.7" cy="316.7" r="4.1"/><circle cx="360.8" cy="424.2" r="4.1"/><circle cx="644.4" cy="280.9" r="4.1"/><circle cx="194.8" cy="441.8" r="4.1"/><circle cx="601.4" cy="325.7" r="4.1"/><circle cx="588.3" cy="317.2" r="4.1"/><circle cx="471.0" cy="388.4" r="4.1"/><circle cx="319.4" cy="427.6" r="4.1"/><circle cx="544.5" cy="344.1" r="4.1"/><circle cx="311.5" cy="429.3" r="4.1"/><circle cx="415.0" cy="410.4" r="4.1"/><circle cx="655.0" cy="272.9" r="4.1"/><circle cx="391.8" cy="421.9" r="4.1"/><circle cx="216.1" cy="433.8" r="4.1"/><circle cx="285.3" cy="428.8" r="4.1"/><circle cx="222.6" cy="438.1" r="4.1"/><circle cx="256.2" cy="434.8" r="4.1"/><circle cx="580.8" cy="319.9" r="4.1"/><circle cx="353.8" cy="428.2" r="4.1"/><circle cx="385.2" cy="413.4" r="4.1"/><circle cx="573.2" cy="329.2" r="4.1"/><circle cx="374.4" cy="425.7" r="4.1"/><circle cx="335.8" cy="423.8" r="4.1"/><circle cx="650.2" cy="276.7" r="4.1"/><circle cx="402.8" cy="416.6" r="4.1"/><circle cx="283.9" cy="429.0" r="4.1"/><circle cx="612.7" cy="299.5" r="4.1"/><circle cx="577.3" cy="314.1" r="4.1"/><circle cx="432.7" cy="399.2" r="4.1"/><circle cx="609.8" cy="310.9" r="4.1"/><circle cx="205.8" cy="438.6" r="4.1"/><circle cx="618.0" cy="305.9" r="4.1"/><circle cx="622.7" cy="293.0" r="4.1"/><circle cx="443.1" cy="395.4" r="4.1"/><circle cx="605.0" cy="323.9" r="4.1"/><circle cx="451.0" cy="388.6" r="4.1"/><circle cx="641.7" cy="283.7" r="4.1"/><circle cx="522.5" cy="352.7" r="4.1"/><circle cx="199.6" cy="433.5" r="4.1"/><circle cx="486.8" cy="378.8" r="4.1"/><circle cx="589.3" cy="307.3" r="4.1"/><circle cx="330.0" cy="420.3" r="4.1"/><circle cx="512.9" cy="364.1" r="4.1"/><circle cx="588.2" cy="325.9" r="4.1"/><circle cx="624.1" cy="295.6" r="4.1"/><circle cx="228.8" cy="435.8" r="4.1"/><circle cx="543.1" cy="345.3" r="4.1"/><circle cx="301.6" cy="426.0" r="4.1"/><circle cx="567.4" cy="330.5" r="4.1"/><circle cx="634.3" cy="298.9" r="4.1"/><circle cx="172.8" cy="443.0" r="4.1"/><circle cx="249.8" cy="431.3" r="4.1"/><circle cx="306.3" cy="422.2" r="4.1"/><circle cx="220.7" cy="433.0" r="4.1"/><circle cx="521.7" cy="350.2" r="4.1"/><circle cx="494.4" cy="366.7" r="4.1"/><circle cx="216.6" cy="435.6" r="4.1"/><circle cx="328.9" cy="429.4" r="4.1"/><circle cx="328.5" cy="431.0" r="4.1"/><circle cx="495.5" cy="369.6" r="4.1"/><circle cx="304.1" cy="427.4" r="4.1"/><circle cx="642.4" cy="286.2" r="4.1"/><circle cx="582.2" cy="316.9" r="4.1"/><circle cx="323.0" cy="436.0" r="4.1"/><circle cx="386.5" cy="417.6" r="4.1"/><circle cx="168.5" cy="444.0" r="4.1"/><circle cx="504.2" cy="362.3" r="4.1"/><circle cx="509.6" cy="366.2" r="4.1"/><circle cx="419.9" cy="403.7" r="4.1"/><circle cx="207.1" cy="436.2" r="4.1"/><circle cx="498.3" cy="373.7" r="4.1"/><circle cx="245.8" cy="434.5" r="4.1"/><circle cx="422.1" cy="410.1" r="4.1"/><circle cx="385.0" cy="420.0" r="4.1"/><circle cx="535.6" cy="340.7" r="4.1"/><circle cx="461.8" cy="397.1" r="4.1"/><circle cx="491.1" cy="368.7" r="4.1"/><circle cx="373.2" cy="425.7" r="4.1"/><circle cx="403.4" cy="418.5" r="4.1"/><circle cx="630.8" cy="300.3" r="4.1"/><circle cx="180.4" cy="441.0" r="4.1"/><circle cx="372.0" cy="419.7" r="4.1"/><circle cx="412.4" cy="408.1" r="4.1"/><circle cx="439.5" cy="399.2" r="4.1"/><circle cx="483.3" cy="379.5" r="4.1"/><circle cx="281.1" cy="433.3" r="4.1"/><circle cx="298.6" cy="424.2" r="4.1"/><circle cx="457.2" cy="385.8" r="4.1"/><circle cx="562.3" cy="338.9" r="4.1"/><circle cx="640.3" cy="275.5" r="4.1"/><circle cx="548.6" cy="342.0" r="4.1"/><circle cx="305.6" cy="420.3" r="4.1"/><circle cx="631.5" cy="281.9" r="4.1"/><circle cx="613.4" cy="304.1" r="4.1"/><circle cx="356.0" cy="415.0" r="4.1"/><circle cx="553.7" cy="337.9" r="4.1"/><circle cx="347.3" cy="420.9" r="4.1"/><circle cx="192.7" cy="440.6" r="4.1"/><circle cx="225.0" cy="431.6" r="4.1"/><circle cx="202.5" cy="434.9" r="4.1"/><circle cx="243.7" cy="432.9" r="4.1"/><circle cx="278.0" cy="434.0" r="4.1"/><circle cx="427.6" cy="405.0" r="4.1"/><circle cx="565.1" cy="334.4" r="4.1"/><circle cx="344.2" cy="426.6" r="4.1"/><circle cx="208.5" cy="435.2" r="4.1"/><circle cx="303.4" cy="423.6" r="4.1"/><circle cx="306.5" cy="429.8" r="4.1"/><circle cx="526.6" cy="359.0" r="4.1"/><circle cx="293.0" cy="433.6" r="4.1"/><circle cx="236.7" cy="435.2" r="4.1"/><circle cx="317.6" cy="434.8" r="4.1"/><circle cx="272.3" cy="431.8" r="4.1"/><circle cx="386.6" cy="416.4" r="4.1"/><circle cx="329.8" cy="426.1" r="4.1"/><circle cx="368.4" cy="419.0" r="4.1"/><circle cx="541.2" cy="343.2" r="4.1"/><circle cx="217.8" cy="440.4" r="4.1"/><circle cx="338.9" cy="430.8" r="4.1"/><circle cx="506.7" cy="372.4" r="4.1"/><circle cx="237.3" cy="432.9" r="4.1"/><circle cx="324.9" cy="430.5" r="4.1"/><circle cx="472.6" cy="382.4" r="4.1"/><circle cx="288.8" cy="434.0" r="4.1"/><circle cx="253.6" cy="426.9" r="4.1"/><circle cx="491.1" cy="377.4" r="4.1"/><circle cx="318.6" cy="422.1" r="4.1"/><circle cx="520.5" cy="368.0" r="4.1"/><circle cx="347.6" cy="429.9" r="4.1"/><circle cx="327.2" cy="419.5" r="4.1"/><circle cx="494.7" cy="382.0" r="4.1"/><circle cx="566.9" cy="332.4" r="4.1"/><circle cx="617.1" cy="308.6" r="4.1"/><circle cx="629.7" cy="300.3" r="4.1"/><circle cx="216.3" cy="440.4" r="4.1"/><circle cx="599.1" cy="309.0" r="4.1"/><circle cx="575.6" cy="327.1" r="4.1"/><circle cx="605.8" cy="325.2" r="4.1"/><circle cx="608.7" cy="312.0" r="4.1"/><circle cx="458.8" cy="394.2" r="4.1"/><circle cx="625.9" cy="298.3" r="4.1"/><circle cx="365.9" cy="416.9" r="4.1"/><circle cx="477.5" cy="383.7" r="4.1"/><circle cx="227.5" cy="433.4" r="4.1"/><circle cx="319.4" cy="423.7" r="4.1"/><circle cx="574.7" cy="328.6" r="4.1"/><circle cx="195.4" cy="442.6" r="4.1"/><circle cx="516.2" cy="352.2" r="4.1"/><circle cx="626.7" cy="295.5" r="4.1"/><circle cx="601.1" cy="296.3" r="4.1"/><circle cx="488.7" cy="384.3" r="4.1"/><circle cx="281.9" cy="430.6" r="4.1"/><circle cx="206.9" cy="439.3" r="4.1"/><circle cx="648.7" cy="283.2" r="4.1"/><circle cx="225.1" cy="432.2" r="4.1"/><circle cx="441.4" cy="397.2" r="4.1"/><circle cx="342.9" cy="426.8" r="4.1"/><circle cx="258.8" cy="429.1" r="4.1"/><circle cx="454.4" cy="393.8" r="4.1"/><circle cx="492.9" cy="371.5" r="4.1"/><circle cx="344.4" cy="425.6" r="4.1"/><circle cx="542.3" cy="349.0" r="4.1"/><circle cx="633.0" cy="295.5" r="4.1"/><circle cx="301.1" cy="427.6" r="4.1"/><circle cx="608.8" cy="298.9" r="4.1"/><circle cx="618.3" cy="310.2" r="4.1"/><circle cx="370.0" cy="426.8" r="4.1"/><circle cx="204.5" cy="440.1" r="4.1"/><circle cx="631.1" cy="289.8" r="4.1"/><circle cx="503.6" cy="364.6" r="4.1"/><circle cx="209.2" cy="435.3" r="4.1"/><circle cx="621.4" cy="302.0" r="4.1"/><circle cx="307.0" cy="433.1" r="4.1"/><circle cx="494.1" cy="372.4" r="4.1"/><circle cx="249.3" cy="434.2" r="4.1"/><circle cx="610.5" cy="302.3" r="4.1"/><circle cx="400.1" cy="411.0" r="4.1"/><circle cx="557.5" cy="341.2" r="4.1"/><circle cx="551.2" cy="339.7" r="4.1"/><circle cx="252.5" cy="436.8" r="4.1"/><circle cx="489.3" cy="381.9" r="4.1"/><circle cx="441.3" cy="395.7" r="4.1"/><circle cx="200.9" cy="437.4" r="4.1"/><circle cx="338.6" cy="427.0" r="4.1"/><circle cx="354.1" cy="418.7" r="4.1"/><circle cx="293.4" cy="426.9" r="4.1"/><circle cx="623.5" cy="301.1" r="4.1"/><circle cx="265.3" cy="433.6" r="4.1"/><circle cx="616.9" cy="298.5" r="4.1"/><circle cx="460.4" cy="394.4" r="4.1"/><circle cx="559.7" cy="338.9" r="4.1"/><circle cx="292.0" cy="430.4" r="4.1"/><circle cx="356.6" cy="421.6" r="4.1"/><circle cx="434.4" cy="398.8" r="4.1"/><circle cx="476.3" cy="382.8" r="4.1"/><circle cx="262.6" cy="433.8" r="4.1"/><circle cx="263.4" cy="437.9" r="4.1"/><circle cx="519.8" cy="365.1" r="4.1"/><circle cx="441.5" cy="401.7" r="4.1"/><circle cx="284.8" cy="427.3" r="4.1"/><circle cx="239.5" cy="436.8" r="4.1"/><circle cx="305.0" cy="429.0" r="4.1"/><circle cx="298.4" cy="428.0" r="4.1"/><circle cx="450.7" cy="392.1" r="4.1"/><circle cx="467.6" cy="379.5" r="4.1"/><circle cx="615.6" cy="317.2" r="4.1"/><circle cx="522.0" cy="349.4" r="4.1"/><circle cx="631.5" cy="297.1" r="4.1"/><circle cx="216.3" cy="435.8" r="4.1"/><circle cx="227.9" cy="436.1" r="4.1"/><circle cx="211.9" cy="438.8" r="4.1"/><circle cx="351.4" cy="421.9" r="4.1"/><circle cx="571.3" cy="327.3" r="4.1"/><circle cx="397.9" cy="415.2" r="4.1"/><circle cx="552.0" cy="338.2" r="4.1"/><circle cx="403.3" cy="417.4" r="4.1"/><circle cx="242.0" cy="429.9" r="4.1"/><circle cx="637.8" cy="301.9" r="4.1"/><circle cx="504.4" cy="369.5" r="4.1"/><circle cx="526.2" cy="353.6" r="4.1"/><circle cx="349.8" cy="426.4" r="4.1"/><circle cx="490.5" cy="380.0" r="4.1"/><circle cx="271.1" cy="431.3" r="4.1"/><circle cx="300.3" cy="424.3" r="4.1"/><circle cx="506.9" cy="372.4" r="4.1"/><circle cx="493.4" cy="373.3" r="4.1"/><circle cx="580.8" cy="319.6" r="4.1"/><circle cx="497.1" cy="377.9" r="4.1"/><circle cx="354.0" cy="421.8" r="4.1"/><circle cx="330.2" cy="426.2" r="4.1"/><circle cx="577.2" cy="330.8" r="4.1"/><circle cx="534.9" cy="345.4" r="4.1"/><circle cx="382.6" cy="417.1" r="4.1"/><circle cx="589.8" cy="307.7" r="4.1"/><circle cx="234.3" cy="429.6" r="4.1"/><circle cx="276.5" cy="431.8" r="4.1"/><circle cx="329.0" cy="432.2" r="4.1"/><circle cx="629.1" cy="292.0" r="4.1"/><circle cx="212.8" cy="439.0" r="4.1"/><circle cx="292.3" cy="424.4" r="4.1"/><circle cx="297.5" cy="432.1" r="4.1"/><circle cx="589.7" cy="323.4" r="4.1"/><circle cx="452.9" cy="392.0" r="4.1"/><circle cx="419.9" cy="400.9" r="4.1"/><circle cx="494.3" cy="376.8" r="4.1"/><circle cx="227.5" cy="432.6" r="4.1"/><circle cx="568.6" cy="335.8" r="4.1"/><circle cx="300.4" cy="423.0" r="4.1"/><circle cx="539.6" cy="342.5" r="4.1"/><circle cx="192.8" cy="436.5" r="4.1"/><circle cx="539.5" cy="345.4" r="4.1"/><circle cx="324.6" cy="432.5" r="4.1"/><circle cx="543.3" cy="350.1" r="4.1"/><circle cx="426.7" cy="407.0" r="4.1"/><circle cx="580.5" cy="322.5" r="4.1"/><circle cx="500.1" cy="375.4" r="4.1"/><circle cx="578.6" cy="334.5" r="4.1"/><circle cx="528.3" cy="351.6" r="4.1"/><circle cx="576.2" cy="330.4" r="4.1"/><circle cx="365.2" cy="420.0" r="4.1"/><circle cx="617.7" cy="306.2" r="4.1"/><circle cx="652.0" cy="272.8" r="4.1"/><circle cx="331.4" cy="426.1" r="4.1"/><circle cx="259.3" cy="437.2" r="4.1"/><circle cx="308.9" cy="429.2" r="4.1"/><circle cx="291.1" cy="430.4" r="4.1"/><circle cx="372.7" cy="416.8" r="4.1"/><circle cx="223.7" cy="431.0" r="4.1"/><circle cx="202.2" cy="443.6" r="4.1"/><circle cx="603.0" cy="299.6" r="4.1"/><circle cx="267.8" cy="429.0" r="4.1"/><circle cx="210.9" cy="438.7" r="4.1"/><circle cx="505.8" cy="370.4" r="4.1"/><circle cx="384.3" cy="423.8" r="4.1"/><circle cx="233.5" cy="429.5" r="4.1"/><circle cx="598.5" cy="312.1" r="4.1"/><circle cx="342.5" cy="424.6" r="4.1"/><circle cx="317.1" cy="433.5" r="4.1"/><circle cx="535.7" cy="348.1" r="4.1"/><circle cx="581.7" cy="315.1" r="4.1"/><circle cx="152.0" cy="444.4" r="4.1"/><circle cx="234.9" cy="431.4" r="4.1"/><circle cx="510.8" cy="375.5" r="4.1"/><circle cx="313.2" cy="430.1" r="4.1"/><circle cx="479.7" cy="381.2" r="4.1"/><circle cx="542.9" cy="347.3" r="4.1"/><circle cx="462.9" cy="392.4" r="4.1"/><circle cx="598.4" cy="296.1" r="4.1"/><circle cx="303.3" cy="434.0" r="4.1"/><circle cx="245.6" cy="436.7" r="4.1"/><circle cx="492.4" cy="382.0" r="4.1"/><circle cx="533.1" cy="351.0" r="4.1"/><circle cx="505.0" cy="368.7" r="4.1"/><circle cx="411.2" cy="410.1" r="4.1"/><circle cx="419.6" cy="404.1" r="4.1"/><circle cx="288.9" cy="430.2" r="4.1"/><circle cx="539.4" cy="346.7" r="4.1"/><circle cx="206.6" cy="439.3" r="4.1"/><circle cx="589.0" cy="311.9" r="4.1"/><circle cx="582.3" cy="327.5" r="4.1"/><circle cx="401.6" cy="409.5" r="4.1"/><circle cx="234.3" cy="431.5" r="4.1"/><circle cx="191.3" cy="436.6" r="4.1"/><circle cx="395.1" cy="412.8" r="4.1"/><circle cx="243.1" cy="430.5" r="4.1"/><circle cx="321.3" cy="428.7" r="4.1"/><circle cx="629.5" cy="285.8" r="4.1"/><circle cx="598.7" cy="325.4" r="4.1"/><circle cx="312.3" cy="428.0" r="4.1"/><circle cx="602.0" cy="320.7" r="4.1"/><circle cx="451.2" cy="398.1" r="4.1"/><circle cx="613.9" cy="297.1" r="4.1"/><circle cx="432.6" cy="401.9" r="4.1"/><circle cx="635.7" cy="287.6" r="4.1"/><circle cx="518.1" cy="362.5" r="4.1"/><circle cx="577.5" cy="317.8" r="4.1"/><circle cx="408.0" cy="405.8" r="4.1"/><circle cx="360.9" cy="422.1" r="4.1"/><circle cx="588.7" cy="315.5" r="4.1"/><circle cx="617.0" cy="294.7" r="4.1"/><circle cx="424.8" cy="408.4" r="4.1"/><circle cx="544.7" cy="347.2" r="4.1"/><circle cx="216.5" cy="433.6" r="4.1"/><circle cx="223.4" cy="433.4" r="4.1"/><circle cx="228.6" cy="438.0" r="4.1"/><circle cx="555.7" cy="342.0" r="4.1"/><circle cx="529.4" cy="350.6" r="4.1"/><circle cx="538.9" cy="348.9" r="4.1"/><circle cx="252.1" cy="427.4" r="4.1"/><circle cx="568.1" cy="329.6" r="4.1"/><circle cx="560.4" cy="338.5" r="4.1"/><circle cx="245.8" cy="437.3" r="4.1"/><circle cx="529.4" cy="346.3" r="4.1"/><circle cx="341.7" cy="424.1" r="4.1"/><circle cx="554.9" cy="344.7" r="4.1"/><circle cx="354.2" cy="431.8" r="4.1"/><circle cx="655.9" cy="272.6" r="4.1"/><circle cx="461.8" cy="390.0" r="4.1"/><circle cx="322.5" cy="423.2" r="4.1"/><circle cx="480.6" cy="392.5" r="4.1"/><circle cx="350.4" cy="420.9" r="4.1"/><circle cx="325.7" cy="429.0" r="4.1"/><circle cx="356.9" cy="417.0" r="4.1"/><circle cx="509.8" cy="361.6" r="4.1"/><circle cx="187.9" cy="441.2" r="4.1"/><circle cx="228.8" cy="431.1" r="4.1"/><circle cx="435.6" cy="396.6" r="4.1"/><circle cx="549.8" cy="342.9" r="4.1"/><circle cx="201.8" cy="438.4" r="4.1"/><circle cx="188.4" cy="435.9" r="4.1"/><circle cx="215.0" cy="433.9" r="4.1"/><circle cx="629.6" cy="310.0" r="4.1"/><circle cx="491.7" cy="367.4" r="4.1"/><circle cx="561.6" cy="337.8" r="4.1"/><circle cx="571.9" cy="325.1" r="4.1"/><circle cx="655.8" cy="275.5" r="4.1"/><circle cx="414.5" cy="411.6" r="4.1"/><circle cx="277.5" cy="434.0" r="4.1"/><circle cx="587.5" cy="309.4" r="4.1"/><circle cx="291.8" cy="425.5" r="4.1"/><circle cx="200.9" cy="440.7" r="4.1"/><circle cx="246.6" cy="436.4" r="4.1"/><circle cx="505.2" cy="371.7" r="4.1"/><circle cx="599.3" cy="305.3" r="4.1"/><circle cx="565.8" cy="335.9" r="4.1"/><circle cx="645.3" cy="282.5" r="4.1"/><circle cx="467.4" cy="390.8" r="4.1"/><circle cx="527.4" cy="351.9" r="4.1"/><circle cx="617.5" cy="305.4" r="4.1"/><circle cx="429.2" cy="401.9" r="4.1"/><circle cx="196.5" cy="436.1" r="4.1"/><circle cx="421.1" cy="406.0" r="4.1"/><circle cx="322.9" cy="427.2" r="4.1"/><circle cx="456.8" cy="386.0" r="4.1"/><circle cx="275.4" cy="434.6" r="4.1"/><circle cx="618.0" cy="292.9" r="4.1"/><circle cx="344.0" cy="424.5" r="4.1"/><circle cx="419.4" cy="406.4" r="4.1"/><circle cx="253.4" cy="435.4" r="4.1"/><circle cx="166.7" cy="443.8" r="4.1"/><circle cx="581.2" cy="318.4" r="4.1"/><circle cx="517.1" cy="369.4" r="4.1"/><circle cx="476.6" cy="383.8" r="4.1"/><circle cx="486.5" cy="371.1" r="4.1"/><circle cx="471.1" cy="383.6" r="4.1"/><circle cx="559.6" cy="338.6" r="4.1"/><circle cx="416.5" cy="402.0" r="4.1"/><circle cx="240.6" cy="436.6" r="4.1"/><circle cx="552.8" cy="342.0" r="4.1"/><circle cx="281.2" cy="432.0" r="4.1"/><circle cx="489.0" cy="372.0" r="4.1"/><circle cx="491.6" cy="375.6" r="4.1"/><circle cx="204.1" cy="435.8" r="4.1"/><circle cx="585.1" cy="317.5" r="4.1"/><circle cx="326.7" cy="425.1" r="4.1"/><circle cx="207.3" cy="433.3" r="4.1"/><circle cx="613.2" cy="306.7" r="4.1"/><circle cx="287.3" cy="427.4" r="4.1"/><circle cx="244.1" cy="438.8" r="4.1"/><circle cx="356.2" cy="425.4" r="4.1"/><circle cx="549.1" cy="338.1" r="4.1"/><circle cx="600.1" cy="303.1" r="4.1"/><circle cx="398.7" cy="413.1" r="4.1"/><circle cx="580.2" cy="317.1" r="4.1"/><circle cx="277.4" cy="430.2" r="4.1"/><circle cx="251.2" cy="425.5" r="4.1"/><circle cx="363.9" cy="427.5" r="4.1"/><circle cx="315.1" cy="429.7" r="4.1"/><circle cx="604.0" cy="295.2" r="4.1"/><circle cx="615.7" cy="303.7" r="4.1"/><circle cx="275.6" cy="432.3" r="4.1"/><circle cx="554.9" cy="337.2" r="4.1"/><circle cx="613.6" cy="294.7" r="4.1"/><circle cx="421.8" cy="403.5" r="4.1"/><circle cx="219.7" cy="432.0" r="4.1"/><circle cx="244.8" cy="430.9" r="4.1"/><circle cx="494.2" cy="378.9" r="4.1"/><circle cx="536.8" cy="348.6" r="4.1"/><circle cx="418.7" cy="404.1" r="4.1"/><circle cx="446.4" cy="390.4" r="4.1"/><circle cx="273.6" cy="429.0" r="4.1"/><circle cx="245.7" cy="433.4" r="4.1"/><circle cx="463.2" cy="389.0" r="4.1"/><circle cx="366.3" cy="428.1" r="4.1"/><circle cx="396.2" cy="419.4" r="4.1"/><circle cx="433.3" cy="401.1" r="4.1"/><circle cx="621.5" cy="313.6" r="4.1"/><circle cx="255.1" cy="434.4" r="4.1"/><circle cx="210.0" cy="438.9" r="4.1"/><circle cx="372.7" cy="417.3" r="4.1"/><circle cx="240.4" cy="429.5" r="4.1"/><circle cx="655.6" cy="272.6" r="4.1"/><circle cx="286.0" cy="428.1" r="4.1"/><circle cx="584.9" cy="309.1" r="4.1"/><circle cx="190.6" cy="440.9" r="4.1"/><circle cx="333.4" cy="425.0" r="4.1"/><circle cx="264.3" cy="436.2" r="4.1"/><circle cx="610.3" cy="311.8" r="4.1"/><circle cx="244.1" cy="427.3" r="4.1"/><circle cx="325.3" cy="423.7" r="4.1"/><circle cx="347.1" cy="425.7" r="4.1"/><circle cx="629.5" cy="297.7" r="4.1"/><circle cx="429.4" cy="404.3" r="4.1"/><circle cx="406.4" cy="410.7" r="4.1"/><circle cx="574.5" cy="322.2" r="4.1"/><circle cx="203.1" cy="434.6" r="4.1"/><circle cx="321.8" cy="420.1" r="4.1"/><circle cx="533.6" cy="347.4" r="4.1"/><circle cx="512.5" cy="366.8" r="4.1"/><circle cx="405.4" cy="409.1" r="4.1"/><circle cx="520.1" cy="353.8" r="4.1"/><circle cx="588.6" cy="324.1" r="4.1"/><circle cx="539.8" cy="346.8" r="4.1"/><circle cx="319.5" cy="428.2" r="4.1"/><circle cx="185.4" cy="441.0" r="4.1"/><circle cx="438.3" cy="401.7" r="4.1"/><circle cx="193.5" cy="436.8" r="4.1"/><circle cx="498.0" cy="371.6" r="4.1"/><circle cx="427.8" cy="407.2" r="4.1"/><circle cx="413.3" cy="404.5" r="4.1"/><circle cx="197.1" cy="433.7" r="4.1"/><circle cx="285.9" cy="436.6" r="4.1"/><circle cx="451.6" cy="397.0" r="4.1"/><circle cx="236.6" cy="433.5" r="4.1"/><circle cx="626.5" cy="292.1" r="4.1"/><circle cx="194.5" cy="440.3" r="4.1"/><circle cx="549.2" cy="341.4" r="4.1"/><circle cx="558.6" cy="341.1" r="4.1"/><circle cx="188.4" cy="436.7" r="4.1"/><circle cx="432.5" cy="402.4" r="4.1"/><circle cx="365.8" cy="421.1" r="4.1"/><circle cx="358.0" cy="426.2" r="4.1"/><circle cx="226.7" cy="437.2" r="4.1"/><circle cx="306.0" cy="429.8" r="4.1"/><circle cx="566.9" cy="328.3" r="4.1"/><circle cx="620.5" cy="294.0" r="4.1"/><circle cx="377.8" cy="415.7" r="4.1"/><circle cx="620.4" cy="289.5" r="4.1"/><circle cx="490.8" cy="377.5" r="4.1"/><circle cx="530.3" cy="349.4" r="4.1"/><circle cx="434.5" cy="402.6" r="4.1"/><circle cx="241.9" cy="436.2" r="4.1"/></g>
<g fill="#000080" fill-opacity="0.5"><circle cx="184.5" cy="436.3" r="4.1"/><circle cx="186.6" cy="436.5" r="4.1"/><circle cx="188.2" cy="437.0" r="4.1"/><circle cx="190.7" cy="435.3" r="4.1"/><circle cx="191.7" cy="433.7" r="4.1"/><circle cx="194.0" cy="433.7" r="4.1"/><circle cx="195.0" cy="434.1" r="4.1"/><circle cx="196.7" cy="434.6" r="4.1"/><circle cx="199.4" cy="432.3" r="4.1"/><circle cx="199.8" cy="433.4" r="4.1"/><circle cx="202.7" cy="432.8" r="4.1"/><circle cx="204.3" cy="434.5" r="4.1"/><circle cx="205.7" cy="429.9" r="4.1"/><circle cx="206.7" cy="431.8" r="4.1"/><circle cx="209.5" cy="432.4" r="4.1"/><circle cx="210.7" cy="430.6" r="4.1"/><circle cx="211.4" cy="431.6" r="4.1"/><circle cx="213.5" cy="431.4" r="4.1"/><circle cx="215.9" cy="429.4" r="4.1"/><circle cx="217.5" cy="431.0" r="4.1"/><circle cx="219.3" cy="428.9" r="4.1"/><circle cx="220.7" cy="429.9" r="4.1"/><circle cx="221.9" cy="430.1" r="4.1"/><circle cx="224.2" cy="428.0" r="4.1"/><circle cx="225.6" cy="427.9" r="4.1"/><circle cx="227.1" cy="426.3" r="4.1"/><circle cx="228.5" cy="429.2" r="4.1"/><circle cx="230.2" cy="429.5" r="4.1"/><circle cx="231.8" cy="426.8" r="4.1"/><circle cx="234.6" cy="426.9" r="4.1"/><circle cx="236.0" cy="428.1" r="4.1"/><circle cx="237.2" cy="429.2" r="4.1"/><circle cx="239.4" cy="428.4" r="4.1"/><circle cx="240.9" cy="428.0" r="4.1"/><circle cx="242.6" cy="426.0" r="4.1"/><circle cx="244.7" cy="424.6" r="4.1"/><circle cx="246.7" cy="426.2" r="4.1"/><circle cx="248.7" cy="424.5" r="4.1"/><circle cx="249.0" cy="427.3" r="4.1"/><circle cx="251.3" cy="426.1" r="4.1"/><circle cx="253.8" cy="425.2" r="4.1"/><circle cx="254.5" cy="425.5" r="4.1"/><circle cx="256.7" cy="425.5" r="4.1"/><circle cx="258.3" cy="425.4" r="4.1"/><circle cx="259.4" cy="426.6" r="4.1"/><circle cx="262.0" cy="424.7" r="4.1"/><circle cx="263.5" cy="422.7" r="4.1"/><circle cx="265.6" cy="427.5" r="4.1"/><circle cx="267.2" cy="425.3" r="4.1"/><circle cx="268.1" cy="425.5" r="4.1"/><circle cx="270.4" cy="424.3" r="4.1"/><circle cx="271.6" cy="424.0" r="4.1"/><circle cx="274.0" cy="423.1" r="4.1"/><circle cx="275.5" cy="423.3" r="4.1"/><circle cx="277.6" cy="424.6" r="4.1"/><circle cx="277.8" cy="425.8" r="4.1"/><circle cx="280.5" cy="424.0" r="4.1"/><circle cx="282.6" cy="421.4" r="4.1"/><circle cx="284.1" cy="422.8" r="4.1"/><circle cx="285.6" cy="423.3" r="4.1"/><circle cx="287.2" cy="422.3" r="4.1"/><circle cx="288.8" cy="422.4" r="4.1"/><circle cx="291.2" cy="423.2" r="4.1"/><circle cx="292.8" cy="421.0" r="4.1"/><circle cx="294.4" cy="420.6" r="4.1"/><circle cx="295.6" cy="420.6" r="4.1"/><circle cx="297.7" cy="421.4" r="4.1"/><circle cx="298.3" cy="422.2" r="4.1"/><circle cx="301.2" cy="421.9" r="4.1"/><circle cx="302.1" cy="420.0" r="4.1"/><circle cx="304.5" cy="422.2" r="4.1"/><circle cx="306.0" cy="418.3" r="4.1"/><circle cx="308.0" cy="419.1" r="4.1"/><circle cx="309.1" cy="420.0" r="4.1"/><circle cx="310.9" cy="418.8" r="4.1"/><circle cx="311.7" cy="418.2" r="4.1"/><circle cx="315.0" cy="417.3" r="4.1"/><circle cx="315.6" cy="419.3" r="4.1"/><circle cx="316.8" cy="416.8" r="4.1"/><circle cx="320.0" cy="419.5" r="4.1"/><circle cx="320.9" cy="420.9" r="4.1"/><circle cx="322.4" cy="419.2" r="4.1"/><circle cx="325.1" cy="418.5" r="4.1"/><circle cx="325.5" cy="421.7" r="4.1"/><circle cx="327.9" cy="417.2" r="4.1"/><circle cx="330.1" cy="418.6" r="4.1"/><circle cx="331.5" cy="419.2" r="4.1"/><circle cx="332.3" cy="418.2" r="4.1"/><circle cx="334.5" cy="417.8" r="4.1"/><circle cx="337.1" cy="417.4" r="4.1"/><circle cx="337.7" cy="419.6" r="4.1"/><circle cx="339.7" cy="414.5" r="4.1"/><circle cx="342.0" cy="419.4" r="4.1"/><circle cx="342.9" cy="417.3" r="4.1"/><circle cx="344.9" cy="417.7" r="4.1"/><circle cx="346.6" cy="417.8" r="4.1"/><circle cx="348.9" cy="417.8" r="4.1"/><circle cx="349.1" cy="415.3" r="4.1"/><circle cx="352.1" cy="417.6" r="4.1"/><circle cx="352.5" cy="417.5" r="4.1"/><circle cx="354.7" cy="418.5" r="4.1"/><circle cx="356.2" cy="415.5" r="4.1"/><circle cx="359.1" cy="415.8" r="4.1"/><circle cx="359.3" cy="413.1" r="4.1"/><circle cx="362.4" cy="416.1" r="4.1"/><circle cx="364.0" cy="412.0" r="4.1"/><circle cx="365.6" cy="413.5" r="4.1"/><circle cx="366.1" cy="412.8" r="4.1"/><circle cx="368.9" cy="411.4" r="4.1"/><circle cx="370.5" cy="412.4" r="4.1"/><circle cx="371.9" cy="411.3" r="4.1"/><circle cx="373.7" cy="413.1" r="4.1"/><circle cx="375.7" cy="412.2" r="4.1"/><circle cx="376.8" cy="411.4" r="4.1"/><circle cx="379.1" cy="411.9" r="4.1"/><circle cx="380.5" cy="411.0" r="4.1"/><circle cx="382.3" cy="411.3" r="4.1"/><circle cx="384.0" cy="409.3" r="4.1"/><circle cx="386.0" cy="407.7" r="4.1"/><circle cx="387.3" cy="409.3" r="4.1"/><circle cx="388.2" cy="408.4" r="4.1"/><circle cx="390.2" cy="410.1" r="4.1"/><circle cx="393.1" cy="407.2" r="4.1"/><circle cx="394.3" cy="409.9" r="4.1"/><circle cx="395.6" cy="407.7" r="4.1"/><circle cx="398.3" cy="408.3" r="4.1"/><circle cx="399.9" cy="409.6" r="4.1"/><circle cx="400.8" cy="404.4" r="4.1"/><circle cx="401.9" cy="405.1" r="4.1"/><circle cx="404.5" cy="407.4" r="4.1"/><circle cx="406.2" cy="404.0" r="4.1"/><circle cx="407.0" cy="404.1" r="4.1"/><circle cx="409.8" cy="404.0" r="4.1"/><circle cx="410.3" cy="403.3" r="4.1"/><circle cx="412.2" cy="403.5" r="4.1"/><circle cx="413.9" cy="403.6" r="4.1"/><circle cx="416.0" cy="399.9" r="4.1"/><circle cx="417.4" cy="403.8" r="4.1"/><circle cx="418.9" cy="399.6" r="4.1"/><circle cx="422.0" cy="400.4" r="4.1"/><circle cx="423.5" cy="398.5" r="4.1"/><circle cx="425.2" cy="398.0" r="4.1"/><circle cx="427.0" cy="397.8" r="4.1"/><circle cx="428.5" cy="396.5" r="4.1"/><circle cx="430.2" cy="396.2" r="4.1"/><circle cx="431.1" cy="395.5" r="4.1"/><circle cx="433.0" cy="393.8" r="4.1"/><circle cx="435.0" cy="390.6" r="4.1"/><circle cx="436.6" cy="392.5" r="4.1"/><circle cx="437.7" cy="390.8" r="4.1"/><circle cx="440.3" cy="392.1" r="4.1"/><circle cx="441.6" cy="390.9" r="4.1"/><circle cx="442.8" cy="388.5" r="4.1"/><circle cx="445.7" cy="386.0" r="4.1"/><circle cx="446.5" cy="387.3" r="4.1"/><circle cx="449.3" cy="387.2" r="4.1"/><circle cx="450.3" cy="386.3" r="4.1"/><circle cx="452.6" cy="383.7" r="4.1"/><circle cx="454.4" cy="385.5" r="4.1"/><circle cx="456.1" cy="381.7" r="4.1"/><circle cx="457.1" cy="383.0" r="4.1"/><circle cx="458.6" cy="380.6" r="4.1"/><circle cx="459.7" cy="381.7" r="4.1"/><circle cx="462.0" cy="381.5" r="4.1"/><circle cx="463.6" cy="381.3" r="4.1"/><circle cx="466.2" cy="377.5" r="4.1"/><circle cx="467.8" cy="381.1" r="4.1"/><circle cx="468.1" cy="380.4" r="4.1"/><circle cx="470.8" cy="377.5" r="4.1"/><circle cx="471.6" cy="378.5" r="4.1"/><circle cx="473.9" cy="378.9" r="4.1"/><circle cx="475.0" cy="376.9" r="4.1"/><circle cx="478.2" cy="376.7" r="4.1"/><circle cx="478.3" cy="377.0" r="4.1"/><circle cx="480.2" cy="375.3" r="4.1"/><circle cx="483.0" cy="369.0" r="4.1"/><circle cx="483.4" cy="374.2" r="4.1"/><circle cx="485.7" cy="371.4" r="4.1"/><circle cx="487.2" cy="370.8" r="4.1"/><circle cx="488.8" cy="369.1" r="4.1"/><circle cx="490.7" cy="368.5" r="4.1"/><circle cx="492.5" cy="365.8" r="4.1"/><circle cx="494.6" cy="364.0" r="4.1"/><circle cx="496.0" cy="360.8" r="4.1"/><circle cx="497.2" cy="361.4" r="4.1"/><circle cx="500.1" cy="356.2" r="4.1"/><circle cx="501.8" cy="360.4" r="4.1"/><circle cx="503.0" cy="355.0" r="4.1"/><circle cx="504.7" cy="354.2" r="4.1"/><circle cx="506.5" cy="353.1" r="4.1"/><circle cx="508.7" cy="352.0" r="4.1"/><circle cx="510.2" cy="353.2" r="4.1"/><circle cx="511.3" cy="350.2" r="4.1"/><circle cx="513.8" cy="349.4" r="4.1"/><circle cx="514.0" cy="350.6" r="4.1"/><circle cx="517.1" cy="349.6" r="4.1"/><circle cx="517.4" cy="346.5" r="4.1"/><circle cx="519.3" cy="348.2" r="4.1"/><circle cx="521.1" cy="344.7" r="4.1"/><circle cx="523.9" cy="346.7" r="4.1"/><circle cx="524.9" cy="344.9" r="4.1"/><circle cx="526.5" cy="341.0" r="4.1"/><circle cx="528.1" cy="339.0" r="4.1"/><circle cx="529.5" cy="339.2" r="4.1"/><circle cx="531.1" cy="338.1" r="4.1"/><circle cx="533.2" cy="337.9" r="4.1"/><circle cx="536.0" cy="338.5" r="4.1"/><circle cx="537.4" cy="339.4" r="4.1"/><circle cx="538.5" cy="337.4" r="4.1"/><circle cx="539.9" cy="337.9" r="4.1"/><circle cx="542.3" cy="340.2" r="4.1"/><circle cx="543.1" cy="338.2" r="4.1"/><circle cx="545.8" cy="339.3" r="4.1"/><circle cx="547.0" cy="336.9" r="4.1"/><circle cx="548.4" cy="337.5" r="4.1"/><circle cx="550.9" cy="337.1" r="4.1"/><circle cx="552.7" cy="332.9" r="4.1"/><circle cx="553.1" cy="335.9" r="4.1"/><circle cx="555.5" cy="336.8" r="4.1"/><circle cx="556.6" cy="335.2" r="4.1"/><circle cx="559.5" cy="335.3" r="4.1"/><circle cx="560.5" cy="334.9" r="4.1"/><circle cx="563.1" cy="335.4" r="4.1"/><circle cx="564.9" cy="332.1" r="4.1"/><circle cx="565.9" cy="326.8" r="4.1"/><circle cx="567.2" cy="326.5" r="4.1"/><circle cx="568.6" cy="325.6" r="4.1"/><circle cx="571.1" cy="322.1" r="4.1"/><circle cx="572.2" cy="321.7" r="4.1"/><circle cx="574.5" cy="318.7" r="4.1"/><circle cx="575.7" cy="316.0" r="4.1"/><circle cx="577.1" cy="312.4" r="4.1"/><circle cx="579.8" cy="309.9" r="4.1"/><circle cx="581.2" cy="310.7" r="4.1"/><circle cx="582.5" cy="305.4" r="4.1"/><circle cx="584.6" cy="305.2" r="4.1"/><circle cx="586.3" cy="307.2" r="4.1"/><circle cx="588.5" cy="302.6" r="4.1"/><circle cx="589.7" cy="303.5" r="4.1"/><circle cx="591.9" cy="298.9" r="4.1"/><circle cx="593.8" cy="300.9" r="4.1"/><circle cx="594.9" cy="298.0" r="4.1"/><circle cx="597.1" cy="297.1" r="4.1"/><circle cx="598.5" cy="298.1" r="4.1"/><circle cx="600.6" cy="295.3" r="4.1"/><circle cx="601.2" cy="294.5" r="4.1"/><circle cx="603.9" cy="291.3" r="4.1"/><circle cx="605.5" cy="292.1" r="4.1"/><circle cx="606.7" cy="291.4" r="4.1"/><circle cx="607.5" cy="291.1" r="4.1"/><circle cx="610.7" cy="292.0" r="4.1"/><circle cx="611.5" cy="294.5" r="4.1"/><circle cx="613.1" cy="292.7" r="4.1"/><circle cx="615.7" cy="291.7" r="4.1"/><circle cx="616.0" cy="289.5" r="4.1"/><circle cx="618.5" cy="288.5" r="4.1"/><circle cx="620.0" cy="290.6" r="4.1"/><circle cx="621.5" cy="290.4" r="4.1"/><circle cx="623.1" cy="285.4" r="4.1"/><circle cx="624.5" cy="283.7" r="4.1"/><circle cx="627.3" cy="278.6" r="4.1"/><circle cx="629.5" cy="279.5" r="4.1"/><circle cx="630.7" cy="279.0" r="4.1"/><circle cx="631.3" cy="276.6" r="4.1"/><circle cx="633.1" cy="275.6" r="4.1"/><circle cx="635.5" cy="278.1" r="4.1"/><circle cx="637.9" cy="273.1" r="4.1"/><circle cx="638.6" cy="272.0" r="4.1"/><circle cx="640.7" cy="273.0" r="4.1"/><circle cx="642.3" cy="274.2" r="4.1"/><circle cx="643.4" cy="274.0" r="4.1"/><circle cx="646.1" cy="272.1" r="4.1"/><circle cx="646.8" cy="272.4" r="4.1"/><circle cx="649.0" cy="268.1" r="4.1"/><circle cx="651.4" cy="270.5" r="4.1"/><circle cx="651.7" cy="269.6" r="4.1"/><circle cx="654.8" cy="271.0" r="4.1"/><circle cx="184.6" cy="445.0" r="4.1"/><circle cx="186.3" cy="445.5" r="4.1"/><circle cx="188.5" cy="443.9" r="4.1"/><circle cx="190.7" cy="445.1" r="4.1"/><circle cx="193.6" cy="445.1" r="4.1"/><circle cx="196.0" cy="446.8" r="4.1"/><circle cx="199.2" cy="443.3" r="4.1"/><circle cx="201.5" cy="445.3" r="4.1"/><circle cx="202.6" cy="444.3" r="4.1"/><circle cx="205.1" cy="443.4" r="4.1"/><circle cx="208.0" cy="443.2" r="4.1"/><circle cx="210.0" cy="442.0" r="4.1"/><circle cx="212.3" cy="443.0" r="4.1"/><circle cx="214.2" cy="443.1" r="4.1"/><circle cx="215.8" cy="441.3" r="4.1"/><circle cx="217.0" cy="440.2" r="4.1"/><circle cx="219.4" cy="442.8" r="4.1"/><circle cx="221.4" cy="441.3" r="4.1"/><circle cx="224.3" cy="441.5" r="4.1"/><circle cx="227.7" cy="439.6" r="4.1"/><circle cx="228.7" cy="441.2" r="4.1"/><circle cx="230.3" cy="439.9" r="4.1"/><circle cx="233.1" cy="439.4" r="4.1"/><circle cx="235.3" cy="441.1" r="4.1"/><circle cx="237.7" cy="439.5" r="4.1"/><circle cx="239.1" cy="440.1" r="4.1"/><circle cx="241.9" cy="441.2" r="4.1"/><circle cx="243.9" cy="441.0" r="4.1"/><circle cx="247.3" cy="440.1" r="4.1"/><circle cx="248.2" cy="439.5" r="4.1"/><circle cx="251.8" cy="441.4" r="4.1"/><circle cx="253.8" cy="439.9" r="4.1"/><circle cx="254.5" cy="440.6" r="4.1"/><circle cx="257.4" cy="439.0" r="4.1"/><circle cx="259.1" cy="438.9" r="4.1"/><circle cx="262.3" cy="437.3" r="4.1"/><circle cx="263.8" cy="438.3" r="4.1"/><circle cx="267.4" cy="439.9" r="4.1"/><circle cx="269.1" cy="439.2" r="4.1"/><circle cx="271.8" cy="439.9" r="4.1"/><circle cx="273.6" cy="437.1" r="4.1"/><circle cx="276.3" cy="438.2" r="4.1"/><circle cx="276.8" cy="436.5" r="4.1"/><circle cx="279.5" cy="435.5" r="4.1"/><circle cx="281.9" cy="439.7" r="4.1"/><circle cx="283.7" cy="438.7" r="4.1"/><circle cx="285.1" cy="438.4" r="4.1"/><circle cx="287.7" cy="438.9" r="4.1"/><circle cx="290.6" cy="438.9" r="4.1"/><circle cx="292.0" cy="438.0" r="4.1"/><circle cx="294.5" cy="440.2" r="4.1"/><circle cx="296.5" cy="439.6" r="4.1"/><circle cx="300.0" cy="440.2" r="4.1"/><circle cx="300.7" cy="435.7" r="4.1"/><circle cx="302.8" cy="437.6" r="4.1"/><circle cx="304.9" cy="438.8" r="4.1"/><circle cx="308.6" cy="438.5" r="4.1"/><circle cx="309.7" cy="438.7" r="4.1"/><circle cx="313.4" cy="436.5" r="4.1"/><circle cx="315.1" cy="437.2" r="4.1"/><circle cx="317.6" cy="437.9" r="4.1"/><circle cx="319.9" cy="436.5" r="4.1"/><circle cx="321.9" cy="436.6" r="4.1"/><circle cx="323.6" cy="434.7" r="4.1"/><circle cx="325.5" cy="435.9" r="4.1"/><circle cx="328.5" cy="436.7" r="4.1"/><circle cx="330.5" cy="435.7" r="4.1"/><circle cx="332.4" cy="435.3" r="4.1"/><circle cx="333.8" cy="433.5" r="4.1"/><circle cx="336.5" cy="434.3" r="4.1"/><circle cx="338.3" cy="433.1" r="4.1"/><circle cx="340.8" cy="433.1" r="4.1"/><circle cx="342.5" cy="432.7" r="4.1"/><circle cx="344.9" cy="434.9" r="4.1"/><circle cx="347.8" cy="432.7" r="4.1"/><circle cx="349.0" cy="433.3" r="4.1"/><circle cx="352.8" cy="431.3" r="4.1"/><circle cx="354.5" cy="431.5" r="4.1"/><circle cx="356.5" cy="431.0" r="4.1"/><circle cx="359.2" cy="428.1" r="4.1"/><circle cx="361.6" cy="431.4" r="4.1"/><circle cx="362.2" cy="430.4" r="4.1"/><circle cx="366.2" cy="431.1" r="4.1"/><circle cx="367.9" cy="429.2" r="4.1"/><circle cx="369.9" cy="428.6" r="4.1"/><circle cx="370.9" cy="427.7" r="4.1"/><circle cx="373.9" cy="428.5" r="4.1"/><circle cx="376.1" cy="425.5" r="4.1"/><circle cx="377.9" cy="428.5" r="4.1"/><circle cx="380.4" cy="424.5" r="4.1"/><circle cx="383.4" cy="426.4" r="4.1"/><circle cx="384.4" cy="425.8" r="4.1"/><circle cx="386.7" cy="425.2" r="4.1"/><circle cx="390.4" cy="425.3" r="4.1"/><circle cx="391.6" cy="423.4" r="4.1"/><circle cx="393.6" cy="423.0" r="4.1"/><circle cx="395.5" cy="420.6" r="4.1"/><circle cx="399.5" cy="422.4" r="4.1"/><circle cx="401.1" cy="421.4" r="4.1"/><circle cx="402.4" cy="419.6" r="4.1"/><circle cx="404.2" cy="417.5" r="4.1"/><circle cx="407.5" cy="418.5" r="4.1"/><circle cx="410.4" cy="416.6" r="4.1"/><circle cx="411.2" cy="416.8" r="4.1"/><circle cx="413.2" cy="415.4" r="4.1"/><circle cx="414.9" cy="414.2" r="4.1"/><circle cx="418.3" cy="414.1" r="4.1"/><circle cx="421.0" cy="412.0" r="4.1"/><circle cx="422.8" cy="410.6" r="4.1"/><circle cx="424.8" cy="411.5" r="4.1"/><circle cx="427.4" cy="410.5" r="4.1"/><circle cx="428.5" cy="409.6" r="4.1"/><circle cx="430.7" cy="408.7" r="4.1"/><circle cx="433.3" cy="408.0" r="4.1"/><circle cx="435.5" cy="406.9" r="4.1"/><circle cx="437.0" cy="406.1" r="4.1"/><circle cx="440.0" cy="403.9" r="4.1"/><circle cx="441.9" cy="405.7" r="4.1"/><circle cx="445.3" cy="404.0" r="4.1"/><circle cx="446.7" cy="403.3" r="4.1"/><circle cx="449.5" cy="400.3" r="4.1"/><circle cx="450.3" cy="403.5" r="4.1"/><circle cx="453.2" cy="402.6" r="4.1"/><circle cx="455.6" cy="401.3" r="4.1"/><circle cx="458.2" cy="397.8" r="4.1"/><circle cx="459.0" cy="396.1" r="4.1"/><circle cx="463.2" cy="395.3" r="4.1"/><circle cx="464.2" cy="397.7" r="4.1"/><circle cx="465.8" cy="396.5" r="4.1"/><circle cx="468.0" cy="395.5" r="4.1"/><circle cx="471.7" cy="395.8" r="4.1"/><circle cx="472.2" cy="396.1" r="4.1"/><circle cx="476.4" cy="396.3" r="4.1"/><circle cx="478.1" cy="393.8" r="4.1"/><circle cx="480.1" cy="397.3" r="4.1"/><circle cx="482.3" cy="393.8" r="4.1"/><circle cx="484.7" cy="392.2" r="4.1"/><circle cx="487.4" cy="392.2" r="4.1"/><circle cx="489.5" cy="390.0" r="4.1"/><circle cx="491.0" cy="387.7" r="4.1"/><circle cx="493.9" cy="385.2" r="4.1"/><circle cx="494.3" cy="385.8" r="4.1"/><circle cx="496.4" cy="385.1" r="4.1"/><circle cx="499.5" cy="385.4" r="4.1"/><circle cx="502.8" cy="382.0" r="4.1"/><circle cx="503.8" cy="382.4" r="4.1"/><circle cx="507.1" cy="378.9" r="4.1"/><circle cx="508.6" cy="376.5" r="4.1"/><circle cx="510.4" cy="375.8" r="4.1"/><circle cx="512.2" cy="374.9" r="4.1"/><circle cx="515.3" cy="372.7" r="4.1"/><circle cx="518.3" cy="368.4" r="4.1"/><circle cx="519.2" cy="370.7" r="4.1"/><circle cx="521.6" cy="366.9" r="4.1"/><circle cx="523.6" cy="365.7" r="4.1"/><circle cx="527.0" cy="362.6" r="4.1"/><circle cx="528.7" cy="361.3" r="4.1"/><circle cx="529.5" cy="361.4" r="4.1"/><circle cx="531.6" cy="360.1" r="4.1"/><circle cx="534.8" cy="358.6" r="4.1"/><circle cx="537.3" cy="356.9" r="4.1"/><circle cx="538.9" cy="353.8" r="4.1"/><circle cx="541.3" cy="354.4" r="4.1"/><circle cx="543.1" cy="352.7" r="4.1"/><circle cx="545.5" cy="350.6" r="4.1"/><circle cx="547.3" cy="348.2" r="4.1"/><circle cx="550.4" cy="349.6" r="4.1"/><circle cx="551.4" cy="345.8" r="4.1"/><circle cx="554.0" cy="347.0" r="4.1"/><circle cx="556.4" cy="345.9" r="4.1"/><circle cx="558.4" cy="343.1" r="4.1"/><circle cx="560.2" cy="342.2" r="4.1"/><circle cx="562.3" cy="341.6" r="4.1"/><circle cx="563.4" cy="342.0" r="4.1"/><circle cx="565.2" cy="338.0" r="4.1"/><circle cx="568.7" cy="336.3" r="4.1"/><circle cx="569.3" cy="335.3" r="4.1"/><circle cx="572.7" cy="337.0" r="4.1"/><circle cx="573.5" cy="335.4" r="4.1"/><circle cx="575.5" cy="335.2" r="4.1"/><circle cx="578.0" cy="335.3" r="4.1"/><circle cx="581.0" cy="335.7" r="4.1"/><circle cx="582.8" cy="336.1" r="4.1"/><circle cx="584.7" cy="332.7" r="4.1"/><circle cx="586.7" cy="333.7" r="4.1"/><circle cx="587.0" cy="332.1" r="4.1"/><circle cx="589.7" cy="332.8" r="4.1"/><circle cx="591.7" cy="332.2" r="4.1"/><circle cx="593.4" cy="332.8" r="4.1"/><circle cx="596.6" cy="329.3" r="4.1"/><circle cx="598.5" cy="332.3" r="4.1"/><circle cx="599.7" cy="328.9" r="4.1"/><circle cx="602.1" cy="330.4" r="4.1"/><circle cx="603.3" cy="327.7" r="4.1"/><circle cx="606.3" cy="325.5" r="4.1"/><circle cx="608.4" cy="325.2" r="4.1"/><circle cx="610.8" cy="323.7" r="4.1"/><circle cx="612.5" cy="322.5" r="4.1"/><circle cx="614.8" cy="321.1" r="4.1"/><circle cx="616.1" cy="320.6" r="4.1"/><circle cx="617.8" cy="321.1" r="4.1"/><circle cx="620.3" cy="317.7" r="4.1"/><circle cx="622.0" cy="315.4" r="4.1"/><circle cx="624.6" cy="313.6" r="4.1"/><circle cx="626.9" cy="313.5" r="4.1"/><circle cx="628.1" cy="309.9" r="4.1"/><circle cx="630.8" cy="310.5" r="4.1"/><circle cx="631.6" cy="311.0" r="4.1"/><circle cx="633.9" cy="308.5" r="4.1"/><circle cx="636.6" cy="305.9" r="4.1"/><circle cx="638.0" cy="301.1" r="4.1"/><circle cx="640.2" cy="297.1" r="4.1"/><circle cx="641.7" cy="296.9" r="4.1"/><circle cx="643.7" cy="292.5" r="4.1"/><circle cx="646.0" cy="289.4" r="4.1"/><circle cx="648.4" cy="290.2" r="4.1"/><circle cx="650.9" cy="283.7" r="4.1"/><circle cx="652.1" cy="283.5" r="4.1"/><circle cx="654.7" cy="277.4" r="4.1"/></g>
<g fill="#000080" fill-opacity="0.5"><circle cx="605.5" cy="280.9" r="4.1"/><circle cx="617.6" cy="281.4" r="4.1"/><circle cx="619.2" cy="283.2" r="4.1"/><circle cx="605.6" cy="285.6" r="4.1"/></g>
<g fill="#27874A" fill-opacity="0.7"><circle cx="386.8" cy="408.7" r="4.1"/><circle cx="387.9" cy="408.5" r="4.1"/><circle cx="389.0" cy="408.9" r="4.1"/><circle cx="389.7" cy="408.8" r="4.1"/><circle cx="390.8" cy="408.7" r="4.1"/><circle cx="391.6" cy="408.6" r="4.1"/><circle cx="392.2" cy="408.8" r="4.1"/><circle cx="393.3" cy="408.6" r="4.1"/><circle cx="394.0" cy="408.4" r="4.1"/><circle cx="395.3" cy="408.8" r="4.1"/><circle cx="395.8" cy="408.3" r="4.1"/><circle cx="396.7" cy="408.5" r="4.1"/><circle cx="398.0" cy="409.1" r="4.1"/><circle cx="398.9" cy="408.3" r="4.1"/><circle cx="399.4" cy="408.6" r="4.1"/><circle cx="400.4" cy="408.7" r="4.1"/><circle cx="401.5" cy="408.4" r="4.1"/><circle cx="402.4" cy="408.7" r="4.1"/><circle cx="403.1" cy="409.3" r="4.1"/><circle cx="403.9" cy="409.3" r="4.1"/><circle cx="404.8" cy="408.6" r="4.1"/><circle cx="406.1" cy="408.8" r="4.1"/><circle cx="407.0" cy="408.3" r="4.1"/><circle cx="407.5" cy="409.1" r="4.1"/><circle cx="408.8" cy="408.6" r="4.1"/><circle cx="409.6" cy="408.4" r="4.1"/><circle cx="410.2" cy="409.0" r="4.1"/><circle cx="411.4" cy="408.6" r="4.1"/><circle cx="412.2" cy="408.3" r="4.1"/><circle cx="412.9" cy="408.4" r="4.1"/><circle cx="413.8" cy="408.7" r="4.1"/><circle cx="414.8" cy="409.2" r="4.1"/><circle cx="415.6" cy="408.9" r="4.1"/><circle cx="416.5" cy="408.7" r="4.1"/><circle cx="417.6" cy="408.6" r="4.1"/><circle cx="418.3" cy="409.0" r="4.1"/><circle cx="419.2" cy="408.2" r="4.1"/><circle cx="420.3" cy="408.5" r="4.1"/><circle cx="421.0" cy="408.2" r="4.1"/><circle cx="422.3" cy="408.8" r="4.1"/><circle cx="423.1" cy="408.3" r="4.1"/><circle cx="423.7" cy="408.3" r="4.1"/><circle cx="424.6" cy="408.0" r="4.1"/><circle cx="425.6" cy="408.8" r="4.1"/><circle cx="426.7" cy="408.4" r="4.1"/><circle cx="427.6" cy="408.2" r="4.1"/><circle cx="428.5" cy="408.0" r="4.1"/><circle cx="429.2" cy="408.2" r="4.1"/><circle cx="430.1" cy="408.8" r="4.1"/><circle cx="431.1" cy="408.5" r="4.1"/><circle cx="432.2" cy="408.4" r="4.1"/><circle cx="432.9" cy="408.5" r="4.1"/><circle cx="433.8" cy="408.6" r="4.1"/></g>
<g fill="#CD0000" fill-opacity="0.5"><circle cx="101.9" cy="457.3" r="4.1"/></g>
<g fill="#CD0000" fill-opacity="0.5"><circle cx="127.0" cy="453.3" r="4.1"/><circle cx="128.8" cy="452.4" r="4.1"/><circle cx="131.2" cy="451.9" r="4.1"/><circle cx="136.0" cy="451.2" r="4.1"/><circle cx="138.9" cy="450.7" r="4.1"/><circle cx="145.5" cy="449.6" r="4.1"/><circle cx="148.0" cy="449.2" r="4.1"/><circle cx="150.5" cy="448.9" r="4.1"/><circle cx="153.0" cy="448.4" r="4.1"/><circle cx="155.2" cy="447.5" r="4.1"/><circle cx="155.9" cy="447.9" r="4.1"/><circle cx="157.0" cy="447.3" r="4.1"/><circle cx="158.5" cy="446.7" r="4.1"/><circle cx="159.4" cy="446.9" r="4.1"/><circle cx="160.7" cy="446.1" r="4.1"/><circle cx="161.5" cy="446.7" r="4.1"/><circle cx="162.5" cy="445.7" r="4.1"/><circle cx="163.6" cy="446.7" r="4.1"/><circle cx="164.9" cy="446.2" r="4.1"/><circle cx="166.2" cy="446.3" r="4.1"/><circle cx="166.9" cy="445.6" r="4.1"/><circle cx="168.3" cy="445.7" r="4.1"/><circle cx="169.2" cy="445.9" r="4.1"/><circle cx="170.5" cy="444.2" r="4.1"/><circle cx="171.4" cy="443.7" r="4.1"/></g>
<g fill="#CD3AA0" fill-opacity="0.6"><circle cx="175.0" cy="442.1" r="4.1"/><circle cx="175.5" cy="442.9" r="4.1"/><circle cx="176.2" cy="442.8" r="4.1"/><circle cx="176.6" cy="443.7" r="4.1"/><circle cx="177.1" cy="442.5" r="4.1"/><circle cx="177.9" cy="441.8" r="4.1"/><circle cx="178.2" cy="442.7" r="4.1"/><circle cx="178.8" cy="443.4" r="4.1"/><circle cx="179.6" cy="443.2" r="4.1"/><circle cx="179.8" cy="441.4" r="4.1"/><circle cx="180.5" cy="440.8" r="4.1"/><circle cx="181.2" cy="442.6" r="4.1"/><circle cx="181.7" cy="440.7" r="4.1"/><circle cx="182.3" cy="443.0" r="4.1"/><circle cx="182.8" cy="442.3" r="4.1"/><circle cx="183.1" cy="440.6" r="4.1"/><circle cx="183.6" cy="441.1" r="4.1"/><circle cx="184.3" cy="440.8" r="4.1"/><circle cx="184.7" cy="441.1" r="4.1"/><circle cx="185.5" cy="440.1" r="4.1"/><circle cx="186.2" cy="440.5" r="4.1"/><circle cx="186.7" cy="441.4" r="4.1"/><circle cx="186.9" cy="441.7" r="4.1"/><circle cx="187.8" cy="442.0" r="4.1"/><circle cx="188.1" cy="441.7" r="4.1"/><circle cx="188.9" cy="441.3" r="4.1"/><circle cx="189.1" cy="440.8" r="4.1"/><circle cx="190.1" cy="440.5" r="4.1"/><circle cx="190.2" cy="439.5" r="4.1"/><circle cx="190.9" cy="440.6" r="4.1"/><circle cx="191.7" cy="439.9" r="4.1"/><circle cx="191.8" cy="440.0" r="4.1"/><circle cx="192.8" cy="440.9" r="4.1"/><circle cx="193.2" cy="439.7" r="4.1"/><circle cx="193.8" cy="439.3" r="4.1"/><circle cx="194.2" cy="440.6" r="4.1"/><circle cx="194.8" cy="439.8" r="4.1"/><circle cx="195.2" cy="440.4" r="4.1"/><circle cx="195.9" cy="439.8" r="4.1"/><circle cx="196.2" cy="440.1" r="4.1"/><circle cx="197.1" cy="439.7" r="4.1"/><circle cx="197.5" cy="440.3" r="4.1"/><circle cx="197.9" cy="439.2" r="4.1"/><circle cx="198.4" cy="438.8" r="4.1"/><circle cx="199.2" cy="439.0" r="4.1"/><circle cx="199.6" cy="439.7" r="4.1"/><circle cx="200.4" cy="439.7" r="4.1"/><circle cx="200.9" cy="437.7" r="4.1"/><circle cx="201.2" cy="439.5" r="4.1"/><circle cx="202.0" cy="438.1" r="4.1"/><circle cx="202.3" cy="438.2" r="4.1"/><circle cx="203.3" cy="438.9" r="4.1"/><circle cx="203.6" cy="438.3" r="4.1"/><circle cx="204.1" cy="438.6" r="4.1"/><circle cx="204.8" cy="439.5" r="4.1"/><circle cx="205.1" cy="438.2" r="4.1"/><circle cx="205.6" cy="438.9" r="4.1"/><circle cx="206.4" cy="438.4" r="4.1"/><circle cx="206.8" cy="438.8" r="4.1"/><circle cx="207.6" cy="438.6" r="4.1"/><circle cx="207.9" cy="437.7" r="4.1"/><circle cx="208.4" cy="439.1" r="4.1"/><circle cx="208.9" cy="437.6" r="4.1"/><circle cx="209.6" cy="438.2" r="4.1"/><circle cx="210.4" cy="436.6" r="4.1"/><circle cx="210.7" cy="438.1" r="4.1"/><circle cx="211.5" cy="437.4" r="4.1"/><circle cx="211.9" cy="437.0" r="4.1"/><circle cx="212.5" cy="438.6" r="4.1"/><circle cx="212.9" cy="436.4" r="4.1"/><circle cx="213.3" cy="437.9" r="4.1"/><circle cx="214.0" cy="437.5" r="4.1"/><circle cx="214.6" cy="437.5" r="4.1"/><circle cx="215.4" cy="437.2" r="4.1"/><circle cx="215.6" cy="436.7" r="4.1"/><circle cx="216.0" cy="437.5" r="4.1"/><circle cx="216.6" cy="437.7" r="4.1"/><circle cx="217.5" cy="438.2" r="4.1"/><circle cx="217.9" cy="436.1" r="4.1"/><circle cx="218.6" cy="438.2" r="4.1"/><circle cx="218.9" cy="436.8" r="4.1"/><circle cx="219.3" cy="438.7" r="4.1"/><circle cx="220.2" cy="437.9" r="4.1"/><circle cx="220.4" cy="438.1" r="4.1"/><circle cx="221.4" cy="438.3" r="4.1"/><circle cx="222.0" cy="437.7" r="4.1"/><circle cx="222.3" cy="438.2" r="4.1"/><circle cx="222.8" cy="437.4" r="4.1"/><circle cx="223.3" cy="438.2" r="4.1"/><circle cx="224.0" cy="437.3" r="4.1"/><circle cx="224.5" cy="437.6" r="4.1"/><circle cx="224.9" cy="437.4" r="4.1"/><circle cx="225.7" cy="436.7" r="4.1"/><circle cx="226.3" cy="437.6" r="4.1"/><circle cx="226.9" cy="437.4" r="4.1"/><circle cx="227.0" cy="436.6" r="4.1"/><circle cx="227.9" cy="437.6" r="4.1"/><circle cx="228.4" cy="437.9" r="4.1"/><circle cx="228.8" cy="436.3" r="4.1"/><circle cx="229.4" cy="437.2" r="4.1"/><circle cx="230.1" cy="437.1" r="4.1"/><circle cx="230.7" cy="436.6" r="4.1"/><circle cx="231.0" cy="437.5" r="4.1"/><circle cx="231.6" cy="436.8" r="4.1"/><circle cx="232.2" cy="436.5" r="4.1"/><circle cx="232.9" cy="436.8" r="4.1"/><circle cx="233.1" cy="437.7" r="4.1"/><circle cx="233.6" cy="437.1" r="4.1"/><circle cx="234.4" cy="437.3" r="4.1"/><circle cx="235.0" cy="436.4" r="4.1"/><circle cx="235.7" cy="437.3" r="4.1"/><circle cx="236.2" cy="437.5" r="4.1"/><circle cx="236.4" cy="437.9" r="4.1"/><circle cx="237.3" cy="436.9" r="4.1"/><circle cx="237.7" cy="437.8" r="4.1"/><circle cx="238.3" cy="439.1" r="4.1"/><circle cx="238.6" cy="437.5" r="4.1"/><circle cx="239.4" cy="437.2" r="4.1"/><circle cx="239.7" cy="437.8" r="4.1"/><circle cx="240.6" cy="437.3" r="4.1"/><circle cx="240.9" cy="437.3" r="4.1"/><circle cx="241.7" cy="435.6" r="4.1"/><circle cx="242.0" cy="438.0" r="4.1"/><circle cx="242.8" cy="435.9" r="4.1"/><circle cx="243.3" cy="437.0" r="4.1"/><circle cx="243.6" cy="437.6" r="4.1"/><circle cx="244.3" cy="436.8" r="4.1"/><circle cx="244.7" cy="437.9" r="4.1"/><circle cx="245.6" cy="438.1" r="4.1"/><circle cx="246.0" cy="438.0" r="4.1"/><circle cx="246.6" cy="438.0" r="4.1"/><circle cx="246.9" cy="438.1" r="4.1"/><circle cx="247.8" cy="436.8" r="4.1"/><circle cx="248.1" cy="437.0" r="4.1"/><circle cx="248.8" cy="436.9" r="4.1"/><circle cx="249.1" cy="436.8" r="4.1"/><circle cx="249.8" cy="436.0" r="4.1"/><circle cx="250.2" cy="436.1" r="4.1"/><circle cx="251.1" cy="435.1" r="4.1"/><circle cx="251.7" cy="436.8" r="4.1"/><circle cx="252.0" cy="436.6" r="4.1"/><circle cx="252.7" cy="437.2" r="4.1"/><circle cx="253.0" cy="435.5" r="4.1"/><circle cx="253.7" cy="436.7" r="4.1"/><circle cx="254.1" cy="436.5" r="4.1"/><circle cx="254.8" cy="437.3" r="4.1"/><circle cx="255.1" cy="435.2" r="4.1"/><circle cx="255.7" cy="434.5" r="4.1"/><circle cx="256.6" cy="436.8" r="4.1"/><circle cx="257.1" cy="436.0" r="4.1"/><circle cx="257.3" cy="436.9" r="4.1"/><circle cx="258.1" cy="436.4" r="4.1"/><circle cx="258.4" cy="437.0" r="4.1"/><circle cx="259.0" cy="436.1" r="4.1"/><circle cx="259.9" cy="437.0" r="4.1"/><circle cx="260.0" cy="437.2" r="4.1"/><circle cx="260.6" cy="437.0" r="4.1"/><circle cx="261.2" cy="435.8" r="4.1"/><circle cx="261.7" cy="437.8" r="4.1"/><circle cx="262.3" cy="436.1" r="4.1"/><circle cx="262.8" cy="436.8" r="4.1"/><circle cx="263.5" cy="438.1" r="4.1"/><circle cx="264.2" cy="435.7" r="4.1"/><circle cx="264.6" cy="436.4" r="4.1"/><circle cx="265.0" cy="437.3" r="4.1"/><circle cx="265.5" cy="436.3" r="4.1"/><circle cx="266.3" cy="436.0" r="4.1"/><circle cx="266.6" cy="435.1" r="4.1"/><circle cx="267.2" cy="435.5" r="4.1"/><circle cx="267.9" cy="437.5" r="4.1"/><circle cx="268.5" cy="437.4" r="4.1"/><circle cx="269.1" cy="437.3" r="4.1"/><circle cx="269.5" cy="436.7" r="4.1"/><circle cx="270.0" cy="436.0" r="4.1"/><circle cx="270.8" cy="436.6" r="4.1"/><circle cx="271.4" cy="436.3" r="4.1"/><circle cx="271.6" cy="436.3" r="4.1"/><circle cx="272.1" cy="436.7" r="4.1"/><circle cx="272.8" cy="436.5" r="4.1"/><circle cx="273.3" cy="437.1" r="4.1"/><circle cx="273.8" cy="435.7" r="4.1"/><circle cx="274.7" cy="435.9" r="4.1"/><circle cx="275.2" cy="436.5" r="4.1"/><circle cx="275.6" cy="436.3" r="4.1"/><circle cx="276.3" cy="436.2" r="4.1"/><circle cx="276.8" cy="437.1" r="4.1"/><circle cx="277.2" cy="436.9" r="4.1"/><circle cx="278.1" cy="436.5" r="4.1"/><circle cx="278.5" cy="437.5" r="4.1"/><circle cx="279.1" cy="436.1" r="4.1"/><circle cx="279.7" cy="436.6" r="4.1"/><circle cx="280.1" cy="436.4" r="4.1"/><circle cx="280.5" cy="436.4" r="4.1"/><circle cx="280.9" cy="435.4" r="4.1"/><circle cx="281.6" cy="436.6" r="4.1"/><circle cx="282.1" cy="435.8" r="4.1"/><circle cx="282.7" cy="435.8" r="4.1"/><circle cx="283.5" cy="434.9" r="4.1"/><circle cx="283.7" cy="436.9" r="4.1"/><circle cx="284.6" cy="435.8" r="4.1"/><circle cx="285.0" cy="436.0" r="4.1"/><circle cx="285.5" cy="437.3" r="4.1"/><circle cx="286.0" cy="435.8" r="4.1"/><circle cx="286.5" cy="435.2" r="4.1"/><circle cx="287.2" cy="436.5" r="4.1"/><circle cx="287.8" cy="436.2" r="4.1"/><circle cx="288.5" cy="436.2" r="4.1"/><circle cx="289.1" cy="435.6" r="4.1"/><circle cx="289.4" cy="436.3" r="4.1"/><circle cx="289.8" cy="436.3" r="4.1"/><circle cx="290.5" cy="435.7" r="4.1"/><circle cx="291.3" cy="435.5" r="4.1"/><circle cx="291.8" cy="435.7" r="4.1"/><circle cx="292.3" cy="436.2" r="4.1"/><circle cx="292.6" cy="435.1" r="4.1"/><circle cx="293.3" cy="436.1" r="4.1"/><circle cx="293.7" cy="435.3" r="4.1"/><circle cx="294.3" cy="436.8" r="4.1"/><circle cx="295.0" cy="436.7" r="4.1"/><circle cx="295.6" cy="435.4" r="4.1"/><circle cx="295.8" cy="436.5" r="4.1"/><circle cx="296.4" cy="435.1" r="4.1"/><circle cx="297.3" cy="435.8" r="4.1"/><circle cx="297.9" cy="434.2" r="4.1"/><circle cx="298.0" cy="434.5" r="4.1"/><circle cx="298.8" cy="436.4" r="4.1"/><circle cx="299.1" cy="436.4" r="4.1"/><circle cx="299.6" cy="435.2" r="4.1"/><circle cx="300.3" cy="435.0" r="4.1"/><circle cx="301.1" cy="435.3" r="4.1"/><circle cx="301.6" cy="433.9" r="4.1"/><circle cx="302.0" cy="434.9" r="4.1"/><circle cx="302.4" cy="435.1" r="4.1"/><circle cx="303.0" cy="434.6" r="4.1"/><circle cx="303.9" cy="435.8" r="4.1"/><circle cx="304.1" cy="434.1" r="4.1"/><circle cx="304.9" cy="433.3" r="4.1"/><circle cx="305.3" cy="434.2" r="4.1"/><circle cx="306.1" cy="435.1" r="4.1"/><circle cx="306.2" cy="433.6" r="4.1"/><circle cx="306.9" cy="434.3" r="4.1"/><circle cx="307.7" cy="434.6" r="4.1"/><circle cx="307.9" cy="434.1" r="4.1"/><circle cx="308.8" cy="432.5" r="4.1"/><circle cx="309.1" cy="434.3" r="4.1"/><circle cx="309.6" cy="433.9" r="4.1"/><circle cx="310.1" cy="433.9" r="4.1"/><circle cx="311.0" cy="435.4" r="4.1"/><circle cx="311.5" cy="434.4" r="4.1"/><circle cx="312.2" cy="434.1" r="4.1"/><circle cx="312.4" cy="435.3" r="4.1"/><circle cx="313.0" cy="433.0" r="4.1"/><circle cx="313.7" cy="434.2" r="4.1"/><circle cx="314.2" cy="434.5" r="4.1"/><circle cx="314.5" cy="433.2" r="4.1"/><circle cx="315.5" cy="432.2" r="4.1"/><circle cx="315.7" cy="432.7" r="4.1"/><circle cx="316.4" cy="435.3" r="4.1"/><circle cx="316.8" cy="434.6" r="4.1"/><circle cx="317.4" cy="432.9" r="4.1"/><circle cx="317.8" cy="433.3" r="4.1"/><circle cx="318.4" cy="434.4" r="4.1"/><circle cx="319.2" cy="433.1" r="4.1"/><circle cx="319.4" cy="432.9" r="4.1"/><circle cx="320.1" cy="432.7" r="4.1"/><circle cx="320.6" cy="432.5" r="4.1"/><circle cx="321.1" cy="432.1" r="4.1"/><circle cx="321.7" cy="432.9" r="4.1"/><circle cx="322.4" cy="432.4" r="4.1"/><circle cx="323.1" cy="432.6" r="4.1"/><circle cx="323.6" cy="432.4" r="4.1"/><circle cx="324.1" cy="433.4" r="4.1"/><circle cx="324.8" cy="432.9" r="4.1"/><circle cx="325.3" cy="431.9" r="4.1"/><circle cx="325.7" cy="433.1" r="4.1"/><circle cx="326.3" cy="432.4" r="4.1"/><circle cx="326.7" cy="432.4" r="4.1"/><circle cx="327.3" cy="432.8" r="4.1"/><circle cx="327.9" cy="430.7" r="4.1"/><circle cx="328.3" cy="431.7" r="4.1"/><circle cx="329.2" cy="432.9" r="4.1"/><circle cx="329.6" cy="432.0" r="4.1"/><circle cx="330.3" cy="433.2" r="4.1"/><circle cx="330.7" cy="431.3" r="4.1"/><circle cx="331.0" cy="430.8" r="4.1"/><circle cx="331.6" cy="430.3" r="4.1"/><circle cx="332.5" cy="430.5" r="4.1"/><circle cx="333.0" cy="431.7" r="4.1"/><circle cx="333.6" cy="430.3" r="4.1"/><circle cx="333.9" cy="431.5" r="4.1"/><circle cx="334.4" cy="430.7" r="4.1"/><circle cx="334.9" cy="430.7" r="4.1"/><circle cx="335.5" cy="430.1" r="4.1"/><circle cx="336.2" cy="429.2" r="4.1"/><circle cx="336.9" cy="432.5" r="4.1"/><circle cx="337.4" cy="429.2" r="4.1"/><circle cx="337.8" cy="428.6" r="4.1"/><circle cx="338.4" cy="428.9" r="4.1"/><circle cx="339.0" cy="429.8" r="4.1"/><circle cx="339.7" cy="430.5" r="4.1"/><circle cx="339.9" cy="430.0" r="4.1"/><circle cx="340.3" cy="429.3" r="4.1"/><circle cx="341.2" cy="428.7" r="4.1"/><circle cx="341.5" cy="430.0" r="4.1"/><circle cx="342.3" cy="429.7" r="4.1"/><circle cx="342.9" cy="430.3" r="4.1"/><circle cx="343.1" cy="430.0" r="4.1"/><circle cx="344.0" cy="429.7" r="4.1"/><circle cx="344.6" cy="429.0" r="4.1"/><circle cx="345.2" cy="429.6" r="4.1"/><circle cx="345.3" cy="429.6" r="4.1"/><circle cx="346.2" cy="429.2" r="4.1"/><circle cx="346.5" cy="427.5" r="4.1"/><circle cx="347.2" cy="429.8" r="4.1"/><circle cx="347.5" cy="428.8" r="4.1"/><circle cx="348.4" cy="427.9" r="4.1"/><circle cx="348.6" cy="430.0" r="4.1"/><circle cx="349.1" cy="428.3" r="4.1"/><circle cx="349.9" cy="428.0" r="4.1"/><circle cx="350.6" cy="428.4" r="4.1"/><circle cx="351.1" cy="429.3" r="4.1"/><circle cx="351.5" cy="428.4" r="4.1"/><circle cx="352.0" cy="427.8" r="4.1"/><circle cx="352.8" cy="428.0" r="4.1"/><circle cx="353.3" cy="428.7" r="4.1"/><circle cx="353.8" cy="426.0" r="4.1"/><circle cx="354.5" cy="427.0" r="4.1"/><circle cx="354.9" cy="427.3" r="4.1"/><circle cx="355.2" cy="428.0" r="4.1"/><circle cx="356.0" cy="427.0" r="4.1"/><circle cx="356.7" cy="428.2" r="4.1"/><circle cx="357.1" cy="426.7" r="4.1"/><circle cx="357.4" cy="426.8" r="4.1"/><circle cx="358.2" cy="426.5" r="4.1"/><circle cx="358.5" cy="427.4" r="4.1"/><circle cx="359.4" cy="427.0" r="4.1"/><circle cx="359.9" cy="426.1" r="4.1"/><circle cx="360.6" cy="426.5" r="4.1"/><circle cx="360.8" cy="426.2" r="4.1"/><circle cx="361.4" cy="425.9" r="4.1"/><circle cx="361.9" cy="427.9" r="4.1"/><circle cx="362.6" cy="426.6" r="4.1"/><circle cx="363.1" cy="425.3" r="4.1"/><circle cx="363.5" cy="425.8" r="4.1"/><circle cx="364.1" cy="426.3" r="4.1"/><circle cx="364.5" cy="425.3" r="4.1"/><circle cx="365.1" cy="427.0" r="4.1"/><circle cx="365.9" cy="425.4" r="4.1"/><circle cx="366.3" cy="427.0" r="4.1"/><circle cx="367.1" cy="425.1" r="4.1"/><circle cx="367.6" cy="425.5" r="4.1"/><circle cx="368.3" cy="425.2" r="4.1"/><circle cx="368.5" cy="425.4" r="4.1"/><circle cx="369.1" cy="424.4" r="4.1"/><circle cx="369.9" cy="425.1" r="4.1"/><circle cx="370.4" cy="425.9" r="4.1"/><circle cx="370.8" cy="424.0" r="4.1"/><circle cx="371.6" cy="424.7" r="4.1"/><circle cx="371.9" cy="425.8" r="4.1"/><circle cx="372.7" cy="424.6" r="4.1"/><circle cx="373.0" cy="425.1" r="4.1"/><circle cx="373.5" cy="423.7" r="4.1"/><circle cx="373.9" cy="424.7" r="4.1"/><circle cx="374.4" cy="423.6" r="4.1"/><circle cx="375.1" cy="423.2" r="4.1"/><circle cx="376.0" cy="424.3" r="4.1"/><circle cx="376.4" cy="423.3" r="4.1"/><circle cx="377.0" cy="422.9" r="4.1"/><circle cx="377.6" cy="423.0" r="4.1"/><circle cx="378.0" cy="424.0" r="4.1"/><circle cx="378.6" cy="422.4" r="4.1"/><circle cx="379.1" cy="422.7" r="4.1"/><circle cx="379.5" cy="423.9" r="4.1"/><circle cx="380.2" cy="423.5" r="4.1"/><circle cx="380.7" cy="424.1" r="4.1"/><circle cx="381.5" cy="423.7" r="4.1"/><circle cx="382.0" cy="422.4" r="4.1"/><circle cx="382.6" cy="421.4" r="4.1"/><circle cx="383.1" cy="422.2" r="4.1"/><circle cx="383.7" cy="422.1" r="4.1"/><circle cx="383.8" cy="422.1" r="4.1"/><circle cx="384.4" cy="422.7" r="4.1"/><circle cx="384.9" cy="421.8" r="4.1"/><circle cx="385.8" cy="421.5" r="4.1"/><circle cx="386.1" cy="422.0" r="4.1"/><circle cx="387.0" cy="421.4" r="4.1"/><circle cx="387.3" cy="421.1" r="4.1"/><circle cx="387.9" cy="420.1" r="4.1"/><circle cx="388.4" cy="420.4" r="4.1"/><circle cx="389.0" cy="421.0" r="4.1"/><circle cx="389.5" cy="420.3" r="4.1"/><circle cx="390.1" cy="421.5" r="4.1"/><circle cx="390.5" cy="418.9" r="4.1"/><circle cx="391.2" cy="420.1" r="4.1"/><circle cx="391.5" cy="420.1" r="4.1"/><circle cx="392.3" cy="418.1" r="4.1"/><circle cx="392.6" cy="419.4" r="4.1"/><circle cx="393.3" cy="420.3" r="4.1"/><circle cx="393.9" cy="419.2" r="4.1"/><circle cx="394.5" cy="418.8" r="4.1"/><circle cx="394.8" cy="418.6" r="4.1"/><circle cx="395.3" cy="418.5" r="4.1"/><circle cx="396.1" cy="419.4" r="4.1"/><circle cx="396.8" cy="417.4" r="4.1"/><circle cx="397.3" cy="418.1" r="4.1"/><circle cx="397.8" cy="418.1" r="4.1"/><circle cx="398.5" cy="418.6" r="4.1"/><circle cx="398.9" cy="417.9" r="4.1"/><circle cx="399.3" cy="417.0" r="4.1"/><circle cx="399.9" cy="416.5" r="4.1"/><circle cx="400.3" cy="416.4" r="4.1"/><circle cx="401.0" cy="417.0" r="4.1"/><circle cx="401.8" cy="416.7" r="4.1"/><circle cx="402.3" cy="415.6" r="4.1"/><circle cx="402.6" cy="415.7" r="4.1"/><circle cx="403.1" cy="414.6" r="4.1"/><circle cx="403.7" cy="416.4" r="4.1"/><circle cx="404.4" cy="415.3" r="4.1"/><circle cx="404.9" cy="414.6" r="4.1"/><circle cx="405.5" cy="414.8" r="4.1"/><circle cx="405.8" cy="414.7" r="4.1"/><circle cx="406.6" cy="413.2" r="4.1"/><circle cx="407.3" cy="414.9" r="4.1"/><circle cx="407.8" cy="412.5" r="4.1"/><circle cx="408.1" cy="414.1" r="4.1"/><circle cx="408.9" cy="414.4" r="4.1"/><circle cx="409.3" cy="413.4" r="4.1"/><circle cx="410.0" cy="413.3" r="4.1"/><circle cx="410.6" cy="412.7" r="4.1"/><circle cx="411.0" cy="411.4" r="4.1"/><circle cx="411.7" cy="413.4" r="4.1"/><circle cx="412.1" cy="412.3" r="4.1"/><circle cx="412.7" cy="411.6" r="4.1"/><circle cx="413.2" cy="411.5" r="4.1"/><circle cx="413.6" cy="411.7" r="4.1"/><circle cx="414.2" cy="411.7" r="4.1"/><circle cx="414.7" cy="410.3" r="4.1"/><circle cx="415.3" cy="411.4" r="4.1"/><circle cx="415.9" cy="411.0" r="4.1"/><circle cx="416.6" cy="409.6" r="4.1"/><circle cx="417.0" cy="410.0" r="4.1"/><circle cx="417.4" cy="409.5" r="4.1"/><circle cx="418.1" cy="409.8" r="4.1"/><circle cx="418.8" cy="408.8" r="4.1"/><circle cx="419.4" cy="409.6" r="4.1"/><circle cx="419.5" cy="409.3" r="4.1"/><circle cx="420.3" cy="408.8" r="4.1"/><circle cx="420.7" cy="409.4" r="4.1"/><circle cx="421.2" cy="408.6" r="4.1"/><circle cx="421.8" cy="407.3" r="4.1"/><circle cx="422.5" cy="408.3" r="4.1"/><circle cx="422.9" cy="407.3" r="4.1"/><circle cx="423.7" cy="407.7" r="4.1"/><circle cx="424.2" cy="407.0" r="4.1"/><circle cx="424.7" cy="407.3" r="4.1"/><circle cx="425.3" cy="405.8" r="4.1"/><circle cx="425.8" cy="407.0" r="4.1"/><circle cx="426.5" cy="407.5" r="4.1"/><circle cx="427.0" cy="406.9" r="4.1"/><circle cx="427.6" cy="405.6" r="4.1"/><circle cx="428.0" cy="406.6" r="4.1"/><circle cx="428.4" cy="405.0" r="4.1"/><circle cx="429.3" cy="405.8" r="4.1"/><circle cx="429.7" cy="406.6" r="4.1"/><circle cx="430.0" cy="404.6" r="4.1"/><circle cx="430.7" cy="404.3" r="4.1"/><circle cx="431.4" cy="405.5" r="4.1"/><circle cx="431.9" cy="404.8" r="4.1"/><circle cx="432.3" cy="404.7" r="4.1"/><circle cx="432.9" cy="405.2" r="4.1"/><circle cx="433.3" cy="403.2" r="4.1"/><circle cx="434.0" cy="403.6" r="4.1"/><circle cx="434.5" cy="405.1" r="4.1"/><circle cx="435.0" cy="403.2" r="4.1"/><circle cx="435.9" cy="404.3" r="4.1"/><circle cx="436.5" cy="403.1" r="4.1"/><circle cx="436.8" cy="402.9" r="4.1"/><circle cx="437.5" cy="400.8" r="4.1"/><circle cx="437.9" cy="401.0" r="4.1"/><circle cx="438.3" cy="399.2" r="4.1"/><circle cx="439.1" cy="401.3" r="4.1"/><circle cx="439.8" cy="400.4" r="4.1"/><circle cx="440.2" cy="399.7" r="4.1"/><circle cx="440.6" cy="399.0" r="4.1"/><circle cx="441.4" cy="399.5" r="4.1"/><circle cx="441.7" cy="397.9" r="4.1"/><circle cx="442.3" cy="397.7" r="4.1"/><circle cx="442.6" cy="396.4" r="4.1"/><circle cx="443.4" cy="395.9" r="4.1"/><circle cx="443.8" cy="396.5" r="4.1"/><circle cx="444.7" cy="397.8" r="4.1"/><circle cx="444.9" cy="395.1" r="4.1"/><circle cx="445.4" cy="396.9" r="4.1"/><circle cx="445.9" cy="395.6" r="4.1"/><circle cx="446.7" cy="395.4" r="4.1"/><circle cx="447.3" cy="395.3" r="4.1"/><circle cx="447.9" cy="394.9" r="4.1"/><circle cx="448.4" cy="394.2" r="4.1"/><circle cx="448.8" cy="393.3" r="4.1"/><circle cx="449.2" cy="393.8" r="4.1"/><circle cx="450.1" cy="394.2" r="4.1"/><circle cx="450.5" cy="395.2" r="4.1"/><circle cx="450.9" cy="393.4" r="4.1"/><circle cx="451.7" cy="392.7" r="4.1"/><circle cx="452.1" cy="391.2" r="4.1"/><circle cx="452.7" cy="392.9" r="4.1"/><circle cx="453.3" cy="394.0" r="4.1"/><circle cx="453.7" cy="392.1" r="4.1"/><circle cx="454.5" cy="393.5" r="4.1"/><circle cx="455.1" cy="393.8" r="4.1"/><circle cx="455.6" cy="392.3" r="4.1"/><circle cx="456.0" cy="391.6" r="4.1"/><circle cx="456.4" cy="392.5" r="4.1"/><circle cx="457.1" cy="391.9" r="4.1"/><circle cx="457.6" cy="391.6" r="4.1"/><circle cx="458.1" cy="391.2" r="4.1"/><circle cx="458.6" cy="392.1" r="4.1"/><circle cx="459.2" cy="393.7" r="4.1"/><circle cx="460.1" cy="391.7" r="4.1"/><circle cx="460.7" cy="390.5" r="4.1"/><circle cx="461.2" cy="391.7" r="4.1"/><circle cx="461.5" cy="392.9" r="4.1"/><circle cx="462.2" cy="391.1" r="4.1"/><circle cx="462.5" cy="391.8" r="4.1"/><circle cx="463.3" cy="390.9" r="4.1"/><circle cx="463.9" cy="390.2" r="4.1"/><circle cx="464.3" cy="391.6" r="4.1"/><circle cx="464.8" cy="390.4" r="4.1"/><circle cx="465.2" cy="389.8" r="4.1"/><circle cx="466.0" cy="388.7" r="4.1"/><circle cx="466.4" cy="389.0" r="4.1"/><circle cx="467.1" cy="390.5" r="4.1"/><circle cx="467.8" cy="389.3" r="4.1"/><circle cx="468.0" cy="390.6" r="4.1"/><circle cx="468.5" cy="389.6" r="4.1"/><circle cx="469.3" cy="388.6" r="4.1"/><circle cx="470.0" cy="389.5" r="4.1"/><circle cx="470.1" cy="388.4" r="4.1"/><circle cx="470.7" cy="388.8" r="4.1"/><circle cx="471.3" cy="387.6" r="4.1"/><circle cx="472.2" cy="386.3" r="4.1"/><circle cx="472.6" cy="387.7" r="4.1"/><circle cx="473.0" cy="387.5" r="4.1"/><circle cx="473.7" cy="387.2" r="4.1"/><circle cx="474.1" cy="387.2" r="4.1"/><circle cx="474.8" cy="387.4" r="4.1"/><circle cx="475.2" cy="386.8" r="4.1"/><circle cx="475.7" cy="385.6" r="4.1"/><circle cx="476.3" cy="386.7" r="4.1"/><circle cx="477.1" cy="385.5" r="4.1"/><circle cx="477.7" cy="385.5" r="4.1"/><circle cx="477.9" cy="385.8" r="4.1"/><circle cx="478.5" cy="384.7" r="4.1"/><circle cx="478.9" cy="385.4" r="4.1"/><circle cx="479.7" cy="382.9" r="4.1"/><circle cx="480.1" cy="383.2" r="4.1"/><circle cx="480.6" cy="383.9" r="4.1"/><circle cx="481.1" cy="383.4" r="4.1"/><circle cx="482.1" cy="383.1" r="4.1"/><circle cx="482.2" cy="382.2" r="4.1"/><circle cx="482.8" cy="384.0" r="4.1"/><circle cx="483.6" cy="383.1" r="4.1"/><circle cx="484.1" cy="380.0" r="4.1"/><circle cx="484.9" cy="380.7" r="4.1"/><circle cx="485.0" cy="381.2" r="4.1"/><circle cx="485.5" cy="379.2" r="4.1"/><circle cx="486.5" cy="379.4" r="4.1"/><circle cx="487.0" cy="378.8" r="4.1"/><circle cx="487.3" cy="380.6" r="4.1"/><circle cx="487.7" cy="378.3" r="4.1"/><circle cx="488.4" cy="378.1" r="4.1"/><circle cx="489.2" cy="379.0" r="4.1"/><circle cx="489.6" cy="377.7" r="4.1"/><circle cx="490.1" cy="376.6" r="4.1"/><circle cx="490.7" cy="376.4" r="4.1"/><circle cx="491.3" cy="376.7" r="4.1"/><circle cx="492.0" cy="376.1" r="4.1"/><circle cx="492.3" cy="375.4" r="4.1"/><circle cx="492.8" cy="373.9" r="4.1"/><circle cx="493.4" cy="376.7" r="4.1"/><circle cx="494.1" cy="375.8" r="4.1"/><circle cx="494.6" cy="374.8" r="4.1"/><circle cx="494.9" cy="374.2" r="4.1"/><circle cx="495.8" cy="373.5" r="4.1"/><circle cx="496.1" cy="373.1" r="4.1"/><circle cx="496.8" cy="373.9" r="4.1"/><circle cx="497.1" cy="373.1" r="4.1"/><circle cx="497.8" cy="373.1" r="4.1"/><circle cx="498.4" cy="372.9" r="4.1"/><circle cx="499.1" cy="372.5" r="4.1"/><circle cx="499.7" cy="370.4" r="4.1"/><circle cx="500.3" cy="370.9" r="4.1"/><circle cx="500.4" cy="370.9" r="4.1"/><circle cx="501.1" cy="371.9" r="4.1"/><circle cx="501.6" cy="370.8" r="4.1"/><circle cx="502.1" cy="370.1" r="4.1"/><circle cx="502.6" cy="370.3" r="4.1"/><circle cx="503.5" cy="369.7" r="4.1"/><circle cx="504.0" cy="369.2" r="4.1"/><circle cx="504.4" cy="367.4" r="4.1"/><circle cx="504.8" cy="367.9" r="4.1"/><circle cx="505.7" cy="368.3" r="4.1"/><circle cx="506.1" cy="366.9" r="4.1"/><circle cx="506.5" cy="368.8" r="4.1"/><circle cx="507.4" cy="368.6" r="4.1"/><circle cx="507.8" cy="367.1" r="4.1"/><circle cx="508.1" cy="366.4" r="4.1"/><circle cx="509.0" cy="366.4" r="4.1"/><circle cx="509.3" cy="367.1" r="4.1"/><circle cx="509.9" cy="364.9" r="4.1"/><circle cx="510.5" cy="364.4" r="4.1"/><circle cx="511.1" cy="363.7" r="4.1"/><circle cx="511.6" cy="364.4" r="4.1"/><circle cx="512.1" cy="364.4" r="4.1"/><circle cx="512.9" cy="363.7" r="4.1"/><circle cx="513.2" cy="362.9" r="4.1"/><circle cx="514.0" cy="361.4" r="4.1"/><circle cx="514.3" cy="360.7" r="4.1"/><circle cx="514.8" cy="360.8" r="4.1"/><circle cx="515.5" cy="360.6" r="4.1"/><circle cx="516.2" cy="359.8" r="4.1"/><circle cx="516.5" cy="359.9" r="4.1"/><circle cx="517.1" cy="359.3" r="4.1"/><circle cx="517.8" cy="357.9" r="4.1"/><circle cx="518.3" cy="358.0" r="4.1"/><circle cx="518.5" cy="358.5" r="4.1"/><circle cx="519.4" cy="356.0" r="4.1"/><circle cx="519.7" cy="358.0" r="4.1"/><circle cx="520.5" cy="356.6" r="4.1"/><circle cx="520.8" cy="356.4" r="4.1"/><circle cx="521.3" cy="355.8" r="4.1"/><circle cx="522.0" cy="354.7" r="4.1"/><circle cx="522.7" cy="355.3" r="4.1"/><circle cx="523.1" cy="353.6" r="4.1"/><circle cx="523.6" cy="353.8" r="4.1"/><circle cx="524.2" cy="353.3" r="4.1"/><circle cx="524.9" cy="352.0" r="4.1"/><circle cx="525.3" cy="352.2" r="4.1"/><circle cx="525.9" cy="351.7" r="4.1"/><circle cx="526.6" cy="350.4" r="4.1"/><circle cx="526.8" cy="350.6" r="4.1"/><circle cx="527.6" cy="349.5" r="4.1"/><circle cx="527.9" cy="348.9" r="4.1"/><circle cx="528.6" cy="349.0" r="4.1"/><circle cx="529.2" cy="348.8" r="4.1"/><circle cx="529.8" cy="348.5" r="4.1"/><circle cx="530.2" cy="349.9" r="4.1"/><circle cx="531.0" cy="347.2" r="4.1"/><circle cx="531.3" cy="347.5" r="4.1"/><circle cx="532.2" cy="347.1" r="4.1"/><circle cx="532.3" cy="348.0" r="4.1"/><circle cx="533.2" cy="347.1" r="4.1"/><circle cx="533.8" cy="346.2" r="4.1"/><circle cx="534.0" cy="346.7" r="4.1"/><circle cx="534.8" cy="346.8" r="4.1"/><circle cx="535.3" cy="344.5" r="4.1"/><circle cx="535.6" cy="344.9" r="4.1"/><circle cx="536.1" cy="343.5" r="4.1"/><circle cx="537.1" cy="343.4" r="4.1"/><circle cx="537.4" cy="344.0" r="4.1"/><circle cx="537.8" cy="344.0" r="4.1"/><circle cx="538.3" cy="344.5" r="4.1"/><circle cx="539.0" cy="345.4" r="4.1"/><circle cx="539.5" cy="344.3" r="4.1"/><circle cx="540.2" cy="342.5" r="4.1"/><circle cx="540.7" cy="343.2" r="4.1"/><circle cx="541.3" cy="342.7" r="4.1"/><circle cx="541.9" cy="342.5" r="4.1"/><circle cx="542.5" cy="341.6" r="4.1"/><circle cx="543.0" cy="341.7" r="4.1"/></g>
</g>
<rect x="63.5" y="260.25" width="621.0" height="211.10000000000002" fill="none" stroke="#6e6e6e" stroke-width="1"/>
<g stroke="#1a1a1a" stroke-width="1.2"><line x1="59.4" x2="63.0" y1="208.50" y2="208.50"/><line x1="59.4" x2="63.0" y1="164.00" y2="164.00"/><line x1="59.4" x2="63.0" y1="119.50" y2="119.50"/><line x1="59.4" x2="63.0" y1="75.00" y2="75.00"/><line x1="59.4" x2="63.0" y1="30.50" y2="30.50"/></g><g font-size="12.1" fill="#151515" stroke="#151515" stroke-width="0.2" text-anchor="end"><text x="56.1" y="212.90">200</text><text x="56.1" y="168.40">400</text><text x="56.1" y="123.90">600</text><text x="56.1" y="79.40">800</text><text x="56.1" y="34.90">1000</text></g>
<g stroke="#1a1a1a" stroke-width="1.2"><line x1="59.4" x2="63.0" y1="445.80" y2="445.80"/><line x1="59.4" x2="63.0" y1="401.30" y2="401.30"/><line x1="59.4" x2="63.0" y1="356.80" y2="356.80"/><line x1="59.4" x2="63.0" y1="312.30" y2="312.30"/><line x1="59.4" x2="63.0" y1="267.80" y2="267.80"/></g><g font-size="12.1" fill="#151515" stroke="#151515" stroke-width="0.2" text-anchor="end"><text x="56.1" y="450.20">200</text><text x="56.1" y="405.70">400</text><text x="56.1" y="361.20">600</text><text x="56.1" y="316.70">800</text><text x="56.1" y="272.20">1000</text></g>
<g stroke="#1a1a1a" stroke-width="1.2"><line y1="471.85" y2="475.6" x1="143.00" x2="143.00"/><line y1="471.85" y2="475.6" x1="245.78" x2="245.78"/><line y1="471.85" y2="475.6" x1="348.56" x2="348.56"/><line y1="471.85" y2="475.6" x1="451.34" x2="451.34"/><line y1="471.85" y2="475.6" x1="554.12" x2="554.12"/><line y1="471.85" y2="475.6" x1="656.90" x2="656.90"/></g>
<g font-size="12.4" fill="#151515" stroke="#151515" stroke-width="0.2" text-anchor="end"><text transform="translate(147.80,479.7) rotate(-90)">500,000</text><text transform="translate(250.58,479.7) rotate(-90)">600,000</text><text transform="translate(353.36,479.7) rotate(-90)">700,000</text><text transform="translate(456.14,479.7) rotate(-90)">800,000</text><text transform="translate(558.92,479.7) rotate(-90)">900,000</text><text transform="translate(661.70,479.7) rotate(-90)">1,000,000</text></g>
<rect x="72.3" y="33.20" width="5.6" height="5.6" fill="#FBA6C4" stroke="#5a444f" stroke-width="0.8"/><text x="92.6" y="40.05" font-size="10.67" stroke="#000" stroke-width="0.12">CMU</text><rect x="72.3" y="49.75" width="5.6" height="5.6" fill="#FBA36A" stroke="#5a4a40" stroke-width="0.8"/><text x="92.6" y="56.60" font-size="10.67" stroke="#000" stroke-width="0.12">EVDU</text><rect x="72.3" y="66.30" width="5.6" height="5.6" fill="#8FD08F" stroke="#445a44" stroke-width="0.8"/><text x="92.6" y="73.15" font-size="10.67" stroke="#000" stroke-width="0.12">HMPU</text><rect x="72.3" y="82.85" width="5.6" height="5.6" fill="#9FD8FA" stroke="#44515a" stroke-width="0.8"/><text x="92.6" y="89.70" font-size="10.67" stroke="#000" stroke-width="0.12">Total</text>
<rect x="72.3" y="271.10" width="5.6" height="5.6" fill="#D861B3" stroke="#4a2a40" stroke-width="0.8"/><text x="92.6" y="277.95" font-size="10.67" stroke="#000" stroke-width="0.12">CMU</text><rect x="72.3" y="287.65" width="5.6" height="5.6" fill="#D93636" stroke="#4a2525" stroke-width="0.8"/><text x="92.6" y="294.50" font-size="10.67" stroke="#000" stroke-width="0.12">EVDU</text><rect x="72.3" y="304.20" width="5.6" height="5.6" fill="#56A278" stroke="#2a4a38" stroke-width="0.8"/><text x="92.6" y="311.05" font-size="10.67" stroke="#000" stroke-width="0.12">HMPU</text><rect x="72.3" y="320.75" width="5.6" height="5.6" fill="#16165E" stroke="#1a1a3a" stroke-width="0.8"/><text x="92.6" y="327.60" font-size="10.67" stroke="#000" stroke-width="0.12">Total</text>
<text x="357.2" y="14.6" font-size="19.6" font-weight="bold" letter-spacing="0.5">(a)</text>
<text x="357.2" y="252.6" font-size="19.6" font-weight="bold" letter-spacing="0.5">(b)</text>
<text x="310.9" y="554.9" font-size="15.8" stroke="#000" stroke-width="0.15">Flooded area (m<tspan font-size="11.2" dy="-8.6">2</tspan><tspan dy="8.6">)</tspan></text>
<text transform="translate(16.3,286.6) rotate(-90)" font-size="15.8" stroke="#000" stroke-width="0.15">Q<tspan font-size="10.5" dy="2.9">peak</tspan><tspan dy="-2.9"> (m</tspan><tspan font-size="11.2" dy="-8.2">3</tspan><tspan dy="8.2">/s)</tspan></text>
</svg></body></html>
